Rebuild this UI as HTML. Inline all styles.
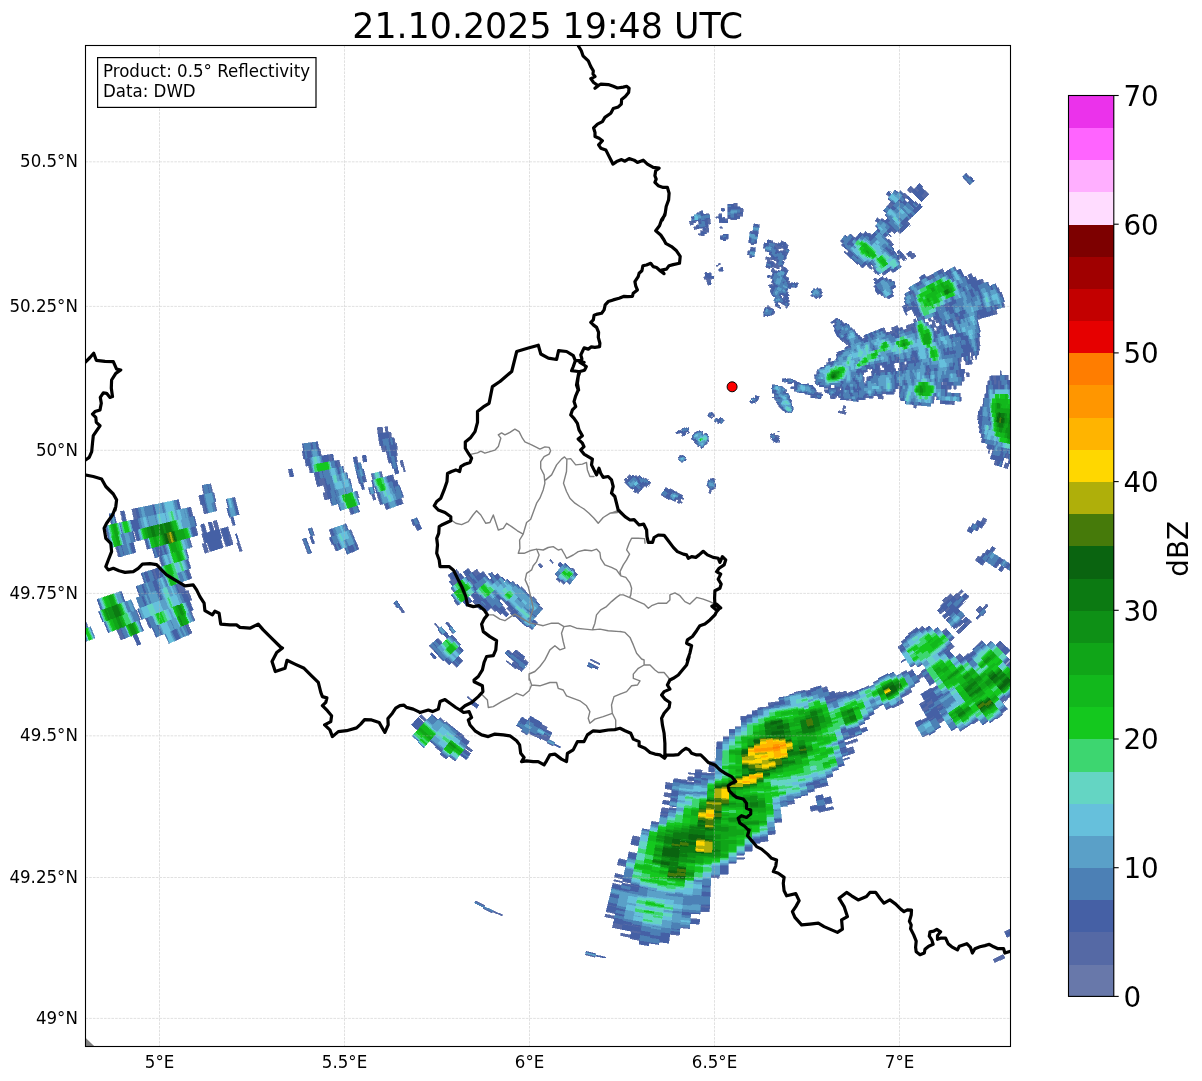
<!DOCTYPE html>
<html lang="en"><head><meta charset="utf-8"><title>0.5° Reflectivity 21.10.2025 19:48 UTC</title>
<style>html,body{margin:0;padding:0;background:#fff}svg{display:block}text{font-family:"DejaVu Sans","Liberation Sans",sans-serif;fill:#000}</style></head>
<body>
<div style="will-change:transform;width:1202px;height:1081px">
<svg width="1202" height="1081" viewBox="0 0 1202 1081">
<rect width="1202" height="1081" fill="#fff"/>
<defs><clipPath id="ax"><rect x="85.5" y="45.5" width="925" height="1001"/></clipPath></defs>
<g clip-path="url(#ax)">
<g id="radar" shape-rendering="crispEdges">
<path fill="#5569A5" stroke="#5569A5" stroke-width="0.6" d="M730.8 219.9l2.9 0 0-1.3-2.9 0zM733.7 219.9l2.9 0 .1-1.3-3 0zM733.8 206.9l3.2 0 .1-3.9-3.2 0zM736.7 218.6l2.9.1.1-1.3-3-.1zM736.8 216l2.9.1.2-2.6-3.1-.1zM739.7 216.1l3 .2.2-2.6-3-.2zM739.9 212.2l3.1.2.2-3.9-3.1-.2zM747.4 254.6l2.3.2.2-1.2-2.3-.3zM747.7 252l2.4.3.1-1.3-2.4-.3zM749.9 232.6l2.7.3.2-1.3-2.7-.3zM749.4 257.4l2.2.3.2-1.2-2.2-.4zM750.4 249.7l2.4.3.4-2.5-2.5-.4zM751.1 244.5l2.5.4.2-1.3-2.5-.4zM753.8 243.6l2.5.4.2-1.3-2.5-.4zM756.5 225.6l2.8.4.2-1.2-2.8-.5zM763.2 248l2.4.5.3-1.2-2.4-.6zM765 251.1l2.4.6.3-1.3-2.4-.6zM765.4 259.2l2.3.6.7-2.5-2.3-.6zM770 241.6l2.5.7.4-1.3-2.6-.7zM765.6 267.3l2.1.6.3-1.2-2.1-.6zM767 262.3l2.1.6 1.5-4.9-2.2-.7zM772.2 243.5l2.5.8.4-1.3-2.6-.7zM767.7 267.9l2 .7.4-1.3-2.1-.6zM769.5 261.7l2.2.7.4-1.3-2.2-.6zM770.3 259.2l2.2.7.8-2.5-2.3-.7zM773.9 246.7l2.5.8 1.2-3.7-2.5-.8zM770.1 267.3l2.1.7.4-1.2-2.1-.7zM771.7 262.4l2.2.7.4-1.3-2.2-.7zM772.5 259.9l2.2.7.4-1.2-2.2-.7zM775.6 250l2.4.8 1.7-5-2.5-.8zM777.6 243.8l2.5.8.4-1.2-2.5-.9zM769.3 276.6l2 .7.4-1.2-2-.7zM771 271.7l2 .7 1.3-3.7-2.1-.7zM772.6 266.8l2.1.7 1.3-3.7-2.1-.7zM774.7 260.6l2.2.8.9-2.5-2.3-.7zM777.6 252l2.4.8.4-1.2-2.4-.8zM778.8 248.3l2.5.8.8-2.4-2.4-.9zM780.9 242.1l2.5.9.5-1.2-2.6-.9zM768.2 285.9l1.8.6.4-1.2-1.7-.7zM770.8 278.5l1.9.7.5-1.2-1.9-.7zM773.4 271.2l2.1.7.4-1.2-2-.8zM774.7 267.5l2.1.8 1.8-4.9-2.1-.8zM780.4 251.6l2.3.8.5-1.2-2.4-.9zM781.7 247.9l2.4.9.5-1.2-2.5-.9zM770.4 285.3l1.8.7.5-1.2-1.8-.7zM771.4 282.9l1.8.7.5-1.3-1.9-.7zM775.5 271.9l2 .8.4-1.2-2-.8zM776.8 268.3l2.1.8 1.4-3.7-2.1-.8zM783.2 251.2l2.4.9.9-2.4-2.4-.9zM785 246.3l2.5 1 .9-2.4-2.5-1zM769.8 292l1.7.7 1.5-3.6-1.7-.7zM772.2 286l1.8.7 1-2.4-1.8-.7zM779.9 266.6l2.1.9.4-1.2-2.1-.9zM782.7 259.4l2.2.9.5-1.2-2.2-.9zM784.6 254.5l2.3 1 1-2.4-2.3-1zM763 313.1l1.3.5 1.1-2.4-1.4-.5zM765 308.3l1.4.6.5-1.2-1.4-.6zM781 269.9l2 .9 1.6-3.6-2.2-.9zM763.3 316l1.2.5.6-1.1-1.3-.6zM766.9 307.7l1.4.6 1.1-2.4-1.4-.6zM768.3 308.3l1.4.6.5-1.2-1.4-.6zM784.5 272.8l2 1 .5-1.2-2-.9zM785.6 270.5l2 .9.6-1.1-2.1-1zM769.7 308.9l1.3.7.6-1.2-1.4-.7zM784.8 277.3l1.9.9.6-1.1-1.9-1zM786.7 278.2l1.9 1 .6-1.2-1.9-.9zM772.4 310.3l1.3.7.7-1.2-1.4-.7zM774.8 305.7l1.4.7.6-1.1-1.4-.8zM779.6 296.5l1.6.8.6-1.1-1.6-.9zM786.8 282.6l1.8 1 1.3-2.3-1.9-1zM771.9 314.4l1.2.7 2-3.4-1.4-.7zM776.2 306.4l1.4.8.7-1.1-1.5-.8zM780.6 298.4l1.5.9.6-1.1-1.5-.9zM782.4 295l1.6.9.7-1.1-1.7-.9zM788.6 283.6l1.8 1 .7-1.1-1.9-1zM778.3 306.1l1.4.8.6-1.1-1.4-.9zM780.2 302.7l1.5.8.6-1.1-1.5-.8zM782.1 299.3l1.5.9 2-3.4-1.6-.9zM785.9 292.5l1.7 1 .7-1.1-1.7-1zM788.5 288l1.7 1 .7-1.1-1.8-1zM779 308l1.4.8.7-1.1-1.4-.8zM781.7 303.5l1.4.9.7-1.1-1.5-.9zM786.9 294.6l1.6 1 .7-1.1-1.6-1zM793.5 283.4l1.8 1.1.7-1.1-1.8-1.1zM783.1 304.4l1.4.9.7-1.1-1.4-.9zM787.2 297.8l1.5.9.7-1-1.5-1zM796 283.4l1.8 1.1.7-1.1-1.8-1.1zM785.3 307.3l1.3 1 .8-1.1-1.4-1zM787.4 304.1l1.5.9.7-1-1.5-1zM840.4 241.3l2.6 1.9.8-1-2.6-2zM841.4 245.3l2.5 1.9.8-1-2.5-2zM852 237l2.6 2.1.8-1-2.6-2.1zM886 194.2l3.4 2.8.8-1-3.3-2.8zM843.8 252.2l2.3 1.9.9-.9-2.4-2zM846.3 249.2l2.4 2 .8-1-2.4-2zM859.5 233.1l2.7 2.3.8-1-2.6-2.3zM810.6 295.6l1.6 1.4.9-1-1.6-1.4zM847.8 252.2l2.4 2 .8-1-2.3-2zM864.7 232.4l2.7 2.3.9-.9-2.7-2.4zM874.9 220.5l2.9 2.5.8-.9-2.9-2.6zM876.6 218.5l2.9 2.6.9-1-3-2.5zM887.6 205.7l3.1 2.7 3.5-3.9-3.2-2.8zM868.3 233.8l2.6 2.4.9-1-2.6-2.4zM881.2 219.1l2.9 2.7.9-1-2.9-2.6zM884.7 215.2l3 2.7.9-.9-3-2.7zM902 195.7l3.3 3 2.6-2.8-3.3-3.1zM907.2 189.9l3.4 3.1 3.5-3.9-3.5-3.1zM814.7 297.5l1.5 1.4.9-.9-1.5-1.5zM819.9 291.7l1.7 1.6.9-1-1.7-1.5zM911.5 192l3.3 3.2.9-1-3.4-3.1zM914.1 189.1l3.4 3.2 1.8-1.9-3.4-3.2zM918.5 184.3l3.5 3.3.9-.9-3.5-3.3zM818 297l1.6 1.5.9-.9-1.6-1.5zM819.8 295.1l1.6 1.6.9-.9-1.6-1.6zM921.1 188.6l3.5 3.3.9-.9-3.5-3.4zM855.1 262.4l2.2 2.2.9-.9-2.2-2.2zM889.8 227.2l2.8 2.8.9-1-2.8-2.7zM914.5 202.1l3.2 3.2.9-.9-3.2-3.2zM920.9 195.6l3.3 3.3 4.7-4.5-3.4-3.4zM887.9 234.5l2.7 2.8.9-.9-2.6-2.8zM891.7 230.9l2.7 2.8 1.9-1.8-2.8-2.9zM860.4 265.9l2.1 2.2.9-.8-2.1-2.3zM887.7 239.9l2.6 2.8 1-.9-2.6-2.8zM897.2 231l2.7 2.9 1-.9-2.8-2.9zM905.7 222.9l2.8 3.1 2-1.8-2.9-3.1zM866.3 264.6l2.1 2.4 1-.9-2.1-2.3zM889.3 243.6l2.5 2.7 2-1.7-2.5-2.8zM965.3 174.1l3.7 4.1.9-.9-3.6-4.1zM868.4 267l2.1 2.4 2-1.7-2.1-2.4zM871.3 264.4l2.2 2.5.9-.9-2.1-2.4zM966 180.8l3.6 4.1 1-.9-3.6-4.1zM872.5 267.7l2 2.5 1-.9-2-2.4zM873.5 271l2 2.5 1-.8-2-2.5zM896.6 252l2.4 2.9 1-.8-2.4-2.9zM898.6 250.3l2.4 3 1-.8-2.4-3zM901 253.3l2.3 2.9 1-.8-2.3-2.9zM873.4 279.2l1.8 2.4 2.1-1.5-1.9-2.5zM881.6 272.8l2 2.7 2.1-1.6-2-2.6zM901.2 257.8l2.3 3 3.1-2.3-2.3-3.1zM906.4 253.9l2.3 3 1-.8-2.3-3zM908.5 252.3l2.3 3.1 2.1-1.6-2.4-3.1zM881.5 277l1.9 2.6 1.1-.7-2-2.7zM890.9 270.1l2 2.7 1.1-.7-2-2.8zM909.7 256.1l2.3 3.2 4.2-3.1-2.3-3.2zM873.9 286.4l1.7 2.5 1.1-.7-1.8-2.5zM885.5 278.1l1.9 2.7 1.1-.7-1.9-2.7zM889.5 279.3l1.9 2.8 1.1-.7-1.9-2.8zM830.7 322.2l1.1 1.7 1.1-.7-1.1-1.7zM832.9 320.8l1.1 1.7 1.1-.7-1.2-1.7zM836.1 318.6l1.2 1.9 1.1-.7-1.2-1.9zM876.2 292.1l1.6 2.6 1.1-.7-1.6-2.6zM834 322.5l1.1 1.8 1.1-.7-1.1-1.8zM880 293.3l1.6 2.6 1.2-.7-1.7-2.6zM832.9 325.7l1.1 1.7 1.1-.6-1.1-1.8zM840.7 320.9l1.1 1.9 1.1-.6-1.1-1.9zM882.8 295.2l1.5 2.6 1.2-.6-1.6-2.7zM841.8 322.8l1.1 2 1.1-.7-1.1-1.9zM886.6 296.5l1.5 2.7 1.2-.6-1.6-2.8zM891.1 293.9l1.6 2.8 1.1-.7-1.6-2.8zM919.1 277.4l1.8 3.3 1.2-.7-1.9-3.3zM923.6 274.8l1.9 3.3 1.1-.6-1.9-3.4zM908.5 287.7l1.7 3.1 1.1-.6-1.7-3.1zM917.6 282.6l1.7 3.2 2.3-1.2-1.8-3.3zM927.7 276.8l1.9 3.5 4.6-2.5-1.9-3.5zM940.2 269.8l2 3.7 2.3-1.3-2-3.7zM910.2 290.8l1.7 3.1 1.1-.6-1.7-3.1zM946.8 271l2 3.7 1.1-.6-2-3.7zM953.6 267.3l2.1 3.8 1.1-.6-2-3.9zM911.9 293.9l1.5 3.2 2.4-1.2-1.6-3.2zM948.8 274.7l1.9 3.8 1.1-.5-1.9-3.9zM850.7 328.3l1 2.1 1.1-.6-1-2.1zM852.8 329.8l1 2.1 1.2-.5-1-2.1zM902.1 306.4l1.4 3 1.1-.6-1.3-3zM905.6 304.7l1.4 3 1.2-.5-1.4-3zM965.5 276.2l1.8 4.1 1.2-.5-1.9-4.1zM967.8 275.1l1.9 4.1 1.2-.5-1.9-4.2zM970.1 274l2 4.1 1.2-.5-2-4.2zM839.6 338.4l.9 1.9 1.2-.5-.9-1.9zM905.8 308.3l1.4 3 3.5-1.5-1.3-3.1zM974.4 277.1l1.9 4.2 1.2-.5-1.9-4.3zM841.7 339.8l.8 1.9 2.4-1-.9-2zM856 333.6l.9 2.1 1.2-.5-1-2.2zM904.8 312.4l1.3 3 1.2-.5-1.3-3.1zM911.9 309.3l1.4 3.1 1.2-.5-1.4-3.2zM979.9 279.8l1.8 4.3 2.4-1-1.8-4.4zM843.7 341.2l.8 1.9 2.4-.9-.8-2zM858.1 335.2l.9 2.2 1.2-.4-.9-2.3zM913.3 312.4l1.2 3.2 1.2-.5-1.2-3.2zM916.9 310.9l1.3 3.2 1.2-.4-1.3-3.3zM845.7 342.7l.7 1.9 2.5-.9-.8-2zM860.2 337l.8 2.2 1.2-.5-.8-2.2zM863.8 335.5l.9 2.3 1.2-.4-.9-2.3zM881.9 328.4l1 2.6 2.4-.9-1-2.6zM915.7 315.1l1.3 3.2 2.4-.9-1.2-3.3zM944.8 303.7l1.4 3.7 3.6-1.4-1.4-3.7zM847.6 344.2l.8 2 1.2-.4-.7-2.1zM862.2 338.7l.9 2.3 2.4-.9-.8-2.3zM870.7 335.6l.9 2.4 1.2-.4-.8-2.5zM884.1 330.6l1 2.6 1.2-.4-1-2.7zM891.4 327.8l1 2.8 6.1-2.1-1-2.9zM913.3 319.7l1.2 3.1 2.4-.8-1.2-3.2zM920.6 316.9l1.2 3.3 2.4-.8-1.2-3.4zM997.3 288.3l1.7 4.7 1.2-.5-1.7-4.6zM844.7 347.5l.7 2 1.2-.4-.7-2zM847.2 346.6l.6 2 2.5-.8-.7-2zM887.5 332.4l1 2.7 7.3-2.5-.9-2.8zM901 327.6l1 3 1.2-.5-1-2.9zM905.9 325.9l1 3 7.4-2.5-1.1-3.1zM927.9 318.1l1.2 3.4 2.5-.8-1.2-3.5zM932.8 316.3l1.2 3.6 1.2-.5-1.2-3.5zM1000.2 292.5l1.6 4.7 1.2-.4-1.6-4.7zM836.8 352.3l.6 1.9 1.2-.4-.6-1.9zM894.6 333l.9 2.9 2.5-.8-.9-2.9zM904.5 329.7l.9 3 6.2-1.9-1-3.1zM913.1 326.9l1 3.1 2.5-.8-1.1-3.2zM926.6 322.3l1.1 3.4 1.3-.4-1.1-3.4zM931.6 320.7l1.1 3.5 2.4-.8-1.1-3.5zM935.2 319.4l1.2 3.6 2.5-.8-1.2-3.6zM938.9 318.2l1.2 3.6 1.2-.4-1.1-3.6zM836.1 354.6l.6 1.8 1.2-.4-.5-1.8zM839.8 353.4l.6 1.9 1.2-.4-.5-1.9zM914.1 330l1 3.2 2.4-.7-.9-3.3zM931.4 324.6l1.1 3.4 3.7-1.1-1.1-3.5zM938.9 322.2l1.1 3.6 1.2-.3-1.1-3.7zM955 317.1l1.1 3.9 3.8-1.1-1.2-3.9zM1002.1 302.3l1.4 4.7 1.2-.3-1.4-4.8zM828 358.9l.4 1.7 2.5-.7-.4-1.7zM936.2 326.9l1 3.6 2.5-.7-1-3.6zM947.4 323.6l1.1 3.8 5-1.4-1.1-3.8zM977.3 314.8l1.2 4.3 2.5-.7-1.2-4.4zM992.3 310.4l1.2 4.5 3.8-1-1.3-4.6zM828.4 360.6l.5 1.7 1.2-.3-.4-1.7zM934.7 331.2l1 3.5 2.5-.6-1-3.6zM944.7 328.4l1 3.7 1.3-.3-1-3.7zM952.2 326.3l1.1 3.9 1.2-.3-1-3.9zM826.4 363l.4 1.6 2.5-.6-.4-1.7zM831.4 361.7l.4 1.7 1.3-.3-.4-1.8zM933.2 335.4l.8 3.5 1.3-.3-.9-3.5zM955.8 329.5l.9 4 1.3-.4-1-3.9zM824.3 365.2l.3 1.6 1.3-.3-.4-1.6zM977.5 337.4l.8 4.3 1.3-.2-.8-4.3zM816.4 371.7l.2 1.5 1.3-.3-.3-1.4zM895.4 357.1l.5 2.8 2.6-.4-.5-2.9zM912 354l.5 3.1 1.3-.2-.5-3.1zM977.1 342l.7 4.2 2.6-.4-.8-4.3zM782.1 378.9l.1.9 1.3-.2-.1-.9zM784.7 378.5l.1.9 1.3-.2-.2-.9zM876.7 363.1l.4 2.5 3.9-.5-.4-2.6zM894.6 360.1l.5 2.9 2.5-.4-.4-2.9zM911.3 357.3l.4 3.2 3.9-.6-.5-3.2zM948.4 351.1l.5 3.8 1.3-.2-.6-3.8zM782.2 379.8l.2.9 1.2-.2-.1-.9zM787.4 379l.1 1 3.9-.5-.2-1zM814.3 375l.2 1.4 1.3-.1-.2-1.5zM868.1 367l.4 2.3 2.5-.3-.3-2.4zM878.4 365.4l.4 2.6 1.2-.2-.3-2.5zM882.2 364.9l.4 2.6 1.3-.2-.4-2.6zM892.5 363.3l.4 2.8 1.3-.1-.4-2.8zM898.9 362.4l.4 2.9 1.3-.2-.4-2.9zM902.8 361.8l.4 3 1.3-.2-.4-3zM914.3 360.1l.5 3.2 1.2-.2-.4-3.2zM968.2 352.1l.6 4.1 1.2-.2-.5-4.1zM970.8 351.7l.5 4.1 2.6-.3-.6-4.2zM977.2 350.7l.6 4.3 1.2-.2-.5-4.3zM782.4 380.7l.1.8 1.3-.1-.2-.9zM865.9 369.7l.3 2.3 1.3-.1-.3-2.4zM872.3 368.8l.3 2.5 1.3-.2-.3-2.4zM878.8 368l.3 2.6 1.2-.2-.3-2.6zM883.9 367.3l.3 2.7 1.3-.2-.3-2.6zM892.9 366.1l.3 2.8 1.3-.1-.3-2.8zM899.3 365.3l.4 2.9 1.3-.1-.4-3zM901.9 365l.3 2.9 5.2-.6-.4-3zM958.5 357.5l.4 4 2.6-.3-.5-4zM963.6 356.8l.5 4.1 1.3-.2-.5-4zM968.8 356.2l.4 4.1 1.3-.2-.5-4.1zM971.3 355.8l.5 4.2 1.3-.1-.5-4.2zM975.2 355.3l.5 4.3 1.3-.2-.5-4.2zM783.8 381.4l.1.9 2.5-.3-.1-.9zM794.1 380.2l.1 1.1 1.3-.1-.2-1.1zM814.7 377.9l.1 1.4 1.3-.1-.1-1.5zM862.3 372.5l.2 2.2 1.3-.1-.2-2.3zM871.3 371.4l.3 2.5 1.3-.2-.3-2.4zM875.2 371l.3 2.5 1.2-.1-.2-2.6zM879.1 370.6l.2 2.5 6.5-.6-.3-2.7zM890.7 369.2l.2 2.8 1.3-.1-.3-2.8zM894.5 368.8l.3 2.8 1.3-.1-.3-2.9zM898.4 368.4l.3 2.9 1.3-.2-.3-2.9zM902.2 367.9l.4 3 2.5-.3-.3-3zM958.9 361.5l.4 3.9 1.3-.1-.4-4zM965.4 360.7l.4 4.1 2.6-.2-.4-4.2zM970.5 360.1l.5 4.2 1.2-.1-.4-4.2zM787.7 381.9l.1 1 1.3-.1-.1-1zM792.9 381.4l.1 1.1 3.8-.3 0-1.1zM871.6 373.9l.2 2.4 1.3-.1-.2-2.5zM927.1 368.5l.3 3.4 2.5-.2-.2-3.4zM959.3 365.4l.4 4 1.3-.1-.4-4zM787.8 382.9l.1 1 3.9-.3-.1-1zM798.1 382.1l.1 1.1 1.3-.1-.1-1.1zM814.9 380.8l.1 1.4 1.3-.1-.1-1.4zM862.7 377l.2 2.3 1.3-.1-.2-2.3zM866.6 376.7l.2 2.3 2.6-.1-.2-2.4zM926.1 372l.2 3.4 2.6-.2-.3-3.4zM957.1 369.6l.2 3.9 2.6-.1-.2-4zM963.5 369.1l.3 4 1.3-.1-.3-4zM772.4 384.8l0 .7 2.6-.1-.1-.8zM794.3 383.5l.1 1 1.3 0-.1-1.1zM815 382.2l.1 1.4 1.3 0-.1-1.5zM862.9 379.3l.1 2.3 1.3-.1-.1-2.3zM957.3 373.5l.2 3.9 2.6-.1-.2-3.9zM966.4 373l.2 4 2.6-.1-.2-4.1zM1000 370.9l.3 4.7 1.3-.1-.3-4.7zM794.4 384.5l0 1.1 1.3 0 0-1.1zM807.3 384l.1 1.3 1.3 0-.1-1.4zM816.4 383.6l.1 1.5 1.2-.1 0-1.5zM863 381.6l.1 2.2 1.3 0-.1-2.3zM865.6 381.4l.1 2.4 1.3-.1-.1-2.3zM904.4 379.7l.1 3 1.3 0-.1-3zM935.5 378.4l.1 3.5 1.3 0-.1-3.6zM962.7 377.2l.1 4 1.3 0-.1-4zM989.9 376l.1 4.5 1.3 0-.1-4.5zM992.5 375.9l.1 4.5 3.9-.1-.1-4.6zM1005.4 375.3l.2 4.8 2.6-.1-.2-4.8zM794.4 385.6l.1 1.1 1.2 0 0-1.1zM819 385l.1 1.5 1.3 0-.1-1.6zM904.5 382.7l.1 3.1 1.3-.1-.1-3zM940.8 381.8l.1 3.6 1.3 0-.1-3.6zM943.4 381.7l.1 3.7 3.8 0 0-3.8zM960.2 381.3l.1 4 1.3 0-.1-4zM987.5 380.6l0 4.4 1.3 0-.1-4.5zM993.9 380.4l.1 4.6 2.6-.1-.1-4.6zM997.8 380.3l.1 4.6 2.6 0-.1-4.7zM1009.5 380l0 4.8 2.6 0 0-4.9zM1013.4 379.9l0 4.9 1.3 0 0-4.9zM793.2 386.7l0 1.1 1.2 0 .1-1.1zM826.8 386.4l0 1.7 1.3 0 0-1.7zM829.4 386.4l0 1.7 1.3 0 0-1.7zM839.8 386.3l0 1.9 2.6 0 0-1.9zM846.3 386.3l0 1.9 1.3.1 0-2.1zM857.9 386.2l0 2.1 1.3.1 0-2.3zM896.8 385.8l0 2.9 1.3 0 0-2.9zM899.4 385.8l0 2.9 1.3 0 0-2.9zM946 385.4l0 3.7 3.9 0 0-3.7zM953.8 385.3l0 3.9 2.6 0 0-3.9zM986.2 385l0 4.5 1.3 0 0-4.5zM997.9 384.9l0 4.7 2.5 0 .1-4.7zM790.6 387.8l-.1 1 5.2.1 0-1.1zM837.2 388.2l0 1.8 2.6.1 0-1.9zM841.1 388.2l0 1.9 1.2 0 .1-1.9zM894.2 388.7l0 2.8 1.2 0 .1-2.8zM899.4 388.7l-.1 2.9 1.3.1.1-3zM946 389.1l0 3.7 1.2.1.1-3.8zM986.2 389.5l-.1 4.4 1.3 0 .1-4.4zM1014.7 389.7l-.1 4.9 1.3.1.1-5zM771.1 388.3l0 .6 1.3.1 0-.7zM794.4 388.9l0 1.1 1.3 0 0-1.1zM815.2 389.4l-.1 1.5 1.3 0 0-1.4zM824.2 389.7l0 1.6 2.5.1.1-1.7zM837.2 390l-.1 1.8 3.9.2.1-1.9zM882.5 391.2l-.1 2.6 3.9.2.1-2.7zM892.9 391.4l-.2 2.8 1.3.1.2-2.8zM958.9 393.2l-.2 3.9 1.3.1.2-4zM772.4 389l-.1.7 1.3.1.1-.7zM785.3 389.6l0 .9 1.3.1 0-1zM794.4 390l-.1 1 1.3.1.1-1.1zM815.1 390.9l-.1 1.4 1.3.1.1-1.5zM825.5 391.3l-.1 1.6 1.3.1 0-1.6zM837.1 391.8l-.1 1.8 1.3.1.1-1.8zM874.6 393.5l-.1 2.4 2.6.2.1-2.5zM881.1 393.7l-.1 2.6 1.3.1.1-2.6zM932.9 396l-.2 3.5 1.3.1.2-3.5zM983.3 398.2l-.2 4.4 1.3 0 .2-4.3zM772.3 389.7l0 .7 2.6.2 0-.7zM785.3 390.5l-.1.9 1.3.1.1-.9zM815 392.3l-.1 1.4 6.5.6.1-1.6zM835.7 393.6l-.1 1.8 1.3.1.1-1.9zM865.4 395.4l-.1 2.3 3.9.3.1-2.4zM871.9 395.8l-.2 2.4 1.3.1.2-2.4zM878.4 396.2l-.2 2.5 5.2.4.1-2.6zM900.4 397.5l-.3 2.9 1.3.1.2-2.9zM932.7 399.5l-.3 3.5 1.3.1.3-3.5zM940.4 400l-.2 3.6 2.5.2.3-3.7zM949.5 400.5l-.3 3.8 5.2.4.2-3.9zM774.9 390.6l-.1.7 1.3.2.1-.8zM783.9 391.3l-.1.9 1.3.1.1-.9zM804.6 392.9l-.1 1.3 1.3.1.1-1.3zM821.4 394.3l-.2 1.5 1.3.1.2-1.5zM830.4 395l-.1 1.7 6.4.6.2-1.8zM838.2 395.6l-.2 1.8 2.6.3.1-1.9zM864 397.6l-.2 2.3 1.3.1.2-2.3zM980.2 406.7l-.4 4.3 1.3.2.4-4.4zM785.1 392.3l-.1 1 1.3.1.1-.9zM810.9 394.8l-.1 1.4 5.1.6.2-1.5zM830.3 396.7l-.2 1.7 2.6.3.1-1.8zM834.1 397l-.2 1.8 1.3.2.2-1.8zM845.7 398.2l-.2 1.9 1.3.2.2-2zM848.3 398.4l-.2 2 1.3.2.2-2.1zM850.9 398.7l-.2 2 1.3.2.2-2.1zM857.3 399.3l-.2 2.2 1.3.1.2-2.2zM914.1 404.7l-.4 3.2 2.6.3.3-3.2zM787.6 393.5l-.1 1 1.3.2.1-1zM810.8 396.2l-.2 1.3 1.3.2.2-1.4zM814.6 396.6l-.1 1.5 2.5.3.2-1.5zM978 415.2l-.5 4.3 1.3.1.5-4.2zM772.1 392.5l-.1.7 1.3.2.1-.7zM774.5 393.6l-.1.7 1.3.2.1-.7zM979.4 424.1l-.7 4.3 1.3.2.7-4.3zM774.4 394.3l-.1.7 1.3.3.1-.8zM788.5 396.6l-.2 1 1.3.3.2-1zM843.4 405.8l-.3 2 2.5.4.4-2zM774.3 395l-.1.8 1.2.2.2-.7zM843.1 407.8l-.4 1.9 1.2.2.4-1.9zM981.7 433.4l-.8 4.3 1.3.3.8-4.4zM774.2 395.8l-.2.7 1.3.3.1-.8zM842.7 409.7l-.4 1.9 2.5.6.4-2zM982.2 438l-1 4.3 1.3.3.9-4.3zM775.3 396.8l-.2.7 1.2.3.2-.8zM790.4 400.1l-.2 1 1.3.3.2-1zM838.5 410.8l-.5 1.8 7.6 1.8.5-2zM987.5 443.7l-1 4.5 1.2.3 1.1-4.5zM992.6 444.9l-1.1 4.5 1.3.3 1-4.6zM772.6 396.9l-.2.7 3.8 1 .1-.8zM790.2 401.1l-.3 1 1.3.4.3-1.1zM989 448.8l-1.1 4.4 1.2.4 1.1-4.5zM992.8 449.7l-1.2 4.5 1.3.3 1.1-4.5zM1006.6 453l-1.2 4.8 2.5.6 1.2-4.8zM774.9 398.3l-.2.7 1.2.3.3-.7zM1009.1 458.7l-1.3 4.8 1.3.4 1.3-4.8zM774.7 399l-.2.7 1.2.4.2-.8zM995.4 460.1l-1.4 4.6 2.5.7 1.3-4.6zM1005.3 462.8l-1.4 4.8 3.7 1.1 1.5-4.8zM758.1 395.9l-.2.4 1.2.4.2-.4zM776.5 402l-.3.8 1.2.4.3-.8zM792.4 407.4l-.3 1 1.2.4.4-1zM755.5 395.5l-.2.4 1.2.4.2-.4zM757.9 396.3l-.2.5 1.3.4.1-.5zM777.4 403.2l-.2.8 1.2.5.3-.8zM757.7 396.8l-.1.4 1.2.5.2-.5zM778.4 404.5l-.3.8 1.2.4.3-.8zM779.3 405.7l-.4.8 1.2.5.4-.8zM755 396.7l-.2.3 1.2.6.2-.5zM757.4 397.6l-.2.5 1.2.5.2-.5zM780.1 407l-.3.9 2.3 1 .4-.9zM790.9 411.5l-.4 1 1.1.5.5-1zM754.8 397l-.1.4 3.5 1.6.2-.4zM782.1 408.9l-.3.9 1.1.5.4-.9zM788.1 411.5l-.5 1 1.2.5.5-1zM755.8 398l-.2.4 2.4 1.1.2-.5zM785.3 411.4l-.4.9 1.1.6.5-1zM754.5 397.8l-.2.4 1.1.6.2-.4zM756.8 398.9l-.2.5 1.2.5.2-.4zM753.1 397.6l-.2.4 1.2.6.2-.4zM983.4 517.7l-2.4 4.4 3.4 1.8 2.4-4.4zM756.2 400.2l-.3.4 1.2.7.2-.5zM977.6 520.2l-2.4 4.3 1.2.6 2.3-4.2zM983.3 523.3l-2.5 4.4 1.2.6 2.4-4.4zM754.8 400l-.2.4 2.2 1.3.3-.4zM978.6 526.4l-2.5 4.2 1.1.7 2.5-4.3zM755.7 401l-.2.4 1.1.7.2-.4zM969.4 526.7l-2.4 4.1 1.1.7 2.5-4.1zM992.2 546.3l-2.8 4.5 1.1.7 2.8-4.5zM994.4 547.6l-2.8 4.6 1 .7 2.9-4.6zM987.2 549.4l-2.9 4.4 1.1.7 2.9-4.4zM752.8 400.8l-.3.4 1.1.7.3-.4zM754.9 402.2l-.2.4 1 .8.3-.4zM983.2 553.1l-2.9 4.3 1 .8 3-4.4zM998.3 563l-3.2 4.6 1.1.7 3.2-4.6zM1003.6 566.6l-3.2 4.7 1.1.7 3.2-4.7zM752.5 401.2l-.2.3 1.1.8.2-.4zM978.2 556l-3 4.2 2.1 1.5 3-4.3zM984.5 560.3l-3.1 4.4 1.1.7 3.1-4.3zM753.4 402.3l-.3.3 1 .8.3-.4zM751 401.1l-.2.3 1 .8.2-.3zM750.3 402.1l-.3.3 1 .8.3-.3zM986.4 604l-3.8 4.3 1.9 1.7 3.9-4.4zM961.4 589.6l-3.6 4 1.9 1.7 3.6-4zM968.1 595.6l-3.7 4.1 1 .8 3.7-4.1zM979.7 605.8l-3.9 4.3 2.9 2.6 3.9-4.4zM985.5 610.9l-4 4.4 1 .8 3.9-4.4zM956.9 592.7l-3.7 3.9 3.8 3.5 3.7-3.9zM964.4 599.7l-3.7 3.9.9.9 3.8-4zM980.6 614.4l-4.1 4.3 1 .8 4-4.2zM778.3 430.8l-.8.8.9.9.8-.8zM950.4 593.9l-3.6 3.8 2.7 2.7 3.7-3.8zM999.8 640.7l-4.5 4.6.9.9 4.6-4.6zM1001.7 642.5l-4.5 4.6 3.6 3.6 4.6-4.7zM945.8 596.8l-3.7 3.7 2.7 2.7 3.8-3.7zM964.2 614.8l-4 4 .9.9 4-4zM966 616.6l-4 4 .9.9 4-4zM968.8 619.3l-4.1 4 2.7 2.8 4.1-4.1zM990.7 640.8l-4.4 4.5.9.9 4.5-4.5zM1009.1 658.8l-4.9 4.8.9.9 4.9-4.8zM1010.9 660.6l-4.9 4.8.9.9 4.9-4.8zM943.9 602.3l-3.8 3.6.9 1 3.8-3.7zM948.4 606.9l-3.8 3.7 1.7 1.8 3.9-3.7zM962.9 621.5l-4.2 4 .9.9 4.2-4zM964.7 623.3l-4.2 4 .9 1 4.2-4zM981.8 640.7l-4.5 4.3.9.9 4.5-4.3zM777.7 435.1l-.8.7 1.7 1.9.9-.8zM941 606.9l-3.9 3.6.9.9 3.9-3.6zM942.8 608.7l-3.9 3.6 1.7 1.9 4-3.6zM946.3 612.4l-4 3.7.9 1 4-3.7zM948.1 614.3l-4 3.7.8 1 4.1-3.8zM949.9 616.2l-4.1 3.7.9 1 4-3.8zM957.8 624.5l-4.2 3.9.9 1 4.2-3.9zM960.5 627.3l-4.3 4 2.6 2.8 4.3-4zM774.2 433l-.8.7.9 1 .8-.8zM776 434.9l-.9.7 3.5 3.9.9-.8zM973.6 650.2l-4.7 4.1.9 1 4.6-4.2zM1012.6 692.6l-5.4 4.8.8 1 5.4-4.8zM773.4 433.7l-.8.7 2.5 3 .9-.8zM779.4 440.5l-.9.8.8 1 1-.9zM946 628.4l-4.3 3.6 1.7 2 4.3-3.7zM953.6 637l-4.4 3.8.8 1 4.5-3.8zM968.1 653.3l-4.7 4.1.8 1 4.7-4.1zM970.6 656.2l-4.7 4.1.8 1 4.8-4.1zM1005.5 695.5l-5.5 4.7 2.5 2.9 5.5-4.7zM771.8 433.4l-.8.7.8 1 .8-.7zM951.7 643.7l-4.5 3.8 2.4 3 4.6-3.8zM960 653.5l-4.7 3.9 3.3 4 4.8-4zM1006.7 708l-5.7 4.7.8 1 5.7-4.7zM776.7 441.1l-.9.8.8 1 .9-.8zM948 648.5l-4.6 3.7.8 1 4.6-3.7zM1001.8 713.7l-5.8 4.6.8 1 5.8-4.6zM770.9 435.8l-.8.7.8 1 .8-.7zM922.6 626.1l-4.2 3.3 1.5 2 4.3-3.3zM916.8 627.4l-4.2 3.1.7 1 4.3-3.1zM912.6 630.5l-4.3 3.1.7 1.1 4.3-3.2zM978.2 719l-5.9 4.2.8 1.1 5.8-4.3zM905.4 638.7l-4.4 3 .7 1.1 4.4-3zM925.7 668.3l-4.9 3.3.7 1.1 5-3.3zM930.1 674.6l-5.1 3.4 2.2 3.2 5.1-3.4zM937.4 685.2l-5.3 3.5.7 1 5.3-3.5zM965.7 726.3l-6 4 .7 1 6-4zM902.4 643.8l-4.5 2.9.7 1.1 4.5-2.9zM903.8 646l-4.6 2.9.7 1.1 4.6-3zM915.1 663.1l-4.8 3.1.7 1.1 4.8-3.2zM921.5 672.7l-5 3.2 2 3.3 5.1-3.3zM931.4 687.6l-5.3 3.4.7 1.1 5.3-3.4zM932.8 689.7l-5.3 3.5.7 1.1 5.3-3.5zM942 703.6l-5.6 3.6 1.4 2.2 5.6-3.7zM905.4 658.6l-4.7 3 .6 1.1 4.8-3zM912.3 669.4l-4.9 3.1.6 1.1 5-3.1zM919.2 680.2l-5.1 3.2.6 1.1 5.2-3.2zM929.6 696.4l-5.5 3.4.7 1.1 5.4-3.4zM931.6 699.7l-5.5 3.4 2 3.2 5.6-3.4zM942.6 716.9l-5.8 3.6 2 3.3 5.9-3.7zM906 670.3l-5 3 .7 1.1 5-3zM914.7 684.5l-5.2 3.1.7 1.1 5.2-3.1zM924.8 700.9l-5.5 3.3 1.3 2.2 5.5-3.3zM927.5 705.2l-5.6 3.4 1.9 3.3 5.7-3.4zM934.1 716.1l-5.7 3.5.6 1.1 5.8-3.5zM910.2 688.7l-5.4 3.1 1.9 3.3 5.4-3.1zM927.1 717.4l-5.9 3.3.7 1.1 5.8-3.3zM906.1 694l-5.4 3 .6 1.1 5.4-3zM921.9 721.8l-5.9 3.3.6 1.1 5.9-3.3zM928.2 732.9l-6.1 3.4.6 1.1 6.1-3.4zM902.5 700.3l-5.5 2.9 1.2 2.3 5.6-2.9zM897.6 704.4l-5.6 2.8.6 1.1 5.6-2.8zM1013.7 926.9l-9.5 4.8 1.1 2.3 9.5-4.8zM1016 931.4l-9.6 4.8.6 1.2 9.6-4.9zM878.3 679.7l-5.1 2.5.5 1.2 5.2-2.5zM891.5 706l-5.6 2.8.5 1.1 5.6-2.7zM1003.3 954.6l-10 4.6 1.6 3.4 10.1-4.6zM868.5 685.8l-5.2 2.3.5 1.2 5.3-2.4zM878.1 706.7l-5.6 2.5.5 1.2 5.6-2.5zM869.3 717.5l-5.8 2.3.4 1.2 5.9-2.3zM852.2 691.2l-5.3 2.1.4 1.2 5.4-2.1zM866.3 726.9l-6 2.3.5 1.2 6-2.3zM846 690.9l-5.4 1.9.9 2.4 5.4-1.9zM859.4 726.8l-5.9 2.2.4 1.2 6-2.2zM840.2 691.6l-5.3 1.8.8 2.5 5.4-1.9zM856.9 738.6l-6.2 2.1.8 2.4 6.2-2.1zM834.1 691l-5.4 1.7.4 1.2 5.4-1.7zM836.1 697.1l-5.4 1.7.7 2.5 5.5-1.8zM847.1 729.8l-6 1.9.3 1.2 6.1-1.9zM850.7 740.7l-6.2 2 .8 2.4 6.2-2zM852.8 746.7l-6.4 2.1 1.2 3.6 6.4-2zM854.4 751.6l-6.4 2 .4 1.3 6.4-2.1zM826.8 686.6l-5.2 1.6.7 2.5 5.3-1.6zM830.7 698.8l-5.5 1.7.7 2.4 5.5-1.6zM846.1 747.6l-6.4 1.9.4 1.2 6.3-1.9zM849.1 757.3l-6.5 2 .4 1.2 6.5-2zM815.6 687.2l-5.3 1.4.4 1.3 5.2-1.4zM810.7 689.9l-5.3 1.3.3 1.2 5.3-1.3zM832.8 775.2l-6.8 1.7.3 1.2 6.8-1.7zM805.1 690l-5.3 1.2.2 1.2 5.4-1.2zM827.8 784.3l-7 1.6.3 1.3 7-1.6zM831.9 801.7l-7.2 1.6.2 1.3 7.3-1.7zM833.4 807.9l-7.4 1.7.3 1.2 7.4-1.7zM799.8 691.2l-5.4 1.1.3 1.2 5.3-1.1zM820.2 783.4l-6.9 1.5.3 1.2 6.9-1.4zM820.8 785.9l-7 1.5.3 1.2 7-1.4zM826 809.6l-7.4 1.5.3 1.3 7.4-1.6zM817.4 804.9l-7.3 1.4.2 1.2 7.3-1.4zM818.1 808.6l-7.3 1.4.2 1.3 7.4-1.4zM779.3 701.4l-5.5.8.2 1.3 5.5-.8zM794.2 801.2l-7.2 1 .3 2.5 7.3-1zM773.8 702.2l-5.5.7.3 2.5 5.5-.7zM768.7 706.7l-5.6.6.1 1.2 5.7-.6zM781.7 820.8l-7.5.8.1 1.2 7.6-.8zM763.1 707.3l-5.6.4.1 1.3 5.6-.5zM775.3 833l-7.8.6.1 1.3 7.8-.7zM757.7 710.3l-5.6.4.1 1.3 5.6-.4zM768 840l-8 .5.1 1.3 8-.5zM746.6 716.1l-5.7.2 0 1.3 5.8-.2zM741.2 726.5l-6 .1 0 1.3 6-.1zM744.6 857.8l-8.2.1 0 1.3 8.2-.2zM735.2 729.2l-5.9 0 0 1.2 6 0zM729.2 736.8l-6.1-.1 0 1.3 6.1.1zM723 741.8l-6.2-.2-.1 1.3 6.2.2zM719.5 875.5l-8.6-.3-.1 2.6 8.6.3zM715.9 762l-6.6-.3-.2 3.8 6.6.3zM715.6 767.1l-6.6-.3-.1 1.2 6.7.4zM715.4 773.5l-6.8-.4-.1 1.3 6.8.4zM709.6 905.7l-9.1-.5-.1 2.6 9.1.4zM709.4 910.8l-9.2-.5-.1 1.3 9.2.4zM708.6 773.1l-6.7-.4-.1 1.2 6.7.5zM699.7 919.2l-9.3-.7-.1 1.3 9.3.6zM702.1 770.1l-6.7-.5-.3 2.5 6.8.6zM701.1 782.8l-6.9-.6-.2 1.3 7 .6zM689.7 927.4l-9.5-.8-.1 1.2 9.5.8zM695 773.4l-6.7-.7-.2 1.2 6.8.7zM694.7 777.2l-6.9-.7-.1 1.2 6.8.7zM694.4 779.7l-6.8-.7-.2 1.3 6.9.7zM694.2 782.2l-6.9-.7-.2 1.3 6.9.7zM679.5 934.1l-9.5-1-.2 1.3 9.6 1zM687.4 780.3l-6.9-.9-.1 1.3 6.9.8zM680.5 779.4l-6.8-.9-.2 1.2 6.9 1zM676.7 808.5l-7.3-1-.2 1.2 7.3 1.1zM672.9 783.5l-6.9-1.1-.4 2.5 7 1.1zM672.2 788.6l-7-1.1-.2 1.2 7 1.1zM671.4 793.6l-7.1-1.1-.6 3.8 7.2 1.1zM670.3 801.2l-7.2-1.2-.2 1.3 7.2 1.1zM669.2 808.7l-7.4-1.1-.6 3.7 7.4 1.2zM668.4 813.8l-7.4-1.2-.5 2.5 7.5 1.2zM715.6 486.6l-1.7-.3-.5 2.5 1.8.3zM659.3 822.6l-7.6-1.3-.3 1.3 7.7 1.3zM641.8 926.7l-9.4-1.7-.2 1.3 9.4 1.6zM641 931.7l-9.5-1.7-.5 2.5 9.6 1.7zM639.7 939.2l-9.6-1.7-.2 1.2 9.6 1.7zM715.3 478.7l-1.6-.3-.3 1.2 1.7.3zM713.4 488.8l-1.8-.3-.2 1.2 1.8.4zM639.6 886.3l-8.7-1.6-.3 1.2 8.8 1.7zM632.4 925l-9.4-1.8-.2 1.3 9.4 1.8zM630.6 935l-9.6-1.8-.5 2.5 9.6 1.8zM713.7 478.4l-1.6-.4-.3 1.3 1.6.3zM711.4 489.7l-1.8-.4-.9 3.8 1.9.4zM640.5 837.3l-7.8-1.6-.8 3.7 7.9 1.7zM639 844.8l-8-1.7-.3 1.3 8.1 1.6zM637.2 853.5l-8.1-1.7-.3 1.3 8.2 1.7zM631.4 882.2l-8.6-1.8-.3 1.2 8.6 1.8zM630.9 884.7l-8.7-1.9-.3 1.3 8.7 1.8zM622.8 924.5l-9.4-2-1.1 5 9.5 1.9zM710.1 486.8l-1.7-.4-.3 1.3 1.8.4zM627.2 860.5l-8.3-1.9-.3 1.3 8.3 1.8zM626.3 864.2l-8.3-1.9-.6 2.5 8.4 1.9zM623.9 875.4l-8.6-2-.3 1.3 8.6 1.9zM623.3 877.9l-8.6-2-.3 1.3 8.6 1.9zM622.5 881.6l-8.7-2-.2 1.3 8.6 1.9zM621.7 885.3l-8.7-2-.3 1.3 8.7 2zM617 906.4l-9.1-2.1-.3 1.3 9.1 2zM615.6 912.6l-9.2-2.1-.3 1.2 9.2 2.1zM614.8 916.3l-9.3-2.1-.6 2.5 9.3 2.1zM724.4 419.9l-.6-.1-.3 1.2.6.2zM709.9 480.2l-1.6-.4-.3 1.2 1.6.4zM708.7 485.2l-1.7-.4-.3 1.2 1.7.4zM595.5 956.1l-10-2.4-.3 1.2 10 2.5zM723.8 419.8l-.5-.2-.7 2.5.6.2zM721.6 423.2l-.6-.2-.4 1.2.6.2zM721 418.9l-.5-.2-.5 1.2.6.3zM720.9 417.5l-.5-.2-.5 1.2.6.2zM719.1 422.4l-.6-.3-.5 1.2.7.3zM718.5 422.1l-.6-.2-.5 1.2.6.2zM718.9 419.5l-.6-.2-.5 1.1.6.3zM718.3 419.3l-.5-.3-.6 1.2.6.2zM709 440.6l-.9-.4-.5 1.1.9.5zM683.8 498.5l-1.9-.8-.6 1.1 2 .9zM682.2 502.1l-2-.9-.5 1.2 2 .9zM502.5 914.8l-9.2-4.1-.5 1.2 9.2 4zM707 442.5l-.9-.4-1.1 2.3 1 .5zM682.9 495.3l-1.9-.9-.5 1.2 1.9.9zM681.3 498.8l-1.9-.9-2.2 4.7 2 .9zM492.8 911.9l-9.2-4.2-.5 1.1 9.1 4.2zM716.1 421.1l-.6-.3-.6 1.2.6.3zM708.9 436.2l-.9-.4-.6 1.2.9.4zM703.8 446.7l-1-.5-.6 1.2 1.1.5zM681 494.4l-1.8-.9-.6 1.2 1.9.9zM678.8 499.1l-1.9-.9-.6 1.1 2 1zM600.2 663.7l-4.9-2.3-.5 1.1 4.8 2.4zM598.5 667.2l-4.9-2.4-.5 1.2 4.9 2.3zM484.7 905.4l-9-4.4-.6 1.2 9.1 4.3zM679.2 493.5l-1.9-.9-.6 1.1 1.9 1zM675.7 500.5l-2-1-.5 1.1 1.9 1zM595.3 661.4l-4.7-2.4-.6 1.1 4.8 2.4zM553.6 744.9l-6.2-3.1-.6 1.1 6.3 3.2zM715.5 419.4l-.5-.3-1.3 2.2.6.4zM707.8 434.3l-.9-.5-.6 1.2.9.4zM552.1 732.7l-6-3.2-.6 1.2 6 3.1zM549.8 737.2l-6.1-3.2-2.5 4.5 6.2 3.3zM547.3 727.3l-5.9-3.3-1.9 3.4 6 3.3zM541.8 737.4l-6.1-3.4-1.2 2.3 6.1 3.3zM706.1 433.4l-.8-.5-.6 1.1.8.5zM699.1 445.7l-1-.6-.7 1.2 1.1.6zM673.7 490.6l-1.8-1-.7 1.1 1.8 1.1zM669.2 498.5l-1.9-1.1-.7 1.1 2 1.1zM535.1 735.2l-6.1-3.5-.6 1.1 6.1 3.5zM671.9 489.6l-1.8-1.1-.7 1.1 1.8 1.1zM669.9 492.9l-1.8-1.1-1.4 2.2 1.9 1.1zM667.3 497.4l-1.9-1.2-.7 1.1 1.9 1.2zM527.7 733.9l-6-3.6-.7 1.1 6.1 3.6zM715.3 414.8l-.4-.3-1.4 2.2.5.3zM669.4 489.6l-1.8-1.1-.7 1.1 1.8 1.1zM665.4 496.2l-1.9-1.2-.7 1.1 1.9 1.2zM713.5 416.7l-.5-.3-.8 1 .6.4zM697.5 441.7l-1-.6-1.4 2.2 1 .6zM667.6 488.5l-1.7-1.1-.7 1.1 1.7 1.1zM663.5 495l-1.9-1.2-.7 1.1 1.9 1.2zM714.4 414.2l-.5-.3-1.4 2.1.5.4zM712.2 417.4l-.5-.3-.7 1 .5.4zM695.8 442.2l-.9-.6-.8 1 1 .7zM683 461.6l-1.3-.9-.7 1.1 1.3.9zM711.7 417.1l-.5-.4-.7 1.1.5.3zM695.6 440.5l-.9-.6-.8 1 1 .7zM713.5 413.6l-.5-.4-1.5 2.1.5.4zM711.2 416.7l-.5-.4-.8 1.1.6.4zM694.7 439.9l-.9-.7-.8 1 .9.7zM683.4 455.6l-1.2-.8-.7 1 1.2.9zM472.9 750.3l-6.3-4.6-1.6 2.1 6.4 4.5zM470.7 753.4l-6.4-4.6-.8 1 6.4 4.6zM713 413.2l-.4-.3-.8 1 .4.4zM711.5 415.3l-.5-.4-1.6 2.1.5.4zM699.9 430.9l-.7-.6-.8 1 .7.6zM681.5 455.8l-1.2-.9-1.6 2 1.2 1zM528.3 662.4l-4.8-3.5-.8 1 4.8 3.6zM522.9 669.7l-4.9-3.7-1.5 2 4.9 3.7zM469.6 741.6l-6.2-4.6-.7 1 6.1 4.6zM455.9 760.1l-6.5-4.9-.8 1 6.6 4.9zM710.2 416l-.5-.4-.8 1 .5.4zM692.9 438.5l-.9-.7-.8 1 .9.7zM523.5 658.9l-4.7-3.7-.8 1 4.7 3.7zM518.8 665l-4.8-3.8-1.6 2 4.8 3.8zM516.5 668l-4.9-3.8-.8 1 4.9 3.8zM464.2 736l-6.1-4.7-.8 1 6.1 4.7zM447.1 758.3l-6.5-5-.8 1 6.5 5zM696 432.8l-.8-.7-.8 1 .8.7zM693.6 435.8l-.9-.7-.8 1 .9.7zM520.4 653.2l-4.7-3.7-.8 1 4.7 3.7zM518.8 655.2l-4.7-3.7-1.6 1.9 4.7 3.8zM511.6 664.2l-4.9-3.8-.8 1 4.9 3.8zM442.2 751.3l-6.3-5.1-.9 1 6.4 5.1zM577.8 574.3l-3.2-2.8-.8 1 3.2 2.7zM512.5 653.4l-4.7-3.8-.8 1 4.6 3.8zM473.3 700.8l-5.5-4.5-.8 1 5.5 4.5zM452.1 726.5l-5.9-4.9-.8 1 5.9 4.9zM710.4 412.8l-.5-.4-2.5 2.9.5.5zM650.8 482.5l-1.7-1.4-.8.9 1.6 1.5zM649.1 484.5l-1.7-1.5-2.6 2.9 1.8 1.5zM575.4 570.6l-3.2-2.8-.8 1 3.2 2.7zM564.6 583.3l-3.4-3-.9 1 3.4 2.9zM542.9 608.6l-3.9-3.3-.9 1 3.9 3.3zM445.4 722.6l-5.9-5.1-.8 1 5.9 5zM644.8 485.9l-1.7-1.5-1.7 1.9 1.7 1.5zM641.4 489.7l-1.8-1.5-3.4 3.8 1.8 1.6zM560.3 581.3l-3.4-3-.8.9 3.3 3zM647.5 479.6l-1.6-1.5-.9.9 1.6 1.6zM636.2 492l-1.9-1.7-.9.9 1.9 1.7zM558.7 576.4l-3.3-3.1-.9 1 3.3 3zM536.9 600l-3.7-3.4-.8 1 3.7 3.4zM519.6 619l-4.1-3.8-.8 1 4 3.7zM426.9 720l-5.8-5.4-1.8 1.9 5.8 5.3zM424.3 722.8l-5.9-5.4-.9.9 5.9 5.4zM689.5 432.3l-.8-.8-1.8 1.8.8.8zM645 479l-1.6-1.5-.9.9 1.6 1.6zM514.7 616.2l-4-3.8-.9.9 4 3.8zM688.7 431.5l-.8-.8-.9.9.8.8zM686 434.3l-.8-.8-1.9 1.8.9.8zM632.5 488.5l-1.7-1.7-.9.9 1.7 1.8zM512.5 610.5l-3.9-3.8-1.8 1.8 3.9 3.9zM508.9 614.2l-4-3.9-.9.9 4 3.9zM463 660.8l-4.8-4.7-.9.9 4.8 4.7zM457.6 666.3l-4.9-4.8-.9.9 4.9 4.8zM687 431.6l-.8-.8-1.8 1.8.8.9zM683.3 435.3l-.8-.9-.9.9.8.9zM640.9 476.9l-1.5-1.6-1.9 1.7 1.6 1.7zM553.5 562.6l-3-3.2-.9.9 3 3.2zM525.1 590.5l-3.5-3.6-1 .8 3.6 3.7zM509.5 605.8l-3.8-3.9-.9.9 3.8 3.9zM505.8 609.4l-3.8-4-1 .9 3.9 4zM502.2 613l-4-4.1-1.8 1.8 3.9 4.1zM689.1 428.2l-.8-.8-.9.9.7.8zM683.4 433.5l-.8-.8-.9.8.8.9zM637.5 477l-1.6-1.6-.9.8 1.6 1.7zM543 566.5l-3.1-3.3-1.9 1.7 3.2 3.4zM496.4 610.7l-3.9-4.1-1 .9 3.9 4.1zM461 644.3l-4.5-4.8-.9.9 4.4 4.7zM682.6 432.7l-.8-.9-.9.8.8.9zM635 476.2l-1.6-1.7-.9.9 1.5 1.7zM627.4 483.2l-1.7-1.8-1 .8 1.7 1.9zM516.2 584.9l-3.4-3.8-1 .9 3.4 3.8zM487.8 610.9l-3.9-4.3-1 .9 3.9 4.3zM456.5 639.5l-4.4-4.8-1 .8 4.5 4.9zM680.9 432.6l-.8-.9-1 .9.8.9zM631.5 476.2l-1.5-1.7-3 2.5 1.6 1.8zM627.6 479.7l-1.6-1.9-1.9 1.7 1.6 1.9zM481 609.2l-3.9-4.4-1 .8 3.9 4.4zM454 633l-4.2-4.9-1 .9 4.3 4.8zM442.5 643.2l-4.5-5.1-.9.8 4.4 5.1zM434.8 650l-4.6-5.2-1 .8 4.6 5.2zM684 428.4l-.7-.9-2 1.7.8.9zM681.1 430.9l-.8-.9-1 .8.8.9zM678.1 433.4l-.8-.9-1 .8.8 1zM483 599.8l-3.7-4.4-1 .9 3.7 4.3zM478.1 604l-3.8-4.5-2 1.7 3.8 4.4zM451.7 626.5l-4.2-4.9-1 .8 4.2 4.9zM679.3 430.8l-.7-.9-1.1.8.8.9zM677.3 432.5l-.8-1-1 .8.8 1zM501.1 577.5l-3.3-4.1-1 .8 3.3 4.1zM475.3 598.7l-3.7-4.5-1 .8 3.7 4.5zM471.3 602l-3.7-4.6-3 2.4 3.8 4.6zM439.6 628.1l-4.2-5.1-1 .8 4.2 5.1zM494.8 575.8l-3.3-4.1-1 .8 3.3 4.1zM458.5 604.6l-3.7-4.8-1.1.8 3.8 4.8zM486.4 575.6l-3.3-4.3-1 .8 3.3 4.3zM475.2 584.2l-3.5-4.5-2 1.5 3.4 4.5zM480 573.6l-3.2-4.4-4.2 3 3.3 4.4zM471.7 579.7l-3.3-4.6-2.1 1.5 3.4 4.6zM455.2 591.9l-3.6-4.8-1 .7 3.6 4.9zM471.5 572.9l-3.2-4.6-1 .8 3.2 4.5zM467.4 575.9l-3.3-4.6-1.1.7 3.3 4.6zM457.9 582.6l-3.4-4.8-4.2 2.9 3.4 4.9zM459.8 574.2l-3.2-4.8-4.3 2.8 3.3 4.9zM452.4 579.3l-3.3-4.9-1.1.7 3.3 4.9zM404.7 612l-3.9-5.7-2.1 1.4 3.9 5.7zM418.3 530.1l-2.5-5.5-1.2.5 2.5 5.5zM192.3 632.9l-4.3-9.4-2.3 1 4.3 9.5zM414.6 525.1l-2.4-5.5-1.2.5 2.4 5.5zM359.1 549.2l-2.8-6.5-1.2.5 2.8 6.6zM195.1 620.4l-4.1-9.3-1.2.5 4.1 9.3zM337.2 550.6l-2.8-6.9-1.2.5 2.8 6.9zM150.6 627.8l-4.2-10.2-1.2.5 4.3 10.1zM124.5 638.5l-4.4-10.5-3.6 1.4 4.5 10.6zM353.5 536.2l-2.5-6.6-1.3.4 2.6 6.6zM309.2 553.6l-2.9-7.4-1.2.5 2.9 7.4zM191.9 599.8l-3.8-9.5-2.4.9 3.8 9.5zM140.4 620l-4-10.3-1.2.4 4.1 10.3zM86.7 641.1l-4.5-11.2-1.2.4 4.5 11.3zM332.8 536.3l-2.5-6.9-1.3.4 2.6 7zM313.5 543.5l-2.7-7.3-1.2.5 2.7 7.3zM306.3 546.2l-2.8-7.4-1.2.4 2.8 7.5zM185.7 591.2l-3.5-9.5-6.1 2.2 3.6 9.6zM88.2 627.6l-4.2-11.2-1.2.5 4.2 11.2zM403.2 503.6l-2-5.8-1.3.5 2.1 5.7zM387.4 509.2l-2.1-6-1.3.4 2.2 6zM314.5 535l-2.6-7.3-1.2.4 2.5 7.3zM191.9 578.3l-3.4-9.4-1.2.4 3.3 9.4zM381.6 504.4l-2-6.1-1.3.4 2.1 6.1zM352.2 514.2l-2.2-6.6-1.2.4 2.2 6.6zM242.2 550.9l-2.8-8.5-2.5.8 2.9 8.5zM158 579.1l-3.4-10-2.4.7 3.4 10.1zM379.6 498.3l-2-6.2-1.2.4 1.9 6.2zM375.9 499.4l-2-6.2-2.5.7 2 6.3zM233.2 544.3l-2.7-8.7-2.5.8 2.8 8.7zM227.1 546.3l-2.8-8.8-1.2.3 2.8 8.8zM223.4 547.4l-2.8-8.8-1.2.3 2.8 8.9zM211.1 551.3l-2.9-9.1-1.2.4 2.9 9.1zM208.7 552.1l-2.9-9.2-3.7 1.1 2.9 9.2zM163.2 566.4l-3.1-9.9-1.3.3 3.2 10zM359.1 497.6l-1.9-6.5-1.3.3 1.9 6.6zM230.5 535.6l-2.6-8.7-1.3.3 2.6 8.8zM224.3 537.5l-2.6-8.9-1.3.4 2.7 8.8zM205.8 542.9l-2.8-9.1-1.2.3 2.7 9.2zM192.2 547l-2.8-9.4-1.3.3 2.8 9.4zM394.5 480.8l-1.6-5.9-1.3.3 1.6 5.9zM328.6 499l-2-7-3.7 1 1.9 7.1zM234.1 525.2l-2.4-8.7-1.3.3 2.4 8.7zM219.2 529.3l-2.5-8.9-3.7.9 2.5 9zM214.2 530.7l-2.5-9.1-1.2.4 2.5 9zM211.7 531.4l-2.5-9.1-1.2.3 2.5 9.1zM206.8 532.7l-2.6-9.1-1.2.3 2.5 9.2zM204.3 533.4l-2.6-9.2-1.2.3 2.5 9.3zM198.1 535.1l-2.6-9.3-1.3.4 2.6 9.3zM148.4 548.9l-2.8-10.2-1.3.3 2.9 10.2zM119.9 556.8l-3-10.7-1.3.4 3 10.6zM405.4 471.6l-1.5-5.7-1.3.4 1.5 5.7zM382.9 477.5l-1.6-6.1-1.3.3 1.6 6.1zM374.1 479.7l-1.6-6.2-1.3.3 1.7 6.2zM366.6 481.7l-1.6-6.4-1.3.3 1.7 6.4zM360.4 483.3l-1.7-6.5-1.3.3 1.7 6.5zM327.9 491.7l-1.9-7.1-2.5.6 1.9 7.1zM138.1 540.7l-2.7-10.4-1.3.3 2.7 10.4zM403.9 465.9l-1.4-5.7-2.5.6 1.4 5.8zM326 484.6l-1.7-7.1-6.3 1.4 1.8 7.2zM318.5 486.4l-1.7-7.2-1.3.3 1.8 7.2zM236.9 506l-2-8.7-1.3.3 2.1 8.7zM216.9 510.8l-2.2-9-1.3.3 2.2 9zM206.8 513.2l-2.2-9.2-2.5.6 2.2 9.2zM193 516.5l-2.2-9.4-1.3.3 2.3 9.4zM109.1 536.6l-2.7-10.8-1.2.2 2.6 10.9zM397.5 461.3l-1.3-5.8-1.2.3 1.2 5.8zM389.9 463l-1.3-6-1.2.3 1.3 6zM316.8 479.2l-1.6-7.2-1.3.2 1.6 7.3zM216 501.5l-2-9-1.3.3 2 9zM202.1 504.6l-2.1-9.3-1.2.3 2 9.3zM137.9 518.8l-2.3-10.4-3.8.8 2.3 10.4zM126.6 521.3l-2.4-10.5-1.3.2 2.4 10.6zM124 521.9l-2.3-10.6-1.3.2 2.4 10.6zM397.5 455.2l-1.2-5.8-1.3.2 1.2 5.9zM388.6 457l-1.2-5.9-1.3.2 1.3 6zM364.6 461.9l-1.3-6.4-1.3.3 1.3 6.4zM358.2 463.2l-1.3-6.5-1.3.2 1.4 6.6zM340.5 466.8l-1.4-6.8-2.5.5 1.4 6.8zM311.4 472.7l-1.5-7.3-1.3.2 1.5 7.4zM291.1 476.8l-1.5-7.6-1.3.2 1.6 7.7zM212.7 492.8l-1.9-9.1-1.2.3 1.8 9zM205.1 494.3l-1.9-9.2-1.2.3 1.8 9.2zM397.6 449.2l-1.1-5.9-1.3.3 1.1 5.8zM386.1 451.3l-1.1-6-3.8.6 1.1 6.1zM332.8 461.2l-1.3-7-3.8.6 1.3 7.1zM307.4 465.9l-1.4-7.4-1.3.2 1.4 7.4zM395.2 443.6l-.9-5.9-1.3.2 1 5.9zM381.2 445.9l-1-6.1-1.3.2 1 6.1zM321.3 455.9l-1.2-7.2-1.3.2 1.2 7.2zM304.7 458.7l-1.2-7.5-1.3.2 1.2 7.5zM391.7 438.1l-.9-6-2.5.4.9 5.9zM388.3 432.5l-.8-6-2.6.3.8 6zM383.1 433.1l-.7-6-5.2.5.8 6.2zM704.3 279.3l1.9-.4-.6-2.6-1.9.5zM690.3 225.2l2.8-.7-.9-3.8-2.9.7zM707.7 285.2l1.8-.4-1.7-7.6-1.9.4zM705 273.8l2-.4-.3-1.3-2 .5zM694.3 229.6l2.8-.7-.6-2.5-2.8.7zM692.8 223.3l2.9-.7-.3-1.3-2.9.7zM708.9 282.2l1.9-.4-.8-3.8-1.9.4zM698.5 235.3l2.7-.6-.3-1.2-2.7.5zM696.5 226.4l2.9-.6-.3-1.3-2.8.6zM710.3 279.3l1.9-.4-.3-1.2-1.9.3zM709.2 274.2l2-.4-.2-1.3-2 .4zM701.4 236l2.7-.5-.3-1.3-2.6.5zM700.7 232.2l2.7-.6-.3-1.2-2.7.5zM698.6 222l2.9-.6-.3-1.3-2.9.6zM712.2 278.9l1.8-.3-.2-1.3-1.9.4zM703.6 232.9l2.7-.5-.4-2.5-2.8.5zM699.8 212.5l3.1-.6-.2-1.3-3.1.6zM706.3 232.4l2.7-.4-.7-5.1-2.8.4zM707.9 224.3l2.8-.4-.7-5.2-2.9.5zM706.5 215.3l3-.4-.1-1.3-3.1.4zM716.3 266.4l2.1-.2-.1-1.3-2.1.3zM719 271.3l2.1-.2-.2-1.3-2 .3zM718.3 264.9l2.1-.2-.1-1.3-2.2.2zM720.8 268.5l2.1-.1-.1-1.3-2.1.1zM715.9 218.1l3-.3-.1-1.3-3 .3zM720.6 239.9l2.6-.2-.1-1.3-2.6.2zM720.4 237.3l2.7-.2-.1-1.3-2.7.2zM719.7 228.2l2.8-.2-.1-1.3-2.8.2zM719.3 223l2.9-.2-.1-1.3-2.9.2zM718.7 215.2l3-.2-.1-1.3-3 .2zM721.9 218.9l3-.2-.1-1.3-2.9.2zM721.4 209.8l3.1-.2-.1-1.3-3.1.2zM725.8 239.5l2.6-.1-.1-1.3-2.6.1zM725 221.3l2.9-.1-.1-2.6-2.9.1zM727.8 218.6l3 0 0-1.3-3 0z"/>
<path fill="#4560A5" stroke="#4560A5" stroke-width="0.6" d="M730.8 218.6l2.9 0 0-1.3-2.9 0zM730.7 209.5l3.1 0 .1-5.2-3.2 0zM733.7 218.6l3 0 .1-5.2-3 0zM733.8 209.5l3.1 0 .1-2.6-3.2 0zM736.7 217.3l3 .1 0-1.3-2.9-.1zM736.8 213.4l3.1.1 0-1.3-3-.1zM736.9 209.5l3.1.1.1-2.6-3.1-.1zM739.9 213.5l3 .2.1-1.3-3.1-.2zM747.6 253.3l2.3.3.2-1.3-2.4-.3zM748.7 242.9l2.6.3.6-5.1-2.6-.3zM749.8 233.9l2.6.3.2-1.3-2.7-.3zM749.6 256.1l2.2.4.2-1.3-2.3-.4zM750.2 251l2.4.3.2-1.3-2.4-.3zM751.3 243.2l2.5.4.2-1.3-2.6-.3zM752.4 234.2l2.7.4.6-3.9-2.7-.4zM753.5 226.5l2.8.4.4-2.6-2.9-.4zM751.8 256.5l2.3.3.2-1.3-2.3-.3zM752.6 251.3l2.4.4.6-3.9-2.4-.3zM754 242.3l2.5.4.4-2.6-2.6-.4zM754.9 235.9l2.7.4.8-5.1-2.7-.5zM756.3 226.9l2.8.4.2-1.3-2.8-.4zM763.5 246.7l2.4.6.9-3.8-2.5-.6zM766.2 246l2.5.6 1.6-6.3-2.6-.6zM767.4 251.7l2.3.6.4-1.2-2.4-.7zM769.7 242.9l2.5.6.3-1.2-2.5-.7zM765.9 266.1l2.1.6.4-1.3-2.1-.6zM766.6 263.6l2.2.6.3-1.3-2.1-.6zM769.1 254.8l2.3.7 1.1-3.8-2.4-.6zM771.1 247.3l2.5.7.3-1.3-2.4-.7zM768 266.7l2.1.6.4-1.2-2.1-.7zM768.8 264.2l2.1.7.8-2.5-2.2-.7zM771 256.7l2.3.7.7-2.5-2.3-.7zM773.2 249.2l2.4.8.8-2.5-2.5-.8zM767 277.2l1.9.7.8-2.5-1.9-.6zM770.5 266.1l2.1.7 1.3-3.7-2.2-.7zM772.9 258.7l2.2.7.8-2.5-2.2-.7zM774.4 253.7l2.4.8 1.2-3.7-2.4-.8zM777.2 245l2.5.8.4-1.2-2.5-.8zM775.5 258.2l2.3.7.8-2.4-2.2-.8zM777.2 253.2l2.3.8.5-1.2-2.4-.8zM779.7 245.8l2.4.9 1.3-3.7-2.5-.9zM771.3 277.3l1.9.7 2.3-6.1-2.1-.7zM776.5 262.6l2.1.8 1.4-3.7-2.2-.8zM780 252.8l2.3.9.4-1.3-2.3-.8zM782.1 246.7l2.5.9 1.8-4.9-2.5-.9zM769.5 287.7l1.8.7.9-2.4-1.8-.7zM771.8 281.6l1.9.7.9-2.4-1.9-.7zM775 273.1l2 .8.5-1.2-2-.8zM781.8 254.9l2.3.9 1.5-3.7-2.4-.9zM784.1 248.8l2.4.9 1-2.4-2.5-1zM771.3 288.4l1.7.7 1-2.4-1.8-.7zM773.2 283.6l1.8.7.5-1.2-1.8-.8zM777.9 271.5l2.1.8.5-1.2-2.1-.8zM780.3 265.4l2.1.9.5-1.2-2.1-.9zM781.3 263l2.1.9 1-2.4-2.2-.9zM783.2 258.2l2.2.9 1.5-3.6-2.3-1zM785.6 252.1l2.3 1 .5-1.2-2.3-1zM786.5 249.7l2.4 1 .5-1.2-2.4-1zM764 310.7l1.4.5 1-2.3-1.4-.6zM771 293.9l1.6.7 4.2-9.6-1.8-.7zM780.5 271.1l2 .8.5-1.1-2-.9zM763.8 314.8l1.3.6.5-1.2-1.3-.6zM766.4 308.9l1.4.6.5-1.2-1.4-.6zM772.1 295.8l1.6.7.5-1.2-1.6-.7zM775.7 287.4l1.8.8 1.1-2.4-1.8-.8zM782.5 271.9l2 .9 2.1-4.7-2-.9zM765.1 315.4l1.2.5.6-1.1-1.3-.6zM767.8 309.5l1.3.6.6-1.2-1.4-.6zM773.7 296.5l1.6.7.5-1.2-1.6-.7zM782.3 277.6l1.9.9 2.3-4.7-2-1zM785 271.7l2 .9.6-1.2-2-.9zM766.3 315.9l1.3.6 1.1-2.3-1.3-.6zM769.1 310.1l1.4.6.5-1.1-1.3-.7zM774.7 298.4l1.6.7.5-1.1-1.5-.8zM782 283.1l1.8.9 1.2-2.3-1.9-.9zM783.7 279.6l1.9.9 1.1-2.3-1.9-.9zM768.2 315.4l1.2.6.6-1.1-1.3-.7zM771 309.6l1.4.7.6-1.2-1.4-.7zM774.5 302.6l1.5.8.6-1.2-1.5-.7zM778 295.6l1.6.9 1.8-3.5-1.7-.8zM785 281.7l1.8.9 1.8-3.4-1.9-1zM770 314.9l1.3.6 2.4-4.5-1.3-.7zM775.4 304.5l1.4.8 1.9-3.4-1.5-.8zM779 297.6l1.6.8.6-1.1-1.6-.8zM780.8 294.2l1.6.8 1.3-2.3-1.7-.8zM786.2 283.8l1.8 1 .6-1.2-1.8-1zM776.8 305.3l1.5.8.6-1.2-1.4-.8zM778.7 301.9l1.5.8.6-1.1-1.5-.9zM783 293.9l1.7.9.6-1.1-1.6-1zM784.9 290.5l1.7.9 1.3-2.3-1.8-.9zM786.8 287l1.7 1 1.9-3.4-1.8-1zM777.6 307.2l1.4.8.7-1.1-1.4-.8zM781.5 300.4l1.5.9.6-1.1-1.5-.9zM784 295.9l1.6.9 2-3.3-1.7-1zM789.1 286.9l1.8 1 2.6-4.5-1.8-1zM782.3 302.4l1.5.9 4.7-7.7-1.6-1zM791.6 286.8l1.7 1 .7-1.1-1.8-1.1zM792.9 284.5l1.8 1.1.6-1.1-1.8-1.1zM783.8 303.3l1.4.9 3.5-5.5-1.5-.9zM794 286.7l1.7 1.1 2.1-3.3-1.8-1.1zM784.5 305.3l1.5.9.7-1-1.5-1zM785.9 303.1l1.5 1 2.2-3.3-1.6-1zM786 306.2l1.4 1 1.5-2.2-1.5-.9zM841.2 240.2l2.6 2 .8-1.1-2.6-1.9zM844.3 236.1l2.6 1.9.8-1-2.6-2zM842.2 244.2l2.5 2 .8-1-2.5-2zM849.3 235l2.7 2 .8-1-2.7-2.1zM843.9 247.2l2.4 2 .8-1-2.4-2zM846.3 244.1l2.5 2.1 5.8-7.1-2.6-2.1zM886.9 193.2l3.3 2.8 1.7-2.1-3.4-2.7zM810.7 292.3l1.6 1.4.9-1-1.7-1.4zM813.2 289.3l1.7 1.4.8-1-1.7-1.4zM849.6 245.2l2.5 2 2.5-2.9-2.5-2.2zM854.6 239.1l2.5 2.2 5.1-5.9-2.7-2.3zM887.7 199l3.3 2.7.8-1-3.2-2.7zM894.4 190.9l3.4 2.9.8-1-3.4-2.9zM816.6 288.7l1.7 1.5.8-1-1.7-1.5zM846.1 254.1l2.3 2.1 1.8-2-2.4-2zM848.7 251.2l2.3 2 .9-.9-2.4-2.1zM862.2 235.4l2.6 2.3 2.6-3-2.7-2.3zM875.7 219.5l2.9 2.6.9-1-2.9-2.6zM883.4 210.6l3 2.7.9-1-3.1-2.7zM886.8 206.7l3.1 2.7.8-1-3.1-2.7zM891 201.7l3.2 2.8.9-1-3.3-2.8zM899.5 191.8l3.3 3 .9-1-3.4-3zM813.1 296l1.6 1.5.9-1-1.6-1.4zM818.3 290.2l1.6 1.5 1.8-1.9-1.7-1.5zM848.4 256.2l2.3 2 3.5-3.8-2.3-2.1zM866.6 235.7l2.6 2.4 1.7-1.9-2.6-2.4zM875.2 226l2.8 2.5.9-1-2.8-2.5zM880.4 220.1l2.9 2.6.8-.9-2.9-2.7zM890.7 208.4l3.1 2.8 2.7-2.9-3.2-2.8zM897.7 200.6l3.2 2.9 1.7-1.9-3.2-2.9zM901.1 196.7l3.3 3 .9-1-3.3-3zM815.6 296.5l1.5 1.5.9-1-1.6-1.5zM819.1 292.7l1.6 1.5.9-.9-1.7-1.6zM850.7 258.2l2.2 2.1.9-.9-2.2-2.2zM853.3 255.3l2.3 2.2.9-1-2.3-2.1zM868.3 239l2.6 2.4 6.2-6.6-2.6-2.5zM876.2 230.4l2.7 2.5 1.8-1.8-2.7-2.6zM884.1 221.8l2.9 2.6 3.6-3.7-2.9-2.8zM901.8 202.6l3.2 3 2.7-2.9-3.3-3zM906.2 197.8l3.3 3 1.7-1.8-3.3-3.1zM912.3 191.1l3.4 3.1 1.8-1.9-3.4-3.2zM915.9 187.2l3.4 3.2 2.7-2.8-3.5-3.3zM818.9 296.1l1.6 1.5.9-.9-1.6-1.6zM852.9 260.3l2.2 2.1.9-.9-2.2-2.1zM855.6 257.5l2.3 2.1.9-.9-2.3-2.2zM887 224.4l2.8 2.8 1.9-1.9-2.9-2.7zM907.7 202.7l3.1 3.1 3.7-3.7-3.3-3.1zM914.8 195.2l3.4 3.2 6.4-6.5-3.5-3.3zM856 261.5l2.2 2.2 1-.9-2.2-2.2zM882.5 234.6l2.7 2.7 2.7-2.8-2.6-2.7zM886.2 230.9l2.7 2.7 3.7-3.6-2.8-2.8zM890.7 226.3l2.8 2.7 1-.9-2.8-2.8zM910.8 205.8l3.2 3.2 1.8-1.8-3.1-3.2zM913.6 203l3.2 3.2.9-.9-3.2-3.2zM918.2 198.4l3.2 3.3 2.8-2.8-3.3-3.3zM858.2 263.7l2.2 2.2.9-.9-2.1-2.2zM884.2 238.2l2.6 2.6.9-.9-2.5-2.6zM893.5 229l2.8 2.9.9-.9-2.7-2.9zM900 222.7l2.9 2.9 6.6-6.3-3-3zM907.5 215.4l2.9 3.1 2.9-2.7-3-3.2zM912.1 210.8l3.1 3.2 7.5-7.2-3.1-3.3zM861.3 265l2.1 2.3 3.9-3.5-2.2-2.4zM886.8 240.8l2.5 2.8 1-.9-2.6-2.8zM898.1 230.1l2.8 2.9 7.6-7-2.8-3.1zM867.3 263.8l2.1 2.3 2.9-2.5-2.2-2.5zM884.5 248l2.4 2.6 2-1.7-2.4-2.7zM888.4 244.4l2.4 2.8 1-.9-2.5-2.7zM962.4 176.7l3.6 4.1 1-.9-3.6-4.1zM964.3 175l3.7 4 1-.8-3.7-4.1zM886.9 250.6l2.4 2.8 3-2.6-2.4-2.7zM890.8 247.2l2.5 2.8.9-.9-2.4-2.8zM969 178.2l3.6 4.2 1.9-1.7-3.6-4.2zM889.3 253.4l2.3 2.7 4-3.3-2.3-2.8zM874.5 270.2l2 2.5 1.1-.8-2.1-2.6zM892.6 255.3l2.3 2.8 1-.8-2.3-2.8zM894.6 253.6l2.3 2.9 1-.8-2.3-2.9zM897.6 251.2l2.4 2.9 1-.8-2.4-3zM876.5 272.7l2 2.5 1.1-.8-2-2.5zM895.9 257.3l2.2 2.9 5.2-4-2.3-2.9zM883.7 271.3l2 2.6 6.3-4.6-2.1-2.8zM897.1 261l2.2 2.9 1-.8-2.2-2.9zM907.4 253.1l2.3 3 1.1-.7-2.3-3.1zM874.2 282.4l1.8 2.5 7.4-5.3-1.9-2.6zM892 269.3l2 2.8 4.2-3-2.1-2.9zM898.2 264.6l2.1 3 1.1-.8-2.1-2.9zM874.9 285.7l1.8 2.5 1-.8-1.7-2.5zM884.5 278.9l1.8 2.6 1.1-.7-1.9-2.7zM874.5 289.6l1.7 2.5 3.3-2.1-1.8-2.6zM888.5 280.1l1.8 2.7 1.1-.7-1.9-2.8zM831.8 321.5l1.1 1.7 1.1-.7-1.1-1.7zM833.9 320.1l1.2 1.7 2.2-1.3-1.2-1.9zM877.3 291.4l1.6 2.6 3.3-2.1-1.7-2.6zM892.5 281.4l1.8 2.8 1.1-.7-1.8-2.8zM835.1 321.8l1.1 1.8 1.1-.6-1.1-1.9zM838.4 319.8l1.1 1.8 1.2-.7-1.2-1.8zM881.1 292.6l1.7 2.6 1.1-.7-1.7-2.6zM889.9 287l1.7 2.8 4.5-2.8-1.8-2.8zM834 325l1.1 1.8 2.2-1.3-1.1-1.9zM839.5 321.6l1.2 1.9 1.1-.7-1.1-1.9zM890.5 290.4l1.7 2.8 1.1-.6-1.7-2.8zM834 327.4l1 1.8 1.1-.6-1-1.8zM839.6 324.2l1 1.8 2.3-1.2-1.1-2zM887.7 295.8l1.6 2.8 3.4-1.9-1.6-2.8zM920.2 276.7l1.9 3.3 3.4-1.9-1.9-3.3zM833.9 329.9l.9 1.7 2.3-1.2-1-1.8zM841.8 325.4l1 1.9 4.6-2.5-1.1-2zM915.3 283.9l1.8 3.2 2.2-1.3-1.7-3.2zM919.8 281.3l1.8 3.3 1.2-.6-1.9-3.3zM926.6 277.5l1.9 3.4 1.1-.6-1.9-3.5zM932.3 274.3l1.9 3.5 1.1-.6-1.9-3.6zM936.8 271.7l2 3.6 3.4-1.8-2-3.7zM834.8 331.6l1 1.8 5.8-2.9-1.1-1.9zM847.4 324.8l1.1 2.1 1.1-.6-1.1-2.1zM904.5 293.9l1.6 3 1.1-.6-1.6-3zM907.9 292l1.6 3.1 2.4-1.2-1.7-3.1zM911.3 290.2l1.7 3.1 1.2-.6-1.7-3.1zM942.2 273.5l1.9 3.6 1.2-.6-2-3.7zM944.5 272.2l2 3.7 2.3-1.2-2-3.7zM947.9 270.4l2 3.7 2.3-1.2-2-3.8zM835.8 333.4l.9 1.9 4.7-2.4-1-1.8zM903.8 298.1l1.5 3 1.2-.6-1.6-3zM947.6 275.3l1.9 3.8 1.2-.6-1.9-3.8zM949.9 274.1l1.9 3.9 1.2-.6-1.9-3.9zM956.8 270.5l2 4 3.5-1.8-2-4zM836.7 335.3l.9 1.8 2.3-1.1-.9-1.9zM849.5 328.9l1 2.1 1.2-.6-1-2.1zM904.1 301.7l1.5 3 1.2-.5-1.5-3.1zM913.4 297.1l1.6 3.1 1.2-.5-1.6-3.2zM951.8 278l1.9 3.8 1.2-.6-1.9-3.8zM960 273.9l1.9 4 2.4-1.1-2-4.1zM838.8 336.5l.8 1.9 1.2-.5-.9-1.9zM843.5 334.3l.9 1.9 3.5-1.6-.9-2zM903.3 305.8l1.3 3 2.4-1.1-1.4-3zM906.8 304.2l1.4 3 1.2-.5-1.5-3.1zM910.3 302.5l1.4 3.1 3.6-1.6-1.5-3.2zM915 300.2l1.5 3.2 1.1-.5-1.4-3.2zM964.3 276.8l1.9 4 1.1-.5-1.8-4.1zM969 274.5l1.9 4.2 1.2-.6-2-4.1zM840.8 337.9l.9 1.9 5.9-2.6-.9-2zM853.8 331.9l1 2.2 1.2-.5-1-2.2zM903.5 309.4l1.3 3 2.4-1.1-1.4-3zM909.4 306.7l1.3 3.1 7.2-3.1-1.4-3.3zM956.7 285.1l1.7 4 3.6-1.6-1.8-4zM966.2 280.8l1.8 4.1 8.3-3.6-1.9-4.2zM844 338.7l.9 2 2.4-1-.9-2zM854.8 334.1l.9 2.1 1.2-.5-.9-2.1zM913.1 308.7l1.4 3.2 4.8-2-1.4-3.2zM962 287.5l1.7 4.1 2.4-1-1.7-4.1zM970.3 283.9l1.8 4.2 9.6-4-1.8-4.3zM846.1 340.2l.8 2 2.4-1-.8-2zM856.9 335.7l.8 2.2 1.3-.5-.9-2.2zM914.5 311.9l1.2 3.2 2.5-1-1.3-3.2zM918.1 310.4l1.3 3.3 1.2-.5-1.3-3.3zM950.5 297l1.5 3.8 2.4-.9-1.5-3.9zM964.9 291.1l1.6 4 1.2-.4-1.6-4.1zM968.5 289.6l1.6 4.1 3.7-1.4-1.7-4.2zM973.3 287.6l1.7 4.2 4.8-1.9-1.7-4.3zM986.5 282.1l1.8 4.5 1.2-.5-1.8-4.5zM848.1 341.7l.8 2 1.2-.4-.8-2.1zM857.7 337.9l.9 2.2 2.4-.9-.8-2.2zM865 335.1l.9 2.3 2.4-.9-.9-2.4zM868.6 333.6l.9 2.4 3.7-1.3-1-2.5zM873.4 331.7l1 2.5 2.4-.9-.9-2.5zM878.3 329.8l1 2.6 3.6-1.4-1-2.6zM918.2 314.1l1.2 3.3 2.4-.9-1.2-3.3zM943.5 304.2l1.4 3.7 1.3-.5-1.4-3.7zM948.4 302.3l1.4 3.7 7.3-2.7-1.5-3.9zM970.1 293.7l1.6 4.2 3.7-1.4-1.6-4.2zM977.4 290.8l1.6 4.3 2.5-.9-1.7-4.3zM989.5 286.1l1.7 4.5 2.4-.9-1.7-4.6zM994.3 284.2l1.8 4.6 1.2-.5-1.7-4.6zM848.9 343.7l.7 2.1 1.2-.5-.7-2zM859.8 339.6l.8 2.3 2.5-.9-.9-2.3zM864.7 337.8l.8 2.3 3.7-1.2-.9-2.4zM869.5 336l.9 2.4 1.2-.4-.9-2.4zM872 335.1l.8 2.5 2.5-.9-.9-2.5zM882.9 331l1 2.7 1.2-.5-1-2.6zM917 318.3l1.1 3.2 1.3-.4-1.2-3.2zM923 316l1.2 3.4 1.3-.5-1.2-3.3zM934 312l1.3 3.5 3.6-1.3-1.3-3.6zM944.9 307.9l1.4 3.7 7.3-2.6-1.3-3.9zM970.5 298.3l1.5 4.2 1.2-.4-1.5-4.2zM979 295.1l1.6 4.4 2.4-.9-1.5-4.4zM996.1 288.8l1.6 4.6 1.3-.4-1.7-4.7zM845.9 347.1l.7 2 1.2-.5-.6-2zM849.6 345.8l.7 2 1.2-.4-.7-2.1zM863.1 341l.7 2.3 5-1.6-.9-2.4zM871.6 338l.9 2.4 1.2-.4-.9-2.4zM885.1 333.2l.9 2.7 2.5-.8-1-2.7zM894.9 329.8l.9 2.8 6.2-2-1-3zM913.2 323.3l1.1 3.1 1.2-.4-1-3.2zM923 319.8l1.2 3.4 1.2-.5-1.2-3.3zM934 315.9l1.2 3.5 5-1.6-1.3-3.6zM948.7 310.7l1.3 3.8 5-1.6-1.4-3.9zM961 306.4l1.3 4 1.3-.4-1.4-4zM980.6 299.5l1.5 4.3 1.2-.4-1.5-4.4zM999 293l1.6 4.6 1.2-.4-1.6-4.7zM838 351.9l.6 1.9 6.2-2-.7-1.9zM890.9 334.3l.9 2.7 3.7-1.1-.9-2.9zM897.1 332.2l.9 2.9 1.2-.4-.9-2.9zM903.2 330.1l1 3 1.2-.4-.9-3zM910.6 327.7l1 3.1 2.5-.8-1-3.1zM937.7 318.6l1.2 3.6 1.2-.4-1.2-3.6zM940.2 317.8l1.1 3.6 1.3-.4-1.2-3.6zM953.7 313.3l1.3 3.8 3.7-1.1-1.3-4zM958.7 311.6l1.2 4 6.2-2-1.3-4zM980.8 304.2l1.4 4.4 2.5-.8-1.4-4.4zM1001.8 297.2l1.5 4.7 1.2-.4-1.5-4.7zM837.4 354.2l.5 1.8 2.5-.7-.6-1.9zM841.1 353l.5 1.9 1.3-.4-.6-1.9zM894.3 336.3l.8 2.8 5-1.5-.9-2.9zM911.6 330.8l1 3.1 2.5-.7-1-3.2zM930.2 324.9l1 3.5 1.3-.4-1.1-3.4zM940.1 321.8l1.1 3.7 1.2-.4-1.1-3.7zM943.8 320.7l1.1 3.7 2.5-.8-1.1-3.7zM948.8 319.1l1.1 3.8 3.8-1.1-1.2-3.9zM958.7 316l1.2 3.9 5-1.4-1.3-4.1zM976 310.5l1.3 4.3 10-3-1.4-4.4zM989.7 306.2l1.3 4.5 2.5-.7-1.4-4.6zM993.4 305.1l1.4 4.5 3.7-1.1-1.4-4.6zM1000.8 302.7l1.4 4.7 1.3-.4-1.4-4.7zM836.7 356.4l.5 1.8 1.2-.3-.5-1.9zM872.7 345.7l.7 2.5 1.3-.4-.7-2.5zM932.5 328l1 3.5 1.2-.3-1-3.5zM938.7 326.2l1 3.6 6.3-1.7-1.1-3.7zM952.4 322.2l1.1 3.8 1.2-.3-1-3.9zM957.4 320.7l1.1 3.9 2.5-.7-1.1-4zM976.1 315.2l1.2 4.2 1.2-.3-1.2-4.3zM979.8 314l1.2 4.4 12.5-3.5-1.2-4.5zM835.9 358.5l.5 1.9 1.3-.4-.5-1.8zM872.2 348.5l.6 2.5 2.6-.7-.7-2.5zM933.5 331.5l.9 3.6 1.3-.4-1-3.5zM937.2 330.5l1 3.6 2.5-.7-1-3.6zM942.2 329.1l1 3.7 2.5-.7-1-3.7zM953.5 326l1 3.9 1.3-.4-1.1-3.8zM976 319.8l1.1 4.2 1.3-.3-1.1-4.3zM828.9 362.3l.4 1.7 2.5-.6-.4-1.7zM832.7 361.3l.4 1.8 1.3-.3-.5-1.8zM934.4 335.1l.9 3.5 2.5-.6-.9-3.6zM943.2 332.8l.9 3.7 5.1-1.2-1-3.8zM977.1 324l1.1 4.3 1.3-.3-1.1-4.3zM829.3 364l.4 1.7 3.8-.9-.4-1.7zM932.8 339.2l.8 3.5 2.5-.6-.8-3.5zM949.2 335.3l.8 3.8 3.8-.9-.9-3.8zM954.2 334.1l.9 3.8 8.9-1.9-1-4.1zM978.2 328.3l1 4.3 1.2-.3-.9-4.3zM819.6 367.9l.3 1.6 5.1-1.1-.4-1.6zM831 365.4l.3 1.7 1.3-.2-.4-1.8zM951.3 338.8l.8 3.8 1.3-.3-.8-3.8zM960.2 336.8l.8 4 7.6-1.6-.8-4.1zM976.6 333.2l.9 4.2 2.6-.5-.9-4.3zM817.4 370l.2 1.5 1.3-.3-.3-1.5zM888.5 355.5l.5 2.7 2.6-.4-.5-2.8zM893.6 354.5l.5 2.8 2.6-.5-.6-2.8zM911.4 350.9l.6 3.1 5.1-.9-.6-3.3zM959.7 341.1l.8 3.9 1.3-.2-.8-4zM964.8 340l.8 4.1 3.8-.7-.8-4.2zM975 338l.8 4.2 2.5-.5-.8-4.3zM817.6 371.5l.3 1.4 1.3-.2-.3-1.5zM889 358.2l.5 2.8 2.6-.4-.5-2.8zM894.1 357.3l.5 2.8 1.3-.2-.5-2.8zM898 356.6l.5 2.9 1.2-.2-.5-2.9zM904.3 355.4l.6 3 1.2-.2-.5-3zM910.7 354.2l.6 3.1 1.2-.2-.5-3.1zM913.3 353.8l.5 3.1 3.9-.6-.6-3.2zM942.6 348.3l.6 3.7 2.6-.4-.6-3.7zM946.4 347.6l.7 3.8 2.5-.5-.6-3.7zM951.5 346.7l.7 3.8 1.3-.2-.7-3.9zM960.5 345l.7 4 10.2-1.7-.7-4.2zM975.8 342.2l.7 4.2 1.3-.2-.7-4.2zM783.4 378.7l.1.9 1.3-.2-.1-.9zM816.6 373.2l.3 1.4 2.5-.4-.2-1.5zM863.9 365.3l.4 2.3 6.4-1-.4-2.4zM874.2 363.5l.4 2.5 2.5-.4-.4-2.5zM880.6 362.5l.4 2.6 6.4-1-.4-2.7zM889.5 361l.4 2.7 5.2-.7-.5-2.9zM897.2 359.7l.4 2.9 2.6-.4-.5-2.9zM903.6 358.6l.5 3 3.8-.6-.5-3zM910 357.6l.5 3.1 1.2-.2-.4-3.2zM915.1 356.7l.5 3.2 2.6-.4-.5-3.2zM943.2 352l.6 3.7 5.1-.8-.5-3.8zM949.6 350.9l.6 3.8 6.4-.9-.6-3.9zM962.4 348.8l.7 4 10.2-1.5-.6-4.2zM976.5 346.4l.7 4.3 2.5-.4-.6-4.3zM783.5 379.6l.1.9 3.9-.5-.1-1zM815.6 374.8l.2 1.5 1.3-.2-.2-1.5zM856.6 368.7l.3 2.2 5.1-.7-.3-2.3zM865.6 367.4l.3 2.3 2.6-.4-.4-2.3zM870.7 366.6l.3 2.4 2.6-.3-.3-2.5zM874.6 366l.3 2.5 3.9-.5-.4-2.6zM883.5 364.7l.4 2.6 9-1.2-.4-2.8zM900.2 362.2l.4 2.9 2.6-.3-.4-3zM906.6 361.2l.4 3.1 7.8-1-.5-3.2zM915.6 359.9l.4 3.2 3.9-.5-.5-3.3zM954.1 354.2l.5 3.8 1.3-.1-.5-3.9zM960.5 353.2l.5 4 7.8-1-.6-4.1zM973.3 351.3l.6 4.2 1.3-.2-.6-4.2zM975.9 350.9l.6 4.3 1.3-.2-.6-4.3zM786.2 380.2l.1.9 2.6-.3-.1-1zM791.4 379.5l.1 1 1.3-.1-.2-1.1zM814.5 376.4l.2 1.5 1.3-.2-.2-1.4zM855.6 371l.3 2.2 10.3-1.2-.3-2.3zM873.6 368.7l.3 2.4 5.2-.5-.3-2.6zM885.2 367.2l.3 2.6 7.7-.9-.3-2.8zM900.6 365.1l.4 3 1.2-.2-.3-2.9zM907 364.3l.4 3 1.3-.1-.4-3.1zM913.5 363.4l.3 3.2 2.6-.3-.4-3.2zM957.2 357.7l.4 3.9 1.3-.1-.4-4zM964.9 356.7l.5 4 1.3-.1-.5-4.1zM967.5 356.3l.5 4.1 1.2-.1-.4-4.1zM786.3 381.1l.1.9 2.6-.2-.1-1zM792.8 380.4l.1 1 1.3-.1-.1-1.1zM857.2 373l.2 2.2 2.6-.2-.3-2.2zM861 372.6l.3 2.3 1.2-.2-.2-2.2zM872.6 371.3l.3 2.4 2.6-.2-.3-2.5zM876.5 370.8l.2 2.6 2.6-.3-.2-2.5zM885.5 369.8l.3 2.7 5.1-.5-.2-2.8zM891.9 369.1l.3 2.8 2.6-.3-.3-2.8zM899.7 368.2l.3 2.9 2.6-.2-.4-3zM904.8 367.6l.3 3 2.6-.2-.3-3.1zM925.4 365.3l.4 3.3 3.9-.3-.4-3.5zM952.5 362.2l.4 3.8 2.6-.2-.4-3.9zM957.6 361.6l.4 3.9 1.3-.1-.4-3.9zM968 360.4l.4 4.2 2.6-.3-.5-4.2zM789 381.8l.1 1 3.9-.3-.1-1.1zM816.1 379.2l.1 1.5 1.3-.1-.1-1.5zM853.5 375.6l.2 2.1 1.3-.1-.2-2.1zM872.9 373.7l.2 2.5 1.3-.1-.2-2.5zM875.5 373.5l.2 2.5 5.1-.4-.2-2.6zM884.5 372.6l.2 2.7 2.6-.2-.2-2.7zM890.9 372l.3 2.8 2.6-.2-.3-2.8zM894.8 371.6l.2 2.9 2.6-.2-.2-2.9zM901.3 371l.2 3 2.6-.2-.3-3zM910.3 370.1l.3 3.1 1.2-.1-.2-3.1zM925.8 368.6l.3 3.4 1.3-.1-.3-3.4zM929.7 368.3l.2 3.4 1.3-.1-.3-3.4zM933.5 367.9l.3 3.5 3.9-.3-.3-3.6zM949 366.4l.3 3.8 5.2-.4-.3-3.9zM958 365.5l.4 4 1.3-.1-.4-4zM794.3 382.4l0 1.1 3.9-.3-.1-1.1zM852.4 377.8l.1 2.1 2.6-.2-.1-2.1zM869.2 376.5l.2 2.4 3.8-.3-.1-2.4zM893.8 374.6l.1 2.8 2.6-.2-.2-2.8zM924.8 372.1l.2 3.4 1.3-.1-.2-3.4zM928.6 371.8l.3 3.4 1.3 0-.3-3.5zM955.8 369.7l.2 3.9 1.3-.1-.2-3.9zM959.7 369.4l.2 4 3.9-.3-.3-4zM795.6 383.4l.1 1.1 5.2-.2-.1-1.2zM817.6 382l.1 1.5 3.9-.1-.1-1.6zM840.9 380.6l.1 1.9 2.6-.1-.1-1.9zM852.5 379.9l.2 2.1 5.1-.2-.1-2.2zM866.8 379l.1 2.4 3.9-.2-.1-2.4zM893.9 377.4l.2 2.8 2.6-.1-.2-2.9zM912.1 376.3l.1 3.1 1.3 0-.1-3.2zM928.9 375.2l.1 3.5 1.3-.1-.1-3.4zM956 373.6l.2 3.9 1.3-.1-.2-3.9zM959.9 373.4l.2 3.9 3.9-.1-.2-4.1zM772.4 385.5l0 .7 1.3 0 0-.8zM776.3 385.3l0 .8 1.3 0 0-.8zM795.7 384.5l0 1.1 2.6-.1 0-1.1zM802.2 384.2l0 1.2 5.2-.1-.1-1.3zM817.7 383.5l0 1.5 2.6-.1 0-1.5zM841 382.5l.1 1.9 2.6-.1-.1-1.9zM855.2 381.9l.1 2.1 3.9-.1-.1-2.2zM894.1 380.2l.1 2.8 2.6 0-.1-2.9zM903.1 379.8l.1 3 1.3-.1-.1-3zM912.2 379.4l.1 3.1 1.3 0-.1-3.1zM934.2 378.4l.1 3.6 1.3-.1-.1-3.5zM942 378.1l.1 3.7 6.5-.2-.1-3.8zM961.4 377.3l.1 4 1.3-.1-.1-4zM991.2 376l.1 4.5 1.3-.1-.1-4.5zM996.4 375.7l.1 4.6 3.9-.1-.1-4.6zM1004.1 375.4l.2 4.7 1.3 0-.2-4.8zM772.4 386.2l0 .7 1.3 0 0-.7zM778.9 386l0 .8 2.6 0 0-.8zM795.7 385.6l0 1.1 1.3 0 0-1.1zM808.7 385.3l0 1.3 3.9 0 0-1.4zM820.3 384.9l.1 1.6 3.9 0-.1-1.7zM829.4 384.7l0 1.7 1.3 0 0-1.7zM834.6 384.6l0 1.8 1.3-.1 0-1.8zM839.8 384.4l0 1.9 2.6 0 0-1.9zM846.2 384.3l.1 2 2.6-.1-.1-2zM856.6 384l0 2.2 2.6-.1 0-2.2zM864.4 383.8l0 2.3 2.6 0 0-2.4zM894.2 383l0 2.8 5.2 0 0-2.9zM903.2 382.8l.1 3 1.3 0-.1-3.1zM905.8 382.7l.1 3 1.3 0-.1-3zM935.6 381.9l.1 3.6 1.3 0-.1-3.6zM947.3 381.6l0 3.8 6.5-.1 0-3.8zM988.7 380.5l.1 4.5 1.3 0-.1-4.5zM991.3 380.5l.1 4.5 2.6 0-.1-4.6zM996.5 380.3l.1 4.6 1.3 0-.1-4.6zM1000.4 380.2l.1 4.7 1.3 0-.1-4.7zM1006.9 380.1l0 4.8 2.6-.1 0-4.8zM1012.1 379.9l0 4.9 1.3 0 0-4.9zM772.4 386.9l0 .7 1.3 0 0-.7zM781.5 386.8l0 .9 1.3 0 0-.9zM790.6 386.7l0 1.1 2.6 0 0-1.1zM794.5 386.7l-.1 1.1 2.6 0 0-1.1zM811.3 386.6l0 1.3 2.6.1 0-1.5zM824.3 386.5l-.1 1.6 2.6 0 0-1.7zM828.1 386.4l0 1.7 1.3 0 0-1.7zM834.6 386.4l0 1.7 5.2.1 0-1.9zM842.4 386.3l0 1.9 1.3 0 0-1.9zM845 386.3l0 1.9 1.3 0 0-1.9zM847.6 386.2l0 2.1 2.6 0 0-2.1zM852.8 386.2l0 2.1 2.5 0 0-2.1zM856.6 386.2l0 2.1 1.3 0 0-2.1zM859.2 386.1l0 2.3 1.3 0 0-2.3zM894.2 385.8l0 2.9 2.6 0 0-2.9zM900.7 385.8l0 2.9 1.3 0 0-2.9zM940.9 385.4l-.1 3.7 5.2 0 0-3.7zM949.9 385.4l0 3.7 1.3.1 0-3.9zM987.5 385l0 4.5 1.3 0 0-4.5zM992.7 385l0 4.5 5.2.1 0-4.7zM1000.5 384.9l-.1 4.7 3.9 0 .1-4.7zM1008.2 384.8l0 4.9 2.6 0 0-4.9zM1012.1 384.8l0 4.9 3.9 0 0-4.9zM772.4 387.6l0 .7 1.3 0 0-.7zM782.8 387.7l0 .9 1.3 0 0-.9zM795.7 387.8l0 1.1 1.3 0 0-1.1zM810 387.9l0 1.4 5.2.1 0-1.4zM828.1 388.1l0 1.7 9.1.2 0-1.8zM842.4 388.2l-.1 1.9 1.3.1.1-2zM845 388.2l-.1 2 5.2.1.1-2zM852.8 388.3l-.1 2.1 9.1.2 0-2.2zM892.9 388.7l0 2.7 1.3.1 0-2.8zM900.7 388.7l-.1 3 1.3 0 .1-3zM944.7 389.1l0 3.7 1.3 0 0-3.7zM987.5 389.5l-.1 4.4 1.3.1.1-4.5zM1013.4 389.7l-.1 4.9 1.3 0 .1-4.9zM784.1 388.6l-.1.9 1.3.1.1-1zM795.7 388.9l0 1.1 1.3.1 0-1.2zM813.9 389.4l-.1 1.4 1.3.1.1-1.5zM826.8 389.7l-.1 1.7 2.6.1.1-1.7zM835.9 390l-.1 1.8 1.3 0 .1-1.8zM841.1 390.1l-.1 1.9 2.6.1 0-1.9zM848.8 390.3l-.1 2 1.3.1.1-2.1zM854 390.4l-.1 2.2 5.2.2.1-2.2zM874.7 391l-.1 2.5 2.6.1.1-2.6zM881.2 391.1l-.1 2.6 1.3.1.1-2.6zM886.4 391.3l-.1 2.7 6.4.2.2-2.8zM899.3 391.6l-.1 2.9 1.3.1.1-2.9zM903.2 391.7l-.1 3 1.3.1.1-3zM934.3 392.5l-.1 3.6 2.5.1.2-3.6zM944.7 392.8l-.2 3.7 2.6.1.1-3.7zM951.1 393l-.1 3.8 3.9.2.1-3.9zM984.8 393.9l-.2 4.4 3.9.1.2-4.4zM1013.3 394.6l-.2 4.9 2.6.1.2-4.9zM773.7 389.1l-.1.7 1.3.1.1-.8zM826.7 391.4l0 1.6 2.5.2.1-1.7zM834.5 391.7l-.1 1.8 2.6.1.1-1.8zM838.4 391.9l-.1 1.8 5.2.3.1-1.9zM848.7 392.3l-.1 2.1 3.9.2.1-2.1zM857.8 392.7l-.1 2.2 1.3.1.1-2.2zM864.3 393l-.1 2.3 3.8.2.2-2.3zM873.3 393.4l-.1 2.5 1.3 0 .1-2.4zM877.2 393.6l-.1 2.5 3.9.2.1-2.6zM899.2 394.5l-.1 2.9 1.3.1.1-2.9zM903.1 394.7l-.2 3 1.3.1.2-3zM936.7 396.2l-.2 3.5 1.3.1.2-3.6zM960 397.2l-.2 3.9 1.3.1.2-4zM1013.1 399.5l-.3 4.9 2.6.1.3-4.9zM774.9 389.9l0 .7 1.3.1 0-.8zM784 390.4l-.1.9 1.3.1.1-.9zM796.9 391.2l-.1 1.1 10.4.8.1-1.3zM813.7 392.2l-.1 1.4 1.3.1.1-1.4zM829.2 393.2l-.1 1.7 1.3.1.1-1.7zM831.8 393.3l-.1 1.8 3.9.3.1-1.8zM837 393.6l-.1 1.9 2.6.2.1-1.9zM840.9 393.9l-.2 1.9 2.6.2.2-2zM849.9 394.4l-.1 2.1 3.9.3.1-2.1zM857.7 394.9l-.2 2.2 1.3.1.2-2.2zM862.9 395.2l-.2 2.3 2.6.2.1-2.3zM869.3 395.6l-.1 2.4 2.5.2.2-2.4zM901.6 397.6l-.2 2.9 2.6.2.2-2.9zM943 400.1l-.3 3.7 6.5.5.3-3.8zM983.1 402.6l-.3 4.3 1.2.1.4-4.4zM1014.1 404.5l-.4 4.9 2.6.2.4-5zM772.3 390.4l-.1.7 2.6.2.1-.7zM776.2 390.7l-.1.8 1.3.1.1-.8zM782.6 391.2l0 .9 1.2.1.1-.9zM805.9 393l-.1 1.3 15.4 1.5.2-1.5zM840.7 395.8l-.1 1.9 3.8.3.2-1.9zM856.2 397l-.2 2.2 7.8.7.2-2.3zM905.3 400.8l-.3 3.1 1.3.1.3-3.1zM910.5 401.3l-.3 3.1 3.9.3.2-3.1zM918.2 401.9l-.3 3.2 3.9.4.3-3.3zM981.5 406.8l-.4 4.4 1.3.1.4-4.4zM772.2 391.1l0 .7 3.8.4.1-.7zM782.6 392.1l-.1.9 2.5.3.1-1zM816.1 395.3l-.2 1.5 1.3.1.2-1.5zM819.9 395.7l-.1 1.5 1.3.2.1-1.6zM832.8 396.9l-.1 1.8 1.2.1.2-1.8zM840.6 397.7l-.2 1.8 5.1.6.2-1.9zM847 398.3l-.2 2 1.3.1.2-2zM852.2 398.8l-.2 2.1 1.2.1.3-2.1zM856 399.2l-.2 2.1 1.3.2.2-2.2zM978.5 410.9l-.5 4.3 3.9.4.5-4.3zM988.8 411.9l-.5 4.5 1.3.1.5-4.5zM772.2 391.8l-.1.7 3.8.5.1-.8zM782.5 393l-.1.8 5.1.7.1-1zM812.1 396.3l-.2 1.4 2.6.4.1-1.5zM817.2 396.9l-.2 1.5 3.9.5.2-1.5zM979.3 415.4l-.5 4.2 3.8.6.6-4.4zM988.3 416.4l-.6 4.4 2.6.4.6-4.5zM773.4 392.7l-.1.7 5.1.7.1-.8zM978.8 419.6l-.7 4.3 3.9.6.6-4.3zM990.3 421.2l-.7 4.5 1.3.1.7-4.5zM775.8 393.8l-.1.7 2.6.4.1-.8zM788.6 395.7l-.1.9 1.3.3.1-1zM980.7 424.3l-.7 4.3 1.3.2.7-4.3zM775.7 394.5l-.1.8 2.5.4.2-.8zM787.2 396.4l-.2 1 1.3.2.2-1zM980 428.6l-.8 4.3 2.5.5.8-4.3zM788.3 397.6l-.2 1 1.3.3.2-1zM983 433.6l-.8 4.4 1.2.3.9-4.4zM778 396.5l-.2.8 2.5.6.2-.9zM788.1 398.6l-.2 1 2.5.5.3-1zM983.4 438.3l-.9 4.3 2.5.6 1-4.4zM776.5 397l-.2.8 5.1 1.2.2-.8zM789.2 399.8l-.3 1 1.3.3.2-1zM988.8 444l-1.1 4.5 3.8.9 1.1-4.5zM993.8 445.1l-1 4.6 1.2.3 1.1-4.6zM1001.4 446.8l-1.1 4.7 2.5.6 1.1-4.7zM1007.7 448.2l-1.1 4.8 1.2.3 1.2-4.8zM776.3 397.8l-.1.8 3.7 1 .2-.9zM788.9 400.8l-.2 1 1.2.3.3-1zM1000.3 451.5l-1.2 4.6 3.8 1 1.2-4.7zM1005.3 452.7l-1.2 4.7 1.3.4 1.2-4.8zM1009.1 453.6l-1.2 4.8 1.2.3 1.3-4.8zM1012.9 454.5l-1.3 4.9 3.8.9 1.2-4.9zM776.2 398.6l-.3.7 1.3.4.2-.8zM789.9 402.1l-.2 1 1.2.4.3-1zM991.6 454.2l-1.2 4.5 12.4 3.5 1.3-4.8zM1010.4 459.1l-1.3 4.8 1.2.3 1.3-4.8zM790.9 403.5l-.3 1 1.3.4.3-1.1zM997.8 460.8l-1.3 4.6 2.5.7 1.3-4.6zM1001.6 461.8l-1.4 4.7 1.3.4 1.3-4.7zM775.7 400.1l-.2.8 2.5.7.2-.8zM790.6 404.5l-.3 1 1.3.4.3-1zM776.7 401.3l-.2.7 3.7 1.3.2-.9zM791.6 405.9l-.4 1 1.2.5.4-1.1zM777.7 402.4l-.3.8 1.3.5.2-.9zM756.7 395.9l-.2.4 1.2.5.2-.5zM778.7 403.7l-.3.8 1.2.4.3-.8zM792.1 408.4l-.4 1 1.2.5.4-1.1zM755.3 395.9l-.1.4 2.4.9.1-.4zM779.6 404.9l-.3.8 1.2.5.3-.8zM791.7 409.4l-.4 1.1 1.2.4.4-1zM755.2 396.3l-.2.4 3.6 1.4.2-.4zM780.5 406.2l-.4.8 3.6 1.5.4-.9zM791.3 410.5l-.4 1 1.2.5.4-1.1zM756.2 397.1l-.2.5 1.2.5.2-.5zM782.5 408l-.4.9 2.4 1 .4-.9zM783.3 409.4l-.4.9 4.7 2.2.5-1zM755.6 398.4l-.2.4 1.2.6.2-.5zM754.3 398.2l-.2.4 3.4 1.8.3-.5zM752.9 398l-.1.4 1.1.6.2-.4zM756.4 399.8l-.2.4 1.1.6.2-.4zM752.8 398.4l-.2.3 3.3 1.9.3-.4zM978.7 520.9l-2.3 4.2 4.4 2.6 2.5-4.4zM751.4 398.1l-.2.3 1.2.7.2-.4zM973 523.2l-2.4 4.2 1.1.6 2.4-4.1zM977.5 525.8l-2.5 4.2 1.1.6 2.5-4.2zM754.6 400.4l-.3.4 1.2.6.2-.4zM970.6 527.4l-2.5 4.1 3.3 2 2.5-4.2zM751 398.7l-.2.4 1.1.7.2-.4zM754.3 400.8l-.2.3 1.1.7.3-.4zM993.3 547l-2.8 4.5 1.1.7 2.8-4.6zM751.9 399.8l-.2.3 3.2 2.1.3-.4zM988.3 550.1l-2.9 4.4 2.1 1.4 3-4.4zM999.2 557l-3.1 4.6 4.3 2.8 3.1-4.6zM1007.8 562.5l-3.1 4.8 3.2 2.1 3.2-4.8zM1012.2 565.3l-3.2 4.8 1.1.7 3.2-4.8zM753.9 401.5l-.3.4 1.1.7.2-.4zM984.3 553.8l-3 4.4 1.1.7 3-4.4zM988.6 556.6l-3 4.5 1.1.7 3-4.4zM996.1 561.6l-3.1 4.6 2.1 1.4 3.2-4.6zM1001.5 565.2l-3.2 4.6 2.1 1.5 3.2-4.7zM753.6 401.9l-.2.4 1 .7.3-.4zM980.3 557.4l-3 4.3 4.1 3 3.1-4.4zM752.3 401.5l-.3.4 1.1.7.3-.3zM752 401.9l-.2.3 1 .8.3-.4zM749.7 400.6l-.2.3 3 2.5.3-.4zM749.5 400.9l-.2.3 2.9 2.5.3-.3zM965.3 593l-3.7 4 2.8 2.7 3.7-4.1zM982.6 608.3l-3.9 4.4.9.8 3.9-4.3zM960.7 596.2l-3.7 3.9.9.9 3.7-4zM963.5 598.8l-3.7 4 .9.8 3.7-3.9zM979.6 613.5l-4 4.3.9.9 4.1-4.3zM953.2 596.6l-3.7 3.8 3.7 3.6 3.8-3.9zM959.8 602.8l-3.9 3.9 1.9 1.8 3.8-4zM1000.8 641.6l-4.6 4.6 1 .9 4.5-4.6zM1005.4 646l-4.6 4.7 4.6 4.5 4.7-4.8zM948.6 599.5l-3.8 3.7 1.8 1.8 3.8-3.7zM952.3 603.1l-3.9 3.8 8.2 8.2 3.9-3.9zM966.9 617.5l-4 4 1.8 1.8 4.1-4zM1008.1 657.9l-4.8 4.7.9 1 4.9-4.8zM1011.8 661.5l-4.9 4.8.9.9 4.9-4.8zM944.8 603.2l-3.8 3.7 3.6 3.7 3.8-3.7zM950.2 608.7l-3.9 3.7 3.6 3.8 3.9-3.8zM961.1 619.7l-4.2 3.9 1.8 1.9 4.2-4zM965.6 624.3l-4.2 4 1.7 1.8 4.3-4zM982.7 641.6l-4.5 4.3.8 1 4.6-4.4zM984.5 643.5l-4.6 4.3.9.9 4.6-4.3zM941.9 607.8l-3.9 3.6.9.9 3.9-3.6zM947.2 613.4l-4 3.7.9.9 4-3.7zM950.7 617.1l-4 3.8.9.9 4-3.8zM956.1 622.7l-4.2 3.8 1.7 1.9 4.2-3.9zM977.3 645l-4.6 4.2.9 1 4.6-4.3zM1017.9 687.7l-5.3 4.9.8 1 5.4-5zM974.4 651.1l-4.6 4.2 1.7 1.9 4.7-4.2zM1011.7 691.7l-5.4 4.8.9.9 5.4-4.8zM776 436.6l-.9.8 3.4 3.9.9-.8zM947.7 630.3l-4.3 3.7 2.5 2.9 4.3-3.7zM952.8 636.1l-4.4 3.7.8 1 4.4-3.8zM968.9 654.3l-4.7 4.1 1.7 1.9 4.7-4.1zM971.5 657.2l-4.8 4.1 1.7 1.9 4.8-4.1zM1004.6 694.6l-5.4 4.6.8 1 5.5-4.7zM772.6 434.4l-.8.7.8 1 .9-.7zM775.1 437.4l-.8.7 3.2 4 1-.8zM937.5 627.2l-4.2 3.5.8 1 4.3-3.5zM950.9 642.8l-4.5 3.7.8 1 4.5-3.8zM963.4 657.4l-4.8 4 1.6 1.9 4.8-4zM1005 706l-5.6 4.7 1.6 2 5.7-4.7zM771 434.1l-.9.7.8 1 .9-.7zM774.3 438.1l-.9.7 2.4 3.1.9-.8zM929.2 625.8l-4.2 3.3 1.6 2 4.2-3.4zM947.2 647.5l-4.6 3.7.8 1 4.6-3.7zM948.8 649.5l-4.6 3.7 4.8 6 4.7-3.8zM771.7 436.8l-.8.7 3.9 5.1 1-.7zM924.2 628.1l-4.3 3.3.8 1 4.3-3.3zM942.6 651.2l-4.7 3.6.8 1 4.7-3.6zM995.2 717.3l-5.8 4.5.8 1 5.8-4.5zM917.6 628.4l-4.3 3.1 1.6 2.1 4.3-3.2zM987.8 719.8l-5.8 4.3.7 1.1 5.9-4.4zM913.3 631.5l-4.3 3.2.8 1 4.3-3.1zM977.4 718l-5.8 4.2.7 1 5.9-4.2zM909 634.7l-4.3 3 1.4 2.1 4.4-3.1zM949.3 690.9l-5.4 3.8.7 1 5.4-3.7zM971.6 722.2l-5.9 4.1.7 1 5.9-4.1zM906.1 639.8l-4.4 3 .7 1 4.5-3zM922.1 663l-4.8 3.3.7 1 4.8-3.2zM926.5 669.4l-5 3.3.7 1 5-3.3zM928.7 672.5l-5.1 3.4 1.4 2.1 5.1-3.4zM932.3 677.8l-5.1 3.4 2.8 4.3 5.2-3.5zM938.1 686.2l-5.3 3.5.7 1.1 5.3-3.5zM942.4 692.6l-5.3 3.5 1.4 2.2 5.4-3.6zM903.1 644.9l-4.5 2.9.6 1.1 4.6-2.9zM904.5 647l-4.6 3 1.4 2.2 4.6-3zM932.1 688.7l-5.3 3.4.7 1.1 5.3-3.5zM933.5 690.8l-5.3 3.5 5.5 8.6 5.5-3.6zM941.3 702.5l-5.6 3.6.7 1.1 5.6-3.6zM943.4 705.7l-5.6 3.7 1.4 2.1 5.6-3.6zM947 711.1l-5.7 3.6.6 1.1 5.8-3.7zM956.9 726l-6 3.8.7 1.1 6-3.8zM913 670.5l-5 3.1 2.7 4.4 5.1-3.2zM918.5 679.2l-5.1 3.1.7 1.1 5.1-3.2zM926.1 691l-5.3 3.3 3.3 5.5 5.5-3.4zM930.2 697.5l-5.4 3.4 1.3 2.2 5.5-3.4zM933.7 702.9l-5.6 3.4 1.4 2.2 5.6-3.5zM935.7 706.1l-5.6 3.5 6.7 10.9 5.8-3.6zM906.7 671.4l-5 3 .6 1.1 5.1-3zM926.1 703.1l-5.5 3.3 1.3 2.2 5.6-3.4zM929.5 708.5l-5.7 3.4.7 1.1 5.6-3.4zM930.8 710.7l-5.7 3.4 3.3 5.5 5.7-3.5zM934.8 717.2l-5.8 3.5.7 1.1 5.8-3.5zM940.2 725.9l-6 3.6.6 1.1 6-3.6zM927.7 718.5l-5.8 3.3.6 1.1 5.9-3.3zM934.8 730.6l-6 3.4.6 1.2 6.1-3.5zM893.5 671.7l-5 2.8.6 1.1 5-2.8zM905.5 692.9l-5.4 2.9.6 1.2 5.4-3zM920.6 719.6l-5.8 3.2 1.2 2.3 5.9-3.3zM922.5 722.9l-5.9 3.3.6 1.1 5.9-3.3zM887.9 673.4l-5.1 2.6.6 1.1 5.1-2.6zM901.9 699.2l-5.5 2.9.6 1.1 5.5-2.9zM882.8 676l-5 2.6.5 1.1 5.1-2.6zM897 703.2l-5.5 2.8.5 1.2 5.6-2.8zM1014.8 929.2l-9.5 4.8 1.1 2.2 9.6-4.8zM890.9 704.9l-5.6 2.7.6 1.2 5.6-2.8zM883.1 703l-5.5 2.5.5 1.2 5.6-2.6zM863.3 688.1l-5.3 2.2.5 1.2 5.3-2.2zM873.5 711.5l-5.7 2.4 1 2.4 5.7-2.4zM858 690.3l-5.3 2.1.9 2.4 5.4-2.1zM868.8 716.3l-5.8 2.3.5 1.2 5.8-2.3zM852.7 692.4l-5.4 2.1.9 2.4 5.4-2.1zM864.4 722.2l-5.9 2.2.5 1.2 5.9-2.2zM866.8 728.1l-6 2.3.9 2.4 6-2.3zM846.9 693.3l-5.4 1.9.9 2.4 5.4-1.9zM859 725.6l-6 2.2.5 1.2 5.9-2.2zM859.9 728l-6 2.2.9 2.4 6-2.2zM861.7 732.8l-6.1 2.2.4 1.2 6.1-2.2zM841.1 694l-5.4 1.9 1.2 3.6 5.5-1.9zM853 727.8l-5.9 2 2.8 8.5 6.1-2.1zM834.5 692.2l-5.4 1.7 1.6 4.9 5.4-1.7zM836.9 699.5l-5.5 1.8.4 1.2 5.5-1.8zM846.3 727.4l-6 1.9.8 2.4 6-1.9zM847.5 731l-6.1 1.9.4 1.3 6.1-2zM849.1 735.9l-6.1 1.9.8 2.5 6.1-2zM854 750.4l-6.4 2 .4 1.2 6.4-2zM827.6 689.1l-5.3 1.6.7 2.4 5.4-1.6zM829.5 695.2l-5.4 1.6 1.1 3.7 5.5-1.7zM831.4 701.3l-5.5 1.6.4 1.3 5.5-1.7zM843.8 740.3l-6.2 1.8.7 2.5 6.2-1.9zM845.7 746.3l-6.3 2 .3 1.2 6.4-1.9zM846.4 748.8l-6.3 1.9 1.1 3.7 6.4-2zM848 753.6l-6.4 2 .3 1.2 6.5-1.9zM820.8 685.8l-5.2 1.4.7 2.5 5.3-1.5zM843.7 762.9l-6.6 1.9.7 2.5 6.7-1.9zM815.9 688.5l-5.2 1.4.6 2.5 5.3-1.5zM838.2 768.5l-6.7 1.8.3 1.2 6.7-1.8zM811 691.1l-5.3 1.3.9 3.8 5.3-1.4zM832.4 774l-6.7 1.7.3 1.2 6.8-1.7zM805.4 691.2l-5.4 1.2.3 1.3 5.4-1.3zM826.3 778.1l-6.9 1.6.3 1.2 6.9-1.5zM827.2 781.9l-7 1.5.6 2.5 7-1.6zM830.7 796.7l-7.1 1.7 1.1 4.9 7.2-1.6zM833.1 806.6l-7.3 1.7.2 1.3 7.4-1.7zM819.4 779.7l-6.9 1.4.8 3.8 6.9-1.5zM820.5 784.7l-6.9 1.4.2 1.3 7-1.5zM822.7 794.6l-7.1 1.5 1 5 7.2-1.5zM824.9 804.6l-7.3 1.5 1 5 7.4-1.5zM794.7 693.5l-5.4 1.1.3 1.2 5.3-1zM812.8 782.4l-6.9 1.3.4 2.5 7-1.3zM814.1 788.6l-7.1 1.4.5 2.5 7.1-1.4zM817.6 806.1l-7.3 1.4.5 2.5 7.3-1.4zM807.7 793.8l-7.1 1.2.2 1.3 7.2-1.3zM784.1 696.8l-5.4.8.2 1.3 5.5-.9zM784.6 699.3l-5.5.9.8 5 5.5-.8zM800.8 796.3l-7.1 1.1.1 1.2 7.2-1.1zM779.5 702.7l-5.5.8.3 2.5 5.6-.8zM794 799.9l-7.2 1 .2 1.3 7.2-1zM774.1 704.7l-5.5.7.3 2.5 5.6-.6zM786.8 800.9l-7.2.9.1 1.3 7.3-.9zM781.4 818.2l-7.5.8.3 2.6 7.5-.8zM763.2 708.5l-5.6.5.1 1.3 5.7-.5zM775 830.4l-7.7.7.2 2.5 7.8-.6zM757.8 711.6l-5.6.4.2 3.8 5.7-.4zM767.7 836.2l-7.9.5.2 3.8 8-.5zM752.3 714.5l-5.7.3.2 3.8 5.7-.3zM759.9 838l-7.9.4.2 5.1 8-.4zM746.7 717.4l-5.8.2.2 5.1 5.8-.2zM752.3 846l-8 .3.1 5.1 8.1-.3zM744.5 853.9l-8.2.2.1 1.2 8.1-.1zM735.3 730.4l-6 0-.1 2.6 6.1 0zM736.4 861.7l-8.3 0 0 1.3 8.3 0zM729.2 738.1l-6.1-.1-.1 1.3 6.2.1zM728.1 865.5l-8.4-.1-.2 8.9 8.5.1zM722.9 743.1l-6.2-.2-.3 6.4 6.4.2zM715.7 765.8l-6.6-.3-.1 1.3 6.6.3zM715.6 768.4l-6.7-.4-.2 3.9 6.7.3zM715.3 774.8l-6.8-.4 0 1.3 6.8.3zM710.5 885.4l-8.7-.5-.2 2.6 8.8.4zM710.2 891.7l-8.8-.4-.3 5.1 8.9.4zM709.6 904.4l-9-.4-.1 1.2 9.1.5zM709.5 908.2l-9.1-.4-.2 2.5 9.2.5zM708.5 774.4l-6.7-.5-.1 1.3 6.8.5zM708.3 778.2l-6.8-.4-.2 2.5 6.8.5zM700.1 912.8l-9.2-.6-.1 1.3 9.2.6zM699.6 920.4l-9.3-.6-.3 3.8 9.4.6zM701.9 772.7l-6.8-.6-.6 6.3 6.9.6zM701.3 780.3l-6.9-.6-.2 2.5 6.9.6zM690.9 912.2l-9.2-.8-.4 3.8 9.3.8zM694.5 778.4l-6.8-.7-.1 1.3 6.8.7zM694 783.5l-6.9-.7-.1 1.3 6.9.7zM680 929.1l-9.5-1-.1 1.3 9.5.9zM679.8 931.6l-9.6-1-.2 2.5 9.5 1zM687.3 781.5l-6.9-.8-.4 2.5 7 .9zM670 933.1l-9.6-1.1-1.3 10 9.7 1.2zM680.4 780.7l-6.9-1-.4 2.6 6.9.9zM679 790.8l-7-1-1 6.3 7.2 1zM678 798.4l-7.1-1-.6 3.8 7.2 1zM677 806l-7.3-1.1-.2 1.3 7.4 1zM676.5 809.8l-7.3-1.1-.2 1.3 7.4 1zM659.9 935.8l-9.6-1.4-.5 3.8 9.6 1.3zM658.9 943.3l-9.7-1.4-.2 1.3 9.8 1.4zM672.6 786l-7-1.1-.4 2.6 7 1.1zM670.1 802.4l-7.2-1.1-.5 2.5 7.3 1.1zM668.6 812.5l-7.4-1.2-.2 1.3 7.4 1.2zM668 816.3l-7.5-1.2-.2 1.3 7.5 1.1zM650.7 931.9l-9.5-1.5-.8 5 9.6 1.5zM649.2 941.9l-9.7-1.5-.6 3.8 9.8 1.5zM716 484l-1.7-.3-.4 2.6 1.7.3zM659.1 823.9l-7.7-1.3-.2 1.2 7.7 1.4zM648.3 887.9l-8.7-1.6-.2 1.3 8.7 1.5zM642 925.4l-9.3-1.6-.3 1.2 9.4 1.7zM641.6 927.9l-9.4-1.6-.7 3.7 9.5 1.7zM640.6 934.2l-9.6-1.7-.9 5 9.6 1.7zM715.1 479.9l-1.7-.3-.5 2.6 1.7.3zM713.6 487.5l-1.7-.3-.3 1.3 1.8.3zM650 830.1l-7.7-1.5-.2 1.2 7.7 1.5zM639.8 885.1l-8.7-1.7-.2 1.3 8.7 1.6zM639.4 887.6l-8.8-1.7-1 5 8.8 1.7zM632.9 922.5l-9.4-1.8-.5 2.5 9.4 1.8zM632.2 926.3l-9.4-1.8-1 4.9 9.5 1.9zM713.4 479.6l-1.6-.3-.3 1.2 1.7.4zM711.6 488.5l-1.7-.4-.3 1.2 1.8.4zM639.8 841.1l-7.9-1.7-.9 3.7 8 1.7zM637 854.8l-8.2-1.7-1.1 4.9 8.3 1.8zM631.9 879.7l-8.6-1.8-.5 2.5 8.6 1.8zM630.6 885.9l-8.7-1.8-.2 1.2 8.7 1.9zM629.9 889.6l-8.8-1.8-.5 2.5 8.8 1.8zM625.8 909.6l-9.1-2-.6 2.5 9.2 1.9zM624.8 914.5l-9.2-1.9-.6 2.5 9.3 1.9zM623.8 919.5l-9.3-2-1.1 5 9.4 2zM711.8 479.3l-1.6-.4-.3 1.3 1.6.3zM626.9 861.7l-8.3-1.8-.6 2.4 8.3 1.9zM623.6 876.6l-8.6-1.9-.3 1.2 8.6 2zM621.4 886.6l-8.7-2-.9 3.7 8.8 2zM619.4 895.2l-8.8-2-.9 3.7 8.9 2.1zM617.5 903.9l-9-2-.6 2.4 9.1 2.1zM616.7 907.6l-9.1-2-1.2 4.9 9.2 2.1zM605.7 957.2l-9.9-2.3-.3 1.2 9.9 2.3zM709.6 481.4l-1.6-.4-.4 1.3 1.7.4zM709 483.9l-1.7-.4-.3 1.3 1.7.4zM596 953.7l-9.8-2.5-.4 1.3 10 2.4zM723.3 419.6l-.6-.1-.4 1.2.6.2zM722.6 422.1l-.6-.1-.4 1.2.6.2zM722.7 419.5l-.6-.2-.4 1.2.6.2zM722.5 418.1l-.5-.2-.4 1.2.5.2zM721.4 421.8l-.6-.2-.5 1.2.7.2zM722 417.9l-.5-.2-1.8 4.9.6.2zM720.6 420.2l-.6-.3-.9 2.5.6.2zM720.5 418.7l-.6-.2-1.4 3.6.6.3zM719.9 418.5l-.5-.2-1.5 3.6.6.2zM718.4 420.7l-.6-.3-.5 1.2.6.3zM717.8 420.4l-.6-.2-.5 1.2.6.2zM717.8 419l-.6-.2-1.1 2.3.6.3zM708.6 439l-.9-.4-1.6 3.5.9.4zM682.4 496.5l-1.9-.9-1.1 2.3 1.9.9zM717.2 418.8l-.5-.3-.6 1.1.6.3zM705 444.4l-1-.5-1.2 2.3 1 .5zM680.5 495.6l-1.9-.9-1.7 3.5 1.9.9zM598 668.3l-4.9-2.3-.6 1.1 4.9 2.4zM560.5 746.8l-6.3-3-.6 1.1 6.3 3.1zM716.7 418.5l-.6-.3-.6 1.2.6.2zM715.5 420.8l-.6-.3-.6 1.2.6.3zM702.2 447.4l-1-.6-.6 1.2 1.1.5zM676.9 498.2l-2-1-1.2 2.3 2 1zM593.6 664.8l-4.8-2.4-.6 1.1 4.9 2.5zM592.5 667.1l-4.9-2.5-.6 1.2 4.9 2.5zM701.8 445.7l-1-.5-.7 1.1 1.1.5zM677.3 492.6l-1.8-1-.6 1.2 1.8.9zM673.7 499.5l-1.9-1.1-.6 1.2 2 1zM551.5 733.8l-6-3.1-.6 1.1 6 3.2zM550.3 736.1l-6-3.2-.6 1.1 6.1 3.2zM706.9 433.8l-.8-.4-.6 1.1.8.5zM700.8 445.2l-1-.6-.7 1.1 1 .6zM675.5 491.6l-1.8-1-1.3 2.3 1.9 1zM671.8 498.4l-1.9-1-.7 1.1 2 1.1zM545.5 730.7l-6-3.3-.6 1.1 6 3.3zM543 735.2l-6-3.4-1.3 2.2 6.1 3.4zM673 491.8l-1.8-1.1-3.9 6.7 1.9 1.1zM542 722.9l-5.8-3.3-3.3 5.5 6 3.4zM535.7 734l-6-3.4-.7 1.1 6.1 3.5zM698.8 444l-1-.6-.7 1.1 1 .6zM671.2 490.7l-1.8-1.1-1.3 2.2 1.8 1.1zM668.6 495.1l-1.9-1.1-1.3 2.2 1.9 1.2zM536.2 719.6l-5.8-3.5-2.7 4.4 5.9 3.5zM703.2 434.6l-.8-.5-.7 1.1.8.5zM697.8 443.4l-1-.6-.7 1.1 1 .6zM668.7 490.7l-1.8-1.1-1.3 2.2 1.8 1.1zM527.7 720.5l-5.8-3.6-3.4 5.4 5.9 3.6zM523 728.1l-5.9-3.7-.7 1.1 5.9 3.7zM714.2 415.6l-.5-.3-.7 1.1.5.3zM703 433l-.8-.5-.7 1.1.9.5zM698.2 440.7l-.9-.6-.8 1 1 .6zM686.4 459.2l-1.3-.9-1.4 2.2 1.3.8zM666.9 489.6l-1.7-1.1-1.5 2.1 1.9 1.2zM703 431.4l-.8-.5-.7 1.1.7.5zM697.3 440.1l-1-.7-1.4 2.2.9.6zM685.8 457.3l-1.2-.8-.7 1 1.2.8zM701.5 432l-.8-.6-.8 1.1.8.6zM696.3 439.4l-.9-.6-.7 1.1.9.6zM684.6 456.5l-1.2-.9-.7 1.1 1.2.8zM700.7 431.4l-.8-.5-.8 1 .8.6zM695.4 438.8l-.9-.6-.7 1 .9.7zM682.7 456.7l-1.2-.9-.8 1 1.2.9zM680.4 459.8l-1.2-.9-.8 1 1.3 1zM469.9 754.4l-6.4-4.6-1.5 2.1 6.4 4.6zM467.7 757.5l-6.5-4.6-1.5 2 6.5 4.7zM712.2 414.3l-.4-.4-.8 1 .5.4zM693.8 439.2l-.9-.7-.8 1 .9.7zM679.9 457.9l-1.2-1-.8 1.1 1.3.9zM527.5 663.5l-4.8-3.6-1.6 2 4.9 3.6zM523.7 668.6l-4.9-3.6-.8 1 4.9 3.7zM468.8 742.6l-6.1-4.6-2.4 3.1 6.3 4.6zM712.6 412.9l-.5-.4-2.4 3.1.5.4zM698.4 431.3l-.8-.6-1.6 2.1.8.6zM693.6 437.5l-.8-.7-.8 1 .9.7zM525 656.8l-4.6-3.6-1.6 2 4.7 3.7zM522.7 659.9l-4.7-3.7-1.6 2 4.7 3.7zM519.6 664l-4.8-3.8-.8 1 4.8 3.8zM517.2 667l-4.8-3.8-.8 1 4.9 3.8zM463.4 737l-6.1-4.7-1.6 2 6.2 4.7zM447.9 757.3l-6.5-5-.8 1 6.5 5zM712.1 412.5l-.4-.3-.9 1 .5.4zM709.7 415.6l-.5-.4-.8 1 .5.4zM695.2 433.8l-.8-.7-1.7 2 .9.7zM519.6 654.2l-4.7-3.7-.8 1 4.7 3.7zM517.2 657.2l-4.7-3.8-.9 1 4.8 3.8zM514.8 660.2l-4.8-3.8-.8 1 4.8 3.8zM478.9 705.3l-5.6-4.5-2.4 3 5.6 4.5zM458.1 731.3l-6-4.8-.8 1 6 4.8zM443 750.3l-6.3-5.1-.8 1 6.3 5.1zM711.7 412.2l-.5-.4-3.3 4 .5.4zM577 575.2l-3.2-2.7-.9 1 3.3 2.7zM570.5 583.2l-3.4-2.9-.9 1 3.5 2.9zM537.8 622.8l-4.1-3.4-2.5 2.9 4.1 3.5zM532.9 628.7l-4.2-3.5-.9 1 4.3 3.5zM511.6 654.4l-4.6-3.8-.8.9 4.6 3.9zM510 656.4l-4.7-3.9-.8 1 4.7 3.9zM436.7 745.2l-6.3-5.2-.8 1 6.3 5.2zM649.9 483.5l-1.6-1.5-.9 1 1.7 1.5zM574.6 571.5l-3.2-2.7-.9.9 3.3 2.8zM565.4 582.3l-3.4-2.9-.8.9 3.4 3zM536.2 616.4l-4-3.4-.9 1 4 3.4zM527.8 626.2l-4.1-3.6-.9 1 4.2 3.6zM649.1 481.1l-1.6-1.5-.9 1 1.7 1.4zM647.4 483l-1.7-1.5-2.6 2.9 1.7 1.5zM643.1 487.8l-1.7-1.5-1.8 1.9 1.8 1.5zM571.4 568.8l-3.2-2.8-.8.9 3.1 2.8zM561.2 580.3l-3.4-3-.9 1 3.4 3zM539.8 604.4l-3.7-3.4-.9.9 3.8 3.4zM532.2 613l-3.9-3.5-.9 1 3.9 3.5zM523.7 622.6l-4.1-3.6-.9.9 4.1 3.7zM437.8 719.5l-5.7-5.2-.9 1 5.8 5.1zM644.9 482.5l-1.7-1.6-4.4 4.7 1.7 1.6zM638.8 489.1l-1.8-1.6-2.7 2.8 1.9 1.7zM568.2 566l-3.1-2.9-.9.9 3.2 2.9zM521.3 617.1l-4-3.7-1.8 1.8 4.1 3.8zM423.4 723.7l-5.9-5.4-6.1 6.5 6 5.5zM641.4 482.8l-1.6-1.6-1.8 1.8 1.7 1.7zM637 487.5l-1.7-1.7-2.8 2.7 1.8 1.8zM563.3 564.9l-3-2.9-2.7 2.7 3.1 3zM532.4 597.6l-3.7-3.5-.9.9 3.7 3.5zM518.2 612.4l-3.9-3.7-3.6 3.7 4 3.8zM642.5 478.4l-1.6-1.5-.9.9 1.6 1.6zM640.7 480.3l-1.6-1.6-2.8 2.7 1.7 1.6zM633.5 487.6l-1.8-1.7-.9.9 1.7 1.7zM528.7 594.1l-3.6-3.6-.9.9 3.6 3.6zM514.3 608.7l-3.9-3.8-1.8 1.8 3.9 3.8zM508 615.1l-4-3.9-1.8 1.8 4 3.9zM462.1 661.7l-4.8-4.7-2.8 2.7 4.9 4.8zM458.5 665.4l-4.9-4.8-.9.9 4.9 4.8zM688.9 429.8l-.8-.7-1.9 1.7.8.8zM685.2 433.5l-.8-.9-1.9 1.8.8.9zM639.1 478.7l-1.6-1.7-1.9 1.8 1.6 1.7zM630.8 486.8l-1.7-1.8-1 .9 1.8 1.8zM511.3 604l-3.7-3.9-1.9 1.8 3.8 3.9zM504.9 610.3l-3.9-4-2.8 2.6 4 4.1zM463.7 650.7l-4.6-4.7-1.9 1.8 4.7 4.7zM451.8 662.4l-4.8-4.9-2.8 2.6 4.9 5zM686.2 430.8l-.7-.8-2.9 2.7.8.8zM636.6 477.9l-1.6-1.7-1 .9 1.6 1.7zM629.1 485l-1.7-1.8-1 .9 1.7 1.8zM520.6 587.7l-3.5-3.7-.9.9 3.5 3.7zM505.7 601.9l-3.7-4-1 .9 3.8 4zM502.9 604.5l-3.8-4-.9.9 3.8 4zM499.2 608.1l-3.9-4.1-2.8 2.6 3.9 4.1zM444.2 660.1l-4.7-5-1 .9 4.8 5zM687.4 428.3l-.7-.8-1 .9.7.8zM683.6 431.8l-.8-.9-1 .9.8.9zM634 477.1l-1.5-1.7-6.8 6 1.7 1.8zM502 597.9l-3.7-4-2.9 2.5 3.7 4.1zM492.5 606.6l-3.8-4.2-4.8 4.2 3.9 4.3zM455.6 640.4l-4.5-4.9-.9.9 4.4 4.8zM439.5 655.1l-4.7-5.1-1 .8 4.7 5.2zM436.6 657.7l-4.7-5.2-1.9 1.7 4.7 5.2zM685.7 428.4l-.7-.9-1 .9.7.8zM682.8 430.9l-.7-.8-2 1.6.8.9zM510.8 582.8l-3.4-3.8-1 .8 3.5 3.9zM488.7 602.4l-3.8-4.3-2.9 2.5 3.8 4.3zM484.8 605.8l-3.8-4.3-1.9 1.6 3.8 4.4zM481.9 608.3l-3.8-4.3-1 .8 3.9 4.4zM450.2 636.4l-4.4-4.9-2.9 2.5 4.4 4.9zM441.5 644l-4.4-5.1-2 1.7 4.5 5.1zM437.7 647.4l-4.5-5.1-1 .8 4.5 5.2zM680.1 431.7l-.8-.9-2 1.7.8.9zM505.5 580.6l-3.4-3.9-1 .8 3.4 4zM484 599l-3.7-4.4-1 .8 3.7 4.4zM482 600.6l-3.7-4.3-4 3.2 3.8 4.5zM450.7 627.3l-4.2-4.9-.9.8 4.2 4.9zM442.9 634l-4.3-5.1-1 .8 4.3 5.1zM678.3 431.6l-.8-.9-1 .8.8 1zM500.1 578.3l-3.3-4.1-3 2.4 3.3 4.1zM495.2 582.4l-3.4-4.2-2.1 1.6 3.5 4.2zM479.3 595.4l-3.6-4.4-4.1 3.2 3.7 4.5zM472.3 601.2l-3.7-4.6-1 .8 3.7 4.6zM468.4 604.4l-3.8-4.6-2 1.6 3.8 4.7zM492.8 577.4l-3.3-4.2-1.1.8 3.4 4.2zM489.7 579.8l-3.3-4.2-1 .8 3.3 4.2zM477.7 589.4l-3.5-4.4-2.1 1.5 3.6 4.5zM459.6 603.8l-3.8-4.8-1 .8 3.7 4.8zM485.4 576.4l-3.3-4.3-7.2 5.3 3.3 4.4zM477.2 582.6l-3.4-4.4-2.1 1.5 3.5 4.5zM455.8 599l-3.7-4.8-1 .8 3.7 4.8zM475.9 576.6l-3.3-4.4-1.1.7 3.4 4.5zM472.8 578.9l-3.4-4.5-1 .7 3.3 4.6zM469.7 581.2l-3.4-4.6-1 .8 3.3 4.6zM470.5 573.6l-3.2-4.5-3.2 2.2 3.3 4.6zM464.2 578.1l-3.3-4.7-3.2 2.2 3.4 4.8zM459 581.9l-3.4-4.8-1.1.7 3.4 4.8zM453.7 585.6l-3.4-4.9-1.1.7 3.5 4.9zM455.6 577.1l-3.3-4.9-3.2 2.2 3.3 4.9zM400.8 606.3l-3.8-5.8-1.1.7 3.8 5.8zM398.7 607.7l-3.9-5.8-1.1.6 3.9 5.9zM421.8 528.5l-2.5-5.4-3.5 1.5 2.5 5.5zM190 634l-4.3-9.5-1.2.5 4.3 9.5zM180.6 638.2l-4.4-9.6-4.7 2 4.5 9.7zM419.3 523.1l-2.3-5.5-1.2.5 2.4 5.5zM415.8 524.6l-2.4-5.5-1.2.5 2.4 5.5zM357.9 549.8l-2.8-6.6-1.2.5 2.8 6.6zM355.5 550.8l-2.8-6.6-6 2.5 2.9 6.6zM348.4 553.9l-2.9-6.7-1.1.5 2.9 6.7zM162.1 634.7l-4.3-9.9-1.2.5 4.3 9.9zM157.4 636.8l-4.4-10-1.2.5 4.4 10zM140.9 643.9l-4.5-10.3-3.5 1.5 4.5 10.4zM356.3 542.7l-2.8-6.5-1.2.4 2.8 6.6zM342 548.6l-2.8-6.8-2.4 1 2.8 6.8zM338.4 550.1l-2.8-6.9-1.2.5 2.8 6.9zM193.4 610.1l-3.9-9.4-3.6 1.4 3.9 9.5zM151.8 627.3l-4.2-10.1-1.2.4 4.2 10.2zM143.5 630.7l-4.2-10.3-1.2.5 4.2 10.3zM125.7 638.1l-4.4-10.6-1.2.5 4.4 10.5zM334.4 543.7l-2.8-6.9-2.4.9 2.8 7zM311.6 552.7l-2.9-7.4-1.2.5 2.9 7.3zM189.5 600.7l-3.8-9.5-4.8 1.8 3.8 9.6zM142.8 619l-4-10.2-1.2.4 4 10.3zM109.4 632.2l-4.3-10.8-1.2.4 4.3 10.9zM348.5 530.5l-2.4-6.7-1.3.4 2.5 6.7zM335.3 535.4l-2.6-6.9-2.4.9 2.5 6.9zM314.7 543.1l-2.7-7.3-1.2.4 2.7 7.3zM308.7 545.3l-2.7-7.3-1.3.4 2.8 7.4zM179.7 593.5l-3.6-9.6-1.2.4 3.6 9.6zM162.8 599.8l-3.7-9.9-2.4.8 3.7 10zM147.2 605.6l-3.8-10.2-2.5.9 3.9 10.2zM103.9 621.8l-4.2-10.9-1.2.4 4.2 10.9zM402 504l-2.1-5.7-4.8 1.6 2 5.8zM389.8 508.3l-2.1-6-2.4.9 2.1 6zM312 535.8l-2.6-7.3-1.2.4 2.6 7.3zM190.6 578.7l-3.3-9.4-2.5.8 3.4 9.5zM160.3 589.4l-3.5-9.9-4.9 1.6 3.6 10.1zM147 594.2l-3.6-10.2-2.5.8 3.7 10.2zM140.9 596.3l-3.6-10.3-1.3.4 3.7 10.3zM125.2 601.9l-3.8-10.6-1.2.4 3.8 10.6zM102.2 610l-4-11-1.2.4 3.9 11zM403.6 497l-1.9-5.7-1.2.4 1.9 5.7zM382.8 504l-2-6.1-1.2.4 2 6.1zM359.6 511.7l-2.2-6.5-1.2.4 2.2 6.5zM354.7 513.4l-2.2-6.6-2.5.8 2.2 6.6zM190.9 568.1l-3.1-9.5-2.5.8 3.2 9.5zM164.1 577l-3.3-9.9-6.2 2 3.4 10zM155.6 579.9l-3.4-10.1-1.3.4 3.4 10.1zM150.7 581.5l-3.4-10.1-3.7 1.1 3.4 10.2zM145.8 583.1l-3.4-10.2-1.3.4 3.5 10.3zM401.7 491.3l-1.8-5.8-1.2.4 1.8 5.8zM396.8 492.8l-1.8-5.8-1.3.4 1.9 5.8zM380.8 497.9l-1.9-6.1-1.3.3 2 6.2zM341.4 510.3l-2.1-6.8-1.3.3 2.2 6.9zM239.4 542.4l-2.7-8.6-1.3.4 2.7 8.6zM230.8 545.1l-2.8-8.7-3.7 1.1 2.8 8.8zM222.2 547.8l-2.8-8.9-11.2 3.3 2.9 9.1zM189 558.2l-3-9.4-1.2.4 3 9.4zM164.4 566l-3.1-9.9-1.2.4 3.1 9.9zM398.7 485.9l-1.7-5.8-5 1.4 1.7 5.9zM377.6 492.1l-1.8-6.2-1.2.4 1.8 6.2zM375.2 492.9l-1.9-6.3-1.2.4 1.8 6.2zM371.4 493.9l-1.8-6.2-1.2.3 1.8 6.3zM338 503.8l-2-6.8-1.2.3 2 6.9zM333.1 505.3l-2.1-7-1.2.4 2.1 7zM229.2 536l-2.6-8.8-4.9 1.4 2.6 8.9zM221.8 538.2l-2.6-8.9-16.2 4.5 2.8 9.1zM167.5 554.3l-3-9.9-2.4.7 2.9 9.9zM163.8 555.4l-3-9.9-6.2 1.7 3 10zM156.4 557.5l-3-10-1.3.4 3 10zM393.2 481.1l-1.6-5.9-5 1.3 1.7 6zM374.6 486.3l-1.7-6.3-1.3.4 1.7 6.2zM364.6 489l-1.7-6.4-2.5.7 1.7 6.4zM337.3 496.6l-1.9-6.9-1.3.3 1.9 7zM332.3 498l-1.9-7-3.8 1 2 7zM235.3 524.8l-2.4-8.6-1.2.3 2.4 8.7zM213 531l-2.5-9-1.3.3 2.5 9.1zM205.5 533.1l-2.5-9.2-1.3.3 2.6 9.2zM196.8 535.5l-2.6-9.3-3.7.9 2.6 9.4zM149.6 548.5l-2.8-10.1-1.2.3 2.8 10.2zM136 552.3l-2.9-10.4-3.8 1 3 10.5zM124.8 555.4l-2.9-10.6-1.3.4 3 10.6zM121.1 556.5l-3-10.7-1.2.3 3 10.7zM399.1 473.3l-1.5-5.8-3.7.9 1.5 5.8zM365.4 482l-1.7-6.4-2.5.6 1.7 6.4zM361.6 482.9l-1.7-6.4-1.2.3 1.7 6.5zM351.6 485.5l-1.7-6.6-1.3.3 1.8 6.7zM331.6 490.7l-1.8-7-3.8.9 1.9 7.1zM239.2 514.6l-2.3-8.6-2.5.6 2.3 8.6zM230.4 516.8l-2.2-8.7-1.3.3 2.3 8.7zM196.7 525.5l-2.4-9.3-1.3.3 2.5 9.3zM140.6 540l-2.7-10.3-2.5.6 2.7 10.4zM135.6 541.3l-2.7-10.4-1.3.3 2.7 10.4zM111.9 547.4l-2.8-10.8-1.3.3 2.8 10.8zM397.6 467.5l-1.4-5.9-1.2.3 1.4 5.9zM393.9 468.4l-1.4-5.9-1.3.2 1.4 6zM365 475.3l-1.6-6.4-1.2.3 1.5 6.4zM358.7 476.8l-1.6-6.5-1.2.3 1.5 6.5zM348.6 479.2l-1.6-6.7-1.2.3 1.6 6.7zM327.3 484.3l-1.7-7-1.3.2 1.7 7.1zM319.8 486.1l-1.8-7.2-1.2.3 1.7 7.2zM235.7 506.3l-2.1-8.7-1.3.3 2.1 8.7zM229.4 507.8l-2.1-8.8-1.3.3 2.2 8.8zM208.1 512.9l-2.2-9.2-1.3.3 2.2 9.2zM191.8 516.8l-2.3-9.4-2.5.5 2.3 9.5zM140.4 529.1l-2.5-10.3-7.6 1.7 2.6 10.4zM122.8 533.3l-2.5-10.6-1.3.3 2.6 10.6zM396.2 461.6l-1.2-5.8-1.3.2 1.3 5.9zM392.5 462.5l-1.3-6-2.6.5 1.3 6zM359.7 469.7l-1.5-6.5-2.5.5 1.4 6.6zM344.5 473.1l-1.5-6.8-1.2.3 1.5 6.7zM340.7 473.9l-1.5-6.8-2.5.5 1.5 6.9zM324.3 477.5l-1.5-7.1-1.3.3 1.6 7.1zM320.6 478.4l-1.6-7.2-3.8.8 1.6 7.2zM205.9 503.7l-2.1-9.1-3.8.7 2.1 9.3zM180.7 509.3l-2.1-9.6-2.6.5 2.2 9.7zM156.8 514.6l-2.3-10-2.5.5 2.3 10.1zM140.4 518.2l-2.3-10.3-2.5.5 2.3 10.4zM125.3 521.6l-2.4-10.6-1.2.3 2.3 10.6zM116.5 523.5l-2.4-10.7-1.3.3 2.4 10.7zM112.7 524.4l-2.4-10.8-1.3.2 2.5 10.8zM396.2 455.5l-1.2-5.9-5 1 1.2 5.9zM389.9 456.8l-1.2-6-1.3.3 1.2 5.9zM367.1 461.4l-1.3-6.3-2.5.4 1.3 6.4zM357 463.5l-1.4-6.6-2.5.5 1.3 6.6zM338 467.3l-1.4-6.8-2.6.4 1.4 6.9zM312.7 472.5l-1.5-7.3-1.3.2 1.5 7.3zM293.7 476.3l-1.6-7.6-2.5.5 1.5 7.6zM210.2 493.3l-1.9-9.1-1.3.2 1.9 9.1zM396.3 449.4l-1.1-5.8-6.3 1 1.1 6zM387.4 451.1l-1.1-6.1-1.3.3 1.1 6zM334 460.9l-1.2-6.9-1.3.2 1.3 7zM329 461.9l-1.3-7.1-6.4 1.1 1.3 7.1zM311.2 465.2l-1.4-7.4-3.8.7 1.4 7.4zM394 443.8l-1-5.9-1.3.2 1 5.9zM391.4 444.2l-1-5.9-2.5.3 1 6zM383.8 445.5l-1-6.1-2.6.4 1 6.1zM320 456.1l-1.2-7.2-1.3.2 1.2 7.2zM312.4 457.4l-1.3-7.3-5.1.7 1.3 7.5zM306 458.5l-1.2-7.5-1.3.2 1.2 7.5zM389.2 438.4l-.9-5.9-10.3 1.3.9 6.2zM318.8 448.9l-1.1-7.2-2.5.4 1.1 7.2zM313.7 449.7l-1.1-7.3-2.5.3 1 7.4zM304.8 451l-1.2-7.4-1.2.2 1.1 7.4zM705.9 277.6l1.9-.4-.8-3.8-2 .4zM692.5 222l2.9-.7-.3-1.3-2.9.7zM691.9 219.5l2.9-.7-.5-2.6-3 .7zM709.5 284.8l1.8-.4-.5-2.6-1.9.4zM708.1 278.4l1.9-.4-1-5.1-2 .5zM697.1 228.9l2.8-.5-.5-2.6-2.9.6zM695.4 221.3l2.9-.6-.2-1.3-3 .6zM710 278l1.9-.3-.7-3.9-2 .4zM701.2 234.7l2.6-.5-.4-2.6-2.7.6zM699.9 228.4l2.8-.6-.3-1.3-2.8.6zM699.1 224.5l2.8-.5-.4-2.6-2.9.6zM698.3 220.7l2.9-.6-.2-1.2-2.9.5zM697 214.3l3-.6-.2-1.2-3 .5zM711.9 277.7l1.9-.4-.2-1.3-1.9.4zM703.8 234.2l2.7-.5-.2-1.3-2.7.5zM703.1 230.4l2.8-.5-.7-3.9-2.8.5zM701.5 221.4l2.9-.5-.2-1.3-3 .5zM700.5 216.3l3-.5-.6-3.9-3.1.6zM705.5 227.3l2.8-.4-1.4-9-3 .4zM703.5 215.8l3-.5-.2-1.3-3 .5zM707.1 219.2l2.9-.5-.1-1.3-3 .5zM718.9 270.1l2-.3-.1-1.3-2.1.3zM721.1 271.1l2-.1-.2-2.6-2.1.1zM720.5 238.6l2.6-.2 0-1.3-2.7.2zM719.2 221.7l2.9-.2-.4-6.5-3 .2zM723.3 241l2.6-.2-.2-3.9-2.6.2zM723 235.8l2.6-.2 0-1.3-2.7.2zM722.2 222.8l2.9-.2-.2-3.9-3 .2zM721.5 211.1l3-.2 0-1.3-3.1.2zM725.7 238.2l2.6-.1-.1-3.9-2.6.1zM725.1 222.6l2.8-.1 0-1.3-2.9.1zM727.8 217.3l3 0 0-2.6-3.1 0zM727.7 212.1l3 0 0-5.2-3.2 0zM727.5 205.6l3.2 0 0-1.3-3.2 0z"/>
<path fill="#4C80B5" stroke="#4C80B5" stroke-width="0.6" d="M730.8 217.3l2.9 0 .1-3.9-3.1 0zM730.7 210.8l3.1 0 0-1.3-3.1 0zM733.8 213.4l3 0 .1-1.3-3.1 0zM733.8 210.8l3.1 0 0-1.3-3.1 0zM736.9 212.1l3 .1.1-2.6-3.1-.1zM749.3 237.8l2.6.3.2-1.3-2.6-.3zM749.7 254.8l2.3.4.2-1.3-2.3-.3zM750.1 252.3l2.3.3.2-1.3-2.4-.3zM751.4 242l2.6.3.5-3.8-2.6-.4zM753 230.3l2.7.4.2-1.3-2.8-.3zM753.3 227.8l2.8.4.2-1.3-2.8-.4zM752.4 252.6l2.4.4.2-1.3-2.4-.4zM754.3 239.7l2.6.4.2-1.2-2.6-.4zM754.7 237.2l2.6.4.3-1.3-2.7-.4zM755.7 230.7l2.7.5.2-1.3-2.7-.5zM756.1 228.2l2.8.4.2-1.3-2.8-.4zM765.3 249.8l2.4.6.3-1.2-2.4-.7zM765.9 247.3l2.5.6.3-1.3-2.5-.6zM767.7 250.4l2.4.7.3-1.3-2.4-.6zM768.7 246.6l2.4.7 1.1-3.8-2.5-.6zM766.3 264.8l2.1.6.4-1.2-2.2-.6zM770.1 251.1l2.4.6 1.1-3.7-2.5-.7zM771.5 246l2.4.7.8-2.4-2.5-.8zM768.4 265.4l2.1.7.4-1.2-2.1-.7zM771.7 254.2l2.3.7 1.6-4.9-2.4-.8zM773.7 256.2l2.2.7.9-2.4-2.4-.8zM776.4 255.7l2.2.8.9-2.5-2.3-.8zM777.8 258.9l2.2.8 2.3-6-2.3-.9zM772.7 279.2l1.9.7 2.4-6-2-.8zM778.2 264.6l2.1.8 3.8-9.6-2.3-.9zM773.7 282.3l1.8.8 3.5-8.4-2-.8zM777.5 272.7l2 .8.5-1.2-2.1-.8zM780.8 264.2l2.1.9.5-1.2-2.1-.9zM786.1 250.9l2.3 1 .5-1.2-2.4-1zM775 284.3l1.8.7.5-1.1-1.8-.8zM777.5 278.3l1.9.8 1-2.4-1.9-.8zM764.3 313.6l1.3.6 1.1-2.4-1.3-.6zM772.6 294.6l1.6.7 3.3-7.1-1.8-.8zM776.8 285l1.8.8.5-1.1-1.8-.8zM780.4 276.7l1.9.9 1.1-2.4-2-.9zM765.6 314.2l1.3.6 2.2-4.7-1.3-.6zM774.2 295.3l1.6.7.6-1.1-1.6-.8zM776.4 290.6l1.7.8.5-1.2-1.7-.8zM778 287l1.8.8 4.4-9.3-1.9-.9zM767.4 313.6l1.3.6 1.8-3.5-1.4-.6zM773.6 300.7l1.5.8 1.2-2.4-1.6-.7zM775.3 297.2l1.5.8 3.5-7-1.7-.8zM779.8 287.8l1.7.9 2.3-4.7-1.8-.9zM783.1 280.8l1.9.9.6-1.2-1.9-.9zM768.7 314.2l1.3.7 2.4-4.6-1.4-.7zM775.1 301.5l1.5.7.6-1.1-1.5-.8zM776.3 299.1l1.5.8 1.8-3.4-1.6-.9zM779.7 292.2l1.7.8 3-5.7-1.8-.9zM783.2 285.2l1.8.9 1.8-3.5-1.8-.9zM777.2 301.1l1.5.8.6-1.2-1.5-.8zM778.4 298.8l1.5.8.7-1.2-1.6-.8zM782 291.9l1.7.8.6-1.1-1.7-.9zM783.2 289.6l1.7.9 1.2-2.3-1.7-.9zM785 286.1l1.8.9 1.2-2.2-1.8-1zM779.3 300.7l1.5.9 1.3-2.3-1.5-.9zM783.7 292.7l1.6 1 1.3-2.3-1.7-.9zM786.1 288.2l1.8.9.6-1.1-1.7-1zM780.8 301.6l1.5.8.7-1.1-1.5-.9zM792.2 285.6l1.8 1.1.7-1.1-1.8-1.1zM785.2 304.2l1.5 1 .7-1.1-1.5-1zM842 239.2l2.6 1.9 2.3-3.1-2.6-1.9zM843 243.2l2.5 2 6.5-8.2-2.7-2zM844.7 246.2l2.4 2 1.7-2-2.5-2.1zM811.5 291.3l1.7 1.4 1.7-2-1.7-1.4zM847.1 248.2l2.4 2 2.6-3-2.5-2zM853.7 240.1l2.6 2.2.8-1-2.5-2.2zM892.7 192.9l3.4 2.9 1.7-2-3.4-2.9zM811.5 294.6l1.6 1.4.9-.9-1.7-1.4zM815.7 289.7l1.7 1.5.9-1-1.7-1.5zM849.5 250.2l2.4 2.1.9-1-2.4-2.1zM852.9 246.2l2.4 2.2.9-1-2.5-2.2zM859.7 238.3l2.5 2.3 2.6-2.9-2.6-2.3zM884.2 209.6l3.1 2.7 2.6-2.9-3.1-2.7zM891.8 200.7l3.3 2.8.8-.9-3.2-2.9zM898.6 192.8l3.4 2.9.8-.9-3.3-3zM814 295.1l1.6 1.4 1.7-1.9-1.6-1.5zM817.4 291.2l1.7 1.5.8-1-1.6-1.5zM851.9 252.3l2.3 2.1.9-1-2.3-2.1zM864.8 237.7l2.6 2.3 1.8-1.9-2.6-2.4zM877.8 223l2.8 2.6 2.7-2.9-2.9-2.6zM885.6 214.3l3 2.7.8-1-3-2.7zM893.3 205.5l3.2 2.8 4.4-4.8-3.2-2.9zM899.4 198.7l3.2 2.9 1.8-1.9-3.3-3zM816.4 295.5l1.6 1.5 2.7-2.8-1.6-1.5zM851.6 257.2l2.2 2.2 1.8-1.9-2.3-2.2zM854.2 254.4l2.3 2.1.9-.9-2.3-2.2zM867.4 240l2.6 2.4.9-1-2.6-2.4zM874.5 232.3l2.6 2.5 1.8-1.9-2.7-2.5zM883.3 222.7l2.8 2.7.9-1-2.9-2.6zM887.7 217.9l2.9 2.8 2.7-2.9-3-2.7zM893.8 211.2l3.1 2.9 2.7-2.9-3.1-2.9zM898.2 206.4l3.2 2.9 3.6-3.7-3.2-3zM853.8 259.4l2.2 2.1 1.9-1.9-2.3-2.1zM856.5 256.5l2.3 2.2.9-.9-2.3-2.2zM869.1 243.3l2.5 2.4 6.4-6.5-2.6-2.5zM878.9 232.9l2.7 2.6.9-.9-2.7-2.6zM884.3 227.3l2.8 2.7 2.7-2.8-2.8-2.8zM888.8 222.6l2.9 2.7 3.6-3.7-2.9-2.8zM901.4 209.3l3 3 1.9-1.8-3.1-3zM905 205.6l3.1 3 2.7-2.8-3.1-3.1zM857 260.6l2.2 2.2 2.7-2.8-2.2-2.2zM880.7 236.5l2.6 2.6 1.9-1.8-2.7-2.7zM885.3 231.8l2.6 2.7 1-.9-2.7-2.7zM891.7 225.3l2.8 2.8 2.7-2.7-2.8-2.9zM898 218.8l3 2.9 1.8-1.8-2.9-2.9zM904.4 212.3l3.1 3.1 1.8-1.9-3-3zM908.1 208.6l3.1 3.1 2.8-2.7-3.2-3.2zM912.7 204l3.1 3.2 1-1-3.2-3.2zM859.2 262.8l2.1 2.2 2.8-2.7-2.2-2.3zM883.3 239.1l2.6 2.6.9-.9-2.6-2.6zM894.5 228.1l2.7 2.9 2.8-2.7-2.8-2.9zM898.2 224.5l2.8 2.9 1.9-1.8-2.9-2.9zM906.5 216.3l3 3 .9-.8-2.9-3.1zM910.3 212.6l3 3.2 1.9-1.8-3.1-3.2zM865.1 261.4l2.2 2.4 1.9-1.8-2.2-2.4zM881.1 246.2l2.5 2.6 3.8-3.5-2.5-2.7zM885.9 241.7l2.5 2.7.9-.8-2.5-2.8zM870.1 261.1l2.2 2.5 2-1.8-2.2-2.4zM882.6 249.7l2.4 2.7 1.9-1.8-2.4-2.6zM886.5 246.2l2.4 2.7 1.9-1.7-2.4-2.8zM963.4 175.8l3.6 4.1 1-.9-3.7-4zM872.3 263.6l2.1 2.4 2-1.7-2.1-2.5zM886 251.5l2.3 2.7 1-.8-2.4-2.8zM889.9 248.1l2.4 2.7 1-.8-2.5-2.8zM967 179.9l3.6 4.1 2-1.6-3.6-4.2zM873.5 266.9l2 2.4 1-.8-2.1-2.5zM888.3 254.2l2.3 2.7 1-.8-2.3-2.7zM891.6 256.1l2.3 2.8 1-.8-2.3-2.8zM893.6 254.5l2.3 2.8 1-.8-2.3-2.9zM877.6 271.9l2 2.5 1-.8-2-2.5zM894.9 258.1l2.2 2.9 1-.8-2.2-2.9zM896.1 266.2l2.1 2.9 2.1-1.5-2.1-3zM876 284.9l1.7 2.5 4.3-2.9-1.8-2.6zM883.4 279.6l1.8 2.7 1.1-.8-1.8-2.6zM877.7 287.4l1.8 2.6 4.3-2.9-1.8-2.6zM886.3 281.5l1.8 2.8 2.2-1.5-1.8-2.7zM880.5 289.3l1.7 2.6 2.2-1.4-1.7-2.7zM888.1 284.3l1.8 2.7 4.4-2.8-1.8-2.8zM836.2 321.1l1.1 1.9 2.2-1.4-1.1-1.8zM888.8 287.7l1.7 2.7 1.1-.6-1.7-2.8zM836.2 323.6l1.1 1.9 3.4-2-1.2-1.9zM889.4 291.1l1.7 2.8 1.1-.7-1.7-2.8zM835.1 326.8l1 1.8 4.5-2.6-1-1.8zM836.1 328.6l1 1.8 5.7-3.1-1-1.9zM909.6 287.1l1.7 3.1 1.2-.6-1.7-3.2zM913 285.2l1.8 3.1 2.3-1.2-1.8-3.2zM920.9 280.7l1.9 3.3 1.1-.6-1.8-3.4zM925.5 278.1l1.8 3.4 1.2-.6-1.9-3.4zM933.4 273.6l1.9 3.6 3.5-1.9-2-3.6zM840.5 328.6l1.1 1.9 1.1-.6-1-2zM842.8 327.3l1.1 2 4.6-2.4-1.1-2.1zM905.6 293.3l1.6 3 2.3-1.2-1.6-3.1zM912.5 289.6l1.7 3.1 1.1-.6-1.7-3.2zM915.9 287.7l1.7 3.2 8.1-4.2-1.8-3.3zM931.9 279l1.9 3.5 3.4-1.8-1.9-3.5zM938.8 275.3l1.9 3.6 3.4-1.8-1.9-3.6zM943.3 272.8l2 3.7 1.2-.6-2-3.7zM950.2 269.1l2 3.8 1.2-.6-2-3.8zM952.5 267.9l2 3.8 1.2-.6-2.1-3.8zM840.4 331.1l1 1.8 4.6-2.3-1-1.9zM847.3 327.5l1 2 2.4-1.2-1.1-2zM904.9 297.5l1.6 3 1.1-.5-1.5-3.1zM909.5 295.1l1.6 3.1 2.3-1.1-1.5-3.2zM914.2 292.7l1.6 3.2 1.1-.6-1.6-3.2zM946.5 275.9l1.9 3.8 1.1-.6-1.9-3.8zM951.1 273.5l1.9 3.9 1.2-.6-2-3.9zM955.7 271.1l2 4 1.1-.6-2-4zM839 334.1l.9 1.9 10.6-5-1-2.1zM905.3 301.1l1.5 3.1 1.1-.6-1.4-3.1zM908.8 299.4l1.5 3.1 4.7-2.3-1.6-3.1zM914.6 296.5l1.6 3.2 1.1-.6-1.5-3.2zM950.7 278.5l1.8 3.9 1.2-.6-1.9-3.8zM958.8 274.5l2 3.9 1.1-.5-1.9-4zM839.9 336l.9 1.9 1.2-.6-.9-1.9zM842.3 334.9l.9 1.9 1.2-.6-.9-1.9zM847 332.6l.9 2 2.4-1-1-2.1zM851.7 330.4l.9 2.1 1.2-.6-1-2.1zM907.9 303.6l1.5 3.1 2.3-1.1-1.4-3.1zM913.8 300.8l1.5 3.2 1.2-.6-1.5-3.2zM956.1 280.7l1.8 3.9 2.3-1.1-1.8-3.9zM960.8 278.4l1.8 4.1 3.6-1.7-1.9-4zM846.7 335.2l.9 2 1.2-.5-.9-2.1zM916.5 303.4l1.4 3.3 1.2-.5-1.5-3.3zM960.2 283.5l1.8 4 6-2.6-1.8-4.1zM846.4 337.7l.9 2 1.2-.5-.9-2zM958.4 289.1l1.7 3.9 3.6-1.4-1.7-4.1zM964.4 286.5l1.7 4.1 1.2-.5-1.7-4.1zM966.8 285.5l1.7 4.1 3.6-1.5-1.8-4.2zM848.5 339.2l.8 2 1.2-.4-.8-2.1zM854.5 336.7l.8 2.2 2.4-1-.8-2.2zM944.5 299.5l1.5 3.7 2.4-.9-1.5-3.8zM949.3 297.5l1.5 3.8 1.2-.5-1.5-3.8zM952.9 296l1.5 3.9 1.2-.5-1.5-3.9zM960.1 293l1.6 4 1.2-.4-1.6-4.1zM963.7 291.6l1.6 4 1.2-.5-1.6-4zM966.1 290.6l1.6 4.1 2.4-1-1.6-4.1zM972.1 288.1l1.7 4.2 1.2-.5-1.7-4.2zM978.1 285.6l1.7 4.3 8.5-3.3-1.8-4.5zM849.3 341.2l.8 2.1 1.2-.5-.8-2zM852.9 339.8l.8 2.1 4.9-1.8-.9-2.2zM867.4 334.1l.9 2.4 1.2-.5-.9-2.4zM872.2 332.2l1 2.5 1.2-.5-1-2.5zM875.9 330.8l.9 2.5 2.5-.9-1-2.6zM920.6 313.2l1.2 3.3 1.2-.5-1.2-3.3zM935.1 307.5l1.3 3.5 8.5-3.1-1.4-3.7zM955.6 299.4l1.5 3.9 7.3-2.7-1.5-4zM965.3 295.6l1.6 4.1 4.8-1.8-1.6-4.2zM973.8 292.3l1.6 4.2 3.6-1.4-1.6-4.3zM979.8 289.9l1.7 4.3 1.2-.4-1.7-4.4zM984.7 288l1.6 4.4 4.9-1.8-1.7-4.5zM991.9 285.1l1.7 4.6 2.5-.9-1.8-4.6zM850.1 343.3l.7 2 1.2-.4-.7-2.1zM853.7 341.9l.8 2.1 6.1-2.1-.8-2.3zM868.3 336.5l.9 2.4 1.2-.5-.9-2.4zM874.4 334.2l.9 2.5 2.4-.9-.9-2.5zM878 332.8l1 2.6 2.4-.9-.9-2.6zM881.7 331.5l.9 2.6 1.3-.4-1-2.7zM918.2 317.9l1.2 3.2 2.4-.9-1.2-3.3zM931.6 312.9l1.2 3.4 2.5-.8-1.3-3.5zM937.6 310.6l1.3 3.6 7.4-2.6-1.4-3.7zM952.3 305.1l1.3 3.9 11.1-3.9-1.5-4.1zM965.6 300.1l1.5 4.1 4.9-1.7-1.5-4.2zM971.7 297.9l1.5 4.2 4.9-1.8-1.5-4.3zM977.8 295.6l1.6 4.3 1.2-.4-1.6-4.4zM981.5 294.2l1.5 4.4 1.3-.4-1.6-4.4zM987.6 292l1.6 4.4 2.4-.8-1.6-4.6zM994.9 289.2l1.6 4.6 1.2-.4-1.6-4.6zM853.3 344.5l.7 2.1 1.2-.4-.7-2.2zM860.6 341.9l.8 2.2 2.4-.8-.7-2.3zM867.9 339.3l.9 2.4 3.7-1.3-.9-2.4zM872.8 337.6l.9 2.4 3.7-1.2-.9-2.5zM883.9 333.7l.9 2.6 1.2-.4-.9-2.7zM914.5 322.8l1 3.2 1.3-.4-1.1-3.2zM938.9 314.2l1.3 3.6 4.9-1.6-1.3-3.7zM946.3 311.6l1.3 3.7 2.4-.8-1.3-3.8zM953.6 309l1.4 3.9 1.2-.4-1.3-3.9zM958.5 307.3l1.4 3.9 2.4-.8-1.3-4zM962.2 306l1.4 4 1.2-.4-1.4-4.1zM970.8 302.9l1.4 4.2 3.7-1.2-1.4-4.3zM979.4 299.9l1.4 4.3 1.3-.4-1.5-4.3zM981.8 299l1.5 4.4 1.2-.4-1.5-4.4zM989.2 296.4l1.5 4.5 1.2-.4-1.5-4.5zM997.7 293.4l1.6 4.6 1.3-.4-1.6-4.6zM844.1 349.9l.7 1.9 7.4-2.3-.7-2.1zM860.1 344.5l.8 2.3 3.7-1.2-.8-2.3zM868.8 341.7l.7 2.3 2.5-.7-.8-2.5zM881.1 337.5l.8 2.6 9.9-3.1-.9-2.7zM898.3 331.8l.9 2.9 5-1.6-1-3zM925.4 322.7l1.1 3.4 1.2-.4-1.1-3.4zM941.4 317.4l1.2 3.6 3.7-1.1-1.2-3.7zM948.8 314.9l1.2 3.8 5-1.6-1.3-3.8zM957.4 312l1.3 4 1.2-.4-1.2-4zM964.8 309.6l1.3 4 1.3-.4-1.4-4zM977.1 305.5l1.4 4.2 3.7-1.1-1.4-4.4zM983.3 303.4l1.4 4.4 1.2-.4-1.4-4.4zM989.5 301.3l1.4 4.5 3.7-1.1-1.4-4.6zM999.3 298l1.5 4.7 2.5-.8-1.5-4.7zM842.3 352.6l.6 1.9 1.2-.3-.6-2zM848.5 350.7l.6 2 1.3-.4-.7-2zM853.4 349.1l.7 2.1 2.5-.7-.7-2.2zM869.5 344l.8 2.4 3.7-1.1-.8-2.4zM888.1 338.2l.8 2.7 6.2-1.8-.8-2.8zM899.2 334.7l.9 2.9 1.3-.4-.9-2.9zM904.2 333.1l.9 3 7.5-2.2-1-3.1zM929 325.3l1 3.5 1.2-.4-1-3.5zM941.3 321.4l1.1 3.7 2.5-.7-1.1-3.7zM946.3 319.9l1.1 3.7 2.5-.7-1.1-3.8zM952.5 317.9l1.2 3.9 2.4-.8-1.1-3.9zM963.6 314.4l1.3 4.1 4.9-1.5-1.2-4.1zM973.6 311.3l1.2 4.2 2.5-.7-1.3-4.3zM985.9 307.4l1.4 4.4 3.7-1.1-1.3-4.5zM992.1 305.4l1.4 4.6 1.3-.4-1.4-4.5zM997.1 303.9l1.4 4.6 2.5-.7-1.4-4.7zM837.9 356l.5 1.9 3.8-1.1-.6-1.9zM855.3 350.9l.6 2.1 1.3-.3-.6-2.2zM869 346.8l.7 2.4 3.7-1-.7-2.5zM874 345.3l.7 2.5 1.2-.3-.7-2.5zM890.2 340.6l.8 2.7 5-1.4-.9-2.8zM913.8 333.6l.9 3.1 3.8-1-1-3.2zM931.2 328.4l1 3.5 1.3-.4-1-3.5zM956.1 321l1.2 4 1.2-.4-1.1-3.9zM959.9 319.9l1.1 4 1.3-.3-1.2-4zM962.4 319.2l1.1 4 2.5-.7-1.1-4zM966.1 318.1l1.2 4.1 1.2-.4-1.1-4.1zM973.6 315.9l1.2 4.2 2.5-.7-1.2-4.2zM837.2 358.2l.5 1.8 1.2-.3-.5-1.8zM842.2 356.8l.5 1.9 5-1.3-.5-2zM870.9 348.9l.7 2.4 1.2-.3-.6-2.5zM874.7 347.8l.7 2.5 2.5-.6-.7-2.6zM914.7 336.7l.9 3.2 2.5-.6-.9-3.3zM932.2 331.9l1 3.5 1.2-.3-.9-3.6zM939.7 329.8l1 3.6 2.5-.6-1-3.7zM954.7 325.7l1.1 3.8 1.2-.3-1-3.9zM958.5 324.6l1 4 1.3-.4-1-3.9zM967.3 322.2l1 4.1 2.6-.7-1.1-4.1zM833.9 361l.5 1.8 5-1.2-.5-1.9zM842.7 358.7l.5 2 3.8-.9-.5-2zM936.9 334.4l.9 3.6 1.3-.3-.9-3.6zM940.7 333.4l.9 3.7 2.5-.6-.9-3.7zM957 329.2l1 3.9 1.3-.3-1-3.9zM959.5 328.6l1 3.9 1.3-.3-1-4zM974.6 324.7l1.1 4.2 2.5-.6-1.1-4.3zM825.5 364.9l.4 1.6 3.8-.8-.4-1.7zM833.1 363.1l.4 1.7 1.3-.2-.4-1.8zM935.3 338.6l.8 3.5 2.5-.5-.8-3.6zM947.9 335.6l.9 3.7 1.2-.2-.8-3.8zM952.9 334.4l.9 3.8 1.3-.3-.9-3.8zM963 331.9l1 4.1 2.5-.6-.9-4.1zM974.4 329.2l1 4.2 3.8-.8-1-4.3zM824.6 366.8l.4 1.6 1.2-.2-.3-1.7zM829.7 365.7l.4 1.7 1.2-.3-.3-1.7zM832.2 365.1l.4 1.8 1.3-.3-.4-1.8zM837.3 364l.4 1.8 1.3-.2-.4-1.9zM855 360.1l.5 2.1 1.2-.2-.4-2.2zM857.6 359.5l.4 2.2 2.6-.5-.5-2.2zM877.8 355l.5 2.6 2.6-.5-.6-2.6zM885.4 353.4l.6 2.6 7.6-1.5-.6-2.8zM910.7 347.7l.7 3.2 2.5-.5-.6-3.2zM936.1 342.1l.7 3.6 2.6-.5-.8-3.6zM939.9 341.3l.7 3.6 2.6-.5-.8-3.7zM950 339.1l.8 3.8 1.3-.3-.8-3.8zM952.6 338.5l.8 3.8 7.6-1.5-.8-4zM967.8 335.1l.8 4.1 1.3-.2-.9-4.2zM974.1 333.7l.9 4.3 2.5-.6-.9-4.2zM854.2 362.5l.4 2.1 1.3-.2-.4-2.2zM887.2 355.8l.6 2.7 1.2-.3-.5-2.7zM891.1 355l.5 2.8 2.5-.5-.5-2.8zM896.1 354l.6 2.8 2.5-.4-.5-3zM902.5 352.7l.6 2.9 3.8-.7-.6-3zM910.1 351.1l.6 3.1 1.3-.2-.6-3.1zM916.5 349.8l.6 3.3 1.3-.3-.6-3.2zM925.4 348l.6 3.4 2.6-.5-.7-3.4zM938.1 345.4l.7 3.6 6.4-1.1-.7-3.7zM947 343.6l.7 3.8 1.3-.2-.7-3.8zM950.8 342.9l.7 3.8 2.6-.5-.7-3.9zM954.6 342.1l.8 3.9 5.1-1-.8-3.9zM961 340.8l.8 4 3.8-.7-.8-4.1zM968.6 339.2l.8 4.2 2.6-.5-.8-4.2zM973.7 338.2l.8 4.2 1.3-.2-.8-4.2zM818.9 371.2l.3 1.5 1.3-.2-.3-1.5zM868.6 362l.5 2.4 1.2-.2-.4-2.4zM873.7 361.1l.5 2.4 7.6-1.2-.4-2.6zM883.9 359.2l.5 2.6 1.3-.2-.5-2.6zM887.8 358.5l.4 2.7 1.3-.2-.5-2.8zM891.6 357.8l.5 2.8 2.5-.5-.5-2.8zM899.2 356.4l.5 2.9 1.3-.2-.5-3zM903.1 355.6l.5 3 1.3-.2-.6-3zM905.6 355.2l.5 3 1.3-.2-.5-3.1zM909.4 354.5l.6 3.1 1.3-.3-.6-3.1zM917.1 353.1l.6 3.2 1.2-.2-.5-3.3zM926 351.4l.6 3.4 1.3-.2-.6-3.4zM940.1 348.8l.6 3.6 2.5-.4-.6-3.7zM945.2 347.9l.6 3.7 1.3-.2-.7-3.8zM949 347.2l.6 3.7 2.6-.4-.7-3.8zM952.8 346.4l.7 3.9 7.7-1.3-.7-4zM970.7 343.1l.7 4.2 1.3-.2-.7-4.2zM974.5 342.4l.7 4.3 1.3-.3-.7-4.2zM819.2 372.7l.2 1.5 1.3-.1-.2-1.6zM861.4 365.7l.3 2.2 2.6-.3-.4-2.3zM870.3 364.2l.4 2.4 3.9-.6-.4-2.5zM887 361.4l.4 2.7 2.5-.4-.4-2.7zM899.7 359.3l.5 2.9 3.9-.6-.5-3zM907.4 358l.5 3 2.6-.3-.5-3.1zM917.7 356.3l.5 3.2 1.2-.2-.5-3.2zM926.6 354.8l.5 3.4 1.3-.2-.5-3.4zM940.7 352.4l.6 3.7 2.5-.4-.6-3.7zM956 349.9l.6 3.9 6.5-1-.7-4zM972.7 347.1l.6 4.2 1.3-.2-.6-4.2zM975.2 346.7l.7 4.2 1.3-.2-.7-4.3zM816.9 374.6l.2 1.5 2.5-.3-.2-1.6zM850.2 369.7l.3 2 1.3-.2-.3-2zM855.3 368.9l.3 2.1 1.3-.1-.3-2.2zM861.7 367.9l.3 2.3 3.9-.5-.3-2.3zM873.3 366.2l.3 2.5 1.3-.2-.3-2.5zM919.4 359.3l.5 3.3 2.6-.3-.5-3.4zM928.4 358l.5 3.4 2.6-.3-.5-3.5zM941.3 356.1l.5 3.6 12.8-1.7-.5-3.8zM955.4 354l.5 3.9 5.1-.7-.5-4zM974.6 351.1l.6 4.2 1.3-.1-.6-4.3zM783.6 380.5l.2.9 2.5-.3-.1-.9zM788.8 379.8l.1 1 2.6-.3-.1-1zM815.8 376.3l.2 1.4 3.8-.4-.2-1.5zM850.5 371.7l.2 2.1 5.2-.6-.3-2.2zM908.3 364.1l.4 3.1 5.1-.6-.3-3.2zM916 363.1l.4 3.2 5.2-.6-.4-3.3zM922.5 362.3l.4 3.3 5.1-.6-.4-3.4zM928.9 361.4l.4 3.4 2.6-.3-.4-3.4zM952 358.4l.5 3.8 5.1-.6-.4-3.9zM966.2 356.5l.5 4.1 1.3-.2-.5-4.1zM788.9 380.8l.1 1 3.9-.4-.1-1zM816 377.7l.1 1.5 2.6-.3-.2-1.5zM850.7 373.8l.2 2 6.5-.6-.2-2.2zM859.7 372.8l.3 2.2 1.3-.1-.3-2.3zM907.4 367.3l.3 3.1 12.9-1.3-.3-3.2zM924.1 365.4l.4 3.4 1.3-.2-.4-3.3zM929.3 364.8l.4 3.5 9-.9-.4-3.6zM948.6 362.6l.4 3.8 3.9-.4-.4-3.8zM955.1 361.9l.4 3.9 2.5-.3-.4-3.9zM817.4 379.1l.1 1.5 6.5-.6-.2-1.6zM850.9 375.8l.2 2.1 2.6-.2-.2-2.1zM854.8 375.5l.2 2.1 1.3-.1-.2-2.2zM857.4 375.2l.2 2.2 2.6-.2-.2-2.2zM861.3 374.9l.2 2.2 1.2-.1-.2-2.3zM874.2 373.6l.2 2.5 1.3-.1-.2-2.5zM880.6 373l.2 2.6 3.9-.3-.2-2.7zM887.1 372.4l.2 2.7 1.3-.1-.2-2.8zM889.6 372.1l.3 2.8 1.3-.1-.3-2.8zM893.5 371.8l.3 2.8 1.2-.1-.2-2.9zM897.4 371.4l.2 2.9 3.9-.3-.2-3zM903.8 370.8l.3 3 2.6-.3-.3-3zM909 370.3l.3 3 1.3-.1-.3-3.1zM911.6 370l.2 3.1 1.3-.1-.2-3.1zM914.2 369.8l.2 3.1 2.6-.2-.3-3.2zM924.5 368.8l.3 3.3 1.3-.1-.3-3.4zM930.9 368.2l.3 3.4 2.6-.2-.3-3.5zM937.4 367.5l.3 3.6 1.3-.1-.3-3.6zM946.4 366.7l.3 3.7 2.6-.2-.3-3.8zM954.2 365.9l.3 3.9 3.9-.3-.4-4zM816.2 380.7l.1 1.4 9.1-.5-.1-1.7zM843.4 378.5l.1 2 2.6-.2-.2-2zM851.1 377.9l.2 2.1 1.2-.1-.1-2.1zM855 377.6l.1 2.1 2.6-.1-.1-2.2zM861.5 377.1l.1 2.3 1.3-.1-.2-2.3zM873.1 376.2l.1 2.4 6.5-.4-.2-2.5zM891.2 374.8l.2 2.7 2.5-.1-.1-2.8zM896.3 374.4l.2 2.8 6.5-.4-.2-2.9zM904.1 373.8l.2 2.9 1.3 0-.2-3.1zM909.3 373.3l.2 3.1 5.1-.3-.2-3.2zM923.5 372.2l.2 3.4 1.3-.1-.2-3.4zM929.9 371.7l.3 3.5 1.3-.1-.3-3.5zM933.8 371.4l.3 3.5 3.8-.2-.2-3.6zM941.6 370.8l.2 3.7 2.6-.2-.2-3.7zM945.5 370.5l.2 3.7 10.3-.6-.2-3.9zM816.3 382.1l.1 1.5 1.3-.1-.1-1.5zM821.5 381.8l.1 1.6 3.9-.2-.1-1.6zM839.6 380.7l.1 1.9 1.3-.1-.1-1.9zM843.5 380.5l.1 1.9 2.6-.1-.1-2zM850 380.1l.1 2 2.6-.1-.2-2.1zM857.7 379.6l.1 2.2 1.3-.1-.1-2.2zM860.3 379.4l.1 2.3 2.6-.1-.1-2.3zM870.7 378.8l.1 2.4 7.7-.3-.1-2.6zM890.1 377.6l.1 2.8 3.9-.2-.2-2.8zM896.5 377.2l.2 2.9 1.3-.1-.2-2.9zM903 376.8l.1 3 2.6-.1-.1-3zM909.5 376.4l.1 3.1 2.6-.1-.1-3.1zM913.4 376.2l.1 3.2 2.6-.2-.2-3.2zM925 375.5l.2 3.3 3.8-.1-.1-3.5zM934.1 374.9l.1 3.5 3.9-.1-.2-3.6zM940.5 374.5l.2 3.7 9.1-.4-.2-3.8zM773.7 385.4l0 .8 2.6-.1 0-.8zM798.3 384.4l0 1.1 3.9-.1 0-1.2zM820.3 383.4l0 1.5 5.2-.1 0-1.6zM829.4 383l0 1.7 11.7-.3-.1-1.9zM843.6 382.4l.1 1.9 11.6-.3-.1-2.1zM859.1 381.7l.1 2.2 3.9-.1-.1-2.2zM866.9 381.4l.1 2.3 1.3 0-.1-2.4zM870.8 381.2l.1 2.4 7.7-.2-.1-2.5zM890.2 380.4l.1 2.7 3.9-.1-.1-2.8zM896.7 380.1l.1 2.9 2.6-.1-.1-2.9zM901.9 379.9l0 2.9 1.3 0-.1-3zM905.7 379.7l.1 3 1.3 0-.1-3.1zM910.9 379.5l.1 3.1 1.3-.1-.1-3.1zM913.5 379.4l.1 3.1 1.3 0-.1-3.2zM929 378.7l.2 3.4 2.5-.1-.1-3.4zM936.8 378.3l.1 3.6 1.3 0-.1-3.6zM939.4 378.2l.1 3.6 2.6 0-.1-3.7zM948.5 377.8l.1 3.8 1.3 0-.1-3.8zM957.5 377.4l.2 4 3.8-.1-.1-4zM1000.3 375.6l.1 4.6 3.9-.1-.2-4.7zM773.7 386.2l0 .7 1.3 0 0-.8zM777.6 386.1l0 .8 1.3-.1 0-.8zM797 385.6l0 1.1 2.6 0 0-1.2zM804.8 385.4l0 1.2 3.9 0 0-1.3zM824.2 384.8l.1 1.7 5.1-.1 0-1.7zM835.9 384.5l0 1.8 3.9 0 0-1.9zM842.4 384.4l0 1.9 3.9 0-.1-2zM848.8 384.2l.1 2 1.3 0-.1-2zM852.7 384.1l.1 2.1 3.8 0 0-2.2zM859.2 383.9l0 2.2 5.2 0 0-2.3zM867 383.7l0 2.4 1.3 0 0-2.4zM876 383.5l.1 2.5 2.6 0-.1-2.6zM891.6 383.1l0 2.8 2.6-.1 0-2.8zM899.4 382.9l0 2.9 1.3 0 0-3zM901.9 382.8l.1 3 1.3 0-.1-3zM907.1 382.7l.1 3 1.3 0-.1-3.1zM911 382.6l.1 3.1 3.8 0 0-3.2zM934.3 382l.1 3.5 1.3 0-.1-3.6zM936.9 381.9l.1 3.6 3.9-.1-.1-3.6zM953.8 381.5l0 3.8 6.5 0-.1-4zM990 380.5l.1 4.5 1.3 0-.1-4.5zM1001.7 380.2l.1 4.7 5.1 0 0-4.8zM773.7 386.9l0 .7 1.3 0 0-.7zM780.2 386.8l0 .9 1.3 0 0-.9zM797 386.7l0 1.1 2.6 0 0-1.1zM808.7 386.6l0 1.3 2.6 0 0-1.3zM843.7 386.3l0 1.9 1.3 0 0-1.9zM850.2 386.2l0 2.1 2.6 0 0-2.1zM855.3 386.2l0 2.1 1.3 0 0-2.1zM860.5 386.1l0 2.3 7.8 0 0-2.3zM880 386l0 2.5 3.8.1.1-2.7zM891.6 385.9l0 2.7 2.6.1 0-2.9zM902 385.8l0 2.9 1.3 0 0-2.9zM904.6 385.8l0 3 3.9 0 0-3.1zM935.7 385.5l0 3.5 5.1.1.1-3.7zM988.8 385l0 4.5 3.9 0 0-4.5zM1004.4 384.9l-.1 4.7 1.3 0 0-4.7zM1006.9 384.9l0 4.7 1.3.1 0-4.9zM1010.8 384.8l0 4.9 1.3 0 0-4.9zM780.2 387.7l0 .8 2.6.1 0-.9zM797 387.8l0 1.1 1.3.1 0-1.2zM843.7 388.2l-.1 2 1.3 0 .1-2zM850.2 388.3l-.1 2 2.6.1.1-2.1zM861.8 388.4l0 2.2 2.6.1 0-2.3zM873.5 388.5l-.1 2.4 2.6.1.1-2.5zM881.3 388.5l-.1 2.6 5.2.2 0-2.7zM890.3 388.6l0 2.8 2.6 0 0-2.7zM902 388.7l-.1 3 5.2.1.1-3zM940.8 389.1l0 3.6 3.9.1 0-3.7zM992.7 389.5l-.1 4.6 2.6 0 .1-4.6zM1012.1 389.7l-.1 4.9 1.3 0 .1-4.9zM772.4 388.3l0 .7 1.3.1 0-.8zM778.9 388.5l0 .8 3.8.2.1-.9zM797 388.9l0 1.2 1.3 0 0-1.1zM810 389.3l-.1 1.3 3.9.2.1-1.4zM829.4 389.8l-.1 1.7 6.5.3.1-1.8zM843.6 390.2l0 1.9 1.3.1 0-2zM846.2 390.2l0 2 2.5.1.1-2zM850.1 390.3l-.1 2.1 1.3 0 .1-2zM852.7 390.4l-.1 2.1 1.3.1.1-2.2zM859.2 390.6l-.1 2.2 7.8.3.1-2.3zM872.1 390.9l-.1 2.4 2.6.2.1-2.5zM877.3 391l-.1 2.6 3.9.1.1-2.6zM900.6 391.7l-.1 2.9 2.6.1.1-3zM904.5 391.8l-.1 3 1.3 0 .1-3zM933 392.5l-.1 3.5 1.3.1.1-3.6zM940.8 392.7l-.2 3.6 3.9.2.2-3.7zM947.2 392.9l-.1 3.7 3.9.2.1-3.8zM955 393.1l-.1 3.9 3.8.1.2-3.9zM988.7 394l-.2 4.4 1.3.1.2-4.5zM1012 394.6l-.2 4.8 1.3.1.2-4.9zM775 389.1l-.1.8 1.3 0 .1-.7zM780.2 389.3l-.1.9 2.6.1 0-.8zM784 389.5l0 .9 1.3.1 0-.9zM795.7 390l-.1 1.1 1.3.1.1-1.1zM799.6 390.2l-.1 1.2 2.6.1.1-1.2zM803.4 390.4l0 1.2 5.2.3 0-1.3zM811.2 390.7l-.1 1.4 3.9.2.1-1.4zM829.3 391.5l-.1 1.7 1.3.1.1-1.8zM833.2 391.7l-.1 1.7 1.3.1.1-1.8zM843.6 392.1l-.1 1.9 5.1.4.1-2.1zM852.6 392.5l-.1 2.1 5.2.3.1-2.2zM859.1 392.8l-.1 2.2 5.2.3.1-2.3zM868.2 393.2l-.2 2.3 1.3.1.2-2.4zM870.7 393.3l-.1 2.4 2.6.2.1-2.5zM900.5 394.6l-.1 2.9 2.5.2.2-3zM904.4 394.8l-.2 3 1.3 0 .2-3zM913.5 395.1l-.2 3.2 1.3.1.1-3.2zM931.6 395.9l-.2 3.5 1.3.1.2-3.5zM938 396.2l-.2 3.6 1.3.1.2-3.6zM940.6 396.3l-.2 3.7 1.3 0 .2-3.6zM958.7 397.1l-.2 4 1.3 0 .2-3.9zM984.6 398.3l-.2 4.3 5.1.4.3-4.5zM1011.8 399.4l-.3 4.9 1.3.1.3-4.9zM776.2 389.9l0 .8 1.3.1 0-.8zM780.1 390.2l-.1.8 3.9.3.1-.9zM807.3 391.8l-.1 1.3 6.4.5.1-1.4zM830.5 393.3l-.1 1.7 1.3.1.1-1.8zM839.6 393.8l-.1 1.9 1.2.1.2-1.9zM843.5 394l-.2 2 6.5.5.1-2.1zM853.8 394.7l-.1 2.1 3.8.3.2-2.2zM859 395l-.2 2.2 3.9.3.2-2.3zM904.2 397.8l-.2 2.9 1.3.1.2-3zM910.7 398.1l-.2 3.2 5.1.4.3-3.2zM931.4 399.4l-.3 3.5 1.3.1.3-3.5zM984.4 402.6l-.4 4.4 5.2.4.3-4.4zM777.5 390.8l-.1.8 1.3.1.1-.8zM780 391l0 .8 2.6.3 0-.9zM844.6 396.1l-.2 1.9 7.8.8.2-2.1zM854.9 396.9l-.1 2.1 1.2.2.2-2.2zM909.2 401.2l-.3 3 1.3.2.3-3.1zM914.3 401.6l-.2 3.1 3.8.4.3-3.2zM922.1 402.2l-.3 3.3 9 .8.3-3.4zM982.8 406.9l-.4 4.4 1.2.1.4-4.4zM986.6 407.2l-.4 4.5 3.9.3.4-4.5zM776.1 391.5l-.1.7 1.3.2.1-.8zM780 391.8l-.1.9 2.6.3.1-.9zM817.4 395.4l-.2 1.5 2.6.3.1-1.5zM853.5 398.9l-.3 2.1 2.6.3.2-2.1zM982.4 411.3l-.5 4.3 1.3.2.4-4.4zM987.5 411.8l-.5 4.4 1.3.2.5-4.5zM776 392.2l-.1.8 1.3.2.1-.8zM779.9 392.7l-.1.8 2.6.3.1-.8zM983.2 415.8l-.6 4.4 5.1.6.6-4.4zM778.5 393.3l-.1.8 10.2 1.6.2-1zM982.6 420.2l-.6 4.3 7.6 1.2.7-4.5zM778.4 394.1l-.1.8 1.2.2.2-.8zM782.2 394.7l-.1.9 2.5.4.2-.9zM787.4 395.5l-.2.9 1.3.2.1-.9zM982 424.5l-.7 4.3 2.5.5.7-4.4zM989.6 425.7l-.7 4.4 1.3.2.7-4.5zM778.3 394.9l-.2.8 1.3.3.1-.9zM784.6 396l-.1.9 2.5.5.2-1zM982.5 429.1l-.8 4.3 2.6.5.8-4.4zM775.6 395.3l-.2.7 5.1 1 .2-.8zM787 397.4l-.2.9 1.3.3.2-1zM984.3 433.9l-.9 4.4 1.3.2.9-4.4zM775.4 396l-.1.8 2.5.5.2-.8zM780.5 397l-.2.9 1.3.3.2-.9zM786.8 398.3l-.2 1 1.3.3.2-1zM986 438.8l-1 4.4 8.8 1.9 1-4.5zM996.1 440.8l-1 4.6 2.5.6 1-4.6zM1001.2 441.9l-1.1 4.6 1.3.3 1-4.7zM781.6 398.2l-.2.8 1.2.3.2-.9zM786.6 399.3l-.2.9 2.5.6.3-1zM995.1 445.4l-1.1 4.6 1.3.3 1.1-4.6zM997.6 446l-1.1 4.6 3.8.9 1.1-4.7zM1003.9 447.4l-1.1 4.7 3.8.9 1.1-4.8zM1009 448.5l-1.2 4.8 1.3.3 1.1-4.8zM1014 449.6l-1.1 4.9 2.5.6 1.2-4.9zM780.1 398.7l-.2.9 2.5.6.2-.9zM994 450l-1.1 4.5 6.2 1.6 1.2-4.6zM1004.1 452.4l-1.2 4.7 1.2.3 1.2-4.7zM1010.4 453.9l-1.3 4.8 2.5.7 1.3-4.9zM777.4 398.9l-.2.8 5 1.4.2-.9zM775.9 399.3l-.2.8 6.2 1.8.3-.8zM1000.3 461.5l-1.3 4.6 1.2.4 1.4-4.7zM778.2 400.8l-.2.8 3.7 1.2.2-.9zM780.4 402.4l-.2.9 1.2.4.3-.9zM790.3 405.5l-.3 1 1.2.4.4-1zM778.9 402.8l-.2.9 2.4.8.3-.8zM791.2 406.9l-.3 1.1 1.2.4.3-1zM779.9 404.1l-.3.8 2.4.9.3-.9zM790.9 408l-.4 1 1.2.4.4-1zM780.8 405.4l-.3.8 2.4 1 .3-.9zM784.9 409l-.4.9 1.2.6.4-1zM789.7 411l-.4 1 1.2.5.4-1zM754.1 398.6l-.2.4 2.3 1.2.2-.4zM752.6 398.7l-.2.4 2.2 1.3.2-.4zM974.1 523.9l-2.4 4.1 3.3 2 2.5-4.2zM751.2 398.4l-.2.3 1.1.7.3-.3zM753.5 399.7l-.3.4 1.1.7.3-.4zM752.1 399.4l-.2.4 2.2 1.3.2-.3zM990.5 551.5l-3 4.4 2.2 1.5 2.9-4.5zM994.8 554.2l-3 4.6 4.3 2.8 3.1-4.6zM1003.5 559.8l-3.1 4.6 1.1.8 3.1-4.7zM1005.7 561.1l-3.1 4.8 2.1 1.4 3.1-4.8zM1011.1 564.6l-3.2 4.8 1.1.7 3.2-4.8zM985.4 554.5l-3 4.4 3.2 2.2 3-4.5zM989.7 557.4l-3 4.4 6.3 4.4 3.1-4.6zM983.5 609.2l-3.9 4.3 1.9 1.8 4-4.4zM961.6 597l-3.7 4 1.9 1.8 3.7-4zM957 600.1l-3.8 3.9 2.7 2.7 3.9-3.9zM950.4 601.3l-3.8 3.7 1.8 1.9 3.9-3.8zM960.5 611.2l-3.9 3.9 3.6 3.7 4-4zM991.7 641.7l-4.5 4.5.9.9 4.5-4.5zM1007.2 657l-4.8 4.7.9.9 4.8-4.7zM1012.7 662.4l-4.9 4.8 1.8 1.8 4.9-4.8zM953.8 612.4l-3.9 3.8 1.7 1.8 4-3.8zM960.2 618.8l-4.1 3.9.8.9 4.2-3.9zM983.6 642.5l-4.6 4.4.9.9 4.6-4.3zM985.4 644.4l-4.6 4.3.9.9 4.6-4.3zM951.6 618l-4 3.8 1.7 1.9 4.1-3.8zM955.2 621.8l-4.2 3.8.9.9 4.2-3.8zM978.2 645.9l-4.6 4.3 2.6 2.8 4.6-4.3zM1017 686.8l-5.3 4.9.9.9 5.3-4.9zM976.2 653l-4.7 4.2.8.9 4.7-4.2zM1010.8 690.7l-5.3 4.8.8 1 5.4-4.8zM950.2 633.2l-4.3 3.7.8 1 4.4-3.8zM951.9 635.1l-4.4 3.8.9.9 4.4-3.7zM973.2 659.1l-4.8 4.1 4.1 4.9 4.9-4.2zM773.5 435.4l-.9.7 1.7 2 .8-.7zM938.4 628.2l-4.3 3.5 1.6 2 4.3-3.6zM950 641.8l-4.5 3.7.9 1 4.5-3.7zM965 659.3l-4.8 4 .8 1 4.9-4zM1004.2 705.1l-5.7 4.6.9 1 5.6-4.7zM771.8 435.1l-.9.7 2.5 3 .9-.7zM930.8 627.7l-4.2 3.4.8 1 4.3-3.4zM946.4 646.5l-4.6 3.7.8 1 4.6-3.7zM953.7 655.4l-4.7 3.8.8 1 4.7-3.8zM1001 712.7l-5.8 4.6.8 1 5.8-4.6zM925 629.1l-4.3 3.3.8 1.1 4.3-3.4zM941.8 650.2l-4.7 3.6.8 1 4.7-3.6zM943.4 652.2l-4.7 3.6.8 1 4.7-3.6zM919.2 630.4l-4.3 3.2.7 1 4.3-3.2zM985.5 716.7l-5.8 4.4 2.3 3 5.8-4.3zM914.1 632.6l-4.3 3.1 1.5 2.1 4.3-3.2zM976.6 717l-5.8 4.1.8 1.1 5.8-4.2zM910.5 636.7l-4.4 3.1.8 1 4.4-3zM948.5 689.9l-5.3 3.7.7 1.1 5.4-3.8zM950 692l-5.4 3.7.8 1.1 5.3-3.8zM952.2 695.1l-5.4 3.8 3.6 5.2 5.6-3.8zM906.9 640.8l-4.5 3 .7 1.1 4.5-3zM909 644l-4.5 3 .7 1.1 4.6-3zM921.4 662l-4.9 3.2.8 1.1 4.8-3.3zM927.2 670.4l-5 3.3 1.4 2.2 5.1-3.4zM938.8 687.3l-5.3 3.5.7 1.1 5.3-3.6zM941 690.4l-5.3 3.6 1.4 2.1 5.3-3.5zM943.9 694.7l-5.4 3.6 1.4 2.1 5.5-3.6zM946.8 698.9l-5.5 3.6 4.2 6.4 5.7-3.7zM964.9 725.2l-5.9 4 .7 1.1 6-4zM905.9 649.2l-4.6 3 .7 1 4.6-3zM914.4 662l-4.8 3.1.7 1.1 4.8-3.1zM939.2 699.3l-5.5 3.6 2 3.2 5.6-3.6zM944.8 707.9l-5.6 3.6 2.1 3.2 5.7-3.6zM947.7 712.1l-5.8 3.7.7 1.1 5.8-3.7zM953.3 720.7l-5.9 3.7 3.5 5.4 6-3.8zM915.8 674.8l-5.1 3.2 2.7 4.3 5.1-3.1zM935.1 705l-5.6 3.5.6 1.1 5.6-3.5zM907.4 672.5l-5.1 3 1.3 2.2 5.1-3zM914.1 683.4l-5.3 3.1.7 1.1 5.2-3.1zM930.1 709.6l-5.6 3.4.6 1.1 5.7-3.4zM935.5 718.3l-5.8 3.5 4.5 7.7 6-3.6zM901 673.3l-5 2.9.6 1.1 5.1-2.9zM909.5 687.6l-5.3 3.1.6 1.1 5.4-3.1zM928.4 719.6l-5.9 3.3.6 1.1 5.9-3.3zM934.2 729.5l-6 3.4.6 1.1 6-3.4zM894.1 672.8l-5 2.8 1.2 2.2 5.1-2.7zM904.8 691.8l-5.3 2.9.6 1.1 5.4-2.9zM926.3 729.6l-6 3.3 1.8 3.4 6.1-3.4zM888.5 674.5l-5.1 2.6.6 1.2 5.1-2.7zM883.4 677.1l-5.1 2.6.6 1.2 5.1-2.6zM878.9 680.9l-5.2 2.5.6 1.1 5.2-2.5zM889.2 701.5l-5.5 2.6 1.6 3.5 5.6-2.7zM874.3 684.5l-5.2 2.4.5 1.2 5.2-2.4zM869.1 686.9l-5.3 2.4.5 1.1 5.3-2.3zM874.4 698.6l-5.5 2.4 1.5 3.5 5.6-2.4zM877 704.4l-5.5 2.4 1 2.4 5.6-2.5zM873 710.4l-5.7 2.4.5 1.1 5.7-2.4zM859 692.7l-5.4 2.1.5 1.2 5.4-2.2zM868.3 715.1l-5.8 2.3.5 1.2 5.8-2.3zM853.6 694.8l-5.4 2.1.5 1.2 5.4-2.1zM863.9 721l-5.8 2.2.4 1.2 5.9-2.2zM847.8 695.7l-5.4 1.9.4 1.2 5.4-1.9zM860.8 730.4l-6 2.2.4 1.2 6-2.2zM842.4 697.6l-5.5 1.9.4 1.2 5.5-1.9zM852.6 726.5l-5.9 2.1.4 1.2 5.9-2zM837.3 700.7l-5.5 1.8 1.9 6.1 5.7-1.8zM845.9 726.2l-6 1.9.4 1.2 6-1.9zM847.9 732.2l-6.1 2 1.2 3.6 6.1-1.9zM828.4 691.5l-5.4 1.6 1.1 3.7 5.4-1.6zM831.8 702.5l-5.5 1.7.4 1.2 5.5-1.7zM843.4 739l-6.2 1.9.4 1.2 6.2-1.8zM844.5 742.7l-6.2 1.9 1.1 3.7 6.3-2zM847.6 752.4l-6.4 2 .4 1.2 6.4-2zM821.6 688.2l-5.3 1.5 2.4 8.6 5.4-1.5zM841.9 756.8l-6.5 1.9 1.7 6.1 6.6-1.9zM816.6 690.9l-5.3 1.5 1 3.7 5.4-1.5zM837.8 767.3l-6.6 1.7.3 1.3 6.7-1.8zM811.9 694.8l-5.3 1.4.3 1.2 5.4-1.3zM832.1 772.7l-6.7 1.7.3 1.3 6.7-1.7zM805.7 692.4l-5.4 1.3.8 3.7 5.5-1.2zM826 776.9l-6.9 1.6.3 1.2 6.9-1.6zM826.6 779.4l-6.9 1.5.5 2.5 7-1.5zM800 692.4l-5.3 1.1.2 1.3 5.4-1.1zM819.1 778.5l-6.8 1.4.2 1.2 6.9-1.4zM823.8 799.6l-7.2 1.5 1 5 7.3-1.5zM812.5 781.1l-6.9 1.4.3 1.2 6.9-1.3zM813.3 784.9l-7 1.3.7 3.8 7.1-1.4zM789.6 695.8l-5.5 1 .3 1.2 5.4-.9zM790.3 699.6l-5.5 1 .8 5 5.6-1zM807 790l-7 1.2.6 3.8 7.1-1.2zM784.4 698l-5.5.9.2 1.3 5.5-.9zM785.4 704.4l-5.5.8.2 1.3 5.5-.9zM800.6 795l-7.1 1.1.2 1.3 7.1-1.1zM779.9 705.2l-5.6.8.3 2.5 5.6-.7zM793.3 794.9l-7.2 1 .7 5 7.2-1zM774.5 707.3l-5.6.6.1 1.3 5.6-.7zM786.6 799.6l-7.2.9.2 1.3 7.2-.9zM787 802.2l-7.3.9.4 3.8 7.4-.9zM768.9 707.9l-5.7.6.2 1.3 5.6-.6zM780.4 809.4l-7.3.8.1 1.2 7.4-.7zM781.3 817l-7.5.8.1 1.2 7.5-.8zM763.4 709.8l-5.7.5.4 5.1 5.8-.5zM774.6 826.6l-7.6.7.3 3.8 7.7-.7zM758.1 715.4l-5.7.4.1 1.3 5.7-.4zM767.6 834.9l-7.9.6.1 1.2 7.9-.5zM752.5 718.3l-5.7.3.1 3.9 5.9-.3zM759.8 836.7l-7.9.4.1 1.3 7.9-.4zM746.9 722.5l-5.8.2 0 2.5 5.9-.2zM752.3 844.8l-8 .2 0 1.3 8-.3zM741.2 727.8l-6 .1 0 1.3 6-.1zM744.5 852.7l-8.2.1 0 1.3 8.2-.2zM735.3 733l-6.1 0 0 2.6 6.1 0zM736.4 860.4l-8.3 0 0 1.3 8.3 0zM729.2 739.4l-6.2-.1 0 2.5 6.2.1zM728.1 864.2l-8.3-.1-.1 1.3 8.4.1zM722.8 749.5l-6.4-.2-.5 11.4 6.6.3zM719.5 874.3l-8.5-.3-.1 1.2 8.6.3zM715.3 776l-6.8-.3-.3 3.8 6.9.4zM710.8 879.1l-8.6-.5-.4 6.3 8.7.5zM710.4 887.9l-8.8-.4-.2 3.8 8.8.4zM710 896.8l-8.9-.4-.5 7.6 9 .4zM708.5 775.7l-6.8-.5-.2 2.6 6.8.4zM708.1 780.8l-6.8-.5-.4 5.1 6.9.5zM707.4 792.2l-7-.5-.2 2.6 7.1.5zM702.1 879.9l-8.6-.6-.2 2.5 8.6.6zM701.1 895.1l-8.8-.6-.8 10.1 9 .6zM700.2 910.3l-9.1-.6-.2 2.5 9.2.6zM701.4 779l-6.9-.6-.1 1.3 6.9.6zM701 784.1l-7-.6-.1 1.3 7 .6zM700.4 791.7l-7.1-.6-.2 2.6 7.1.6zM692.2 895.7l-8.9-.7-1 10.1 9.1.8zM691.1 909.7l-9.2-.8-.2 2.5 9.2.8zM690.6 916l-9.3-.8-.2 2.5 9.3.8zM689.9 924.8l-9.4-.8-.3 2.6 9.5.8zM693.9 784.8l-6.9-.7-.2 1.2 7 .8zM693.2 792.4l-7.1-.7-.3 2.5 7.1.7zM683.4 893.7l-8.8-.9-.5 3.8 8.9.9zM681.7 911.4l-9.2-.9-.2 2.5 9.2.9zM680.6 922.8l-9.3-1-.8 6.3 9.5 1zM679.9 930.3l-9.5-.9-.2 1.2 9.6 1zM687 784.1l-7-.9-.1 1.3 6.9.8zM686.1 791.7l-7.1-.9-.5 3.8 7.2.9zM674.4 894.1l-8.8-1.1-.4 2.5 8.9 1.1zM670.5 928.1l-9.4-1.1-.7 5 9.6 1.1zM680 783.2l-6.9-.9-.5 3.7 6.9 1zM679.2 789.5l-7-.9-.2 1.2 7 1zM678.2 797.1l-7.2-1-.1 1.3 7.1 1zM677.5 802.2l-7.2-1-.2 1.2 7.3 1zM676.4 811l-7.4-1-.4 2.5 7.4 1zM661.1 927l-9.4-1.4-.2 1.3 9.4 1.3zM660.8 929.5l-9.5-1.3-1 6.2 9.6 1.4zM659.4 939.5l-9.6-1.3-.6 3.7 9.7 1.4zM667.8 817.5l-7.5-1.1-.2 1.2 7.6 1.2zM656.9 890.5l-8.8-1.4-.2 1.3 8.8 1.3zM651.5 926.9l-9.5-1.5-.8 5 9.5 1.5zM650 936.9l-9.6-1.5-.9 5 9.7 1.5zM658.9 825.2l-7.7-1.4-.5 2.5 7.7 1.4zM648.1 889.1l-8.7-1.5-1.4 7.5 8.9 1.5zM642.7 921.7l-9.4-1.7-.6 3.8 9.3 1.6zM714.6 482.5l-1.7-.3-.5 2.5 1.7.3zM713.9 486.3l-1.8-.4-.2 1.3 1.7.3zM649.8 831.3l-7.7-1.5-.3 1.3 7.8 1.5zM649.4 833.8l-7.8-1.5-.3 1.3 7.8 1.5zM640.1 883.8l-8.7-1.6-.3 1.2 8.7 1.7zM638.4 892.6l-8.8-1.7-.5 2.5 8.9 1.7zM633.3 920l-9.3-1.7-.5 2.4 9.4 1.8zM713.2 480.9l-1.7-.4-.5 2.6 1.7.3zM712.1 485.9l-1.7-.3-.5 2.5 1.7.4zM636 859.8l-8.3-1.8-.3 1.3 8.3 1.7zM633.9 869.7l-8.4-1.7-2.2 9.9 8.6 1.8zM630.4 887.2l-8.7-1.9-.6 2.5 8.8 1.8zM629.4 892.1l-8.8-1.8-.3 1.2 8.8 1.9zM626.3 907.1l-9.1-1.9-.5 2.4 9.1 2zM625.3 912l-9.2-1.9-.5 2.5 9.2 1.9zM624.3 917l-9.3-1.9-.5 2.4 9.3 2zM711.5 480.5l-1.6-.3-.6 2.5 1.7.4zM710.4 485.6l-1.7-.4-.3 1.2 1.7.4zM620.6 890.3l-8.8-2-.3 1.2 8.8 2zM619.7 894l-8.8-2-.3 1.2 8.8 2zM618.6 899l-8.9-2.1-1.2 5 9 2zM709.3 482.7l-1.7-.4-.3 1.2 1.7.4zM722.9 420.9l-.6-.2-.3 1.3.6.1zM722.3 420.7l-.6-.2-.7 2.5.6.2zM722.1 419.3l-.5-.2-.8 2.5.6.2zM493.3 910.7l-9.1-4.2-.6 1.2 9.2 4.2zM716.7 419.9l-.6-.3-.6 1.2.6.3zM708.3 437.4l-.9-.4-.6 1.1.9.5zM706.1 442.1l-1-.5-1.1 2.3 1 .5zM484.2 906.5l-9.1-4.3-.6 1.1 9.1 4.4zM716.1 419.6l-.6-.2-.6 1.1.6.3zM708 435.8l-.8-.4-.6 1.1.8.5zM705.1 441.6l-.9-.5-.6 1.2.9.5zM702.8 446.2l-1-.5-.6 1.1 1 .6zM678.6 494.7l-1.9-1-.6 1.2 1.9.9zM677.4 497l-1.9-1-.6 1.2 2 1zM593.1 666l-4.9-2.5-.6 1.1 4.9 2.5zM554.8 742.6l-6.2-3.1-.6 1.1 6.2 3.2zM707.2 435.4l-.9-.4-.6 1.1.9.4zM676.7 493.7l-1.8-.9-.6 1.1 1.8 1zM550.9 735l-6-3.2-.6 1.1 6 3.2zM674.3 493.9l-1.9-1-.6 1.1 1.8 1zM672.4 497.3l-1.9-1.1-.6 1.2 1.9 1zM705.5 434.5l-.8-.5-.7 1.1.8.5zM699.8 444.6l-1-.6-.7 1.1 1 .6zM538.9 728.5l-6-3.4-3.2 5.5 6 3.4zM704 435.1l-.8-.5-.7 1.1.9.5zM699.4 442.9l-1-.6-.6 1.1 1 .6zM533.6 724l-5.9-3.5-2 3.3 5.9 3.5zM530.3 729.5l-5.9-3.6-2.7 4.4 6 3.6zM699.1 441.2l-.9-.5-1.4 2.1 1 .6zM667.4 492.9l-1.8-1.1-2.1 3.2 1.9 1.2zM524.4 725.9l-5.9-3.6-1.4 2.1 5.9 3.7zM702.4 434.1l-.9-.5-.7 1.1.9.5zM665.6 491.8l-1.9-1.2-2.1 3.2 1.9 1.2zM702.2 432.5l-.7-.5-.8 1.1.8.5zM683.7 460.5l-1.3-.9-.7 1.1 1.3.9zM697.1 438.4l-.9-.6-.8 1 .9.6zM681.7 460.7l-1.3-.9-.7 1.1 1.3.9zM699.9 432.5l-.8-.6-.7 1.1.8.5zM696.2 437.8l-.9-.7-.8 1.1.9.6zM681.9 457.7l-1.2-.9-.8 1.1 1.3.9zM468.4 756.5l-6.4-4.6-.8 1 6.5 4.6zM699.1 431.9l-.7-.6-1.6 2.1.8.6zM694.5 438.2l-.9-.7-.7 1 .9.7zM526 665.5l-4.9-3.6-2.3 3.1 4.9 3.6zM466.6 745.7l-6.3-4.6-1.5 2 6.2 4.7zM456.7 759l-6.5-4.8-.8 1 6.5 4.9zM696.8 433.4l-.8-.6-.8 1 .8.6zM694.4 436.5l-.8-.7-.8 1 .8.7zM521.1 661.9l-4.7-3.7-1.6 2 4.8 3.8zM461.9 739l-6.2-4.7-1.6 2 6.2 4.8zM448.6 756.2l-6.4-4.9-.8 1 6.5 5zM711.3 413.6l-.5-.4-1.6 2 .5.4zM516.4 658.2l-4.8-3.8-1.6 2 4.8 3.8zM457.3 732.3l-6-4.8-1.6 2 6 4.8zM443.8 749.3l-6.3-5.1-.8 1 6.3 5.1zM576.2 576.2l-3.3-2.7-.8 1 3.3 2.7zM572.9 580.2l-3.3-2.8-2.5 2.9 3.4 2.9zM533.7 627.7l-4.2-3.4-.8.9 4.2 3.5zM510.8 655.4l-4.6-3.9-.9 1 4.7 3.9zM451.3 727.5l-5.9-4.9-.8.9 5.9 5zM437.5 744.2l-6.2-5.1-.9.9 6.3 5.2zM542 609.6l-3.9-3.3-5.9 6.7 4 3.4zM535.3 617.4l-4-3.4-.8.9 4 3.5zM532.8 620.3l-4-3.4-1.7 1.9 4.1 3.5zM444.6 723.5l-5.9-5-.9 1 5.9 5zM424.6 746.8l-6.3-5.3-.8.9 6.3 5.4zM648.3 482l-1.7-1.4-.9.9 1.7 1.5zM539 605.3l-3.8-3.4-.9 1 3.8 3.4zM533.9 611.1l-3.9-3.5-1.7 1.9 3.9 3.5zM531.3 614l-3.9-3.5-.9.9 4 3.5zM525.4 620.7l-4.1-3.6-1.7 1.9 4.1 3.6zM437 720.4l-5.8-5.1-4.3 4.7 5.9 5.2zM419.2 740.5l-6.2-5.5-.8 1 6.1 5.5zM646.6 480.6l-1.6-1.6-1.8 1.9 1.7 1.6zM640.5 487.2l-1.7-1.6-1.8 1.9 1.8 1.6zM567.4 566.9l-3.2-2.9-1.7 1.9 3.1 2.9zM561.3 573.5l-3.3-3-2.6 2.8 3.3 3.1zM536.1 601l-3.7-3.4-1.8 1.8 3.7 3.5zM528.3 609.5l-3.9-3.6-.9 1 3.9 3.6zM522.2 616.1l-4-3.7-.9 1 4 3.7zM644.1 480l-1.6-1.6-2.7 2.8 1.6 1.6zM639.7 484.7l-1.7-1.7-2.7 2.8 1.7 1.7zM531.5 598.5l-3.7-3.5-.9.9 3.7 3.5zM519.1 611.5l-3.9-3.7-.9.9 3.9 3.7zM641.6 479.4l-1.6-1.6-.9.9 1.6 1.6zM635.3 485.8l-1.7-1.7-1.9 1.8 1.8 1.7zM527.8 595l-3.6-3.6-.9.9 3.6 3.6zM522.4 600.5l-3.7-3.7-1.9 1.8 3.8 3.7zM515.2 607.8l-3.9-3.8-.9.9 3.9 3.8zM459.4 664.5l-4.9-4.8-.9.9 4.9 4.8zM637.2 480.5l-1.6-1.7-1.9 1.8 1.7 1.7zM524.2 591.4l-3.6-3.7-.9.9 3.6 3.7zM461.9 652.5l-4.7-4.7-1.8 1.7 4.6 4.8zM452.7 661.5l-4.8-4.9-.9.9 4.8 4.9zM688.1 429.1l-.7-.8-1.9 1.7.7.8zM635.6 478.8l-1.6-1.7-4.7 4.4 1.6 1.7zM630 484.1l-1.7-1.8-.9.9 1.7 1.8zM519.7 588.6l-3.5-3.7-1 .9 3.6 3.7zM506.6 601l-3.7-4-.9.9 3.7 4zM502 605.4l-3.8-4-2.9 2.6 3.9 4.1zM460 645.1l-4.4-4.7-1 .8 4.5 4.8zM447 657.5l-4.7-5-2.8 2.6 4.7 5zM686.4 429.2l-.7-.8-2.9 2.5.8.9zM515.2 585.8l-3.4-3.8-1.9 1.7 3.4 3.8zM499.1 600.5l-3.7-4.1-6.7 6 3.8 4.2zM454.6 641.2l-4.4-4.8-1 .8 4.5 4.9zM442.3 652.5l-4.6-5.1-2.9 2.6 4.7 5.1zM684.7 429.2l-.7-.8-1.9 1.7.7.8zM509.9 583.7l-3.5-3.9-.9.8 3.4 3.9zM498.3 593.9l-3.6-4.1-2.9 2.5 3.6 4.1zM492.5 599l-3.7-4.2-3.9 3.3 3.8 4.3zM485.8 604.9l-3.8-4.3-1 .9 3.8 4.3zM482.9 607.5l-3.8-4.4-1 .9 3.8 4.3zM456 631.3l-4.3-4.8-1 .8 4.3 4.8zM439.6 645.7l-4.5-5.1-1.9 1.7 4.5 5.1zM436.7 648.3l-4.5-5.2-2 1.7 4.6 5.2zM502.5 583.1l-3.4-4-2 1.6 3.5 4.1zM445.8 631.5l-4.2-5-1 .8 4.3 5zM497.1 580.7l-3.3-4.1-2 1.6 3.4 4.2zM493.2 584l-3.5-4.2-1 .8 3.5 4.2zM493.8 576.6l-3.3-4.1-1 .7 3.3 4.2zM488.7 580.6l-3.3-4.2-1 .7 3.3 4.3zM486.7 582.2l-3.4-4.3-9.1 7.1 3.5 4.4zM475.7 591l-3.6-4.5-1 .8 3.5 4.5zM478.2 581.8l-3.3-4.4-1.1.8 3.4 4.4zM474.9 577.4l-3.4-4.5-2.1 1.5 3.4 4.5zM456.2 591.2l-3.5-4.9-1.1.8 3.6 4.8zM461.1 580.4l-3.4-4.8-2.1 1.5 3.4 4.8zM399.7 607l-3.8-5.8-1.1.7 3.9 5.8zM188.8 634.5l-4.3-9.5-2.4 1 4.4 9.6zM185.3 636.1l-4.3-9.5-2.4 1 4.4 9.5zM181.8 637.7l-4.4-9.6-1.2.5 4.4 9.6zM176 640.3l-4.5-9.7-1.1.6 4.4 9.7zM170.1 643l-4.5-9.8-1.1.5 4.5 9.8zM418.2 523.6l-2.4-5.5-2.4 1 2.4 5.5zM356.7 550.3l-2.8-6.6-1.2.5 2.8 6.6zM349.6 553.3l-2.9-6.6-1.2.5 2.9 6.7zM193.9 620.9l-4.1-9.3-1.2.4 4.1 9.4zM175.1 629.1l-4.3-9.7-1.2.5 4.3 9.7zM163.3 634.2l-4.3-9.9-1.2.5 4.3 9.9zM160.9 635.2l-4.3-9.9-3.6 1.5 4.4 10zM355.1 543.2l-2.8-6.6-1.1.5 2.7 6.6zM349.1 545.7l-2.7-6.7-2.4.9 2.7 6.8zM339.6 549.6l-2.8-6.8-1.2.4 2.8 6.9zM189.8 611.6l-3.9-9.5-1.2.5 3.9 9.4zM156.6 625.3l-4.2-10-4.8 1.9 4.2 10.1zM129.3 636.6l-4.4-10.5-3.6 1.4 4.4 10.6zM352.3 536.6l-2.6-6.6-1.2.5 2.7 6.6zM339.2 541.8l-2.7-6.8-4.9 1.8 2.8 6.9zM310.4 553.1l-2.9-7.3-1.2.4 2.9 7.4zM184.7 602.6l-3.8-9.6-2.4.9 3.8 9.6zM139.3 620.4l-4.1-10.3-4.9 1.8 4.2 10.4zM95 637.8l-4.4-11.1-1.2.5 4.4 11.1zM87.9 640.7l-4.5-11.3-1.2.5 4.5 11.2zM347.3 530.9l-2.5-6.7-2.4.9 2.5 6.7zM337.7 534.5l-2.6-6.9-2.4.9 2.6 6.9zM307.5 545.8l-2.8-7.4-1.2.4 2.8 7.4zM178.5 593.9l-3.6-9.6-1.2.4 3.6 9.7zM164.1 599.3l-3.8-9.9-1.2.5 3.7 9.9zM160.4 600.7l-3.7-10-1.2.5 3.7 9.9zM152 603.8l-3.8-10.1-2.4.9 3.8 10.1zM148.4 605.2l-3.8-10.2-1.2.4 3.8 10.2zM144.8 606.5l-3.9-10.2-4.8 1.7 3.9 10.3zM135.2 610.1l-4-10.4-1.2.5 4 10.4zM131.5 611.5l-3.9-10.5-3.6 1.3 3.9 10.5zM87 628.1l-4.2-11.2-1.2.4 4.2 11.2zM397.1 505.7l-2-5.8-1.3.4 2.1 5.9zM391 507.9l-2.1-6-1.2.4 2.1 6zM313.2 535.4l-2.5-7.3-1.3.4 2.6 7.3zM188.2 579.6l-3.4-9.5-1.2.4 3.4 9.5zM184.6 580.9l-3.4-9.6-3.7 1.2 3.4 9.7zM168.8 586.4l-3.5-9.8-2.4.8 3.5 9.9zM161.5 589l-3.5-9.9-1.2.4 3.5 9.9zM155.5 591.2l-3.6-10.1-4.9 1.6 3.6 10.2zM149.4 593.3l-3.6-10.2-2.4.9 3.6 10.2zM144.6 595l-3.7-10.2-3.6 1.2 3.6 10.3zM124 602.3l-3.8-10.6-1.2.4 3.8 10.6zM103.4 609.6l-4-11-1.2.4 4 11zM402.4 497.4l-1.9-5.7-6.2 1.9 2 5.9zM384 503.6l-2-6.1-1.2.4 2 6.1zM358.4 512.1l-2.2-6.5-3.7 1.2 2.2 6.6zM188.5 568.9l-3.2-9.5-1.2.4 3.2 9.5zM154.3 580.3l-3.4-10.1-3.6 1.2 3.4 10.1zM147 582.7l-3.4-10.2-1.2.4 3.4 10.2zM400.5 491.7l-1.8-5.8-3.7 1.1 1.8 5.8zM395.6 493.2l-1.9-5.8-2.5.7 1.9 5.9zM382 497.5l-1.9-6.1-1.2.4 1.9 6.1zM359.9 504.5l-2.1-6.5-1.2.3 2 6.6zM165.7 565.6l-3.2-9.9-1.2.4 3.1 9.9zM393.7 487.4l-1.7-5.9-3.7 1 1.7 6zM357.8 498l-1.9-6.6-1.2.4 1.9 6.5zM340.5 503.1l-2-6.8-2.5.7 2 6.8zM336.8 504.2l-2-6.9-3.8 1 2.1 7zM190.9 547.3l-2.8-9.4-2.4.7 2.8 9.5zM168.7 553.9l-2.9-9.8-1.3.3 3 9.9zM165 555l-2.9-9.9-1.3.4 3 9.9zM157.6 557.2l-3-10-1.2.3 3 10zM388.3 482.5l-1.7-6-1.2.3 1.6 6zM353.4 492.1l-1.8-6.6-1.2.4 1.8 6.6zM347.2 493.9l-1.8-6.8-1.3.4 1.9 6.7zM339.7 495.9l-1.8-6.8-2.5.6 1.9 6.9zM336 497l-1.9-7-3.7 1 1.9 7zM193.1 536.5l-2.6-9.4-1.3.3 2.7 9.5zM150.9 548.2l-2.8-10.1-1.3.3 2.8 10.1zM132.3 553.4l-3-10.5-1.2.3 2.9 10.5zM129.8 554l-2.9-10.4-5 1.2 2.9 10.6zM123.6 555.8l-3-10.6-2.5.6 3 10.7zM381.6 477.8l-1.6-6.1-1.2.3 1.6 6.1zM375.4 479.4l-1.6-6.2-1.3.3 1.6 6.2zM362.9 482.6l-1.7-6.4-1.3.3 1.7 6.4zM335.4 489.7l-1.8-6.9-3.8.9 1.8 7zM236.7 515.2l-2.3-8.6-1.2.3 2.2 8.6zM231.7 516.5l-2.3-8.7-1.2.3 2.2 8.7zM195.5 525.8l-2.5-9.3-5 1.2 2.5 9.4zM134.3 541.6l-2.7-10.4-3.7.9 2.7 10.5zM126.9 543.6l-2.8-10.6-3.8.9 2.8 10.6zM396.4 467.8l-1.4-5.9-2.5.6 1.4 5.9zM363.7 475.6l-1.5-6.4-1.3.2 1.6 6.5zM361.2 476.2l-1.5-6.5-2.6.6 1.6 6.5zM342.4 480.7l-1.7-6.8-2.5.6 1.7 6.8zM333.6 482.8l-1.7-6.9-6.3 1.4 1.7 7zM234.4 506.6l-2.1-8.7-1.2.3 2.1 8.7zM215.6 511.1l-2.2-9-2.5.5 2.2 9.1zM209.3 512.6l-2.2-9.1-1.2.2 2.2 9.2zM189.3 517.4l-2.3-9.5-1.3.3 2.3 9.5zM186.8 518l-2.3-9.5-1.3.3 2.3 9.5zM157.9 524.9l-2.4-10-1.2.3 2.4 10zM150.4 526.7l-2.4-10.1-1.3.2 2.5 10.2zM142.9 528.5l-2.5-10.3-2.5.6 2.5 10.3zM110.3 536.3l-2.6-10.8-1.3.3 2.7 10.8zM395 461.9l-1.3-5.9-2.5.5 1.3 6zM362.2 469.2l-1.4-6.5-2.6.5 1.5 6.5zM357.1 470.3l-1.4-6.6-1.3.3 1.5 6.6zM342 473.6l-1.5-6.8-1.3.3 1.5 6.8zM338.2 474.5l-1.5-6.9-1.3.2 1.6 6.9zM330.7 476.1l-1.6-7-6.3 1.3 1.5 7.1zM323.1 477.8l-1.6-7.1-2.5.5 1.6 7.2zM214.7 501.8l-2-9-1.3.2 2 9.1zM207.1 503.5l-2-9.2-1.3.3 2.1 9.1zM178.2 509.9l-2.2-9.7-2.5.5 2.2 9.7zM165.6 512.7l-2.2-9.9-2.6.5 2.3 9.9zM154.3 515.2l-2.3-10.1-8.8 1.8 2.2 10.2zM142.9 517.7l-2.3-10.3-2.5.5 2.3 10.3zM114 524.1l-2.5-10.8-1.2.3 2.4 10.8zM391.2 456.5l-1.2-5.9-1.3.2 1.2 6zM335.4 467.8l-1.4-6.9-3.8.7 1.4 7zM313.9 472.2l-1.5-7.3-1.2.3 1.5 7.3zM211.4 493l-1.8-9-1.3.2 1.9 9.1zM208.9 493.5l-1.9-9.1-3.8.7 1.9 9.2zM390 450.6l-1.1-6-2.6.4 1.1 6.1zM322.6 463l-1.3-7.1-1.3.2 1.3 7.2zM312.4 464.9l-1.3-7.3-1.3.2 1.4 7.4zM392.7 444l-1-5.9-1.3.2 1 5.9zM388.9 444.6l-1-6-5.1.8 1 6.1zM318.7 456.3l-1.2-7.2-1.2.2 1.2 7.2zM313.6 457.2l-1.2-7.3-1.3.2 1.3 7.3zM307.3 458.3l-1.3-7.5-1.2.2 1.2 7.5zM316.3 449.3l-1.1-7.2-2.6.3 1.1 7.3zM311.1 450.1l-1-7.4-6.5.9 1.2 7.4zM692.2 220.7l2.9-.7-.3-1.2-2.9.7zM699.6 227.1l2.8-.6-.5-2.5-2.8.5zM698.1 219.4l2.9-.5-.2-1.3-3 .6zM697.3 215.6l3-.6-.3-1.3-3 .6zM702.4 226.5l2.8-.5-.8-5.1-2.9.5zM701.2 220.1l3-.5-.7-3.8-3 .5zM703.9 218.3l3-.4-.4-2.6-3 .5zM706.9 217.9l3-.5-.4-2.5-3 .4zM723.1 237.1l2.6-.2-.1-1.3-2.6.2zM727.7 214.7l3.1 0-.1-2.6-3 0zM727.5 206.9l3.2 0 0-1.3-3.2 0z"/>
<path fill="#5AA0C8" stroke="#5AA0C8" stroke-width="0.6" d="M730.7 213.4l3.1 0 0-2.6-3.1 0zM733.8 212.1l3.1 0 0-1.3-3.1 0zM749.5 236.5l2.6.3.3-2.6-2.6-.3zM749.9 253.6l2.3.3.2-1.3-2.3-.3zM751.9 238.1l2.6.4.6-3.9-2.7-.4zM753.1 229.1l2.8.3.2-1.2-2.8-.4zM752 255.2l2.3.3.5-2.5-2.4-.4zM754.5 238.5l2.6.4.2-1.3-2.6-.4zM755.9 229.4l2.7.5.3-1.3-2.8-.4zM765.6 248.5l2.4.7.4-1.3-2.5-.6zM768 249.2l2.4.6.7-2.5-2.4-.7zM777 273.9l2 .8.5-1.2-2-.8zM775.5 283.1l1.8.8 2.1-4.8-1.9-.8zM778.5 275.9l1.9.8 2.1-4.8-2-.8zM765.4 311.2l1.3.6 1.1-2.3-1.4-.6zM777.3 283.9l1.8.8 3.2-7.1-1.9-.9zM781.4 274.3l2 .9 1.1-2.4-2-.9zM774.8 294.1l1.6.8 1.7-3.5-1.7-.8zM776.9 289.4l1.7.8 1.2-2.4-1.8-.8zM778.6 290.2l1.7.8 1.2-2.3-1.7-.9zM775.7 300.3l1.5.8.6-1.2-1.5-.8zM782.6 286.4l1.8.9.6-1.2-1.8-.9zM777.8 299.9l1.5.8.6-1.1-1.5-.8zM782.6 290.7l1.7.9.6-1.1-1.7-.9zM784.4 287.3l1.7.9.7-1.2-1.8-.9zM852.1 242.1l2.5 2.2 1.7-2-2.6-2.2zM888.6 198l3.2 2.7.9-1-3.3-2.7zM891.9 193.9l3.3 2.9.9-1-3.4-2.9zM812.3 293.7l1.7 1.4 3.4-3.9-1.7-1.5zM850.4 249.2l2.4 2.1.8-1-2.4-2.1zM852.1 247.2l2.4 2.1.8-.9-2.4-2.2zM858.8 239.3l2.6 2.3.8-1-2.5-2.3zM895.2 196.8l3.3 2.8 3.5-3.9-3.4-2.9zM815.7 293.1l1.6 1.5 1.8-1.9-1.7-1.5zM863.1 239.6l2.6 2.3 1.7-1.9-2.6-2.3zM876.1 225l2.8 2.5 1.7-1.9-2.8-2.6zM886.4 213.3l3 2.7.9-.9-3-2.8zM889.9 209.4l3.1 2.8.8-1-3.1-2.8zM866.5 241l2.6 2.3.9-.9-2.6-2.4zM878 228.5l2.7 2.6.9-1-2.7-2.6zM879.7 226.6l2.8 2.6 3.6-3.8-2.8-2.7zM890.3 215.1l3 2.7.9-.9-3-2.8zM893 212.2l3 2.8.9-.9-3.1-2.9zM896.5 208.3l3.1 2.9 1.8-1.9-3.2-2.9zM857.4 255.6l2.3 2.2.9-.9-2.3-2.3zM875.4 236.7l2.6 2.5 3.6-3.7-2.7-2.6zM879.8 232l2.7 2.6 4.6-4.6-2.8-2.7zM895.1 216l2.9 2.8 4.6-4.6-3-3zM903.2 207.5l3.1 3 1.8-1.9-3.1-3zM859.7 257.8l2.2 2.2 1-.9-2.3-2.2zM874.3 243l2.5 2.5.9-1-2.5-2.5zM877 240.2l2.6 2.5 3.7-3.6-2.6-2.6zM894.4 222.5l2.8 2.9 1-.9-2.9-2.9zM897.1 219.8l2.9 2.9 1-1-3-2.9zM899.9 217l2.9 2.9 4.7-4.5-3.1-3.1zM906.3 210.5l3 3 1.9-1.8-3.1-3.1zM861.9 260l2.2 2.3 1-.9-2.2-2.3zM877.7 244.5l2.5 2.6 5.7-5.4-2.6-2.6zM897.2 225.4l2.8 2.9 1-.9-2.8-2.9zM867 259.6l2.2 2.4.9-.9-2.2-2.4zM879.2 248l2.5 2.6 1.9-1.8-2.5-2.6zM884.9 242.6l2.5 2.7 1-.9-2.5-2.7zM872.1 259.4l2.2 2.4.9-.8-2.2-2.5zM880.7 251.5l2.3 2.6 2-1.7-2.4-2.7zM885 252.4l2.3 2.6 1-.8-2.3-2.7zM874.4 266l2.1 2.5 1-.8-2.1-2.5zM887.3 255l2.3 2.8 1-.9-2.3-2.7zM875.5 269.3l2.1 2.6 1-.8-2.1-2.6zM890.6 256.9l2.2 2.8 1.1-.8-2.3-2.8zM893.9 258.9l2.2 2.9 1-.8-2.2-2.9zM889.9 266.5l2.1 2.8 1-.8-2.1-2.8zM896.1 261.8l2.1 2.8 1.1-.7-2.2-2.9zM880.2 281.9l1.8 2.6 3.2-2.2-1.8-2.7zM882 284.5l1.8 2.6 4.3-2.8-1.8-2.8zM882.7 287.8l1.7 2.7 5.5-3.5-1.8-2.7zM882.2 291.9l1.7 2.6 1.1-.7-1.7-2.6zM885.5 289.8l1.7 2.7 3.3-2.1-1.7-2.7zM883.9 294.5l1.6 2.7 1.1-.7-1.6-2.7zM888.3 291.8l1.6 2.7 1.2-.6-1.7-2.8zM910.8 286.4l1.7 3.2 2.3-1.3-1.8-3.1zM922.1 280l1.8 3.4 3.4-1.9-1.8-3.4zM841.7 327.9l1 2 1.2-.6-1.1-2zM913.6 288.9l1.7 3.2 2.3-1.2-1.7-3.2zM923.9 283.4l1.8 3.3 1.1-.6-1.7-3.4zM928.5 280.9l1.8 3.4 3.5-1.8-1.9-3.5zM935.3 277.2l1.9 3.5 3.5-1.8-1.9-3.6zM951.4 268.5l2 3.8 1.1-.6-2-3.8zM845 328.7l1 1.9 2.3-1.1-1-2zM906.1 296.9l1.5 3.1 3.5-1.8-1.6-3.1zM915.3 292.1l1.6 3.2 2.4-1.1-1.7-3.3zM945.3 276.5l1.9 3.8 1.2-.6-1.9-3.8zM952.2 272.9l2 3.9 1.1-.6-1.9-3.9zM906.5 300.5l1.4 3.1 2.4-1.1-1.5-3.1zM953 277.4l1.9 3.8 2.3-1.1-1.9-3.9zM957.7 275.1l1.9 3.9 1.2-.6-2-3.9zM841.1 335.4l.9 1.9 1.2-.5-.9-1.9zM849.3 331.5l1 2.1 2.3-1.1-.9-2.1zM954.9 281.2l1.8 3.9 1.2-.5-1.8-3.9zM958.4 279.6l1.8 3.9 2.4-1-1.8-4.1zM847.9 334.6l.9 2.1 2.4-1.1-.9-2zM852.6 332.5l1 2.1 1.2-.5-1-2.2zM955.5 285.7l1.7 3.9 1.2-.5-1.7-4zM847.6 337.2l.9 2 1.2-.5-.9-2zM853.6 334.6l.9 2.1 1.2-.5-.9-2.1zM917.9 306.7l1.4 3.2 1.2-.5-1.4-3.2zM957.2 289.6l1.7 3.9 1.2-.5-1.7-3.9zM965.6 286l1.7 4.1 1.2-.5-1.7-4.1zM849.7 338.7l.8 2.1 4.8-1.9-.8-2.2zM919.3 309.9l1.3 3.3 1.2-.5-1.3-3.3zM943.3 300l1.5 3.7 1.2-.5-1.5-3.7zM946.9 298.5l1.5 3.8 2.4-1-1.5-3.8zM954.1 295.5l1.5 3.9 3.7-1.4-1.6-4zM958.9 293.5l1.6 4 1.2-.5-1.6-4zM961.3 292.5l1.6 4.1 2.4-1-1.6-4zM850.5 340.8l.8 2 2.4-.9-.8-2.1zM962.9 296.6l1.5 4 2.5-.9-1.6-4.1zM981 289.4l1.7 4.4 3.6-1.4-1.6-4.4zM851.3 342.8l.7 2.1 2.5-.9-.8-2.1zM876.8 333.3l.9 2.5 1.3-.4-1-2.6zM880.5 331.9l.9 2.6 1.2-.4-.9-2.6zM924.3 315.6l1.2 3.3 7.3-2.6-1.2-3.4zM963.2 301l1.5 4.1 2.4-.9-1.5-4.1zM976.6 296l1.5 4.3 1.3-.4-1.6-4.3zM982.7 293.8l1.6 4.4 1.2-.5-1.6-4.4zM986.3 292.4l1.6 4.5 1.3-.5-1.6-4.4zM990 291l1.6 4.6 4.9-1.8-1.6-4.6zM850.8 345.3l.7 2.1 2.5-.8-.7-2.1zM854.5 344l.7 2.2 6.2-2.1-.8-2.2zM876.5 336.3l.9 2.5 7.4-2.5-.9-2.6zM915.7 322.4l1.1 3.2 1.2-.4-1.1-3.2zM921.8 320.2l1.1 3.4 1.3-.4-1.2-3.4zM943.8 312.5l1.3 3.7 2.5-.9-1.3-3.7zM954.9 308.6l1.3 3.9 3.7-1.3-1.4-3.9zM963.4 305.5l1.4 4.1 7.4-2.5-1.4-4.2zM974.5 301.6l1.4 4.3 4.9-1.7-1.4-4.3zM983 298.6l1.5 4.4 1.3-.4-1.5-4.4zM987.9 296.9l1.6 4.4 1.2-.4-1.5-4.5zM990.4 296l1.5 4.5 1.3-.4-1.6-4.5zM996.5 293.8l1.6 4.7 1.2-.5-1.6-4.6zM851.5 347.4l.7 2.1 5-1.6-.7-2.1zM858.9 344.9l.7 2.3 1.3-.4-.8-2.3zM863.8 343.3l.8 2.3 4.9-1.6-.7-2.3zM871.2 340.8l.8 2.5 5-1.6-.9-2.5zM878.6 338.4l.8 2.5 2.5-.8-.8-2.6zM915.5 326l1.1 3.2 1.2-.4-1-3.2zM924.2 323.2l1 3.3 1.3-.4-1.1-3.4zM945.1 316.2l1.2 3.7 3.7-1.2-1.2-3.8zM966 309.2l1.4 4 4.9-1.5-1.3-4.2zM972.2 307.1l1.4 4.2 4.9-1.6-1.4-4.2zM984.5 303l1.4 4.4 1.3-.4-1.4-4.4zM988.2 301.7l1.5 4.5 1.2-.4-1.4-4.5zM993.2 300.1l1.4 4.6 3.7-1.2-1.4-4.6zM998.1 298.5l1.5 4.6 1.2-.4-1.5-4.7zM843.5 352.2l.6 2 5-1.5-.6-2zM849.7 350.3l.7 2 3.7-1.1-.7-2.1zM855.9 348.3l.7 2.2 1.2-.4-.6-2.2zM859.6 347.2l.7 2.2 5-1.5-.7-2.3zM868.3 344.4l.7 2.4 1.3-.4-.8-2.4zM873.2 342.9l.8 2.4 1.2-.3-.7-2.5zM877 341.7l.7 2.5 1.3-.3-.8-2.6zM884.4 339.4l.8 2.6 3.7-1.1-.8-2.7zM900.5 334.3l.9 2.9 3.7-1.1-.9-3zM916.6 329.2l.9 3.3 1.3-.4-1-3.3zM927.7 325.7l1.1 3.4 1.2-.3-1-3.5zM968.6 312.9l1.2 4.1 5-1.5-1.2-4.2zM999.6 303.1l1.4 4.7 1.2-.4-1.4-4.7zM841.6 354.9l.6 1.9 10-2.8-.6-2zM852.8 351.6l.6 2.1 2.5-.7-.6-2.1zM856.6 350.5l.6 2.2 1.2-.4-.6-2.2zM862.8 348.7l.6 2.2 1.3-.3-.7-2.3zM875.2 345l.7 2.5 2.5-.7-.7-2.6zM888.9 340.9l.8 2.8 1.3-.4-.8-2.7zM895.1 339.1l.9 2.8 1.2-.3-.8-2.9zM906.3 335.8l.9 3 7.5-2.1-.9-3.1zM953.7 321.8l1 3.9 2.6-.7-1.2-4zM961.1 319.6l1.2 4 1.2-.4-1.1-4zM964.9 318.5l1.1 4 1.3-.3-1.2-4.1zM967.4 317.7l1.1 4.1 2.5-.7-1.2-4.1zM838.4 357.9l.5 1.8 3.8-1-.5-1.9zM847.2 355.4l.5 2 1.3-.3-.6-2zM868.4 349.5l.7 2.4 2.5-.6-.7-2.4zM877.2 347.1l.7 2.6 1.2-.4-.7-2.5zM891 343.3l.7 2.8 3.8-1-.8-2.8zM912.2 337.4l.8 3.2 2.6-.7-.9-3.2zM917.2 336l.9 3.3 1.2-.3-.8-3.3zM956 325.3l1 3.9 2.5-.6-1-4zM959.8 324.3l1 3.9 7.5-1.9-1-4.1zM969.8 321.5l1.1 4.1 2.5-.6-1.1-4.2zM973.5 320.5l1.1 4.2 2.5-.7-1.1-4.2zM838.9 359.7l.5 1.9 3.8-.9-.5-2zM846.5 357.8l.5 2 1.2-.3-.5-2.1zM851.5 356.5l.5 2.1 1.3-.4-.5-2.1zM914.3 340.3l.8 3.1 2.5-.6-.8-3.2zM931.9 335.7l.9 3.5 1.2-.3-.8-3.5zM938.2 334.1l.9 3.6 2.5-.6-.9-3.7zM958.3 328.9l1 3.9 1.2-.3-1-3.9zM960.8 328.2l1 4 1.2-.3-.9-4zM964.6 327.3l1 4 10.1-2.4-1.1-4.2zM834.4 362.8l.4 1.8 12.6-2.8-.4-2zM850.7 358.9l.5 2 8.9-1.9-.5-2.3zM879.8 351.9l.5 2.6 11.4-2.5-.6-2.8zM910 344.6l.7 3.1 1.3-.2-.7-3.2zM931.5 339.5l.8 3.5 1.3-.3-.8-3.5zM937.8 338l.8 3.6 2.6-.6-.9-3.6zM944.1 336.5l.9 3.7 3.8-.9-.9-3.7zM965.6 331.3l.9 4.1 2.5-.6-.9-4.1zM971.9 329.8l.9 4.2 2.6-.6-1-4.2zM833.5 364.8l.4 1.8 1.2-.2-.3-1.8zM836 364.3l.4 1.8 1.3-.3-.4-1.8zM838.6 363.7l.4 1.9 3.8-.8-.4-1.9zM853.8 360.4l.4 2.1 1.3-.3-.5-2.1zM856.3 359.8l.4 2.2 1.3-.3-.4-2.2zM880.3 354.5l.6 2.6 5.1-1.1-.6-2.6zM893 351.7l.6 2.8 2.5-.5-.6-2.9zM901.9 349.7l.6 3 2.5-.5-.6-3zM906.9 348.6l.7 3 3.8-.7-.7-3.2zM913.3 347.2l.6 3.2 5.1-1.1-.7-3.2zM934.8 342.4l.8 3.6 1.2-.3-.7-3.6zM938.6 341.6l.8 3.6 1.2-.3-.7-3.6zM942.4 340.7l.8 3.7 1.3-.2-.8-3.7zM946.2 339.9l.8 3.7 3.8-.7-.8-3.8zM971.6 334.3l.8 4.2 2.6-.5-.9-4.3zM818.6 369.7l.3 1.5 6.4-1.2-.3-1.6zM844 364.5l.4 2 1.3-.2-.4-2zM852.9 362.7l.4 2.1 1.3-.2-.4-2.1zM855.5 362.2l.4 2.2 2.5-.5-.4-2.2zM874.5 358.4l.5 2.4 1.3-.2-.5-2.5zM878.3 357.6l.5 2.5 2.6-.4-.5-2.6zM883.4 356.5l.5 2.7 3.9-.7-.6-2.7zM898.7 353.4l.5 3 3.9-.8-.6-2.9zM906.3 351.9l.6 3 3.8-.7-.6-3.1zM917.8 349.6l.6 3.2 1.3-.2-.7-3.3zM924.1 348.3l.7 3.3 1.2-.2-.6-3.4zM936.8 345.7l.7 3.6 1.3-.3-.7-3.6zM944.5 344.2l.7 3.7 2.5-.5-.7-3.8zM948.3 343.4l.7 3.8 2.5-.5-.7-3.8zM953.4 342.3l.7 3.9 1.3-.2-.8-3.9zM971.2 338.7l.8 4.2 2.5-.5-.8-4.2zM826.6 369.8l.3 1.6 1.2-.2-.3-1.6zM848.2 365.8l.4 2 2.5-.4-.3-2.1zM853.3 364.8l.4 2.2 2.6-.5-.4-2.1zM867.4 362.3l.4 2.3 1.3-.2-.5-2.4zM869.9 361.8l.4 2.4 3.9-.7-.5-2.4zM881.4 359.7l.4 2.6 2.6-.5-.5-2.6zM885.2 359l.5 2.6 2.5-.4-.4-2.7zM900.5 356.1l.5 3 2.6-.5-.5-3zM906.9 354.9l.5 3.1 2.6-.4-.6-3.1zM924.8 351.6l.5 3.4 1.3-.2-.6-3.4zM927.3 351.2l.6 3.4 1.3-.2-.6-3.5zM937.5 349.3l.6 3.6 2.6-.5-.6-3.6zM972 342.9l.7 4.2 2.5-.4-.7-4.3zM820.5 372.5l.2 1.6 2.6-.4-.3-1.6zM848.6 367.8l.3 2 2.6-.3-.4-2.1zM853.7 367l.3 2.1 1.3-.2-.3-2.2zM860.1 365.9l.3 2.2 1.3-.2-.3-2.2zM918.9 356.1l.5 3.2 1.3-.2-.5-3.2zM925.3 355l.6 3.4 1.2-.2-.5-3.4zM927.9 354.6l.5 3.4 1.3-.2-.5-3.4zM939.4 352.6l.6 3.7 1.3-.2-.6-3.7zM974 346.9l.6 4.2 1.3-.2-.7-4.2zM819.4 374.2l.2 1.6 5.2-.7-.3-1.6zM848.9 369.8l.3 2.1 1.3-.2-.3-2zM851.5 369.5l.3 2 3.8-.5-.3-2.1zM922 358.9l.5 3.4 6.4-.9-.5-3.4zM938.7 356.5l.5 3.6 2.6-.4-.5-3.6zM819.6 375.8l.2 1.5 5.2-.6-.2-1.6zM849.2 371.9l.2 2 1.3-.1-.2-2.1zM921.2 362.4l.4 3.3 1.3-.1-.4-3.3zM927.6 361.6l.4 3.4 1.3-.2-.4-3.4zM931.5 361.1l.4 3.4 7.7-.8-.4-3.6zM944.3 359.4l.5 3.7 7.7-.9-.5-3.8zM818.5 377.4l.2 1.5 2.6-.2-.2-1.6zM822.4 377l.2 1.6 2.5-.3-.1-1.6zM845.6 374.4l.2 1.9 1.3-.1-.2-2zM849.4 373.9l.2 2.1 1.3-.2-.2-2zM920.3 365.9l.3 3.2 3.9-.3-.4-3.4zM938.3 363.8l.4 3.6 1.3-.1-.4-3.6zM946.1 362.9l.3 3.8 2.6-.3-.4-3.8zM823.8 378.4l.2 1.6 1.3-.1-.2-1.6zM844.5 376.5l.2 1.9 2.5-.2-.1-2zM849.6 376l.2 2 1.3-.1-.2-2.1zM856.1 375.3l.2 2.2 1.3-.1-.2-2.2zM860 375l.2 2.2 1.3-.1-.2-2.2zM888.4 372.2l.2 2.8 1.3-.1-.3-2.8zM906.4 370.5l.3 3 2.6-.2-.3-3zM912.9 369.9l.2 3.1 1.3-.1-.2-3.1zM916.7 369.5l.3 3.2 7.8-.6-.3-3.3zM938.7 367.4l.3 3.6 7.7-.6-.3-3.7zM840.8 378.7l.1 1.9 2.6-.1-.1-2zM845.9 378.3l.2 2 1.3-.1-.2-2zM849.8 378l.2 2.1 1.3-.1-.2-2.1zM857.6 377.4l.1 2.2 3.9-.2-.1-2.3zM879.5 375.7l.2 2.5 11.7-.7-.2-2.7zM902.8 373.9l.2 2.9 1.3-.1-.2-2.9zM905.4 373.6l.2 3.1 3.9-.3-.2-3.1zM914.4 372.9l.2 3.2 2.6-.1-.2-3.3zM919.6 372.5l.2 3.3 3.9-.2-.2-3.4zM931.2 371.6l.3 3.5 2.6-.2-.3-3.5zM937.7 371.1l.2 3.6 3.9-.2-.2-3.7zM944.2 370.6l.2 3.7 1.3-.1-.2-3.7zM825.4 381.6l.1 1.6 1.3-.1-.1-1.6zM837 380.9l.1 1.8 2.6-.1-.1-1.9zM846.1 380.3l.1 2 3.9-.2-.1-2zM859 379.5l.1 2.2 1.3 0-.1-2.3zM878.4 378.3l.1 2.6 7.8-.4-.1-2.6zM888.8 377.7l.1 2.7 1.3 0-.1-2.8zM897.8 377.1l.2 2.9 5.1-.2-.1-3zM905.6 376.7l.1 3 3.9-.2-.1-3.1zM915.9 376l.2 3.2 1.3 0-.2-3.2zM919.8 375.8l.2 3.3 2.6-.1-.2-3.4zM923.7 375.6l.2 3.3 1.3-.1-.2-3.3zM930.2 375.2l.1 3.4 1.3 0-.1-3.5zM937.9 374.7l.2 3.6 2.6-.1-.2-3.7zM949.6 374l.2 3.8 1.3-.1-.2-3.8zM952.2 373.8l.2 3.9 3.8-.2-.2-3.9zM825.5 383.2l0 1.6 3.9-.1 0-1.7zM868.2 381.3l.1 2.4 2.6-.1-.1-2.4zM878.5 380.9l.1 2.5 7.8-.2-.1-2.7zM899.3 380l.1 2.9 2.5-.1 0-2.9zM907 379.6l.1 3.1 3.9-.1-.1-3.1zM914.8 379.3l.1 3.2 6.5-.2-.1-3.3zM926.5 378.8l.1 3.4 2.6-.1-.2-3.4zM931.6 378.6l.1 3.4 2.6 0-.1-3.6zM938.1 378.3l.1 3.6 1.3-.1-.1-3.6zM949.8 377.8l.1 3.8 7.8-.2-.2-4zM775 386.1l0 .8 2.6 0 0-.8zM799.6 385.5l0 1.2 1.3 0 0-1.2zM802.2 385.4l0 1.2 2.6 0 0-1.2zM850.1 384.2l.1 2 2.6 0-.1-2.1zM868.3 383.7l0 2.4 7.8-.1-.1-2.5zM878.6 383.4l.1 2.6 7.7-.1 0-2.7zM890.3 383.1l0 2.8 1.3 0 0-2.8zM900.7 382.8l0 3 1.3 0-.1-3zM908.4 382.6l.1 3.1 2.6 0-.1-3.1zM914.9 382.5l0 3.2 1.3-.1 0-3.2zM933 382l.1 3.5 1.3 0-.1-3.5zM775 386.9l0 .7 1.3 0 0-.7zM777.6 386.9l0 .7 2.6.1 0-.9zM799.6 386.7l0 1.1 1.3 0 0-1.1zM804.8 386.6l0 1.3 3.9 0 0-1.3zM868.3 386.1l0 2.3 3.9.1 0-2.5zM878.7 386l0 2.5 1.3 0 0-2.5zM883.9 385.9l-.1 2.7 2.6 0 0-2.7zM890.3 385.9l0 2.7 1.3 0 0-2.7zM903.3 385.8l0 2.9 1.3.1 0-3zM912.4 385.7l-.1 3.1 1.3 0 .1-3.1zM1005.6 384.9l0 4.7 1.3 0 0-4.7zM773.7 387.6l0 .7 1.3.1 0-.8zM776.3 387.6l0 .8 3.9.1 0-.8zM798.3 387.8l0 1.2 2.6 0 0-1.2zM804.8 387.9l0 1.2 5.2.2 0-1.4zM864.4 388.4l0 2.3 9 .2.1-2.4zM876.1 388.5l-.1 2.5 5.2.1.1-2.6zM886.4 388.6l0 2.7 1.3 0 0-2.7zM889 388.6l0 2.7 1.3.1 0-2.8zM907.2 388.8l-.1 3 1.3.1.1-3.1zM912.3 388.8l0 3.2 1.3 0 0-3.2zM935.7 389l-.1 3.6 5.2.1 0-3.6zM988.8 389.5l-.1 4.5 1.3 0 .1-4.5zM991.4 389.5l-.1 4.5 1.3.1.1-4.6zM1008.2 389.7l-.1 4.8 3.9.1.1-4.9zM773.7 388.3l0 .8 2.6.1 0-.8zM777.6 388.4l0 .8 1.3.1 0-.8zM782.8 388.6l-.1.9 1.3 0 .1-.9zM798.3 389l0 1.1 3.9.2 0-1.2zM804.8 389.1l-.1 1.3 5.2.2.1-1.3zM844.9 390.2l0 2 1.3 0 0-2zM851.4 390.4l-.1 2 1.3.1.1-2.1zM867 390.8l-.1 2.3 1.3.1 0-2.4zM870.8 390.9l-.1 2.4 1.3 0 .1-2.4zM905.8 391.8l-.1 3 1.3.1.1-3.1zM911 391.9l-.1 3.1 3.8.2.2-3.2zM936.9 392.6l-.2 3.6 1.3 0 .2-3.6zM939.5 392.7l-.2 3.6 1.3 0 .2-3.6zM1009.4 394.5l-.2 4.8 2.6.1.2-4.8zM776.3 389.2l-.1.7 1.3.1.1-.8zM778.9 389.3l-.1.8 1.3.1.1-.9zM782.7 389.5l0 .8 1.3.1 0-.9zM797 390.1l-.1 1.1 2.6.2.1-1.2zM802.2 390.3l-.1 1.2 1.3.1 0-1.2zM808.6 390.6l0 1.3 2.5.2.1-1.4zM830.6 391.5l-.1 1.8 2.6.1.1-1.7zM869.5 393.2l-.2 2.4 1.3.1.1-2.4zM905.7 394.8l-.2 3 1.3.1.2-3zM909.6 395l-.2 3.1 3.9.2.2-3.2zM914.7 395.2l-.1 3.2 2.6.1.1-3.2zM930.3 395.9l-.2 3.4 1.3.1.2-3.5zM939.3 396.3l-.2 3.6 1.3.1.2-3.7zM941.9 396.4l-.2 3.6 3.9.3.2-3.7zM949.7 396.7l-.2 3.8 3.9.3.2-3.9zM956.2 397l-.3 3.9 2.6.2.2-4zM989.8 398.5l-.3 4.5 1.3 0 .3-4.5zM777.5 390l0 .8 2.5.2.1-.8zM909.4 398.1l-.2 3.1 1.3.1.2-3.2zM915.9 398.5l-.3 3.2 2.6.2.2-3.3zM921 398.8l-.2 3.3 3.9.3.2-3.4zM927.5 399.2l-.3 3.4 1.3.1.3-3.4zM930.1 399.3l-.3 3.5 1.3.1.3-3.5zM989.5 403l-.3 4.4 1.3.1.3-4.5zM1012.8 404.4l-.4 4.9 1.3.1.4-4.9zM778.8 390.9l-.1.8 1.3.1 0-.8zM852.4 396.7l-.2 2.1 2.6.2.1-2.1zM906.6 400.9l-.3 3.1 2.6.2.3-3zM984 407l-.4 4.4 2.6.3.4-4.5zM1015 409.5l-.4 4.9 1.3.1.4-4.9zM777.4 391.6l-.1.8 2.6.3.1-.9zM983.6 411.4l-.4 4.4 3.8.4.5-4.4zM990.1 412l-.5 4.5 1.3.2.5-4.5zM777.3 392.4l-.1.8 2.6.3.1-.8zM990.9 416.7l-.6 4.5 1.3.1.6-4.5zM991.6 421.3l-.7 4.5 1.3.2.7-4.5zM779.7 394.3l-.2.8 2.6.5.1-.9zM784.8 395.1l-.2.9 2.6.4.2-.9zM984.5 424.9l-.7 4.4 1.3.2.7-4.4zM988.4 425.5l-.8 4.4 1.3.2.7-4.4zM990.9 425.8l-.7 4.5 1.3.3.7-4.6zM779.5 395.1l-.1.9 5.1.9.1-.9zM987.6 429.9l-.8 4.5 1.3.2.8-4.5zM780.7 396.2l-.2.8 1.3.3.1-.9zM785.8 397.2l-.2.9 1.2.2.2-.9zM985.6 434.1l-.9 4.4 2.5.5.9-4.4zM990.7 435.1l-.9 4.5 3.8.7.9-4.5zM997 436.2l-.9 4.6 1.3.3.9-4.6zM781.8 397.3l-.2.9 1.2.2.2-.8zM785.6 398.1l-.2.9 1.2.3.2-1zM994.8 440.6l-1 4.5 1.3.3 1-4.6zM998.6 441.4l-1 4.6 2.5.5 1.1-4.6zM1002.4 442.1l-1 4.7 1.3.3 1-4.7zM1015.1 444.7l-1.1 4.9 1.3.3 1.1-4.9zM782.8 398.4l-.2.9 3.8.9.2-.9zM996.4 445.7l-1.1 4.6 1.2.3 1.1-4.6zM1010.2 448.8l-1.1 4.8 1.3.3 1.1-4.8zM782.6 399.3l-.2.9 1.3.3.2-.9zM787.7 400.5l-.3 1 1.3.3.2-1zM782.4 400.2l-.2.9 1.2.3.3-.9zM788.7 401.8l-.3 1 1.3.3.2-1zM789.7 403.1l-.3 1 1.2.4.3-1zM789.4 404.1l-.3 1 1.2.4.3-1zM786.6 404.4l-.3.9 3.7 1.2.3-1zM781.4 403.7l-.3.8 9.8 3.5.3-1.1zM782.3 404.9l-.3.9 3.6 1.4.4-1zM789.6 407.5l-.3 1 1.2.5.4-1zM783.2 406.3l-.3.9 2.4.9.3-.9zM784.1 407.6l-.4.9 1.2.5.4-.9zM786.1 409.5l-.4 1 3.6 1.5.4-1zM752.4 399.1l-.3.3 1.1.7.3-.4zM992.6 552.9l-2.9 4.5 2.1 1.4 3-4.6zM1004.6 560.5l-3.1 4.7 1.1.7 3.1-4.8zM992.6 642.6l-4.5 4.5 2.7 2.7 4.5-4.5zM1006.3 656.1l-4.8 4.7.9.9 4.8-4.7zM955.6 614.2l-4 3.8 1.8 1.9 4.1-3.9zM959.3 617.8l-4.1 4 .9.9 4.1-3.9zM986.3 645.3l-4.6 4.3.9 1 4.6-4.4zM953.4 619.9l-4.1 3.8 1.7 1.9 4.2-3.8zM980.8 648.7l-4.6 4.3.8.9 4.7-4.3zM1016.1 685.9l-5.3 4.8.9 1 5.3-4.9zM977 653.9l-4.7 4.2.9 1 4.7-4.2zM1010 689.8l-5.4 4.8.9.9 5.3-4.8zM951.1 634.1l-4.4 3.8.8 1 4.4-3.8zM977.4 663.9l-4.9 4.2.9 1 4.9-4.3zM1003.8 693.6l-5.5 4.7.9.9 5.4-4.6zM940 630.1l-4.3 3.6 1.7 1.9 4.3-3.6zM949.2 640.8l-4.5 3.7.8 1 4.5-3.7zM965.9 660.3l-4.9 4 .9 1 4.8-4zM1003.3 704.1l-5.6 4.6.8 1 5.7-4.6zM931.7 628.7l-4.3 3.4.8 1 4.3-3.4zM945.5 645.5l-4.5 3.7.8 1 4.6-3.7zM957.8 660.4l-4.8 3.8 1.6 2 4.8-3.9zM1000.2 711.7l-5.8 4.6.8 1 5.8-4.6zM925.8 630.1l-4.3 3.4.8 1 4.3-3.4zM944.2 653.2l-4.7 3.6.8 1.1 4.7-3.7zM994.4 716.3l-5.8 4.5.8 1 5.8-4.5zM919.9 631.4l-4.3 3.2.8 1.1 4.3-3.3zM984.7 715.7l-5.8 4.3.8 1.1 5.8-4.4zM915.6 634.6l-4.3 3.2.7 1 4.4-3.1zM954.5 687.1l-5.2 3.8.7 1.1 5.3-3.8zM975.9 715.9l-5.8 4.2.7 1 5.8-4.1zM911.3 637.8l-4.4 3 .7 1.1 4.4-3.1zM926.9 659.7l-4.8 3.3 2.9 4.2 4.9-3.3zM947 687.8l-5.3 3.7 1.5 2.1 5.3-3.7zM950.7 693l-5.3 3.8 1.4 2.1 5.4-3.8zM956 700.3l-5.6 3.8.8 1.1 5.5-3.8zM970.8 721.1l-5.9 4.1.8 1.1 5.9-4.1zM907.6 641.9l-4.5 3 1.4 2.1 4.5-3zM909.8 645.1l-4.6 3 .7 1.1 4.6-3.1zM920.7 660.9l-4.9 3.2.7 1.1 4.9-3.2zM939.5 688.3l-5.3 3.6 1.5 2.1 5.3-3.6zM945.4 696.8l-5.5 3.6 1.4 2.1 5.5-3.6zM951.2 705.2l-5.7 3.7.8 1.1 5.6-3.7zM963.5 723.1l-5.9 4 1.4 2.1 5.9-4zM906.6 650.2l-4.6 3 .7 1.1 4.6-3zM913.7 660.9l-4.8 3.1.7 1.1 4.8-3.1zM948.4 713.2l-5.8 3.7.7 1.1 5.8-3.7zM951.2 717.5l-5.8 3.7 2 3.2 5.9-3.7zM908.7 674.7l-5.1 3 5.2 8.8 5.3-3.1zM901.7 674.4l-5.1 2.9.7 1.1 5-2.9zM908.8 686.5l-5.2 3 .6 1.2 5.3-3.1zM929 720.7l-5.9 3.3.7 1.2 5.9-3.4zM931.6 725.1l-5.9 3.4 2.5 4.4 6-3.4zM895.4 675.1l-5.1 2.7.6 1.2 5.1-2.8zM904.2 690.7l-5.3 2.9.6 1.1 5.3-2.9zM923.1 724l-5.9 3.3 3.1 5.6 6-3.3zM889.1 675.6l-5.1 2.7.6 1.1 5.1-2.7zM900.1 695.8l-5.4 2.9 1.7 3.4 5.5-2.9zM884 678.3l-5.1 2.6.6 1.1 5.1-2.6zM896.4 702.1l-5.5 2.8.6 1.1 5.5-2.8zM879.5 682l-5.2 2.5.5 1.2 5.2-2.5zM874.8 685.7l-5.2 2.4.5 1.2 5.3-2.5zM879.8 696.1l-5.4 2.5 1.6 3.5 5.5-2.6zM882.6 701.8l-5.6 2.6.6 1.1 5.5-2.5zM873.8 697.4l-5.4 2.4.5 1.2 5.5-2.4zM876 702.1l-5.6 2.4 1.1 2.3 5.5-2.4zM863.8 689.3l-5.3 2.2.5 1.2 5.3-2.3zM871 705.7l-5.6 2.3.9 2.4 5.7-2.4zM872.5 709.2l-5.7 2.4.5 1.2 5.7-2.4zM859.5 693.8l-5.4 2.2 1.4 3.6 5.4-2.2zM867.8 713.9l-5.7 2.3.4 1.2 5.8-2.3zM854.1 696l-5.4 2.1.9 2.4 5.4-2.1zM863.5 719.8l-5.9 2.2.5 1.2 5.8-2.2zM848.2 696.9l-5.4 1.9.4 1.2 5.5-1.9zM858.5 724.4l-5.9 2.1.4 1.3 6-2.2zM861.2 731.6l-6 2.2.4 1.2 6.1-2.2zM842.8 698.8l-5.5 1.9.8 2.4 5.5-1.9zM845.4 724.9l-5.9 2 .4 1.2 6-1.9zM832.2 703.7l-5.5 1.7 1 3.7 5.7-1.7zM824.1 696.8l-5.4 1.5.3 1.3 5.5-1.6zM837.6 742.1l-6.3 1.8.7 2.5 6.3-1.8zM840.1 750.7l-6.4 1.8.7 2.5 6.4-1.9zM841.6 755.6l-6.5 1.8.3 1.3 6.5-1.9zM817.7 694.6l-5.4 1.5.9 3.7 5.5-1.5zM837.5 766l-6.7 1.8.4 1.2 6.6-1.7zM812.9 698.6l-5.5 1.3.6 2.5 5.5-1.4zM831.5 770.3l-6.7 1.6.6 2.5 6.7-1.7zM806.6 696.2l-5.5 1.2.3 1.3 5.5-1.3zM808.6 704.9l-5.5 1.3.5 2.4 5.6-1.2zM825.7 775.7l-6.8 1.5.2 1.3 6.9-1.6zM800.3 693.7l-5.4 1.1.3 1.3 5.4-1.2zM818.6 776l-6.8 1.4.5 2.5 6.8-1.4zM794.9 694.8l-5.3 1 .2 1.3 5.4-1zM789.8 697.1l-5.4.9.4 2.6 5.5-1zM791.2 704.6l-5.6 1 .2 1.3 5.6-1zM805.6 782.5l-6.9 1.2.6 3.8 7-1.3zM806.8 788.7l-7 1.3.2 1.2 7-1.2zM785.6 705.6l-5.5.9.1 1.3 5.6-.9zM800.2 792.5l-7.1 1.1.4 2.5 7.1-1.1zM793.1 793.6l-7.1 1 .1 1.3 7.2-1zM786.1 795.9l-7.1.8.4 3.8 7.2-.9zM769 709.2l-5.6.6.1 1.3 5.7-.6zM779.6 801.8l-7.3.7.3 2.6 7.3-.8zM780.3 808.1l-7.4.8.2 1.3 7.3-.8zM780.6 810.7l-7.4.7.6 6.4 7.5-.8zM763.9 714.9l-5.8.5.1 1.3 5.8-.5zM774.2 821.6l-7.6.6.4 5.1 7.6-.7zM758.2 716.7l-5.7.4 0 1.2 5.8-.4zM767.5 833.6l-7.9.6.1 1.3 7.9-.6zM752.8 722.2l-5.9.3.1 1.3 5.9-.4zM759.7 835.5l-7.8.4 0 1.2 7.9-.4zM747 725l-5.9.2.1 2.6 5.9-.2zM752.2 843.5l-8 .3.1 1.2 8-.2zM741.2 729.1l-6 .1.1 3.8 6-.1zM744.4 851.4l-8.1.1 0 1.3 8.2-.1zM735.3 735.6l-6.1 0 0 3.8 6.1 0zM736.4 856.6l-8.2 0-.1 3.8 8.3 0zM729.2 741.9l-6.2-.1-.1 2.6 6.2.1zM728.1 863l-8.3-.2 0 1.3 8.3.1zM722.5 761l-6.6-.3-.2 5.1 6.6.3zM722.2 771.2l-6.7-.3-.2 3.9 6.8.2zM719.7 865.4l-8.3-.3-.4 8.9 8.5.3zM715.1 779.9l-6.9-.4-.1 1.3 6.9.3zM710.8 877.8l-8.6-.5 0 1.3 8.6.5zM707.8 785.9l-6.9-.5-.2 2.5 7 .5zM707.5 791l-7-.5-.1 1.2 7 .5zM707.3 794.8l-7.1-.5-.1 1.3 7.1.4zM701.9 882.4l-8.6-.6-.2 2.5 8.7.6zM701.5 888.8l-8.7-.7-.5 6.4 8.8.6zM700.5 905.2l-9-.6-.4 5.1 9.1.6zM700.9 785.4l-7-.6-.1 1.3 7 .6zM700.2 794.3l-7.1-.6-.3 2.5 7.2.6zM692.3 894.5l-8.9-.8-.1 1.3 8.9.7zM691.4 905.9l-9.1-.8-.4 3.8 9.2.8zM690.4 918.5l-9.3-.8-.2 2.5 9.3.9zM690.1 922.3l-9.4-.8-.2 2.5 9.4.8zM693.8 786.1l-7-.8-.4 3.8 7 .8zM693.3 791.1l-7.1-.7-.1 1.3 7.1.7zM683.5 892.4l-8.8-.9-.1 1.3 8.8.9zM683 897.5l-8.9-.9-.8 7.5 9 1zM681.9 908.9l-9.1-1-.3 2.6 9.2.9zM681.5 913.9l-9.2-.9-1 8.8 9.3 1zM686.8 785.3l-6.9-.8-.5 3.8 7 .8zM686.2 790.4l-7-.9-.2 1.3 7.1.9zM685.7 795.5l-7.2-.9-.1 1.3 7.1.8zM685.1 800.5l-7.2-.9-.4 2.6 7.3.9zM684.2 808.1l-7.3-.9-.5 3.8 7.4.9zM674.6 892.8l-8.9-1.1-.1 1.3 8.8 1.1zM674.1 896.6l-8.9-1.1-.5 3.8 9 1.1zM672.5 910.5l-9.1-1.2-.3 2.6 9.2 1.1zM671.4 920.5l-9.3-1.1-1 7.6 9.4 1.1zM679.5 787l-6.9-1-.4 2.6 7 .9zM677.4 803.4l-7.3-1-.4 2.5 7.3 1.1zM676 813.5l-7.4-1-.6 3.8 7.5 1zM665.7 891.7l-8.8-1.2-1.1 7.5 8.9 1.3zM661.3 925.7l-9.5-1.3-.1 1.2 9.4 1.4zM660.9 928.2l-9.4-1.3-.2 1.3 9.5 1.3zM667.7 818.8l-7.6-1.2-1 6.3 7.6 1.2zM657.3 888l-8.7-1.4-.5 2.5 8.8 1.4zM656.7 891.7l-8.8-1.3-1 6.2 8.9 1.4zM651.8 924.4l-9.3-1.5-.5 2.5 9.5 1.5zM658.4 827.7l-7.7-1.4-.2 1.3 7.7 1.3zM648.6 886.6l-8.8-1.5-.2 1.2 8.7 1.6zM646.9 896.6l-8.9-1.5-.3 1.2 9 1.6zM643.5 916.7l-9.2-1.6-.3 1.2 9.3 1.6zM714.1 485l-1.7-.3-.3 1.2 1.8.4zM649.6 832.6l-7.8-1.5-.2 1.2 7.8 1.5zM649.1 835.1l-7.8-1.5-.3 1.2 7.9 1.5zM640.3 882.6l-8.7-1.7-.2 1.3 8.7 1.6zM638 895.1l-8.9-1.7-.5 2.5 8.9 1.7zM636.4 903.8l-9.1-1.7-.5 2.5 9.1 1.7zM635 911.3l-9.2-1.7-1.8 8.7 9.3 1.7zM712.7 483.4l-1.7-.3-.6 2.5 1.7.3zM635.7 861l-8.3-1.7-.5 2.4 8.3 1.8zM634.2 868.5l-8.4-1.8-.3 1.3 8.4 1.7zM629.1 893.4l-8.8-1.9-3.1 13.7 9.1 1.9zM711 483.1l-1.7-.4-.6 2.5 1.7.4zM620.3 891.5l-8.8-2-.6 2.5 8.8 2zM595.8 954.9l-10-2.4-.3 1.2 10 2.4zM707.7 438.6l-.9-.5-1.7 3.5 1 .5zM707.4 437l-.8-.5-.6 1.2.8.4zM705.7 440.4l-.9-.4-.6 1.1.9.5zM704.5 442.8l-.9-.5-1.8 3.4 1 .5zM678 495.8l-1.9-.9-.6 1.1 1.9 1zM554.2 743.8l-6.2-3.2-.6 1.2 6.2 3.1zM704.8 440l-1-.5-1.8 3.4 1 .5zM702.4 444.6l-1-.6-.6 1.2 1 .5zM676.1 494.9l-1.8-1-.7 1.1 1.9 1zM674.9 497.2l-1.9-1-1.2 2.2 1.9 1.1zM706.3 435l-.8-.5-.7 1.1.9.5zM703.2 440.6l-.9-.5-2.5 4.5 1 .6zM673.6 495l-1.8-1-1.3 2.2 1.9 1.1zM544.9 731.8l-6-3.3-.7 1.1 6.1 3.3zM543.7 734l-6.1-3.3-.6 1.1 6 3.4zM701.7 441.2l-1-.5-1.9 3.3 1 .6zM703.4 436.2l-.9-.5-.7 1.1.9.6zM700.1 441.8l-1-.6-.7 1.1 1 .6zM531.6 727.3l-5.9-3.5-1.3 2.1 5.9 3.6zM702.5 435.7l-.8-.5-.7 1.1.8.5zM701.7 435.2l-.9-.5-2.1 3.2.9.6zM698.9 439.6l-.9-.6-.7 1.1.9.6zM701.5 433.6l-.8-.5-4.4 6.3 1 .7zM685.1 458.3l-1.2-.8-1.5 2.1 1.3.9zM700.7 433.1l-.8-.6-3.7 5.3.9.6zM683.9 457.5l-1.2-.8-.8 1 1.3.9zM682.4 459.6l-1.2-.8-.8 1 1.3.9zM699.2 433.5l-.8-.5-.8 1 .8.6zM696.9 436.7l-.8-.6-.8 1 .9.7zM681.2 458.8l-1.3-.9-.7 1 1.2.9zM697.6 434l-.8-.6-.8 1 .8.6zM695.3 437.1l-.9-.6-.8 1 .9.7zM465 747.8l-6.2-4.7-.8 1 6.3 4.7zM696 434.4l-.8-.6-1.6 2 .8.7zM449.4 755.2l-6.4-4.9-.8 1 6.4 4.9zM455.7 734.3l-6-4.8-1.6 1.9 6 4.9zM444.6 748.3l-6.3-5.1-.8 1 6.3 5.1zM575.4 577.2l-3.3-2.7-.9 1 3.4 2.7zM573.8 579.2l-3.4-2.8-.8 1 3.3 2.8zM535.3 625.8l-4.1-3.5-1.7 2 4.2 3.4zM450.5 728.5l-5.9-5-2.5 2.9 6 5zM440.7 740.3l-6.1-5.1-3.3 3.9 6.2 5.1zM566.2 581.3l-3.3-2.9-.9 1 3.4 2.9zM534.5 618.4l-4-3.5-1.7 2 4 3.4zM531.2 622.3l-4.1-3.5-.9.9 4.1 3.6zM528.7 625.2l-4.2-3.5-.8.9 4.1 3.6zM443.7 724.5l-5.9-5-6.7 7.6 6 5.2zM570.5 569.7l-3.1-2.8-.9 1 3.2 2.8zM562 579.4l-3.3-3-.9.9 3.4 3zM538.1 606.3l-3.8-3.4-1.7 1.9 3.8 3.4zM534.7 610.1l-3.8-3.4-.9.9 3.9 3.5zM530.5 614.9l-4-3.5-.8.9 3.9 3.6zM526.2 619.7l-4-3.6-.9 1 4.1 3.6zM432.8 725.2l-5.9-5.2-.9.9 5.9 5.3zM565.6 568.8l-3.1-2.9-4.5 4.6 3.3 3zM534.3 602.9l-3.7-3.5-6.2 6.5 3.9 3.6zM527.4 610.5l-3.9-3.6-.9.9 3.9 3.6zM523 615.2l-3.9-3.7-.9.9 4 3.7zM530.6 599.4l-3.7-3.5-3.6 3.6 3.7 3.6zM525.3 605l-3.8-3.6-3.6 3.6 3.8 3.7zM526.9 595.9l-3.6-3.6-4.6 4.5 3.7 3.7zM520.6 602.3l-3.8-3.7-2.7 2.7 3.8 3.7zM516.1 606.9l-3.8-3.8-1 .9 3.9 3.8zM635.4 482.3l-1.7-1.7-4.6 4.4 1.7 1.8zM523.3 592.3l-3.6-3.7-5.6 5.3 3.7 3.8zM512.3 603.1l-3.8-3.9-.9.9 3.7 3.9zM460 654.3l-4.6-4.8-.9.9 4.6 4.8zM457.3 657l-4.7-4.8-1.9 1.8 4.8 4.8zM453.6 660.6l-4.7-4.9-1 .9 4.8 4.9zM630.9 483.2l-1.6-1.7-1 .8 1.7 1.8zM518.8 589.5l-3.6-3.7-3.8 3.4 3.6 3.8zM447.9 656.6l-4.7-5-.9.9 4.7 5zM513.3 587.5l-3.4-3.8-1 .8 3.5 3.9zM502.9 597l-3.6-4-1 .9 3.7 4zM453.7 642.1l-4.5-4.9-.9.9 4.4 4.9zM445.1 649.9l-4.5-5-2.9 2.5 4.6 5.1zM508.9 584.5l-3.4-3.9-1 .9 3.4 3.9zM507 586.2l-3.5-3.9-2.9 2.5 3.5 4zM499.3 593l-3.6-4-1 .8 3.6 4.1zM495.4 596.4l-3.6-4.1-1 .8 3.7 4.2zM493.5 598.1l-3.7-4.1-1 .8 3.7 4.2zM455 632.1l-4.3-4.8-.9.8 4.2 4.9zM504.5 581.5l-3.4-4-2 1.6 3.4 4zM500.6 584.8l-3.5-4.1-2.9 2.5 3.4 4.1zM484.9 598.1l-3.6-4.3-1 .8 3.7 4.4zM444.9 632.3l-4.3-5-2 1.6 4.3 5.1zM492.2 584.8l-3.5-4.2-1 .8 3.5 4.2zM480.3 594.6l-3.6-4.4-1 .8 3.6 4.4zM487.7 581.4l-3.3-4.3-1.1.8 3.4 4.3zM474.6 591.8l-3.5-4.5-1 .8 3.5 4.5zM460.6 603l-3.8-4.7-1 .7 3.8 4.8zM473.1 585.7l-3.4-4.5-1.1.8 3.5 4.5zM456.8 598.3l-3.7-4.9-1 .8 3.7 4.8zM468.6 582l-3.3-4.6-1.1.7 3.4 4.6zM186.5 635.6l-4.4-9.6-1.1.6 4.3 9.5zM183 637.1l-4.4-9.5-1.2.5 4.4 9.6zM174.8 640.9l-4.4-9.7-1.2.5 4.4 9.7zM192.7 621.4l-4.1-9.4-2.3 1 4.1 9.5zM179.8 627.1l-4.2-9.7-4.8 2 4.3 9.7zM173.9 629.6l-4.3-9.7-3.5 1.5 4.3 9.8zM164.5 633.7l-4.4-9.9-1.1.5 4.3 9.9zM353.9 543.7l-2.7-6.6-4.8 1.9 2.7 6.7zM346.7 546.7l-2.7-6.8-1.2.5 2.7 6.8zM343.2 548.1l-2.8-6.7-1.2.4 2.8 6.8zM174.4 617.9l-4.1-9.7-2.4 1 4.1 9.7zM142.3 631.2l-4.2-10.3-1.2.5 4.3 10.3zM351.2 537.1l-2.7-6.6-2.4.9 2.7 6.7zM340.4 541.4l-2.7-6.9-1.2.5 2.7 6.8zM182.3 603.5l-3.8-9.6-2.4.9 3.8 9.7zM169.1 608.7l-3.8-9.8-6.1 2.2 4 9.9zM145.2 618.1l-4-10.2-2.4.9 4 10.2zM134.5 622.3l-4.2-10.4-1.2.5 4.2 10.4zM110.6 631.7l-4.3-10.8-1.2.5 4.3 10.8zM344.9 531.8l-2.5-6.7-1.2.4 2.5 6.8zM342.5 532.7l-2.5-6.8-4.9 1.7 2.6 6.9zM177.3 594.4l-3.6-9.7-2.5.9 3.7 9.7zM173.7 595.7l-3.7-9.7-3.6 1.3 3.7 9.8zM165.3 598.9l-3.8-9.9-1.2.4 3.8 9.9zM159.2 601.1l-3.7-9.9-7.3 2.5 3.8 10.1zM149.6 604.7l-3.8-10.1-1.2.4 3.8 10.2zM134 610.6l-4-10.4-2.4.8 3.9 10.5zM395.9 506.2l-2.1-5.9-4.9 1.6 2.1 6zM187 580l-3.4-9.5-2.4.8 3.4 9.6zM180.9 582.2l-3.4-9.7-1.2.5 3.4 9.6zM166.4 587.3l-3.5-9.9-1.2.4 3.5 9.9zM164 588.2l-3.6-9.9-2.4.8 3.5 9.9zM150.6 592.9l-3.6-10.2-1.2.4 3.6 10.2zM122.8 602.7l-3.8-10.6-3.7 1.2 3.8 10.7zM396.3 499.5l-2-5.9-2.4.8 1.9 5.9zM388.9 501.9l-2-6-4.9 1.6 2 6.1zM187.3 569.3l-3.2-9.5-1.2.4 3.2 9.5zM165.3 576.6l-3.3-9.8-1.2.3 3.3 9.9zM393.1 494l-1.9-5.9-2.4.7 1.8 6zM384.5 496.7l-1.9-6-2.5.7 1.9 6.1zM346.3 508.7l-2.1-6.7-4.9 1.5 2.1 6.8zM187.8 558.6l-3-9.4-1.3.3 3 9.5zM171.8 563.7l-3.1-9.8-2.5.7 3.2 9.8zM166.9 565.2l-3.1-9.8-1.3.3 3.2 9.9zM390 488.5l-1.7-6-1.3.3 1.8 6zM378.9 491.8l-1.8-6.2-1.3.3 1.8 6.2zM373.9 493.2l-1.8-6.2-2.5.7 1.8 6.2zM356.6 498.3l-1.9-6.5-1.3.3 2 6.6zM341.8 502.7l-2.1-6.8-1.2.4 2 6.8zM188.5 548.1l-2.8-9.5-2.5.7 2.8 9.5zM170 553.5l-3-9.8-1.2.4 2.9 9.8zM387 482.8l-1.6-6-1.3.3 1.7 6.1zM375.8 485.9l-1.7-6.2-1.2.3 1.7 6.3zM352.2 492.5l-1.8-6.6-5 1.2 1.8 6.8zM346 494.2l-1.9-6.7-6.2 1.6 1.8 6.8zM131 553.7l-2.9-10.5-1.2.4 2.9 10.4zM376.6 479.1l-1.6-6.2-1.2.3 1.6 6.2zM350.4 485.9l-1.8-6.7-1.2.3 1.7 6.7zM345.4 487.1l-1.8-6.7-2.5.6 1.8 6.8zM336.6 489.4l-1.8-6.9-1.2.3 1.8 6.9zM235.4 515.5l-2.2-8.6-3.8.9 2.3 8.7zM190.5 527.1l-2.5-9.4-7.5 1.8 2.5 9.6zM141.8 539.7l-2.7-10.3-1.2.3 2.7 10.3zM130.6 542.6l-2.7-10.5-3.8.9 2.8 10.6zM113.1 547.1l-2.8-10.8-1.2.3 2.8 10.8zM362.5 475.9l-1.6-6.5-1.2.3 1.5 6.5zM347.4 479.5l-1.6-6.7-2.5.5 1.6 6.8zM343.6 480.4l-1.6-6.8-1.3.3 1.7 6.8zM339.9 481.3l-1.7-6.8-2.5.5 1.6 6.9zM233.2 506.9l-2.1-8.7-1.3.3 2.1 8.7zM230.7 507.5l-2.1-8.8-1.3.3 2.1 8.8zM213.1 511.7l-2.2-9.1-3.8.9 2.2 9.1zM188 517.7l-2.3-9.5-1.2.3 2.3 9.5zM185.5 518.3l-2.3-9.5-3.8.8 2.4 9.6zM179.2 519.8l-2.3-9.6-2.5.5 2.3 9.7zM168 522.5l-2.4-9.8-1.3.2 2.4 9.9zM159.2 524.6l-2.4-10-1.3.3 2.4 10zM156.7 525.2l-2.4-10-6.3 1.4 2.4 10.1zM149.2 527l-2.5-10.2-1.3.3 2.5 10.2zM145.4 527.9l-2.5-10.2-2.5.5 2.5 10.3zM132.9 530.9l-2.6-10.4-1.2.2 2.5 10.5zM124.1 533l-2.6-10.6-1.2.3 2.5 10.6zM343.3 473.3l-1.5-6.7-1.3.2 1.5 6.8zM337 474.7l-1.6-6.9-1.2.3 1.5 6.9zM331.9 475.9l-1.5-7-1.3.2 1.6 7zM213.4 502.1l-2-9.1-6.3 1.3 2 9.2zM175.7 510.4l-2.2-9.7-1.3.3 2.2 9.7zM166.8 512.4l-2.2-9.9-1.2.3 2.2 9.9zM163.1 513.2l-2.3-9.9-6.3 1.3 2.3 10zM145.4 517.1l-2.2-10.2-2.6.5 2.3 10.3zM115.2 523.8l-2.4-10.7-1.3.2 2.5 10.8zM321.3 463.3l-1.3-7.2-1.3.2 1.4 7.2zM313.7 464.7l-1.3-7.3-1.3.2 1.3 7.3zM317.5 456.5l-1.2-7.2-3.9.6 1.2 7.3zM694.3 216.2l3-.6-.3-1.3-3 .7zM697.8 218.2l3-.6-.5-2.6-3 .6z"/>
<path fill="#66C0DC" stroke="#66C0DC" stroke-width="0.6" d="M889.4 197l3.3 2.7 2.5-2.9-3.3-2.9zM851.2 248.2l2.4 2.1.9-1-2.4-2.1zM853.7 245.2l2.5 2.2.9-1-2.5-2.1zM892.7 199.7l3.2 2.9 2.6-3-3.3-2.8zM852.8 251.3l2.3 2.1 3.5-3.8-2.4-2.2zM862.2 240.6l2.6 2.3.9-1-2.6-2.3zM887.3 212.3l3 2.8 2.7-2.9-3.1-2.8zM855.1 253.4l2.3 2.2 2.7-2.8-2.4-2.3zM865.7 241.9l2.5 2.4.9-1-2.6-2.3zM878.9 227.5l2.7 2.6.9-.9-2.8-2.6zM891.2 214.1l3 2.8 1.8-1.9-3-2.8zM858.3 254.6l2.3 2.3.9-1-2.3-2.2zM868.2 244.3l2.5 2.4.9-1-2.5-2.4zM892.4 218.8l2.9 2.8.9-.9-2.9-2.9zM894.2 216.9l2.9 2.9.9-1-2.9-2.8zM899.6 211.2l3 3 1.8-1.9-3-3zM860.6 256.9l2.3 2.2.9-.9-2.3-2.3zM871.6 245.7l2.4 2.5 2.8-2.7-2.5-2.5zM875.2 242l2.5 2.5 1.9-1.8-2.6-2.5zM895.3 221.6l2.9 2.9 1.8-1.8-2.9-2.9zM862.9 259.1l2.2 2.3 2.8-2.7-2.2-2.3zM874 248.2l2.4 2.5 3.8-3.6-2.5-2.6zM867.9 258.7l2.2 2.4 1-.9-2.2-2.4zM875.5 251.6l2.3 2.5 3.9-3.5-2.5-2.6zM873 258.5l2.2 2.5 1-.9-2.2-2.5zM877.8 254.1l2.3 2.6 2.9-2.6-2.3-2.6zM874.3 261.8l2.1 2.5 1-.8-2.2-2.5zM883 254.1l2.3 2.6 2-1.7-2.3-2.6zM875.4 265.2l2.1 2.5 1-.8-2.1-2.6zM886.6 260.3l2.2 2.7 4-3.3-2.2-2.8zM878.6 271.1l2 2.5 2.1-1.6-2.1-2.6zM885.7 265.4l2.1 2.7 3.1-2.4-2.1-2.7zM890.9 265.7l2.1 2.8 1-.8-2.1-2.8zM895 262.6l2.2 2.8 1-.8-2.1-2.8zM883.3 291.2l1.7 2.6 2.2-1.3-1.7-2.7zM885 293.8l1.6 2.7 3.3-2-1.6-2.7zM925.1 282.7l1.7 3.4 3.5-1.8-1.8-3.4zM917.6 290.9l1.7 3.3 1.1-.6-1.6-3.3zM944.1 277.1l1.9 3.7 1.2-.5-1.9-3.8zM953.4 272.3l1.9 3.9 2.4-1.1-2-4zM915.8 295.9l1.5 3.2 1.2-.5-1.6-3.3zM949.5 279.1l1.9 3.8 1.1-.5-1.8-3.9zM955.3 276.2l1.9 3.9 2.4-1.1-1.9-3.9zM916.2 299.7l1.4 3.2 1.2-.5-1.5-3.3zM953.7 281.8l1.8 3.9 1.2-.6-1.8-3.9zM850.3 333.6l.9 2 2.4-1-1-2.1zM917.6 302.9l1.5 3.3 1.2-.6-1.5-3.2zM848.8 336.7l.9 2 4.8-2-.9-2.1zM953.7 291.1l1.6 3.9 3.6-1.5-1.7-3.9zM939.7 301.5l1.4 3.6 1.2-.5-1.4-3.6zM942.1 300.5l1.4 3.7 1.3-.5-1.5-3.7zM957.7 294l1.6 4 1.2-.5-1.6-4zM921.8 312.7l1.2 3.3 1.3-.4-1.3-3.4zM933.9 308l1.3 3.5 1.2-.5-1.3-3.5zM983.9 293.3l1.6 4.4 2.4-.8-1.6-4.5zM916.9 322l1.1 3.2 1.2-.4-1.1-3.3zM984.3 298.2l1.5 4.4 1.2-.4-1.5-4.5zM986.7 297.3l1.5 4.4 1.3-.4-1.6-4.4zM991.6 295.6l1.6 4.5 4.9-1.6-1.6-4.7zM856.5 345.8l.7 2.1 2.4-.7-.7-2.3zM876.1 339.2l.9 2.5 2.4-.8-.8-2.5zM971 307.5l1.3 4.2 1.3-.4-1.4-4.2zM985.8 302.6l1.4 4.4 2.5-.8-1.5-4.5zM996.9 298.9l1.4 4.6 1.3-.4-1.5-4.6zM857.2 347.9l.6 2.2 2.5-.7-.7-2.2zM864.6 345.6l.7 2.3 1.2-.4-.7-2.3zM867.1 344.8l.7 2.4 1.2-.4-.7-2.4zM874.5 342.5l.7 2.5 2.5-.8-.7-2.5zM878.2 341.3l.8 2.6 3.7-1.1-.8-2.7zM883.1 339.8l.8 2.6 1.3-.4-.8-2.6zM851.6 352l.6 2 1.2-.3-.6-2.1zM857.8 350.1l.6 2.2 1.3-.3-.6-2.2zM860.3 349.4l.6 2.2 2.5-.7-.6-2.2zM864 348.3l.7 2.3 1.2-.4-.6-2.3zM867.8 347.2l.6 2.3 1.3-.3-.7-2.4zM877.7 344.2l.7 2.6 2.5-.7-.7-2.6zM887.7 341.3l.8 2.7 1.2-.3-.8-2.8zM896.4 338.7l.8 2.9 2.5-.7-.8-2.9zM905.1 336.1l.9 3.1 1.2-.4-.9-3zM917.5 332.5l1 3.2 1.2-.3-.9-3.3zM930 328.8l1 3.4 1.2-.3-1-3.5zM969.8 317l1.2 4.1 3.8-1-1.2-4.2zM848.4 355.1l.6 2 10-2.6-.6-2.2zM862.2 351.3l.6 2.2 3.8-.9-.7-2.4zM867.2 349.9l.6 2.4 1.3-.4-.7-2.4zM878.4 346.8l.7 2.5 1.3-.3-.7-2.6zM889.7 343.7l.7 2.7 1.3-.3-.7-2.8zM909.7 338.1l.8 3.1 2.5-.6-.8-3.2zM931 332.2l.9 3.5 1.3-.3-1-3.5zM972.3 320.8l1.1 4.2 1.2-.3-1.1-4.2zM850.2 356.8l.5 2.1 1.3-.3-.5-2.1zM852.8 356.1l.5 2.1 5-1.2-.5-2.2zM861.5 353.9l.6 2.2 5-1.2-.5-2.3zM867.8 352.3l.6 2.3 2.5-.6-.6-2.4zM890.4 346.4l.7 2.8 3.8-.9-.7-2.9zM895.5 345.1l.7 2.9 1.2-.3-.7-2.9zM913 340.6l.8 3.1 1.3-.3-.8-3.1zM916.8 339.6l.8 3.2 3.8-.9-.8-3.3zM962.1 327.9l.9 4 2.6-.6-1-4zM849.5 359.2l.5 2 1.2-.3-.5-2zM859.6 356.7l.5 2.3 3.8-.9-.5-2.3zM878.5 352.2l.6 2.6 1.2-.3-.5-2.6zM891.1 349.2l.6 2.8 1.3-.3-.6-2.8zM896.2 348l.6 2.8 2.5-.5-.6-2.9zM908.8 344.9l.7 3.1 1.2-.3-.7-3.1zM911.3 344.3l.7 3.2 10.1-2.3-.7-3.3zM940.3 337.4l.9 3.6 3.8-.8-.9-3.7zM968.1 330.7l.9 4.1 3.8-.8-.9-4.2zM825.9 366.5l.3 1.7 3.9-.8-.4-1.7zM834.8 364.6l.3 1.8 1.3-.3-.4-1.8zM842.4 362.9l.4 1.9 3.8-.8-.4-2zM850 361.2l.4 2.1 3.8-.8-.4-2.1zM860.1 359l.5 2.2 1.2-.3-.4-2.2zM876.5 355.3l.6 2.5 1.2-.2-.5-2.6zM895.5 351.1l.6 2.9 3.9-.8-.7-2.9zM900.6 350l.6 2.9 1.3-.2-.6-3zM904.4 349.2l.6 3 2.6-.6-.7-3zM918.3 346.1l.7 3.2 6.4-1.3-.7-3.3zM932.3 343l.7 3.5 2.6-.5-.8-3.6zM943.7 340.5l.8 3.7 2.5-.6-.8-3.7zM969 334.8l.9 4.2 2.5-.5-.8-4.2zM825 368.4l.3 1.6 7.6-1.4-.3-1.7zM841.5 365.1l.4 1.9 2.5-.5-.4-2zM845.3 364.3l.4 2 1.3-.3-.4-2zM849.1 363.5l.4 2.1 3.8-.8-.4-2.1zM873.3 358.6l.4 2.5 1.3-.3-.5-2.4zM875.8 358.1l.5 2.5 2.5-.5-.5-2.5zM880.9 357.1l.5 2.6 2.5-.5-.5-2.7zM919 349.3l.7 3.3 5.1-1-.7-3.3zM927.9 347.5l.7 3.4 1.3-.2-.7-3.4zM935.6 346l.6 3.5 1.3-.2-.7-3.6zM820.2 371l.3 1.5 6.4-1.1-.3-1.6zM827.8 369.6l.3 1.6 1.3-.2-.3-1.7zM844.4 366.5l.4 2 3.8-.7-.4-2zM850.8 365.3l.3 2.1 2.6-.4-.4-2.2zM866.1 362.5l.4 2.3 1.3-.2-.4-2.3zM918.4 352.8l.5 3.3 6.4-1.1-.5-3.4zM823 372.1l.3 1.6 6.4-1-.3-1.7zM847.3 368l.3 2 1.3-.2-.3-2zM851.1 367.4l.4 2.1 2.5-.4-.3-2.1zM855 366.7l.3 2.2 1.3-.2-.3-2.2zM858.8 366.1l.4 2.2 1.2-.2-.3-2.2zM920.2 355.9l.5 3.2 5.2-.7-.6-3.4zM938.1 352.9l.6 3.6 1.3-.2-.6-3.7zM824.5 373.5l.3 1.6 1.3-.2-.3-1.6zM846.3 370.2l.3 2 2.6-.3-.3-2.1zM931 357.6l.5 3.5 1.3-.2-.5-3.5zM824.8 375.1l.2 1.6 1.3-.1-.2-1.7zM845.3 372.4l.3 2 3.8-.5-.2-2zM939.2 360.1l.4 3.6 5.2-.6-.5-3.7zM821.1 377.1l.2 1.6 1.3-.1-.2-1.6zM825 376.7l.1 1.6 1.3-.1-.1-1.6zM844.3 374.5l.2 2 1.3-.2-.2-1.9zM846.9 374.2l.2 2 2.5-.2-.2-2.1zM939.6 363.7l.4 3.6 6.4-.6-.3-3.8zM825.1 378.3l.2 1.6 1.3-.1-.2-1.6zM843.2 376.6l.2 1.9 1.3-.1-.2-1.9zM847.1 376.2l.1 2 2.6-.2-.2-2zM825.3 379.9l.1 1.7 1.3-.1-.1-1.7zM839.5 378.8l.1 1.9 1.3-.1-.1-1.9zM847.2 378.2l.2 2 2.6-.1-.2-2.1zM917 372.7l.2 3.3 2.6-.2-.2-3.3zM831.9 381.2l0 1.7 5.2-.2-.1-1.8zM886.2 377.9l.1 2.6 2.6-.1-.1-2.7zM917.2 376l.2 3.2 2.6-.1-.2-3.3zM922.4 375.6l.2 3.4 1.3-.1-.2-3.3zM931.5 375.1l.1 3.5 2.6-.2-.1-3.5zM950.9 373.9l.2 3.8 1.3 0-.2-3.9zM886.3 380.5l.1 2.7 3.9-.1-.1-2.7zM921.3 379l.1 3.3 1.3 0-.1-3.3zM925.2 378.8l.1 3.4 1.3 0-.1-3.4zM800.9 385.5l0 1.2 1.3-.1 0-1.2zM886.4 383.2l0 2.7 1.3 0 0-2.7zM889 383.2l0 2.7 1.3 0 0-2.8zM916.2 382.4l0 3.2 1.3 0 0-3.2zM930.4 382.1l.1 3.4 2.6 0-.1-3.5zM776.3 386.9l0 .7 1.3 0 0-.7zM800.9 386.7l0 1.1 3.9.1 0-1.3zM872.2 386l0 2.5 6.5 0 0-2.5zM886.4 385.9l0 2.7 1.3 0 0-2.7zM889 385.9l0 2.7 1.3 0 0-2.7zM908.5 385.7l0 3.1 3.8 0 .1-3.1zM913.7 385.7l-.1 3.1 1.3 0 0-3.1zM934.4 385.5l0 3.5 1.3 0 0-3.5zM775 387.6l0 .8 1.3 0 0-.8zM800.9 387.8l0 1.2 3.9.1 0-1.2zM887.7 388.6l0 2.7 1.3 0 0-2.7zM908.5 388.8l-.1 3.1 3.9.1 0-3.2zM913.6 388.8l0 3.2 1.3 0 0-3.2zM934.4 389l-.1 3.5 1.3.1.1-3.6zM990.1 389.5l-.1 4.5 1.3 0 .1-4.5zM995.3 389.5l-.1 4.6 12.9.4.1-4.8zM776.3 388.4l0 .8 1.3 0 0-.8zM802.2 389.1l0 1.2 2.5.1.1-1.3zM868.2 390.8l0 2.4 2.5.1.1-2.4zM907.1 391.8l-.1 3.1 1.3 0 .1-3zM909.7 391.9l-.1 3.1 1.3 0 .1-3.1zM914.9 392l-.2 3.2 1.3.1.2-3.2zM931.7 392.5l-.1 3.4 1.3.1.1-3.5zM938.2 392.6l-.2 3.6 1.3.1.2-3.6zM990 394l-.2 4.5 3.9.1.2-4.5zM777.6 389.2l-.1.8 1.3.1.1-.8zM908.3 394.9l-.2 3.1 1.3.1.2-3.1zM917.3 395.3l-.1 3.2 1.2.1.2-3.2zM922.5 395.5l-.2 3.4 1.3 0 .2-3.3zM929 395.8l-.2 3.5 1.3 0 .2-3.4zM945.8 396.6l-.2 3.7 3.9.2.2-3.8zM953.6 396.9l-.2 3.9 2.5.1.3-3.9zM905.5 397.8l-.2 3 1.3.1.2-3zM908.1 398l-.2 3.1 1.3.1.2-3.1zM918.4 398.6l-.2 3.3 2.6.2.2-3.3zM924.9 399l-.2 3.4 2.5.2.3-3.4zM928.8 399.3l-.3 3.4 1.3.1.3-3.5zM1013.7 409.4l-.4 4.9 1.3.1.4-4.9zM1015.3 419.4l-.6 5 1.3.1.6-4.9zM985.8 425.1l-.7 4.4 1.3.2.7-4.4zM992.2 426l-.7 4.6 1.2.2.8-4.6zM985.1 429.5l-.8 4.4 2.5.5.8-4.5zM988.9 430.1l-.8 4.5 6.4 1.2.8-4.6zM1015.7 434.6l-.9 4.9 1.3.3.9-5zM781.9 396.4l-.1.9 3.8.8.2-.9zM988.1 434.6l-.9 4.4 2.6.6.9-4.5zM994.5 435.8l-.9 4.5 2.5.5.9-4.6zM998.3 436.5l-.9 4.6 1.2.3 1-4.7zM1014.8 439.5l-1 4.9 1.3.3 1-4.9zM783 397.6l-.2.8 2.6.6.2-.9zM1003.7 442.4l-1 4.7 2.5.6 1-4.8zM1010 443.7l-1 4.8 5 1.1 1.1-4.9zM1011.5 449.1l-1.1 4.8 2.5.6 1.1-4.9zM783.9 399.6l-.2.9 3.7 1 .3-1zM783.7 400.5l-.3.9 1.3.4.2-.9zM787.4 401.5l-.2 1 1.2.3.3-1zM782.2 401.1l-.3.8 3.8 1.1.2-.9zM788.4 402.8l-.3 1 1.3.3.3-1zM781.9 401.9l-.2.9 1.2.4.3-.9zM784.4 402.7l-.3.9 5 1.5.3-1zM781.7 402.8l-.3.9 4.9 1.6.3-.9zM786 406.2l-.4 1 1.3.4.3-.9zM788.4 407.1l-.3 1 1.2.4.3-1zM785.6 407.2l-.3.9 1.2.5.4-1zM790.5 409l-.4 1 1.2.5.4-1.1zM785.3 408.1l-.4.9 1.2.5.4-.9zM790.1 410l-.4 1 1.2.5.4-1zM995.3 645.3l-4.5 4.5.9 1 4.5-4.6zM1014.5 664.2l-4.9 4.8.9.9 5-4.8zM1017.3 666.9l-5 4.9.9.9 5-4.9zM957.5 616l-4.1 3.9 1.8 1.9 4.1-4zM987.2 646.2l-4.6 4.4.9.9 4.6-4.4zM1003.3 662.6l-4.8 4.7 1.7 1.9 4.9-4.7zM1017.7 677.2l-5.1 5 .9.9 5.1-4.9zM981.7 649.6l-4.7 4.3.9 1 4.7-4.3zM1015.2 684.9l-5.2 4.9.8.9 5.3-4.8zM977.9 654.9l-4.7 4.2.8 1 4.8-4.3zM978.3 664.8l-4.9 4.3.8.9 4.9-4.2zM941.7 632l-4.3 3.6.8 1 4.3-3.6zM948.4 639.8l-4.5 3.8.8.9 4.5-3.7zM966.7 661.3l-4.8 4 .8 1 4.8-4zM1000 700.2l-5.5 4.6 3.2 3.9 5.6-4.6zM932.5 629.7l-4.3 3.4.8 1 4.3-3.4zM954.5 656.4l-4.7 3.8.8 1 4.7-3.8zM956.1 658.4l-4.7 3.8 1.6 2 4.8-3.8zM959.4 662.3l-4.8 3.9.7 1 4.9-3.9zM999.4 710.7l-5.8 4.6.8 1 5.8-4.6zM926.6 631.1l-4.3 3.4.8 1 4.3-3.4zM941 649.2l-4.7 3.6.8 1 4.7-3.6zM945 654.2l-4.7 3.7 2.3 3 4.8-3.7zM920.7 632.4l-4.3 3.3 2.3 3.1 4.4-3.3zM936.3 652.8l-4.6 3.5 3.8 5.1 4.8-3.5zM983.2 713.7l-5.8 4.3 1.5 2 5.8-4.3zM917.9 637.7l-4.4 3.2 1.5 2.1 4.4-3.2zM953.8 686.1l-5.3 3.8.8 1 5.2-3.8zM955.3 688.2l-5.3 3.8.7 1 5.4-3.8zM957.6 691.3l-5.4 3.8 7.5 10.4 5.5-4zM975.1 714.9l-5.8 4.2.8 1 5.8-4.2zM912 638.8l-4.4 3.1 2.9 4.2 4.5-3.1zM926.2 658.6l-4.8 3.4.7 1 4.8-3.3zM929.9 663.9l-4.9 3.3.7 1.1 4.9-3.4zM941.8 680.5l-5.2 3.6.8 1.1 5.2-3.6zM946.3 686.8l-5.3 3.6.7 1.1 5.3-3.7zM956.7 701.4l-5.5 3.8 2.1 3.2 5.6-3.9zM970.1 720.1l-5.9 4.1.7 1 5.9-4.1zM919.2 658.8l-4.8 3.2 1.4 2.1 4.9-3.2zM951.9 706.3l-5.6 3.7 2.1 3.2 5.7-3.8zM962.8 722.1l-5.9 3.9.7 1.1 5.9-4zM907.3 651.3l-4.6 3 6.2 9.7 4.8-3.1zM949.1 714.3l-5.8 3.7 2.1 3.2 5.8-3.7zM902.3 675.5l-5 2.9.6 1.1 5.1-2.9zM929.7 721.8l-5.9 3.4 1.9 3.3 5.9-3.4zM889.7 676.7l-5.1 2.7.6 1.1 5.1-2.7zM884.6 679.4l-5.1 2.6.5 1.2 5.2-2.7zM894.7 698.7l-5.5 2.8 1.7 3.4 5.5-2.8zM888.6 700.3l-5.5 2.7.6 1.1 5.5-2.6zM875.4 686.8l-5.3 2.5.6 1.1 5.2-2.4zM879.3 694.9l-5.5 2.5.6 1.2 5.4-2.5zM881.5 699.5l-5.5 2.6 1 2.3 5.6-2.6zM873.3 696.2l-5.4 2.4.5 1.2 5.4-2.4zM865.3 692.8l-5.3 2.2 1.4 3.6 5.5-2.3zM868.4 699.8l-5.5 2.3 2.5 5.9 5.6-2.3zM872 708l-5.7 2.4.5 1.2 5.7-2.4zM860.9 697.4l-5.4 2.2.5 1.2 5.4-2.2zM867.3 712.8l-5.7 2.2.5 1.2 5.7-2.3zM863 718.6l-5.8 2.2.4 1.2 5.9-2.2zM848.7 698.1l-5.5 1.9.9 2.5 5.5-2zM858.1 723.2l-5.9 2.1.4 1.2 5.9-2.1zM843.6 701.2l-5.5 1.9 1.3 3.7 5.5-1.9zM851.8 724.1l-5.9 2.1.8 2.4 5.9-2.1zM839.4 706.8l-5.7 1.8.4 1.2 5.7-1.8zM833.4 707.4l-5.7 1.7.8 2.4 5.6-1.7zM840.7 730.5l-6 1.8 1.4 4.9 6.1-1.8zM843 737.8l-6.2 1.9.4 1.2 6.2-1.9zM824.5 698l-5.5 1.6.7 2.4 5.5-1.5zM837.2 740.9l-6.2 1.8.3 1.2 6.3-1.8zM839.7 749.5l-6.3 1.8.3 1.2 6.4-1.8zM840.8 753.1l-6.4 1.9.7 2.4 6.5-1.8zM818.7 698.3l-5.5 1.5.3 1.2 5.5-1.4zM831.3 743.9l-6.2 1.7.6 2.4 6.3-1.6zM812.3 696.1l-5.4 1.3.2 1.3 5.5-1.4zM831.2 769l-6.7 1.7.3 1.2 6.7-1.6zM807.7 701.1l-5.5 1.3.9 3.8 5.5-1.3zM825.1 773.2l-6.8 1.5.6 2.5 6.8-1.5zM800.6 694.9l-5.4 1.2.8 3.7 5.4-1.1zM802.2 702.4l-5.5 1.2.8 3.7 5.6-1.1zM817.8 772.2l-6.8 1.5.8 3.7 6.8-1.4zM795.2 696.1l-5.4 1 1.9 10.1 5.5-1.1zM811.3 774.9l-6.8 1.3.4 2.5 6.9-1.3zM812.3 779.9l-6.9 1.3.2 1.3 6.9-1.4zM791.4 705.9l-5.6 1 .2 1.2 5.7-.9zM804.5 776.2l-6.8 1.2.2 1.3 6.8-1.2zM805.4 781.2l-6.9 1.2.2 1.3 6.9-1.2zM806.3 786.2l-7 1.3.3 1.2 7-1.2zM785.8 706.9l-5.6.9.2 1.2 5.6-.9zM797.7 777.4l-6.9 1.1.2 1.2 6.9-1zM798.3 781.2l-6.9 1.1.6 3.7 6.9-1.1zM800 791.2l-7.1 1.1.2 1.3 7.1-1.1zM780.2 707.8l-5.6.7.2 1.3 5.6-.8zM791.4 782.3l-6.9.9.1 1.3 7-1zM792.9 792.3l-7.1 1 .2 1.3 7.1-1zM774.6 708.5l-5.6.7.2 1.3 5.6-.7zM786 794.6l-7.2.9.2 1.2 7.1-.8zM769.2 710.5l-5.7.6.5 5.1 5.7-.6zM779.1 798l-7.2.7.4 3.8 7.3-.7zM779.9 804.3l-7.3.8.3 3.8 7.4-.8zM764 716.2l-5.8.5.1 1.2 5.8-.5zM774 820.3l-7.5.7.1 1.2 7.6-.6zM758.3 717.9l-5.8.4.4 5.1 5.8-.4zM767.3 831.1l-7.8.5.1 2.6 7.9-.6zM759.6 834.2l-7.8.4.1 1.3 7.8-.4zM747.1 727.6l-5.9.2.1 3.8 6-.2zM752.2 842.2l-8 .3 0 1.3 8-.3zM741.3 732.9l-6 .1 0 2.6 6.1-.2zM744.4 850.1l-8.1.2 0 1.2 8.1-.1zM735.3 739.4l-6.1 0 0 2.5 6.2 0zM736.4 855.3l-8.2 0 0 1.3 8.2 0zM729.1 744.5l-6.2-.1-.1 5.1 6.3.1zM728.1 860.4l-8.2-.1-.1 2.5 8.3.2zM722.3 766.1l-6.6-.3-.2 5.1 6.7.3zM722.1 775l-6.8-.2-.2 3.8 6.9.2zM719.8 864.1l-8.4-.3 0 1.3 8.3.3zM715 781.1l-6.9-.3-.1 2.5 6.9.4zM711 872.7l-8.5-.4-.3 5 8.6.5zM707.7 788.4l-7-.5-.2 2.6 7 .5zM707.2 796l-7.1-.4-.1 1.2 7.1.5zM702.2 878.6l-8.6-.6-.1 1.3 8.6.6zM701.8 884.9l-8.7-.6-.3 3.8 8.7.7zM700.8 786.7l-7-.6-.5 5 7.1.6zM700 796.8l-7.2-.6-.1 1.3 7.2.6zM693.2 883.1l-8.7-.8-.1 1.3 8.7.7zM692.8 888.1l-8.8-.7-.6 6.3 8.9.8zM690.2 921.1l-9.3-.9-.2 1.3 9.4.8zM693.4 789.9l-7-.8-.2 1.3 7.1.7zM692.9 794.9l-7.1-.7-.1 1.3 7.1.7zM692.3 801.3l-7.2-.8-.4 3.8 7.3.8zM683.8 889.9l-8.8-.9-.3 2.5 8.8.9zM682.3 905.1l-9-1-.5 3.8 9.1 1zM686.4 789.1l-7-.8-.2 1.2 7 .9zM685.5 796.7l-7.1-.8-.5 3.7 7.2.9zM684.8 803.1l-7.3-.9-.1 1.2 7.3.9zM684.4 806.9l-7.4-.9-.1 1.2 7.3.9zM683.8 811.9l-7.4-.9-.2 1.3 7.4.9zM674.7 891.5l-8.8-1-.2 1.2 8.9 1.1zM673.7 900.4l-9-1.1-.6 5 9 1.1zM672.3 913l-9.2-1.1-.2 1.2 9.2 1.1zM671.8 916.8l-9.2-1.2-.5 3.8 9.3 1.1zM675.5 817.3l-7.5-1-.2 1.2 7.6 1.1zM665.9 890.5l-8.8-1.3-.2 1.3 8.8 1.2zM664.7 899.3l-8.9-1.3-.2 1.3 9 1.2zM664.4 901.8l-9-1.3-.2 1.3 9 1.2zM663.2 910.6l-9.1-1.3-.2 1.3 9.2 1.3zM661.4 924.4l-9.4-1.3-.2 1.3 9.5 1.3zM655.8 898l-8.9-1.4-.2 1.3 8.9 1.4zM654.3 908.1l-9.1-1.5-.4 2.6 9.1 1.4zM652 923.1l-9.3-1.4-.2 1.2 9.3 1.5zM658.2 828.9l-7.7-1.3-.5 2.5 7.8 1.3zM648.8 885.4l-8.7-1.6-.3 1.3 8.8 1.5zM646.7 897.9l-9-1.6-.2 1.3 9 1.5zM645.4 905.4l-9-1.6-.5 2.5 9.1 1.6zM644.1 912.9l-9.1-1.6-.7 3.8 9.2 1.6zM643.3 917.9l-9.3-1.6-.7 3.7 9.4 1.7zM648.9 836.3l-7.9-1.5-1.2 6.3 7.9 1.5zM646.8 847.6l-8-1.6-.3 1.3 8.1 1.5zM640.8 880.1l-8.6-1.7-.6 2.5 8.7 1.7zM637.5 897.6l-8.9-1.7-1.3 6.2 9.1 1.7zM635.9 906.3l-9.1-1.7-1 5 9.2 1.7zM635.2 863.5l-8.3-1.8-.3 1.3 8.3 1.7zM634.4 867.2l-8.3-1.7-.3 1.2 8.4 1.8zM706.6 436.5l-.9-.4-.6 1.1.9.5zM703 443.4l-1-.5-.6 1.1 1 .6zM675.5 496l-1.9-1-.6 1.2 1.9 1zM705.7 436.1l-.9-.5-.6 1.1.9.5zM703.8 439.5l-.9-.5-.6 1.1.9.5zM544.3 732.9l-6.1-3.3-.6 1.1 6.1 3.3zM704.8 435.6l-.8-.5-1.3 2.3.9.5zM702.7 437.4l-.9-.6-.7 1.1.9.6zM701.8 436.8l-.8-.5-1.4 2.2.9.5zM699.6 438.5l-.9-.6-.7 1.1.9.6zM683.2 458.6l-1.3-.9-.7 1.1 1.2.8zM698.4 434.6l-.8-.6-1.5 2.1.8.6zM696.8 435l-.8-.6-1.6 2.1.9.6zM457.4 758l-6.4-4.8-.8 1 6.5 4.8zM460.3 741.1l-6.2-4.8-2.3 3 6.2 4.8zM454.1 736.3l-6-4.9-.9 1 6.2 4.9zM452.6 738.3l-6.2-4.9-1.6 2 6.2 4.9zM447.8 744.3l-6.2-5-3.3 3.9 6.3 5.1zM574.6 578.2l-3.4-2.7-.8.9 3.4 2.8zM448.1 731.4l-6-5-4.2 4.9 6.1 5zM442.4 738.3l-6.2-5.1-1.6 2 6.1 5.1zM573.8 572.5l-3.3-2.8-.8 1 3.2 2.8zM567.1 580.3l-3.4-2.9-.8 1 3.3 2.9zM530.3 623.3l-4.1-3.6-1.7 2 4.2 3.5zM437.1 732.3l-6-5.2-.9 1 6 5.1zM425.4 745.9l-6.2-5.4-.9 1 6.3 5.3zM562.9 578.4l-3.4-3-.8 1 3.3 3zM536.4 608.2l-3.8-3.4-1.7 1.9 3.8 3.4zM527.9 617.8l-4-3.6-1.7 1.9 4 3.6zM431.9 726.2l-5.9-5.3-.9.9 6 5.3zM420 739.6l-6.1-5.5-.9.9 6.2 5.5zM526.5 611.4l-3.9-3.6-.9.9 4 3.6zM523.9 614.2l-3.9-3.6-.9.9 3.9 3.7zM527 603.1l-3.7-3.6-1.8 1.9 3.8 3.6zM521.7 608.7l-3.8-3.7-.9 1 3.8 3.7zM520 610.6l-3.9-3.7-.9.9 3.9 3.7zM638 483l-1.7-1.6-2.7 2.7 1.7 1.7zM517.9 605l-3.8-3.7-1.8 1.8 3.8 3.8zM517.8 597.7l-3.7-3.8-5.6 5.3 3.8 3.9zM459.1 655.2l-4.6-4.8-1.9 1.8 4.7 4.8zM455.5 658.8l-4.8-4.8-1.8 1.7 4.7 4.9zM515 593l-3.6-3.8-.9.9 3.6 3.8zM507.6 600.1l-3.7-3.9-1 .8 3.7 4zM459.1 646l-4.5-4.8-.9.9 4.5 4.8zM448.9 655.7l-4.7-4.9-1 .8 4.7 5zM512.4 588.4l-3.5-3.9-3.9 3.4 3.6 3.9zM505.8 594.4l-3.6-3.9-2.9 2.5 3.6 4zM452.7 643l-4.4-4.9-1 .8 4.5 4.9zM446.1 649l-4.6-5-.9.9 4.5 5zM507.9 585.4l-3.4-3.9-1 .8 3.5 3.9zM504.1 588.8l-3.5-4-4.9 4.2 3.6 4zM494.5 597.3l-3.7-4.2-1 .9 3.7 4.1zM497.6 587.3l-3.4-4.1-3 2.4 3.5 4.2zM491.2 585.6l-3.5-4.2-1 .8 3.5 4.3zM461.6 602.2l-3.8-4.7-1 .8 3.8 4.7zM467.6 582.7l-3.4-4.6-1 .8 3.4 4.6zM457.3 590.4l-3.6-4.8-1 .7 3.5 4.9zM173.6 641.4l-4.4-9.7-3.6 1.5 4.5 9.8zM181 626.6l-4.2-9.6-1.2.4 4.2 9.7zM170.4 631.2l-4.3-9.8-6 2.4 4.4 9.9zM345.5 547.2l-2.7-6.8-2.4 1 2.8 6.7zM188.6 612l-3.9-9.4-1.2.4 3.9 9.5zM175.6 617.4l-4.1-9.6-1.2.4 4.1 9.7zM172 618.9l-4.1-9.7-2.3.9 4 9.8zM157.8 624.8l-4.2-10-1.2.5 4.2 10zM141.2 631.7l-4.3-10.3-1.2.5 4.3 10.3zM130.5 636.1l-4.4-10.5-1.2.5 4.4 10.5zM348.8 538.1l-2.7-6.7-6 2.2 2.7 6.8zM341.6 540.9l-2.7-6.8-1.2.4 2.7 6.9zM179.9 604.5l-3.8-9.7-6 2.3 3.8 9.7zM170.3 608.2l-3.8-9.8-1.2.5 3.8 9.8zM163.2 611l-4-9.9-7.2 2.7 4 10.1zM151.2 615.7l-4-10.1-6 2.3 4 10.2zM133.3 622.8l-4.2-10.4-1.2.4 4.2 10.5zM93.8 638.3l-4.4-11.1-1.2.4 4.4 11.2zM343.7 532.3l-2.5-6.8-1.2.4 2.5 6.8zM174.9 595.3l-3.7-9.7-1.2.4 3.7 9.7zM166.5 598.4l-3.7-9.8-1.3.4 3.8 9.9zM127.9 612.8l-3.9-10.5-1.2.4 3.9 10.6zM105.1 621.4l-4.2-11-1.2.5 4.2 10.9zM170 586l-3.5-9.8-1.2.4 3.5 9.8zM165.2 587.7l-3.5-9.9-1.3.5 3.6 9.9zM119.1 604l-3.8-10.7-1.2.4 3.8 10.7zM104.6 609.1l-3.9-10.9-1.3.4 4 11zM393.8 500.3l-1.9-5.9-2.5.8 2 5.9zM390.2 501.5l-2-5.9-1.3.3 2 6zM186.1 569.7l-3.2-9.5-1.3.4 3.2 9.5zM181.2 571.3l-3.2-9.6-3.7 1.2 3.2 9.6zM390.6 494.8l-1.8-6-3.7 1.1 1.8 6zM385.7 496.3l-1.9-6-1.2.4 1.9 6zM358.6 504.9l-2-6.6-1.2.4 2 6.5zM173 563.3l-3-9.8-1.3.4 3.1 9.8zM169.4 564.4l-3.2-9.8-2.4.8 3.1 9.8zM388.8 488.8l-1.8-6-1.2.4 1.7 6zM343 502.4l-2-6.8-1.3.3 2.1 6.8zM186 548.8l-2.8-9.5-2.5.7 2.8 9.5zM171.2 553.2l-2.9-9.8-1.3.3 3 9.8zM385.8 483.2l-1.7-6.1-1.2.4 1.6 6zM191.9 536.9l-2.7-9.5-1.2.4 2.6 9.4zM152.1 547.9l-2.8-10.1-1.2.3 2.8 10.1zM380.4 478.1l-1.6-6.1-1.3.3 1.6 6.1zM349.1 486.2l-1.7-6.7-3.8.9 1.8 6.7zM342.9 487.8l-1.8-6.8-6.3 1.5 1.8 6.9zM183 529.1l-2.5-9.6-1.3.3 2.5 9.6zM143.1 539.4l-2.7-10.3-1.3.3 2.7 10.3zM123.1 544.5l-2.8-10.6-1.2.3 2.8 10.6zM344.9 480.1l-1.6-6.8-1.3.3 1.6 6.8zM334.8 482.5l-1.6-6.9-1.3.3 1.7 6.9zM231.9 507.2l-2.1-8.7-1.2.2 2.1 8.8zM181.8 519.2l-2.4-9.6-2.5.6 2.3 9.6zM176.7 520.4l-2.3-9.7-1.3.3 2.4 9.7zM170.5 521.9l-2.4-9.8-2.5.6 2.4 9.8zM166.7 522.8l-2.4-9.9-5 1.2 2.4 9.9zM160.4 524.3l-2.4-10-1.2.3 2.4 10zM147.9 527.3l-2.5-10.2-2.5.6 2.5 10.2zM121.6 533.6l-2.6-10.6-1.3.3 2.6 10.6zM111.6 536l-2.7-10.8-1.2.3 2.6 10.8zM335.7 475l-1.5-6.9-3.8.8 1.5 7zM174.4 510.7l-2.2-9.7-7.6 1.5 2.2 9.9zM331.6 468.6l-1.4-7-1.2.3 1.4 7zM315.2 472l-1.5-7.3-1.3.2 1.5 7.3zM320.1 463.5l-1.4-7.2-2.5.5 1.3 7.2zM315 464.5l-1.4-7.3-1.2.2 1.3 7.3zM695.1 220l3-.6-.8-3.8-3 .6z"/>
<path fill="#64D5C3" stroke="#64D5C3" stroke-width="0.6" d="M854.6 244.3l2.5 2.1.8-1-2.5-2.1zM858 240.3l2.5 2.2.9-.9-2.6-2.3zM856.2 247.4l2.4 2.2 2.7-2.9-2.5-2.2zM857.7 250.5l2.4 2.3.9-1-2.4-2.2zM859.2 253.7l2.3 2.2.9-.9-2.3-2.2zM893.3 217.8l2.9 2.9.9-.9-2.9-2.9zM861.5 255.9l2.3 2.3 1.9-1.8-2.4-2.3zM870.7 246.7l2.4 2.4.9-.9-2.4-2.5zM865.7 256.4l2.2 2.3 1-.9-2.3-2.3zM873.1 249.1l2.4 2.5.9-.9-2.4-2.5zM868.9 257.8l2.2 2.4 1-.8-2.3-2.5zM874.5 252.5l2.4 2.5.9-.9-2.3-2.5zM874 257.6l2.2 2.5 1-.9-2.3-2.5zM875.9 255.9l2.3 2.5 1.9-1.7-2.3-2.6zM875.2 261l2.2 2.5 1-.9-2.2-2.5zM882.1 254.9l2.2 2.7 1-.9-2.3-2.6zM876.4 264.3l2.1 2.6 2.1-1.7-2.2-2.6zM884.3 257.6l2.3 2.7 3-2.5-2.3-2.8zM876.5 268.5l2.1 2.6 3-2.5-2.1-2.6zM885.6 261.1l2.2 2.7 1-.8-2.2-2.7zM880.6 269.4l2.1 2.6 5.1-3.9-2.1-2.7zM888.8 263l2.1 2.7 5.2-3.9-2.2-2.9zM891.9 264.9l2.1 2.8 3.2-2.3-2.2-2.8zM918.8 290.3l1.6 3.3 1.2-.6-1.7-3.3zM941.8 278.3l1.9 3.7 2.3-1.2-1.9-3.7zM952.5 282.4l1.8 3.8 1.2-.5-1.8-3.9zM918.8 302.4l1.5 3.2 1.2-.5-1.5-3.3zM954.3 286.2l1.7 3.9 1.2-.5-1.7-3.9zM919.1 306.2l1.4 3.2 1.2-.5-1.4-3.3zM940.5 296.8l1.6 3.7 3.6-1.5-1.6-3.7zM920.5 309.4l1.3 3.3 1.2-.5-1.3-3.3zM933.7 304l1.4 3.5 2.4-1-1.4-3.5zM938.5 302l1.4 3.6 1.2-.5-1.4-3.6zM940.9 301l1.4 3.6 1.2-.4-1.4-3.7zM927.8 310.3l1.3 3.5 6.1-2.3-1.3-3.5zM920.6 320.7l1.1 3.3 1.2-.4-1.1-3.4zM985.5 297.7l1.5 4.5 1.2-.5-1.5-4.4zM922.9 323.6l1.1 3.3 1.2-.4-1-3.3zM865.8 345.2l.7 2.3 1.3-.3-.7-2.4zM881.9 340.1l.8 2.7 1.2-.4-.8-2.6zM926.5 326.1l1 3.4 1.3-.4-1.1-3.4zM859.1 349.8l.6 2.2 1.2-.4-.6-2.2zM865.3 347.9l.6 2.3 2.5-.7-.6-2.3zM880.2 343.5l.7 2.6 1.3-.4-.7-2.6zM886.4 341.7l.8 2.7 1.3-.4-.8-2.7zM898.9 338l.8 2.9 1.3-.4-.9-2.9zM903.9 336.5l.8 3 1.3-.3-.9-3.1zM928.8 329.1l.9 3.5 1.3-.4-1-3.4zM858.4 352.3l.6 2.2 3.8-1-.6-2.2zM865.9 350.2l.7 2.4 1.2-.3-.6-2.4zM888.5 344l.7 2.7 1.2-.3-.7-2.7zM894.7 342.3l.8 2.8 1.2-.3-.7-2.9zM907.2 338.8l.8 3.1 2.5-.7-.8-3.1zM918.5 335.7l.8 3.3 1.3-.4-.9-3.2zM847.7 357.4l.5 2.1 2.5-.6-.5-2.1zM857.8 354.8l.5 2.2 3.8-.9-.6-2.2zM866.6 352.6l.5 2.3 1.3-.3-.6-2.3zM870.3 351.6l.6 2.4 3.8-.9-.6-2.5zM886.7 347.4l.6 2.7 3.8-.9-.7-2.8zM894.2 345.4l.7 2.9 1.3-.3-.7-2.9zM896.7 344.8l.7 2.9 1.3-.3-.7-2.9zM911.8 340.9l.8 3.1 1.2-.3-.8-3.1zM930.6 336l.9 3.5 1.3-.3-.9-3.5zM847 359.8l.4 2 2.6-.6-.5-2zM863.4 355.8l.5 2.3 3.8-.8-.6-2.4zM877.2 352.5l.6 2.5 1.3-.2-.6-2.6zM892.4 348.9l.6 2.8 3.8-.9-.6-2.8zM898.7 347.4l.6 2.9 3.8-.9-.6-2.9zM907.5 345.2l.7 3.1 1.3-.3-.7-3.1zM921.4 341.9l.7 3.3 1.3-.3-.7-3.3zM846.2 362l.4 2 1.2-.2-.4-2zM848.7 361.5l.4 2 1.3-.2-.4-2.1zM861.4 358.7l.4 2.2 1.3-.2-.5-2.3zM899.3 350.3l.7 2.9 1.2-.3-.6-2.9zM924.7 344.7l.7 3.3 1.3-.2-.8-3.4zM929.7 343.5l.8 3.5 2.5-.5-.7-3.5zM832.6 366.9l.3 1.7 2.6-.4-.4-1.8zM836.4 366.1l.4 1.8 5.1-.9-.4-1.9zM846.6 364l.4 2 2.5-.4-.4-2.1zM858 361.7l.4 2.2 1.3-.2-.4-2.2zM868.2 359.6l.4 2.4 5.1-.9-.4-2.5zM929.2 347.3l.7 3.4 1.2-.2-.6-3.5zM829.1 369.3l.3 1.7 1.3-.2-.3-1.7zM855.9 364.4l.4 2.1 1.2-.2-.3-2.2zM928.6 350.9l.6 3.5 1.3-.3-.6-3.4zM829.4 371l.3 1.7 1.3-.2-.3-1.7zM844.8 368.5l.3 1.9 2.5-.4-.3-2zM856.3 366.5l.3 2.2 2.6-.4-.4-2.2zM929.2 354.4l.5 3.4 1.3-.2-.5-3.5zM825.8 373.3l.3 1.6 1.2-.1-.2-1.7zM845.1 370.4l.2 2 1.3-.2-.3-2zM937.4 356.6l.5 3.6 1.3-.1-.5-3.6zM826.1 374.9l.2 1.7 1.2-.2-.2-1.6zM844 372.6l.3 1.9 1.3-.1-.3-2zM843 374.7l.2 1.9 1.3-.1-.2-2zM841.9 376.7l.2 1.9 1.3-.1-.2-1.9zM826.6 379.8l.1 1.7 1.3-.1-.1-1.7zM838.2 378.9l.1 1.9 1.3-.1-.1-1.9zM826.7 381.5l.1 1.6 5.1-.2 0-1.7zM922.6 379l.1 3.3 2.6-.1-.1-3.4zM887.7 383.2l0 2.7 1.3 0 0-2.7zM917.5 382.4l0 3.2 1.3 0 0-3.2zM929.2 382.1l0 3.4 1.3 0-.1-3.4zM887.7 385.9l0 2.7 1.3 0 0-2.7zM933.1 389l-.1 3.5 1.3 0 .1-3.5zM908.4 391.9l-.1 3 1.3.1.1-3.1zM993.9 394.1l-.2 4.5 1.3.1.2-4.6zM1008.1 394.5l-.2 4.8 1.3 0 .2-4.8zM907 394.9l-.2 3 1.3.1.2-3.1zM918.6 395.4l-.2 3.2 1.3.1.2-3.3zM921.2 395.5l-.2 3.3 1.3.1.2-3.4zM923.8 395.6l-.2 3.3 1.3.1.2-3.3zM927.7 395.8l-.2 3.4 1.3.1.2-3.5zM991.1 398.5l-.3 4.5 1.3.1.3-4.5zM1010.5 399.4l-.3 4.8 1.3.1.3-4.9zM906.8 397.9l-.2 3 1.3.2.2-3.1zM1011.5 404.3l-.3 4.9 1.2.1.4-4.9zM990.5 407.5l-.4 4.5 1.3.2.4-4.6zM991.4 412.2l-.5 4.5 1.3.1.5-4.5zM1014.6 414.4l-.6 4.9 1.3.1.6-4.9zM992.2 416.8l-.6 4.5 1.3.2.5-4.5zM1014 419.3l-.6 4.9 1.3.2.6-5zM992.9 421.5l-.7 4.5 1.3.2.7-4.5zM987.1 425.3l-.7 4.4 1.2.2.8-4.4zM1006.2 442.9l-1 4.8 3.8.8 1-4.8zM784.9 400.9l-.2.9 2.5.7.2-1zM785.9 402.1l-.2.9 2.4.8.3-1zM783.2 402.3l-.3.9 1.2.4.3-.9zM787.2 406.7l-.3.9 1.2.5.3-1zM786.9 407.6l-.4 1 3.6 1.4.4-1zM786.5 408.6l-.4.9 3.6 1.5.4-1zM996.2 646.2l-4.5 4.6.9.9 4.6-4.6zM1002.7 652.5l-4.8 4.7 3.6 3.6 4.8-4.7zM1015.5 665.1l-5 4.8 1.8 1.9 5-4.9zM988.1 647.1l-4.6 4.4 1.7 1.9 4.7-4.5zM1002.4 661.7l-4.8 4.7.9.9 4.8-4.7zM1005.1 664.5l-4.9 4.7 1.8 1.8 4.9-4.7zM982.6 650.6l-4.7 4.3 2.6 2.8 4.7-4.3zM1014.4 684l-5.3 4.9.9.9 5.2-4.9zM978.8 655.8l-4.8 4.3 3.4 3.8 4.8-4.3zM986.6 664.3l-4.9 4.4 1.7 1.9 4.9-4.4zM1009.1 688.9l-5.3 4.7.8 1 5.4-4.8zM979.1 665.8l-4.9 4.2.8 1 5-4.2zM980.8 667.7l-4.9 4.3 2.5 2.9 5-4.3zM1002.9 692.6l-5.4 4.7.8 1 5.5-4.7zM942.5 633l-4.3 3.6.8 1 4.4-3.6zM969.2 664.2l-4.9 4.1 2.5 2.9 4.9-4.1zM999.2 699.2l-5.5 4.6.8 1 5.5-4.6zM933.3 630.7l-4.3 3.4 1.6 2.1 4.3-3.5zM943.9 643.6l-4.5 3.6 1.6 2 4.5-3.7zM955.3 657.4l-4.7 3.8.8 1 4.7-3.8zM960.2 663.3l-4.9 3.9.8 1 4.9-3.9zM998.5 709.7l-5.7 4.6.8 1 5.8-4.6zM927.4 632.1l-4.3 3.4.7 1 4.4-3.4zM939.4 647.2l-4.6 3.5 1.5 2.1 4.7-3.6zM947.4 657.2l-4.8 3.7 1.6 2 4.8-3.7zM993.6 715.3l-5.8 4.5.8 1 5.8-4.5zM923.1 635.5l-4.4 3.3.7 1 4.4-3.3zM934.8 650.7l-4.7 3.5 1.6 2.1 4.6-3.5zM940.3 657.9l-4.8 3.5.7 1 4.8-3.5zM980.1 709.6l-5.7 4.3.7 1 5.7-4.3zM982.4 712.7l-5.8 4.3.8 1 5.8-4.3zM916.4 635.7l-4.4 3.1 1.5 2.1 4.4-3.2zM919.4 639.8l-4.4 3.2 1.5 2.1 4.5-3.2zM930.9 655.2l-4.7 3.4 5.2 7.3 4.8-3.5zM956.1 689.2l-5.4 3.8 1.5 2.1 5.4-3.8zM974.4 713.9l-5.8 4.1.7 1.1 5.8-4.2zM915 643l-4.5 3.1.7 1.1 4.5-3.2zM925.4 657.6l-4.7 3.3.7 1.1 4.8-3.4zM930.6 664.9l-4.9 3.4.8 1.1 4.9-3.5zM938.8 676.4l-5.1 3.5.8 1.1 5.1-3.6zM940.3 678.4l-5.1 3.6 1.4 2.1 5.2-3.6zM942.6 681.6l-5.2 3.6.7 1 5.2-3.6zM945.5 685.7l-5.2 3.7.7 1 5.3-3.6zM958.9 704.5l-5.6 3.9.8 1 5.6-3.9zM969.3 719.1l-5.8 4 .7 1.1 5.9-4.1zM910.5 646.1l-4.6 3.1.7 1 4.6-3zM913.4 650.4l-4.6 3.1 1.4 2.1 4.6-3.1zM962 721l-5.9 3.9.8 1.1 5.9-3.9zM908.2 685.4l-5.2 3 .6 1.1 5.2-3zM896 676.2l-5.1 2.8.6 1.1 5.1-2.8zM903.6 689.5l-5.3 3 .6 1.1 5.3-2.9zM890.3 677.8l-5.1 2.7.6 1.2 5.1-2.7zM899.5 694.7l-5.4 2.9.6 1.1 5.4-2.9zM894.1 697.6l-5.5 2.7.6 1.2 5.5-2.8zM880 683.2l-5.2 2.5.6 1.1 5.2-2.5zM888 699.2l-5.4 2.6.5 1.2 5.5-2.7zM875.9 688l-5.2 2.4.5 1.2 5.3-2.5zM869.6 688.1l-5.3 2.3.5 1.2 5.3-2.3zM871.2 691.6l-5.4 2.3.6 1.2 5.3-2.4zM872.8 695.1l-5.4 2.4.5 1.1 5.4-2.4zM864.3 690.4l-5.3 2.3 1 2.3 5.3-2.2zM866.9 696.3l-5.5 2.3 1.5 3.5 5.5-2.3zM861.4 698.6l-5.4 2.2.4 1.2 5.5-2.2zM865.4 708l-5.7 2.3 1.9 4.7 5.7-2.2zM855 698.4l-5.4 2.1.4 1.2 5.5-2.1zM849.6 700.5l-5.5 2 .4 1.2 5.5-2zM857.6 722l-5.8 2.1.4 1.2 5.9-2.1zM844.9 704.9l-5.5 1.9.4 1.2 5.6-1.9zM845 723.7l-5.9 1.9.4 1.3 5.9-2zM834.1 709.8l-5.6 1.7.3 1.2 5.7-1.7zM834.9 712.2l-5.7 1.8.4 1.2 5.7-1.8zM839.9 728.1l-6 1.8.8 2.4 6-1.8zM842.2 735.4l-6.1 1.8.7 2.5 6.2-1.9zM825.2 700.5l-5.5 1.5.3 1.3 5.6-1.6zM834.3 731.1l-6 1.7.3 1.3 6.1-1.8zM838.3 744.6l-6.3 1.8.4 1.2 6.2-1.8zM839.4 748.3l-6.4 1.8.4 1.2 6.3-1.8zM834.1 753.7l-6.5 1.7.7 2.5 6.5-1.7zM837.1 764.8l-6.6 1.8.3 1.2 6.7-1.8zM812.6 697.3l-5.5 1.4.3 1.2 5.5-1.3zM813.5 701l-5.5 1.4.3 1.2 5.6-1.3zM830.8 767.8l-6.6 1.7.3 1.2 6.7-1.7zM806.9 697.4l-5.5 1.3.3 1.2 5.4-1.2zM807.4 699.9l-5.4 1.3.2 1.2 5.5-1.3zM809.2 707.4l-5.6 1.2.3 1.3 5.6-1.3zM824.2 769.5l-6.7 1.5.8 3.7 6.8-1.5zM801.4 698.7l-5.4 1.1.7 3.8 5.5-1.2zM803.1 706.2l-5.6 1.1.2 1.3 5.7-1.2zM816.1 764.8l-6.6 1.4 1 5 6.7-1.5zM817.5 771l-6.7 1.4.2 1.3 6.8-1.5zM797.2 706.1l-5.5 1.1.2 1.2 5.6-1.1zM811 773.7l-6.8 1.3.3 1.2 6.8-1.3zM811.8 777.4l-6.9 1.3.5 2.5 6.9-1.3zM791.7 707.2l-5.7.9.3 1.3 5.6-1zM804.2 775l-6.8 1.1.3 1.3 6.8-1.2zM804.7 777.5l-6.8 1.2.2 1.2 6.8-1.2zM805.2 780l-6.9 1.2.2 1.2 6.9-1.2zM806.6 787.5l-7 1.2.2 1.3 7-1.3zM786 708.1l-5.6.9.2 1.3 5.7-.9zM797.2 774.9l-6.7 1 .3 2.6 6.9-1.1zM797.9 778.7l-6.9 1 .4 2.6 6.9-1.1zM798.9 784.9l-6.9 1.1.3 2.6 7-1.1zM799.6 788.7l-7.1 1.1.4 2.5 7.1-1.1zM780.4 709l-5.6.8.2 1.3 5.6-.8zM790.8 778.5l-6.8.9.5 3.8 6.9-.9zM791.6 783.5l-7 1 .4 2.5 7-1zM792.1 787.3l-7 1 .7 5 7.1-1zM774.8 709.8l-5.6.7.2 2.5 5.7-.7zM784 779.4l-6.9.9.7 6.3 7-.9zM785.1 788.3l-7 .8.3 2.6 7.1-.9zM769.7 715.6l-5.7.6.1 1.2 5.8-.6zM777 779l-6.9.7.6 6.4 7-.8zM779 796.7l-7.2.8.1 1.2 7.2-.7zM764.1 717.4l-5.8.5.1 1.3 5.8-.5zM773.7 816.5l-7.5.6.3 3.9 7.5-.7zM766.9 826l-7.7.6.1 2.5 7.8-.5zM767.2 829.8l-7.8.6.1 1.2 7.8-.5zM752.9 723.4l-5.9.4 0 1.2 5.9-.3zM759.6 832.9l-7.8.4 0 1.3 7.8-.4zM747.3 731.4l-6 .2.1 3.8 6.1-.2zM752 838.4l-7.9.3.1 3.8 8-.3zM741.4 735.4l-6.1.2 0 1.2 6.1-.1zM741.7 745.7l-6.3.1 0 1.2 6.3-.1zM744.3 846.3l-8 .1 0 3.9 8.1-.2zM735.4 741.9l-6.2 0-.1 3.9 6.3 0zM736.3 852.8l-8.1 0 0 2.5 8.2 0zM729.1 749.6l-6.3-.1-.1 1.3 6.4.1zM729 763.6l-6.6-.1 0 1.3 6.6.1zM728.9 772.6l-6.7-.1-.1 3.8 6.8.1zM728.1 859.2l-8.2-.2 0 1.3 8.2.1zM722 778.8l-6.9-.2 0 1.3 6.9.2zM719.8 862.8l-8.3-.3-.1 1.3 8.4.3zM711.4 865.1l-8.4-.4-.1 2.5 8.4.4zM711.1 871.4l-8.5-.4-.1 1.3 8.5.4zM707.1 797.3l-7.1-.5-.1 1.3 7.2.5zM702.2 877.3l-8.5-.6-.1 1.3 8.6.6zM699.9 798.1l-7.2-.6-.1 1.2 7.2.7zM693.4 880.5l-8.6-.7-.3 2.5 8.7.8zM693.1 884.3l-8.7-.7-.4 3.8 8.8.7zM692.8 796.2l-7.1-.7-.2 1.2 7.2.8zM692.6 798.7l-7.2-.7-.3 2.5 7.2.8zM692 805.1l-7.3-.8-.2 1.3 7.3.8zM684 887.4l-8.7-.9-.3 2.5 8.8.9zM684.7 804.3l-7.3-.9-.4 2.6 7.4.9zM683.6 813.2l-7.4-.9-.3 2.5 7.5.9zM675 889l-8.8-1.1-.3 2.6 8.8 1zM673.1 905.4l-9-1.1-.4 2.5 9.1 1.1zM672.7 909.2l-9.1-1.1-.2 1.2 9.1 1.2zM672.1 914.2l-9.2-1.1-.3 2.5 9.2 1.2zM675.4 818.6l-7.6-1.1-.3 2.6 7.5 1zM666.4 886.7l-8.7-1.2-.6 3.7 8.8 1.3zM664.6 900.5l-9-1.2-.2 1.2 9 1.3zM664.2 903l-9-1.2-.2 1.3 9.1 1.2zM663.6 908.1l-9.1-1.3-.4 2.5 9.1 1.3zM663.1 911.9l-9.2-1.3-.2 1.2 9.2 1.3zM662.6 915.6l-9.2-1.3-.2 1.3 9.2 1.3zM662.2 918.1l-9.2-1.2-1 6.2 9.4 1.3zM666.7 825.1l-7.6-1.2-.2 1.3 7.6 1.2zM657.9 884.2l-8.7-1.3-.6 3.7 8.7 1.4zM655.6 899.3l-8.9-1.4-.5 2.5 9 1.4zM654.5 906.8l-9.1-1.4-.2 1.2 9.1 1.5zM653.9 910.6l-9.1-1.4-.2 1.2 9.1 1.4zM653.4 914.3l-9.3-1.4-1 6.3 9.3 1.4zM652.2 921.9l-9.3-1.5-.2 1.3 9.3 1.4zM657.8 831.4l-7.8-1.3-.2 1.2 7.8 1.4zM649.2 882.9l-8.7-1.6-.4 2.5 8.7 1.6zM646.5 899.1l-9-1.5-.4 2.5 8.9 1.5zM645.6 904.1l-9-1.5-.2 1.2 9 1.6zM645 907.9l-9.1-1.6-.5 2.5 9.2 1.6zM647.7 842.6l-7.9-1.5-1 4.9 8 1.6zM646.6 848.8l-8.1-1.5-.3 1.2 8.1 1.6zM645.6 853.8l-8.1-1.5-1.5 7.5 8.2 1.5zM642.2 872.6l-8.5-1.6-.8 3.7 8.6 1.6zM641 878.8l-8.6-1.6-.2 1.2 8.6 1.7zM634.9 864.7l-8.3-1.7-.5 2.5 8.3 1.7zM706.8 438.1l-.8-.4-1.2 2.3.9.4zM706 437.7l-.9-.5-1.3 2.3 1 .5zM705.1 437.2l-.9-.5-1.3 2.3.9.5zM703.6 437.9l-.9-.5-.7 1.1.9.5zM702.3 440.1l-.9-.5-.7 1.1 1 .5zM700.7 440.7l-.9-.6-.7 1.1 1 .6zM699.8 440.1l-.9-.5-.7 1.1.9.5zM464.3 748.8l-6.3-4.7-.8 1 6.3 4.7zM459 756l-6.5-4.8-1.5 2 6.4 4.8zM458 744.1l-6.2-4.8-.8 1 6.2 4.8zM450.2 754.2l-6.4-4.9-.8 1 6.4 4.9zM453.4 737.3l-6.2-4.9-.8 1 6.2 4.9zM451 740.3l-6.2-4.9-.8.9 6.2 5zM448.6 743.3l-6.2-5-.8 1 6.2 5zM444 736.3l-6.1-5-1.7 1.9 6.2 5.1zM567.9 579.4l-3.3-2.9-.9.9 3.4 2.9zM569.7 570.7l-3.2-2.8-.9.9 3.2 2.9zM564.6 576.5l-3.3-3-1.8 1.9 3.4 3zM529.6 615.9l-3.9-3.6-1.8 1.9 4 3.6zM431.1 727.1l-6-5.3-.8 1 5.9 5.3zM525.7 612.3l-4-3.6-1.7 1.9 3.9 3.6zM520.8 609.7l-3.8-3.7-.9.9 3.9 3.7zM514.1 593.9l-3.6-3.8-.9.9 3.6 3.8zM508.5 599.2l-3.7-3.9-.9.9 3.7 3.9zM449.8 654.8l-4.7-4.9-.9.9 4.7 4.9zM508.6 591.8l-3.6-3.9-2.8 2.6 3.6 3.9zM447 648.2l-4.5-5-1 .8 4.6 5zM494.7 589.8l-3.5-4.2-1 .9 3.5 4.1zM485.9 597.3l-3.6-4.3-1 .8 3.6 4.3zM490.2 586.5l-3.5-4.3-2 1.6 3.5 4.3zM482.3 593l-3.6-4.4-2 1.6 3.6 4.4zM473.6 592.6l-3.5-4.5-4.1 3.1 3.6 4.6zM472.1 586.5l-3.5-4.5-1 .7 3.5 4.6zM457.8 597.5l-3.6-4.8-1.1.7 3.7 4.9zM466.6 583.5l-3.4-4.6-1.1.7 3.4 4.7zM458.3 589.6l-3.5-4.8-1.1.8 3.6 4.8zM190.4 622.5l-4.1-9.5-1.2.5 4.1 9.5zM187.4 612.5l-3.9-9.5-1.2.5 4 9.5zM176.8 617l-4.1-9.7-1.2.5 4.1 9.6zM169.6 619.9l-4-9.8-2.4.9 4.1 9.9zM159 624.3l-4.2-10-1.2.5 4.2 10zM342.8 540.4l-2.7-6.8-1.2.5 2.7 6.8zM173.9 606.8l-3.8-9.7-1.2.4 3.8 9.8zM171.5 607.8l-3.8-9.8-1.2.4 3.8 9.8zM156 613.9l-4-10.1-4.8 1.8 4 10.1zM132.1 623.3l-4.2-10.5-1.2.5 4.2 10.4zM111.8 631.3l-4.3-10.8-1.2.4 4.3 10.8zM89.1 640.2l-4.5-11.2-1.2.4 4.5 11.3zM170.1 597.1l-3.7-9.8-3.6 1.3 3.7 9.8zM126.7 613.3l-3.9-10.6-1.3.5 4 10.5zM105.8 608.7l-3.9-10.9-1.2.4 3.9 10.9zM391.4 501.1l-2-5.9-1.2.4 2 5.9zM184.8 570.1l-3.2-9.5-1.2.4 3.2 9.5zM182.4 570.9l-3.2-9.6-1.2.4 3.2 9.6zM177.5 572.5l-3.2-9.6-1.3.4 3.3 9.7zM166.5 576.2l-3.3-9.8-1.2.4 3.3 9.8zM386.9 495.9l-1.8-6-1.3.4 1.9 6zM347.6 508.3l-2.1-6.7-1.3.4 2.1 6.7zM186.5 559l-3-9.5-1.2.4 3 9.5zM174.3 562.9l-3.1-9.7-1.2.3 3 9.8zM387.5 489.2l-1.7-6-1.3.3 1.8 6.1zM380.1 491.4l-1.8-6.2-1.2.4 1.8 6.2zM355.4 498.7l-2-6.6-1.2.4 1.9 6.6zM344.2 502l-2-6.8-1.2.4 2 6.8zM377.1 485.6l-1.7-6.2-1.3.3 1.7 6.2zM379.1 478.4l-1.6-6.1-2.5.6 1.6 6.2zM181.7 529.4l-2.5-9.6-2.5.6 2.6 9.6zM114.4 546.8l-2.8-10.8-1.3.3 2.8 10.8zM337.3 481.9l-1.6-6.9-2.5.6 1.6 6.9zM175.5 520.7l-2.4-9.7-1.2.3 2.3 9.7zM173 521.3l-2.4-9.7-2.5.5 2.4 9.8zM161.7 524l-2.4-9.9-1.3.2 2.4 10zM131.6 531.2l-2.5-10.5-1.3.3 2.6 10.5zM317.5 464l-1.3-7.2-2.6.4 1.4 7.3z"/>
<path fill="#3DD670" stroke="#3DD670" stroke-width="0.6" d="M855.4 243.3l2.5 2.1 2.6-2.9-2.5-2.2zM858.8 244.5l2.5 2.2.8-1-2.4-2.2zM861.4 241.6l2.5 2.2.9-.9-2.6-2.3zM858.6 249.6l2.4 2.2.9-.9-2.4-2.3zM864.8 242.9l2.5 2.3.9-.9-2.5-2.4zM860.1 252.8l2.3 2.2.9-.9-2.3-2.3zM867.3 245.2l2.4 2.4 1-.9-2.5-2.4zM863.3 254.1l2.4 2.3.9-.9-2.3-2.3zM869.7 247.6l2.5 2.4.9-.9-2.4-2.4zM872.2 250l2.3 2.5 1-.9-2.4-2.5zM869.8 256.9l2.3 2.5.9-.9-2.3-2.4zM874.9 256.7l2.3 2.5 1-.8-2.3-2.5zM876.2 260.1l2.2 2.5 1-.8-2.2-2.6zM881.1 255.8l2.3 2.6.9-.8-2.2-2.7zM878.4 262.6l2.2 2.6 1-.8-2.2-2.6zM883.4 258.4l2.2 2.7 1-.8-2.3-2.7zM879.5 266l2.1 2.6 2.1-1.6-2.1-2.6zM919.9 289.7l1.7 3.3 5.8-2.9-1.7-3.4zM933.8 282.5l1.8 3.6 2.3-1.2-1.8-3.6zM940.7 278.9l1.8 3.7 1.2-.6-1.9-3.7zM916.9 295.3l1.6 3.3 2.3-1.1-1.5-3.3zM948.4 279.7l1.8 3.8 1.2-.6-1.9-3.8zM917.3 299.1l1.5 3.3 1.2-.6-1.5-3.2zM922 296.9l1.6 3.3 2.3-1.1-1.5-3.3zM951.4 282.9l1.7 3.9 1.2-.6-1.8-3.8zM920 301.8l1.5 3.3 2.4-1-1.5-3.3zM940.1 292.7l1.6 3.6 1.2-.5-1.6-3.7zM953.1 286.8l1.7 3.8 1.2-.5-1.7-3.9zM920.3 305.6l1.4 3.3 3.6-1.5-1.4-3.3zM931 301l1.5 3.5 1.2-.5-1.5-3.5zM938.2 297.9l1.5 3.6 2.4-1-1.6-3.7zM944.1 295.3l1.6 3.7 1.2-.5-1.6-3.7zM952.5 291.7l1.6 3.8 1.2-.5-1.6-3.9zM921.7 308.9l1.3 3.3 9.7-3.8-1.4-3.4zM932.5 304.5l1.4 3.5 1.2-.5-1.4-3.5zM936.1 303l1.4 3.5 2.4-.9-1.4-3.6zM923 312.2l1.3 3.4 4.8-1.8-1.3-3.5zM918.1 321.5l1.1 3.3 2.5-.8-1.1-3.3zM916.8 325.6l1 3.2 1.3-.3-1.1-3.3zM921.7 324l1.1 3.3 1.2-.4-1.1-3.3zM922.8 327.3l1 3.3 3.7-1.1-1-3.4zM881.5 343.1l.7 2.6 1.2-.3-.7-2.6zM900.1 337.6l.9 2.9 3.7-1-.8-3zM918.8 332.1l.9 3.3 1.3-.4-1-3.3zM879.7 346.4l.7 2.6 1.2-.3-.7-2.6zM887.2 344.4l.7 2.7 1.3-.4-.7-2.7zM919.7 335.4l.9 3.2 1.2-.3-.8-3.3zM929.7 332.6l.9 3.4 1.3-.3-.9-3.5zM874.1 350.6l.6 2.5 1.3-.3-.6-2.5zM876.6 350l.6 2.5 6.3-1.5-.6-2.6zM884.2 348l.6 2.7 2.5-.6-.6-2.7zM909.3 341.5l.7 3.1 2.6-.6-.8-3.1zM920.6 338.6l.8 3.3 1.3-.3-.9-3.3zM867.1 354.9l.6 2.4 3.8-.9-.6-2.4zM902.5 346.5l.6 2.9 1.3-.2-.7-3zM906.3 345.5l.6 3.1 1.3-.3-.7-3.1zM930.2 339.8l.8 3.5 1.3-.3-.8-3.5zM847.4 361.8l.4 2 1.3-.3-.4-2zM862.6 358.4l.5 2.3 1.3-.3-.5-2.3zM866.4 357.6l.5 2.3 5.1-1-.5-2.5zM875.3 355.6l.5 2.5 1.3-.3-.6-2.5zM925.9 344.4l.8 3.4 1.2-.3-.7-3.4zM835.1 366.4l.4 1.8 1.3-.3-.4-1.8zM859.3 361.5l.4 2.2 2.6-.5-.5-2.3zM866.9 359.9l.5 2.4 1.2-.3-.4-2.4zM931.7 346.7l.7 3.5 3.8-.7-.6-3.5zM830.4 369.1l.3 1.7 7.7-1.3-.4-1.8zM843.1 366.7l.4 2 1.3-.2-.4-2zM859.7 363.7l.4 2.2 6.4-1.1-.4-2.3zM936.2 349.5l.7 3.6 1.2-.2-.6-3.6zM936.9 353.1l.5 3.5 1.3-.1-.6-3.6zM827.1 373.1l.2 1.7 2.6-.4-.2-1.7zM843.8 370.6l.2 2 1.3-.2-.2-2zM932.3 357.4l.5 3.5 1.2-.2-.4-3.5zM934.8 357l.5 3.6 2.6-.4-.5-3.6zM841.5 372.9l.2 1.9 2.6-.3-.3-1.9zM826.3 376.6l.1 1.6 1.3-.1-.2-1.7zM841.7 374.8l.2 1.9 1.3-.1-.2-1.9zM826.4 378.2l.2 1.6 1.3-.1-.2-1.6zM839.3 377l.2 1.8 2.6-.2-.2-1.9zM827.9 379.7l.1 1.7 10.3-.6-.1-1.9zM927.9 382.1l0 3.4 1.3 0 0-3.4zM914.9 385.7l0 3.1 1.3.1 0-3.3zM933.1 385.5l0 3.5 1.3 0 0-3.5zM916.2 392.1l-.2 3.2 2.6.1.2-3.3zM930.4 392.4l-.1 3.5 1.3 0 .1-3.4zM999 394.2l-.1 4.7 1.3 0 .1-4.6zM919.9 395.4l-.2 3.3 1.3.1.2-3.3zM925.1 395.7l-.2 3.3 2.6.2.2-3.4zM990.8 403l-.3 4.5 1.3.1.3-4.5zM1010.2 404.2l-.3 4.9 1.3.1.3-4.9zM1012.4 409.3l-.4 4.8 1.3.2.4-4.9zM993.4 417l-.5 4.5 1.3.2.5-4.6zM993.5 426.2l-.8 4.6 1.3.2.8-4.6zM1015.2 429.5l-.8 4.9 1.3.2.8-4.9zM995.3 431.2l-.8 4.6 1.2.2.9-4.6zM1014.4 434.4l-.9 4.9 1.3.2.9-4.9zM999.6 436.7l-1 4.7 1.3.2.9-4.7zM1013.5 439.3l-.9 4.9 1.2.2 1-4.9zM997.2 647.1l-4.6 4.6 5.3 5.5 4.8-4.7zM989.9 648.9l-4.7 4.5.9.9 4.7-4.5zM1006.9 666.3l-4.9 4.7.9.9 4.9-4.7zM1016.8 676.3l-5.1 4.9.9 1 5.1-5zM985.2 653.4l-4.7 4.3.9 1 4.7-4.4zM1013.5 683.1l-5.3 4.8.9 1 5.3-4.9zM982.2 659.6l-4.8 4.3.9.9 4.8-4.3zM988.3 666.2l-4.9 4.4.8 1 5-4.5zM980 666.8l-5 4.2.9 1 4.9-4.3zM983.4 670.6l-5 4.3.8 1 5-4.3zM996.1 685l-5.2 4.5 2.4 2.9 5.4-4.5zM1002.1 691.7l-5.4 4.6.8 1 5.4-4.7zM943.4 634l-4.4 3.6.8 1 4.4-3.6zM945.9 636.9l-4.4 3.7 2.4 3 4.5-3.8zM967.5 662.3l-4.8 4 1.6 2 4.9-4.1zM971.7 667.1l-4.9 4.1.8 1 4.9-4.1zM934.9 632.7l-4.3 3.5 1.6 2 4.4-3.5zM943.1 642.6l-4.5 3.6.8 1 4.5-3.6zM961 664.3l-4.9 3.9.8 1 5-3.9zM965.1 669.3l-5 3.9 1.6 2.1 5.1-4.1zM997.7 708.7l-5.7 4.6.8 1 5.7-4.6zM928.2 633.1l-4.4 3.4.8 1 4.4-3.4zM938.6 646.2l-4.6 3.5.8 1 4.6-3.5zM949 659.2l-4.8 3.7.7 1.1 4.9-3.8zM991.2 712.3l-5.7 4.4 2.3 3.1 5.8-4.5zM923.8 636.5l-4.4 3.3 3.9 5.1 4.5-3.3zM934 649.7l-4.6 3.5.7 1 4.7-3.5zM941 658.9l-4.8 3.5.8 1.1 4.8-3.6zM959 682.2l-5.2 3.9 1.5 2.1 5.3-3.9zM973.8 701.5l-5.5 4.2 1.5 2 5.6-4.2zM979.3 708.6l-5.7 4.2.8 1.1 5.7-4.3zM980.8 710.6l-5.7 4.3 1.5 2.1 5.8-4.3zM921 641.9l-4.5 3.2 2.2 3.1 4.6-3.3zM927.1 650.1l-4.7 3.3 3.8 5.2 4.7-3.4zM936.2 662.4l-4.8 3.5.7 1.1 4.9-3.5zM953 685.1l-5.2 3.8.7 1 5.3-3.8zM965.2 701.5l-5.5 4 .7 1.1 5.6-4zM973.6 712.8l-5.7 4.2.7 1 5.8-4.1zM915.7 644l-4.5 3.2.7 1 4.6-3.1zM918.7 648.2l-4.6 3.2.7 1.1 4.7-3.2zM921 651.3l-4.7 3.3 4.4 6.3 4.7-3.3zM931.4 665.9l-4.9 3.5 7.2 10.5 5.1-3.5zM939.6 677.4l-5.1 3.6.7 1 5.1-3.6zM943.3 682.6l-5.2 3.6 2.2 3.2 5.2-3.7zM968.6 718l-5.8 4.1.7 1 5.8-4zM911.2 647.2l-4.6 3 .7 1.1 4.6-3.1zM912.7 649.3l-4.7 3.1.8 1.1 4.6-3.1zM914.8 652.5l-4.6 3.1 2.1 3.2 4.7-3.2zM918.5 657.7l-4.8 3.2.7 1.1 4.8-3.2zM960.6 718.9l-5.9 3.9 1.4 2.1 5.9-3.9zM903 676.6l-5.1 2.9.6 1.1 5.1-2.9zM907.5 684.3l-5.2 3 .7 1.1 5.2-3zM896.6 677.3l-5.1 2.8.6 1.1 5.2-2.8zM903 688.4l-5.3 2.9.6 1.2 5.3-3zM898.9 693.6l-5.4 2.8.6 1.2 5.4-2.9zM885.2 680.5l-5.2 2.7.6 1.1 5.2-2.6zM880.6 684.3l-5.2 2.5 1.1 2.3 5.3-2.5zM887.5 698l-5.5 2.7.6 1.1 5.4-2.6zM876.5 689.1l-5.3 2.5.5 1.1 5.3-2.4zM878.7 693.7l-5.4 2.5.5 1.2 5.5-2.5zM870.1 689.3l-5.3 2.3 1 2.3 5.4-2.3zM871.7 692.7l-5.3 2.4 1 2.4 5.4-2.4zM861.9 699.8l-5.5 2.2 1 2.3 5.5-2.2zM864.9 706.8l-5.6 2.3.4 1.2 5.7-2.3zM855.5 699.6l-5.5 2.1.5 1.2 5.5-2.1zM857.4 704.3l-5.6 2.2.5 1.2 5.5-2.2zM862.5 717.4l-5.8 2.2.5 1.2 5.8-2.2zM850 701.7l-5.5 2 .9 2.4 5.5-2zM857.2 720.8l-5.9 2.1.5 1.2 5.8-2.1zM851.3 722.9l-5.9 2 .5 1.3 5.9-2.1zM839.8 708l-5.7 1.8 1.2 3.6 5.7-1.8zM842.6 716.5l-5.8 1.8 2.3 7.3 5.9-1.9zM834.5 711l-5.7 1.7.4 1.3 5.7-1.8zM835.3 713.4l-5.7 1.8 1.1 3.7 5.7-1.8zM836.8 718.3l-5.8 1.8.7 2.4 5.9-1.7zM838 722l-5.9 1.8 1.8 6.1 6-1.8zM825.6 701.7l-5.6 1.6.7 2.4 5.6-1.5zM832.8 726.2l-5.9 1.7 1.4 4.9 6-1.7zM834.7 732.3l-6.1 1.8.3 1.2 6.1-1.7zM836.8 739.7l-6.1 1.7.3 1.3 6.2-1.8zM838.6 745.8l-6.2 1.8.6 2.5 6.4-1.8zM819 699.6l-5.5 1.4.4 1.3 5.5-1.5zM827.9 731.6l-6 1.6.6 2.5 6.1-1.6zM831 742.7l-6.2 1.6.3 1.3 6.2-1.7zM832 746.4l-6.3 1.6.3 1.3 6.4-1.7zM833.7 752.5l-6.4 1.7.3 1.2 6.5-1.7zM834.8 756.2l-6.5 1.7.6 2.5 6.5-1.7zM836.5 762.4l-6.6 1.7.6 2.5 6.6-1.8zM813.9 702.3l-5.6 1.3.9 3.8 5.6-1.4zM824.8 744.3l-6.3 1.6.6 2.5 6.3-1.6zM828 756.7l-6.5 1.6 1.2 4.9 6.5-1.6zM830.5 766.6l-6.6 1.6.3 1.3 6.6-1.7zM807.1 698.7l-5.4 1.2.3 1.3 5.4-1.3zM817.3 740.9l-6.2 1.4.6 2.5 6.2-1.4zM820.3 753.3l-6.4 1.5.3 1.2 6.4-1.4zM821.8 759.5l-6.5 1.5 2.2 10 6.7-1.5zM803.4 707.4l-5.7 1.2.3 1.2 5.6-1.2zM813.9 754.8l-6.5 1.3.8 3.8 6.5-1.4zM815 759.8l-6.5 1.3 1 5.1 6.6-1.4zM817.2 769.7l-6.7 1.5.3 1.2 6.7-1.4zM797.5 707.3l-5.6 1.1.2 1.3 5.6-1.1zM809.2 764.9l-6.6 1.3 1.6 8.8 6.8-1.3zM791.9 708.4l-5.6 1 .2 1.3 5.6-1zM793.1 714.7l-5.8 1 .2 1.3 5.8-1zM803.8 772.4l-6.8 1.2.4 2.5 6.8-1.1zM804.9 778.7l-6.8 1.2.2 1.3 6.9-1.2zM786.3 709.4l-5.7.9.2 1.2 5.7-.8zM787.3 715.7l-5.7.9.2 1.3 5.7-.9zM797 773.6l-6.7 1.1.2 1.2 6.7-1zM799.3 787.5l-7 1.1.2 1.2 7.1-1.1zM780.6 710.3l-5.6.8.1 1.2 5.7-.8zM781.6 716.6l-5.8.8.2 1.3 5.8-.8zM790.5 775.9l-6.9 1 .4 2.5 6.8-.9zM792 786l-7 1 .1 1.3 7-1zM775.1 712.3l-5.7.7.5 3.8 5.7-.7zM783.3 774.4l-6.8.8.2 1.3 6.8-.9zM783.6 776.9l-6.8.8.3 2.6 6.9-.9zM784.8 785.7l-7 .9.3 2.5 7-.8zM785.5 790.8l-7.1.9.2 1.2 7-.8zM785.8 793.3l-7.1.9.1 1.3 7.2-.9zM769.9 716.8l-5.8.6.1 1.3 5.8-.6zM776.8 777.7l-6.8.7.1 1.3 6.9-.7zM777.7 785.3l-7 .8.1 1.2 7-.7zM778.1 789.1l-7 .8.2 2.5 7.1-.7zM778.8 795.5l-7.1.7.1 1.3 7.2-.8zM764.2 718.7l-5.8.5.4 5.1 5.9-.5zM770 778.4l-6.9.6.3 3.8 7-.6zM771.2 791.1l-7.1.6.1 1.3 7.1-.6zM772.3 802.5l-7.3.7.1 1.2 7.3-.6zM773.4 814l-7.4.6.2 2.5 7.5-.6zM758.7 723l-5.8.4.1 2.6 5.9-.4zM764 790.5l-7 .5.1 2.5 7.1-.5zM766.8 824.8l-7.7.5.1 1.3 7.7-.6zM767.1 828.6l-7.8.5.1 1.3 7.8-.6zM752.9 724.7l-5.9.3.5 10.2 6.1-.3zM757 791l-7.1.3.1 1.3 7.1-.4zM759.5 831.6l-7.8.4.1 1.3 7.8-.4zM747.5 735.2l-6.1.2 0 1.3 6.1-.2zM751.9 837.1l-7.8.3 0 1.3 7.9-.3zM741.4 736.7l-6.1.1.1 5.1 6.2-.1zM741.6 743.1l-6.2.1 0 2.6 6.3-.1zM741.7 746.9l-6.3.1 0 1.3 6.3-.1zM744.3 845l-8 .2 0 1.2 8-.1zM735.4 745.8l-6.3 0 0 3.8 6.3 0zM735.5 762.4l-6.5 0 0 2.5 6.6 0zM735.7 775.1l-6.8 0 0 1.3 6.8 0zM736 809.5l-7.4 0-.1 3.9 7.5 0zM736.3 851.5l-8.1 0 0 1.3 8.1 0zM729.1 750.9l-6.4-.1-.3 12.7 6.6.1zM729 764.9l-6.6-.1-.1 1.3 6.6.1zM728.9 768.7l-6.6-.1-.1 3.9 6.7.1zM728.9 776.4l-6.8-.1-.1 2.5 6.8.1zM728.6 810.8l-7.4-.1-.1 1.3 7.4.1zM728.1 857.9l-8.2-.1 0 1.2 8.2.2zM722 780.1l-6.9-.2-.1 1.2 6.9.3zM719.8 861.6l-8.3-.3 0 1.2 8.3.3zM714.9 783.7l-6.9-.4-.1 1.3 7 .4zM711.4 863.8l-8.3-.4-.1 1.3 8.4.4zM711.3 867.6l-8.4-.4-.3 3.8 8.5.4zM707.1 798.6l-7.2-.5-.1 1.3 7.2.5zM703 864.7l-8.3-.6-.2 2.5 8.4.6zM702.5 872.3l-8.4-.6-.4 5 8.5.6zM699.8 799.4l-7.2-.7-.9 8.9 7.4.7zM692.7 797.5l-7.2-.8-.1 1.3 7.2.7zM691.8 806.4l-7.3-.8-.3 2.5 7.4.8zM684.1 886.1l-8.7-.9-.1 1.3 8.7.9zM683.4 815.7l-7.5-.9-1 7.6 7.6.9zM675.9 881.4l-8.7-1-.3 2.5 8.7 1.1zM675.4 885.2l-8.7-1-.5 3.7 8.8 1.1zM672.8 907.9l-9.1-1.1-.1 1.3 9.1 1.1zM675 821.1l-7.5-1-.4 2.5 7.6 1zM667.4 879.1l-8.6-1.2-.4 2.5 8.7 1.2zM666.6 885.4l-8.7-1.2-.2 1.3 8.7 1.2zM664.1 904.3l-9.1-1.2-.1 1.2 9 1.3zM663.7 906.8l-9-1.2-.2 1.2 9.1 1.3zM662.9 913.1l-9.2-1.3-.3 2.5 9.2 1.3zM662.4 916.9l-9.2-1.3-.2 1.3 9.2 1.2zM666.5 826.4l-7.6-1.2-.3 1.2 7.7 1.2zM660.7 865.4l-8.4-1.3-.4 2.5 8.4 1.3zM658.6 879.2l-8.6-1.4-.2 1.3 8.6 1.3zM658.1 883l-8.7-1.4-.2 1.3 8.7 1.3zM655.2 901.8l-9-1.4-.2 1.2 9 1.5zM654.7 905.6l-9.1-1.5-.2 1.3 9.1 1.4zM653.5 913.1l-9.1-1.4-.3 1.2 9.3 1.4zM652.4 920.6l-9.3-1.4-.2 1.2 9.3 1.5zM653.8 855.3l-8.2-1.5-.9 5 8.3 1.5zM652.3 864.1l-8.3-1.5-.2 1.2 8.3 1.5zM650.7 874.1l-8.5-1.5-1.2 6.2 8.6 1.5zM649.4 881.6l-8.6-1.5-.3 1.2 8.7 1.6zM646 901.6l-8.9-1.5-.5 2.5 9 1.5zM644.6 910.4l-9.2-1.6-.4 2.5 9.1 1.6zM646.3 850.1l-8.1-1.6-.7 3.8 8.1 1.5zM644.2 861.3l-8.2-1.5-.8 3.7 8.3 1.6zM642.6 870.1l-8.4-1.6-.5 2.5 8.5 1.6zM641.5 876.3l-8.6-1.6-.5 2.5 8.6 1.6zM702.9 439l-.9-.5-.6 1.1.9.5zM702 438.5l-.9-.6-.6 1.1.9.6zM700.5 439l-.9-.5-.7 1.1.9.5zM459.7 754.9l-6.4-4.7-.8 1 6.5 4.8zM450.2 741.3l-6.2-5-1.6 2 6.2 5zM572.9 573.5l-3.2-2.8-.9 1 3.3 2.8zM569.6 577.4l-3.3-2.8-1.7 1.9 3.3 2.9zM436.2 733.2l-6-5.1-.8.9 6 5.2zM428.8 742l-6.2-5.3-1.7 1.9 6.2 5.3zM426.3 744.9l-6.3-5.3-.8.9 6.2 5.4zM568.8 571.7l-3.2-2.9-1.7 1.9 3.2 2.9zM565.4 575.5l-3.3-2.9-.8.9 3.3 3zM430.2 728.1l-5.9-5.3-.9.9 6 5.3zM421.7 737.6l-6.1-5.4-1.7 1.9 6.1 5.5zM513.2 594.8l-3.6-3.8-1.9 1.7 3.6 3.9zM509.4 598.3l-3.6-3.9-1 .9 3.7 3.9zM458.2 646.9l-4.5-4.8-1.9 1.7 4.5 4.9zM450.7 654l-4.6-5-1 .9 4.7 4.9zM451.8 643.8l-4.5-4.9-1 .9 4.5 4.9zM449.9 645.6l-4.5-5-2.9 2.6 4.5 5zM493.7 590.6l-3.5-4.1-3 2.4 3.6 4.2zM487.9 595.6l-3.7-4.2-1.9 1.6 3.6 4.3zM488.2 588.1l-3.5-4.3-1 .8 3.5 4.3zM484.2 591.4l-3.5-4.4-2 1.6 3.6 4.4zM469.6 595.8l-3.6-4.6-3.1 2.4 3.7 4.6zM471.1 587.3l-3.5-4.6-1 .8 3.5 4.6zM460.4 588.1l-3.5-4.8-2.1 1.5 3.5 4.8zM167.3 620.9l-4.1-9.9-2.4 1 4.1 9.9zM163.7 622.4l-4.1-9.9-1.2.4 4.1 9.9zM160.1 623.8l-4.1-9.9-1.2.4 4.2 10zM140 632.2l-4.3-10.3-1.2.4 4.3 10.4zM172.7 607.3l-3.8-9.8-1.2.5 3.8 9.8zM130.9 623.7l-4.2-10.4-4.8 1.8 4.2 10.5zM113 630.8l-4.3-10.8-1.2.5 4.3 10.8zM92.6 638.8l-4.4-11.2-1.2.5 4.5 11.1zM125.5 613.7l-4-10.5-1.2.4 4 10.6zM106.3 620.9l-4.1-10.9-1.3.4 4.2 11zM179.7 582.6l-3.4-9.6-3.7 1.2 3.5 9.7zM171.2 585.6l-3.4-9.8-1.3.4 3.5 9.8zM117.9 604.4l-3.8-10.7-1.2.4 3.8 10.8zM107 608.3l-3.9-10.9-1.2.4 3.9 10.9zM183.6 570.5l-3.2-9.5-1.2.3 3.2 9.6zM176.3 573l-3.3-9.7-2.4.7 3.3 9.8zM167.8 575.8l-3.4-9.8-1.2.4 3.3 9.8zM357.4 505.2l-2-6.5-1.3.4 2.1 6.5zM185.3 559.4l-3-9.5-1.2.3 3 9.6zM386.3 489.6l-1.8-6.1-1.2.4 1.8 6zM381.3 491l-1.8-6.1-1.2.3 1.8 6.2zM183.5 549.5l-2.8-9.5-1.3.3 2.9 9.6zM384.5 483.5l-1.6-6-2.5.6 1.6 6.1zM378.3 485.2l-1.7-6.1-1.2.3 1.7 6.2zM190.6 537.2l-2.6-9.4-1.3.3 2.7 9.5zM179.3 530l-2.6-9.6-1.2.3 2.5 9.6zM144.3 539l-2.7-10.2-1.2.3 2.7 10.3zM121.9 544.8l-2.8-10.6-1.3.3 2.8 10.7zM174.2 521l-2.3-9.7-1.3.3 2.4 9.7zM130.4 531.5l-2.6-10.5-1.2.3 2.5 10.5zM125.3 532.7l-2.5-10.6-1.3.3 2.6 10.6zM120.3 533.9l-2.6-10.6-1.2.2 2.6 10.7zM112.8 535.7l-2.6-10.8-1.3.3 2.7 10.8zM330.4 468.9l-1.4-7-1.3.2 1.4 7zM317.7 471.4l-1.4-7.2-2.6.5 1.5 7.3z"/>
<path fill="#14C81E" stroke="#14C81E" stroke-width="0.6" d="M859.7 243.5l2.4 2.2 1.8-1.9-2.5-2.2zM859.5 248.6l2.4 2.3 2.7-2.9-2.5-2.3zM861 251.8l2.3 2.3 1.9-1.9-2.4-2.3zM866.4 246.1l2.4 2.4.9-.9-2.4-2.4zM864.3 253.2l2.3 2.3.9-.9-2.3-2.4zM868.8 248.5l2.4 2.4 1-.9-2.5-2.4zM866.6 255.5l2.3 2.3.9-.9-2.3-2.3zM871.2 250.9l2.4 2.5.9-.9-2.3-2.5zM870.7 256.1l2.3 2.4 1-.9-2.3-2.4zM873.6 253.4l2.3 2.5 1-.9-2.4-2.5zM877.2 259.2l2.2 2.6 4-3.4-2.3-2.6zM879.4 261.8l2.2 2.6 1-.8-2.2-2.6zM881.6 264.4l2.1 2.6 1-.8-2.1-2.6zM884.6 261.9l2.1 2.7 1.1-.8-2.2-2.7zM925.7 286.7l1.7 3.4 2.3-1.1-1.7-3.5zM932.6 283.1l1.8 3.5 1.2-.5-1.8-3.6zM936.1 281.3l1.8 3.6 2.3-1.2-1.8-3.6zM939.5 279.5l1.9 3.7 1.1-.6-1.8-3.7zM919.3 294.2l1.5 3.3 11.8-5.6-1.7-3.5zM934.4 286.6l1.7 3.6 2.4-1.1-1.8-3.6zM918.5 298.6l1.5 3.2 3.6-1.6-1.6-3.3zM924.4 295.8l1.5 3.3 1.2-.5-1.6-3.4zM936.1 290.2l1.7 3.6 1.1-.6-1.6-3.6zM950.2 283.5l1.8 3.8 1.1-.5-1.7-3.9zM922.4 300.8l1.5 3.3 3.5-1.6-1.5-3.4zM929.5 297.5l1.5 3.5 2.4-1.1-1.6-3.4zM935.4 294.8l1.6 3.6 4.7-2.1-1.6-3.6zM941.3 292.1l1.6 3.7 1.2-.5-1.6-3.7zM952 287.3l1.7 3.8 1.1-.5-1.7-3.8zM923.9 304.1l1.4 3.3 1.2-.5-1.5-3.3zM926.2 303.1l1.5 3.3 2.4-.9-1.5-3.5zM929.8 301.5l1.5 3.5 1.2-.5-1.5-3.5zM932.2 300.5l1.5 3.5 1.2-.5-1.5-3.6zM937 298.4l1.5 3.6 1.2-.5-1.5-3.6zM945.3 294.8l1.6 3.7 7.2-3-1.6-3.8zM931.3 305l1.4 3.4 1.2-.4-1.4-3.5zM919.2 324.8l1.1 3.3 2.5-.8-1.1-3.3zM917.8 328.8l1 3.3 1.2-.4-.9-3.2zM921.5 327.7l1 3.3 1.3-.4-1-3.3zM885.2 342l.7 2.7 1.3-.3-.8-2.7zM922.5 331l1 3.3 2.5-.7-1-3.3zM927.5 329.5l1 3.4 1.2-.3-.9-3.5zM880.9 346.1l.7 2.6 1.3-.3-.7-2.7zM885.9 344.7l.8 2.7 1.2-.3-.7-2.7zM896 341.9l.7 2.9 1.3-.3-.8-2.9zM898.5 341.2l.7 2.9 2.5-.6-.7-3zM906 339.2l.8 3 1.2-.3-.8-3.1zM875.4 350.3l.6 2.5 1.2-.3-.6-2.5zM882.9 348.4l.6 2.6 1.3-.3-.6-2.7zM898 344.5l.7 2.9 2.5-.6-.7-3zM908 341.9l.8 3 1.2-.3-.7-3.1zM870.9 354l.6 2.4 1.2-.2-.5-2.5zM876 352.8l.5 2.5 1.3-.3-.6-2.5zM903.7 346.2l.7 3 2.5-.6-.6-3.1zM922.7 341.6l.7 3.3 1.3-.2-.8-3.4zM863.9 358.1l.5 2.3 2.5-.5-.5-2.3zM871.5 356.4l.5 2.5 3.8-.8-.5-2.5zM927.2 344.1l.7 3.4 2.6-.5-.8-3.5zM861.8 360.9l.5 2.3 5.1-.9-.5-2.4zM930.5 347l.6 3.5 1.3-.3-.7-3.5zM838 367.7l.4 1.8 5.1-.8-.4-2zM857.2 364.1l.3 2.2 2.6-.4-.4-2.2zM929.9 350.7l.6 3.4 1.2-.2-.6-3.4zM933.7 350l.6 3.5 2.6-.4-.7-3.6zM830.7 370.8l.3 1.7 1.2-.2-.2-1.7zM843.5 368.7l.3 1.9 1.3-.2-.3-1.9zM930.5 354.1l.5 3.5 1.3-.2-.6-3.5zM934.3 353.5l.5 3.5 2.6-.4-.5-3.5zM829.7 372.7l.2 1.7 1.3-.2-.2-1.7zM841.2 371l.3 1.9 2.5-.3-.2-2zM933.6 357.2l.4 3.5 1.3-.1-.5-3.6zM827.3 374.8l.2 1.6 1.3-.1-.2-1.7zM838.9 373.2l.2 1.9 2.6-.3-.2-1.9zM839.1 375.1l.2 1.9 2.6-.3-.2-1.9zM827.7 378.1l.2 1.6 1.2-.1-.1-1.6zM838 377.1l.2 1.8 1.3-.1-.2-1.8zM918.8 382.4l0 3.2 2.6 0 0-3.3zM926.6 382.2l0 3.4 1.3-.1 0-3.4zM916.2 385.6l0 3.3 1.3 0 0-3.3zM930.5 385.5l0 3.5 2.6 0 0-3.5zM914.9 388.8l0 3.2 1.3.1 0-3.2zM931.8 389l-.1 3.5 1.3 0 .1-3.5zM929.1 392.4l-.1 3.4 1.3.1.1-3.5zM995.2 394.1l-.2 4.6 3.9.2.1-4.7zM1000.3 394.3l-.1 4.6 5.1.3.2-4.8zM1006.8 394.4l-.2 4.8 1.3.1.2-4.8zM992.4 398.6l-.3 4.5 3.9.3.3-4.6zM1007.9 399.3l-.3 4.8 2.6.1.3-4.8zM1006.3 404l-.3 4.8 1.3.1.3-4.8zM1011.2 409.2l-.5 4.8 1.3.1.4-4.8zM992.7 412.3l-.5 4.5 2.5.3.5-4.6zM994.2 421.7l-.7 4.5 1.3.2.6-4.6zM1014.7 424.4l-.7 4.9 1.2.2.8-5zM994.8 426.4l-.8 4.6 1.3.2.7-4.6zM999.1 431.8l-.8 4.7 1.3.2.8-4.7zM1013.2 434.2l-.9 4.9 1.2.2.9-4.9zM1000.8 436.9l-.9 4.7 6.3 1.3 1-4.8zM1011 438.8l-1 4.9 2.6.5.9-4.9zM990.8 649.8l-4.7 4.5.9.9 4.7-4.4zM997.1 656.2l-4.8 4.6 3.5 3.7 4.8-4.6zM1001.5 660.8l-4.8 4.6.9 1 4.8-4.7zM1007.8 667.2l-4.9 4.7.9 1 4.9-4.8zM1015.9 675.4l-5.1 4.9.9.9 5.1-4.9zM986.1 654.3l-4.7 4.4.8.9 4.8-4.4zM991.4 659.9l-4.8 4.4 2.6 2.8 4.9-4.4zM995.8 664.5l-4.9 4.5 2.6 2.9 5-4.6zM983.1 660.5l-4.8 4.3.8 1 4.9-4.3zM985.7 663.4l-4.9 4.3.9 1 4.9-4.4zM1008.2 687.9l-5.3 4.7.9 1 5.3-4.7zM995.3 684l-5.3 4.5.9 1 5.2-4.5zM998.7 687.9l-5.4 4.5 3.4 3.9 5.4-4.6zM944.2 635l-4.4 3.6 1.7 2 4.4-3.7zM989.2 687.6l-5.3 4.4 4.9 5.9 5.4-4.5zM998.3 698.3l-5.5 4.5.9 1 5.5-4.6zM936.6 634.7l-4.4 3.5 2.4 3 4.4-3.6zM941.5 640.6l-4.5 3.6 1.6 2 4.5-3.6zM964.3 668.3l-5 3.9.8 1 5-3.9zM966.8 671.2l-5.1 4.1.8 1 5.1-4.1zM985.5 693.9l-5.4 4.4 1.6 2 5.4-4.4zM996.9 707.8l-5.7 4.5.8 1 5.7-4.6zM929 634.1l-4.4 3.4 3.2 4.1 4.4-3.4zM933 639.2l-4.5 3.4 1.6 2 4.5-3.4zM937.8 645.2l-4.6 3.5.8 1 4.6-3.5zM949.8 660.2l-4.9 3.8 2.4 3 4.9-3.8zM953 664.2l-4.9 3.8 3.9 5.1 4.9-3.9zM960.1 673.2l-5 4 1.6 2 5-3.9zM980.1 698.3l-5.5 4.2.8 1 5.5-4.2zM990.5 711.3l-5.8 4.4.8 1 5.7-4.4zM927.8 641.6l-4.5 3.3 6.1 8.3 4.6-3.5zM941.8 659.9l-4.8 3.6 1.5 2 4.9-3.6zM958.2 681.2l-5.2 3.9.8 1 5.2-3.9zM960.6 684.3l-5.3 3.9 3.8 5.1 5.4-4zM970.7 697.5l-5.5 4 .8 1.1 5.5-4.1zM973 700.5l-5.5 4.1.8 1.1 5.5-4.2zM975.4 703.5l-5.6 4.2 3.8 5.1 5.7-4.2zM923.3 644.9l-4.6 3.3 3.7 5.2 4.7-3.3zM937 663.5l-4.9 3.5.8 1 4.9-3.5zM943.9 672.7l-5.1 3.7.8 1 5-3.6zM951.5 683l-5.2 3.8 1.5 2.1 5.2-3.8zM966 702.6l-5.6 4 .8 1 5.5-4zM972.8 711.8l-5.7 4.1.8 1.1 5.7-4.2zM916.5 645.1l-4.6 3.1 2.2 3.2 4.6-3.2zM919.5 649.3l-4.7 3.2 1.5 2.1 4.7-3.3zM911.9 648.2l-4.6 3.1.7 1.1 4.7-3.1zM917 655.6l-4.7 3.2 1.4 2.1 4.8-3.2zM954.1 709.4l-5.7 3.8.7 1.1 5.7-3.8zM959.9 717.8l-5.9 3.9.7 1.1 5.9-3.9zM903.6 677.7l-5.1 2.9.7 1.1 5.1-2.9zM906.9 683.2l-5.2 3 .6 1.1 5.2-3zM890.9 679l-5.1 2.7.6 1.1 5.1-2.7zM885.8 681.7l-5.2 2.6.6 1.1 5.2-2.6zM893.5 696.4l-5.5 2.8.6 1.1 5.5-2.7zM886.9 696.9l-5.4 2.6.5 1.2 5.5-2.7zM877 690.3l-5.3 2.4.6 1.2 5.3-2.5zM878.2 692.6l-5.4 2.5.5 1.1 5.4-2.5zM862.9 702.1l-5.5 2.2 1.9 4.8 5.6-2.3zM856 700.8l-5.5 2.1 1.3 3.6 5.6-2.2zM857.8 705.5l-5.5 2.2.4 1.2 5.6-2.2zM859.3 709.1l-5.7 2.1 3.1 8.4 5.8-2.2zM850.9 704.1l-5.5 2 1.2 3.6 5.7-2zM845.4 706.1l-5.6 1.9.4 1.2 5.6-1.9zM841 711.6l-5.7 1.8 1.5 4.9 5.8-1.8zM836.4 717.1l-5.7 1.8.3 1.2 5.8-1.8zM837.6 720.8l-5.9 1.7.4 1.3 5.9-1.8zM826.3 704.2l-5.6 1.5.7 2.5 5.6-1.6zM828.1 710.3l-5.7 1.6.7 2.5 5.7-1.7zM832.5 725l-5.9 1.7.3 1.2 5.9-1.7zM835 733.6l-6.1 1.7 1.8 6.1 6.1-1.7zM819.4 700.8l-5.5 1.5 1.6 6.2 5.6-1.5zM826.9 727.9l-6 1.6 1 3.7 6-1.6zM828.6 734.1l-6.1 1.6.7 2.4 6.1-1.6zM830.7 741.4l-6.3 1.7.4 1.2 6.2-1.6zM832.4 747.6l-6.4 1.7.4 1.2 6.3-1.7zM833.4 751.3l-6.4 1.7.3 1.2 6.4-1.7zM835.4 758.7l-6.5 1.7 1 3.7 6.6-1.7zM814.8 706l-5.6 1.4.6 2.4 5.7-1.3zM821.9 733.2l-6.1 1.5.6 2.5 6.1-1.5zM823.5 739.4l-6.2 1.5.6 2.5 6.2-1.5zM824.4 743.1l-6.2 1.5.3 1.3 6.3-1.6zM825.4 746.8l-6.3 1.6 1.2 4.9 6.4-1.6zM827.3 754.2l-6.4 1.6.6 2.5 6.5-1.6zM829.9 764.1l-6.6 1.6.6 2.5 6.6-1.6zM809.5 708.6l-5.6 1.3.3 1.2 5.6-1.3zM817.9 743.4l-6.2 1.4 1.1 5 6.3-1.4zM819.7 750.8l-6.4 1.5.6 2.5 6.4-1.5zM820.6 754.6l-6.4 1.4 1.1 5 6.5-1.5zM803.6 708.6l-5.6 1.2.3 1.3 5.6-1.2zM813.6 753.5l-6.4 1.4.2 1.2 6.5-1.3zM814.7 758.5l-6.5 1.4.3 1.2 6.5-1.3zM797.7 708.6l-5.6 1.1.3 1.2 5.6-1.1zM798.8 713.6l-5.7 1.1.4 2.5 5.8-1.1zM807.7 757.4l-6.5 1.2.5 2.6 6.5-1.3zM809 763.6l-6.6 1.3.2 1.3 6.6-1.3zM792.1 709.7l-5.6 1 .2 1.2 5.7-1zM792.8 713.4l-5.7 1 .2 1.3 5.8-1zM793.3 716l-5.8 1 .5 2.5 5.8-1zM802.8 767.4l-6.6 1.2.8 5 6.8-1.2zM786.5 710.7l-5.7.8.2 1.3 5.7-.9zM787.1 714.4l-5.7.9.2 1.3 5.7-.9zM787.5 717l-5.7.9.1 1.2 5.8-.9zM796.4 769.9l-6.7 1 .6 3.8 6.7-1.1zM780.8 711.5l-5.7.8.7 5.1 5.8-.8zM789.7 770.9l-6.7.9.6 5.1 6.9-1zM775.6 716.1l-5.7.7.3 2.6 5.8-.7zM783.1 773.1l-6.7.8.1 1.3 6.8-.8zM783.5 775.6l-6.8.9.1 1.2 6.8-.8zM785.6 792.1l-7 .8.1 1.3 7.1-.9zM770 718.1l-5.8.6.3 2.6 5.8-.7zM776.4 773.9l-6.8.7.4 3.8 6.8-.7zM777.8 786.6l-7 .7.3 2.6 7-.8zM778.4 791.7l-7.1.7.4 3.8 7.1-.7zM764.7 723.8l-5.9.5.1 1.3 5.9-.5zM769.9 777.2l-6.9.6.1 1.2 6.9-.6zM770.4 782.2l-7 .6.3 3.9 7-.6zM771 788.6l-7.1.6.2 2.5 7.1-.6zM771.3 792.4l-7.1.6.8 10.2 7.3-.7zM772.4 803.8l-7.3.6.3 2.6 7.3-.6zM773.1 810.2l-7.4.6.3 3.8 7.4-.6zM758.9 725.6l-5.9.4.3 5.1 6-.4zM763.5 784.1l-6.9.5.1 1.3 6.9-.5zM763.8 787.9l-7 .5.2 2.6 7-.5zM764.2 793l-7.1.5.1 1.3 7.1-.5zM766.7 823.5l-7.7.5.1 1.3 7.7-.5zM753.6 734.9l-6.1.3.1 2.6 6.1-.3zM756.8 788.4l-7 .4.1 2.5 7.1-.3zM757.1 792.2l-7.1.4 0 1.3 7.1-.4zM758.4 813.9l-7.5.3.1 1.3 7.5-.4zM759.1 825.3l-7.7.4.3 6.3 7.8-.4zM747.8 742.9l-6.2.2.1 3.8 6.3-.2zM749.9 791.3l-7 .3 0 2.5 7.1-.2zM750.9 813l-7.5.2.1 3.8 7.5-.2zM751.9 835.9l-7.9.2.1 1.3 7.8-.3zM741.6 741.8l-6.2.1 0 1.3 6.2-.1zM741.7 748.2l-6.3.1 0 1.3 6.4-.1zM742.1 763.5l-6.5.1 0 2.6 6.6-.1zM742.4 773.7l-6.8.1.1 1.3 6.7-.1zM743.3 809.4l-7.3.1 0 5.1 7.5-.1zM744.1 837.4l-7.9.1 0 2.6 7.9-.2zM744.2 843.8l-7.9.1 0 1.3 8-.2zM735.5 754.7l-6.5 0 0 7.7 6.5 0zM735.6 764.9l-6.6 0-.1 1.3 6.7 0zM735.6 768.7l-6.7 0 0 6.4 6.8 0zM735.7 776.4l-6.8 0-.1 1.3 6.9 0zM735.9 798.1l-7.2 0-.1 2.5 7.3 0zM735.9 808.3l-7.3 0 0 1.2 7.4 0zM736.3 850.3l-8.1 0 0 1.2 8.1 0zM728.9 766.2l-6.6-.1 0 2.5 6.6.1zM728.8 778.9l-6.8-.1-.1 2.6 6.9.1zM728.6 808.3l-7.4-.2 0 2.6 7.4.1zM728.5 812.1l-7.4-.1 0 1.2 7.4.2zM728.5 822.3l-7.6-.2-.1 1.3 7.6.1zM721.9 781.4l-6.9-.3 0 1.3 6.9.3zM719.9 859l-8.3-.3-.1 2.6 8.3.3zM714.9 785l-7-.4-.2 3.8 7 .4zM714.5 793.9l-7.1-.4-.1 1.3 7.1.3zM711.5 862.5l-8.3-.4-.1 1.3 8.3.4zM707 799.9l-7.2-.5-.1 1.2 7.2.5zM703.1 863.4l-8.3-.6-.1 1.3 8.3.6zM702.9 867.2l-8.4-.6-.4 5.1 8.4.6zM699.1 808.3l-7.4-.7-.1 1.3 7.4.6zM694.7 864.1l-8.4-.7-.2 2.5 8.4.7zM693.5 879.3l-8.6-.8-.1 1.3 8.6.7zM691.6 808.9l-7.4-.8-.7 6.3 7.5.8zM690.7 817.8l-7.5-.8-.7 6.3 7.6.8zM684.5 882.3l-8.6-.9-.5 3.8 8.7.9zM682.5 823.3l-7.6-.9-.4 2.5 7.7.9zM676 880.2l-8.6-1.1-.2 1.3 8.7 1zM675.6 884l-8.7-1.1-.2 1.3 8.7 1zM674.7 823.6l-7.6-1-.4 2.5 7.7 1.1zM668.7 869l-8.4-1.1-.4 2.5 8.5 1.2zM667.9 875.3l-8.5-1.1-.6 3.7 8.6 1.2zM667.1 881.6l-8.7-1.2-.5 3.8 8.7 1.2zM663.9 905.6l-9-1.3-.2 1.3 9 1.2zM666.3 827.6l-7.7-1.2-.4 2.5 7.8 1.2zM663.9 844l-8-1.3-.2 1.3 8 1.2zM660.3 867.9l-8.4-1.3-.6 3.7 8.4 1.3zM659.6 872.9l-8.5-1.3-1.1 6.2 8.6 1.4zM658.4 880.4l-8.6-1.3-.4 2.5 8.7 1.4zM655 903.1l-9-1.5-.4 2.5 9.1 1.5zM653.7 911.8l-9.1-1.4-.2 1.3 9.1 1.4zM657.6 832.7l-7.8-1.4-.7 3.8 7.9 1.4zM656.1 841.5l-7.9-1.4-2.6 13.7 8.2 1.5zM653 860.3l-8.3-1.5-.7 3.8 8.3 1.5zM652.1 865.3l-8.3-1.5-.3 1.3 8.4 1.5zM651.3 870.3l-8.5-1.5-.6 3.8 8.5 1.5zM649.6 880.3l-8.6-1.5-.2 1.3 8.6 1.5zM643.5 865.1l-8.3-1.6-.3 1.2 8.4 1.6zM642.8 868.8l-8.4-1.6-.2 1.3 8.4 1.6zM701.4 439.6l-.9-.6-.7 1.1.9.6zM463.5 749.8l-6.3-4.7-.8 1 6.4 4.7zM451 753.2l-6.4-4.9-.8 1 6.4 4.9zM572.1 574.5l-3.3-2.8-2.5 2.9 3.3 2.8zM435.4 734.2l-6-5.2-.9 1 6.1 5.2zM429.6 741l-6.2-5.3-.8 1 6.2 5.3zM427.1 743.9l-6.2-5.3-.9 1 6.3 5.3zM567.1 573.6l-3.2-2.9-1.8 1.9 3.3 2.9zM423.4 735.7l-6-5.4-1.8 1.9 6.1 5.4zM511.3 596.6l-3.6-3.9-1.9 1.7 3.6 3.9zM456.3 648.7l-4.5-4.9-1 .9 4.6 4.8zM450.8 644.7l-4.5-4.9-.9.8 4.5 5zM490.8 593.1l-3.6-4.2-3 2.5 3.7 4.2zM487.2 588.9l-3.5-4.3-3 2.4 3.5 4.4zM466.6 598.2l-3.7-4.6-1 .7 3.7 4.7zM462.6 601.4l-3.8-4.7-1 .8 3.8 4.7zM470.1 588.1l-3.5-4.6-1.1.8 3.5 4.6zM458.8 596.7l-3.6-4.8-1 .8 3.6 4.8zM465.5 584.3l-3.4-4.7-1 .8 3.4 4.6zM461.4 587.3l-3.5-4.7-1 .7 3.5 4.8zM189.2 623l-4.1-9.5-1.2.5 4.1 9.5zM182.1 626l-4.2-9.5-1.1.5 4.2 9.6zM186.3 613l-4-9.5-1.2.5 4 9.5zM177.9 616.5l-4-9.7-1.2.5 4.1 9.7zM164.9 621.9l-4.1-9.9-1.2.5 4.1 9.9zM162.5 622.8l-4.1-9.9-2.4 1 4.1 9.9zM131.7 635.6l-4.4-10.5-1.2.5 4.4 10.5zM114.2 630.3l-4.3-10.7-1.2.4 4.3 10.8zM91.5 639.2l-4.5-11.1-2.4.9 4.5 11.2zM176.1 583.9l-3.5-9.7-1.2.4 3.5 9.7zM108.2 607.9l-3.9-10.9-1.2.4 3.9 10.9zM173.9 573.8l-3.3-9.8-1.2.4 3.2 9.8zM169 575.4l-3.3-9.8-1.3.4 3.4 9.8zM348.8 508l-2.1-6.7-1.2.3 2.1 6.7zM184.1 559.8l-3-9.6-1.3.4 3.1 9.6zM178 561.7l-3.1-9.6-3.7 1.1 3.1 9.7zM385.1 489.9l-1.8-6-1.3.3 1.8 6.1zM382.6 490.7l-1.8-6.1-1.3.3 1.8 6.1zM354.1 499.1l-1.9-6.6-2.5.7 1.9 6.6zM345.5 501.6l-2-6.7-1.3.3 2 6.8zM182.3 549.9l-2.9-9.6-2.4.7 2.8 9.6zM172.4 552.8l-2.9-9.7-1.2.3 2.9 9.8zM382 484.2l-1.6-6.1-3.8 1 1.7 6.1zM189.4 537.6l-2.7-9.5-1.2.3 2.6 9.5zM153.4 547.5l-2.8-10.1-1.3.4 2.8 10.1zM145.6 538.7l-2.7-10.2-1.3.3 2.7 10.2zM115.6 546.5l-2.8-10.8-1.2.3 2.8 10.8zM129.1 531.8l-2.5-10.5-3.8.8 2.5 10.6zM119.1 534.2l-2.6-10.7-1.3.3 2.6 10.7zM114.1 535.4l-2.6-10.8-1.3.3 2.6 10.8zM329.1 469.1l-1.4-7-11.4 2.1 1.4 7.2z"/>
<path fill="#12B81C" stroke="#12B81C" stroke-width="0.6" d="M862.1 245.7l2.5 2.3 2.7-2.8-2.5-2.3zM862.8 249.9l2.4 2.3 3.6-3.7-2.4-2.4zM865.2 252.2l2.3 2.4.9-.9-2.3-2.4zM867 250.4l2.4 2.3 1.8-1.8-2.4-2.4zM867.5 254.6l2.3 2.3 3.8-3.5-2.4-2.5zM871.7 255.2l2.3 2.4 1.9-1.7-2.3-2.5zM880.4 261l2.2 2.6 3-2.5-2.2-2.7zM882.6 263.6l2.1 2.6 2-1.6-2.1-2.7zM928 285.5l1.7 3.5 4.7-2.4-1.8-3.5zM938.4 280.1l1.8 3.6 1.2-.5-1.9-3.7zM933.2 287.2l1.7 3.5 1.2-.5-1.7-3.6zM936.7 285.5l1.8 3.6 3.5-1.7-1.8-3.7zM942.5 282.6l1.8 3.7 5.9-2.8-1.8-3.8zM925.5 295.2l1.6 3.4 10.7-4.8-1.7-3.6zM937.3 289.6l1.6 3.6 6-2.7-1.8-3.7zM947.8 284.6l1.8 3.8 2.4-1.1-1.8-3.8zM925.9 299.1l1.5 3.4 1.2-.5-1.5-3.4zM928.3 298.1l1.5 3.4 1.2-.5-1.5-3.5zM931.8 296.5l1.6 3.4 3.6-1.5-1.6-3.6zM942.5 291.6l1.6 3.7 1.2-.5-1.6-3.7zM950.8 287.8l1.7 3.9 1.2-.6-1.7-3.8zM925 303.6l1.5 3.3 1.2-.5-1.5-3.3zM928.6 302l1.5 3.5 1.2-.5-1.5-3.5zM933.4 299.9l1.5 3.6 3.6-1.5-1.5-3.6zM918 325.2l1.1 3.3 1.2-.4-1.1-3.3zM919.1 328.5l.9 3.2 2.5-.7-1-3.3zM882.7 342.8l.7 2.6 2.5-.7-.7-2.7zM920 331.7l1 3.3 2.5-.7-1-3.3zM925 330.3l1 3.3 2.5-.7-1-3.4zM882.2 345.7l.7 2.7 3.8-1-.8-2.7zM897.2 341.6l.8 2.9 1.2-.4-.7-2.9zM901 340.5l.7 3 1.3-.3-.8-3zM904.7 339.5l.8 3 1.3-.3-.8-3zM921 335l.8 3.3 2.6-.6-.9-3.4zM928.5 332.9l.9 3.5 1.2-.4-.9-3.4zM900.5 343.8l.7 3 1.3-.3-.8-3zM906.8 342.2l.7 3 1.3-.3-.8-3zM921.8 338.3l.9 3.3 1.2-.3-.8-3.3zM929.4 336.4l.8 3.4 1.3-.3-.9-3.5zM872.2 353.7l.5 2.5 3.8-.9-.5-2.5zM929 340.1l.7 3.4 1.3-.2-.8-3.5zM931.1 350.5l.6 3.4 2.6-.4-.6-3.5zM832 370.6l.2 1.7 11.6-1.7-.3-1.9zM931.7 353.9l.6 3.5 2.5-.4-.5-3.5zM839.9 371.2l.3 1.9 1.3-.2-.3-1.9zM828.6 374.6l.2 1.7 1.3-.2-.2-1.7zM827.5 376.4l.2 1.7 2.6-.3-.2-1.7zM837.8 375.2l.2 1.9 1.3-.1-.2-1.9zM829 378l.1 1.6 2.6-.2-.1-1.7zM835.5 377.3l.1 1.8 2.6-.2-.2-1.8zM921.4 382.3l0 3.3 1.3 0 0-3.3zM924 382.2l0 3.4 2.6 0 0-3.4zM917.5 385.6l0 3.3 1.3 0 0-3.3zM925.3 385.6l0 3.3 5.2.1 0-3.5zM925.3 388.9l-.1 3.4 6.5.2.1-3.5zM918.8 392.1l-.2 3.3 1.3 0 .2-3.2zM922.6 392.2l-.1 3.3 6.5.3.1-3.4zM1005.5 394.4l-.2 4.8 1.3 0 .2-4.8zM996.3 398.8l-.3 4.6 11.6.7.3-4.8zM992.1 403.1l-.3 4.5 3.9.3.3-4.5zM1001.2 403.7l-.4 4.7 5.2.4.3-4.8zM1007.6 404.1l-.3 4.8 2.6.2.3-4.9zM991.8 407.6l-.4 4.6 3.8.3.5-4.6zM1009.9 409.1l-.5 4.8 1.3.1.5-4.8zM995.2 412.5l-.5 4.6 1.3.2.5-4.6zM1013.3 414.3l-.6 4.9 1.3.1.6-4.9zM994.7 417.1l-.5 4.6 1.2.1.6-4.5zM1012.7 419.2l-.6 4.8 1.3.2.6-4.9zM995.4 421.8l-.6 4.6 1.2.2.7-4.6zM1013.4 424.2l-.7 4.9 1.3.2.7-4.9zM996 426.6l-.7 4.6 1.3.2.7-4.6zM1014 429.3l-.8 4.9 1.2.2.8-4.9zM996.6 431.4l-.9 4.6 2.6.5.8-4.7zM1000.4 432l-.8 4.7 5 .9.9-4.7zM1011.9 434l-.9 4.8 1.3.3.9-4.9zM1007.2 438.1l-1 4.8 1.3.3 1-4.8zM1009.7 438.6l-.9 4.8 1.2.3 1-4.9zM991.7 650.8l-4.7 4.4 1.8 1.9 4.7-4.5zM996.2 655.3l-4.8 4.6.9.9 4.8-4.6zM1000.6 659.9l-4.8 4.6.9.9 4.8-4.6zM1008.7 668.1l-4.9 4.8 1.7 1.8 5-4.8zM1014.1 673.6l-5 4.8 1.7 1.9 5.1-4.9zM987 655.2l-4.8 4.4.9.9 4.8-4.4zM994.1 662.7l-4.9 4.4 1.7 1.9 4.9-4.5zM998.5 667.3l-5 4.6.9.9 4.9-4.6zM1012.6 682.2l-5.2 4.8.8.9 5.3-4.8zM984 661.5l-4.9 4.3.9 1 4.8-4.4zM989.2 667.1l-5 4.5 2.6 2.8 5-4.4zM984.2 671.6l-5 4.3.8 1 5.1-4.4zM986.8 674.4l-5.1 4.4 2.5 2.9 5.1-4.4zM994.4 683.1l-5.2 4.5.8.9 5.3-4.5zM972.5 668.1l-4.9 4.1.8 1 5-4.1zM975.9 672l-5.1 4.2 2.5 2.9 5.1-4.2zM983.4 680.7l-5.2 4.4.8.9 5.2-4.3zM987.5 685.6l-5.3 4.4 1.7 2 5.3-4.4zM994.2 693.4l-5.4 4.5 1.6 2 5.4-4.6zM997.5 697.3l-5.5 4.5.8 1 5.5-4.5zM939 637.6l-4.4 3.6 2.4 3 4.5-3.6zM961.9 665.3l-5 3.9.8 1 5-3.9zM963.5 667.3l-5 3.9.8 1 5-3.9zM984.7 693l-5.4 4.3.8 1 5.4-4.4zM987.1 695.9l-5.4 4.4.8 1 5.5-4.4zM995.3 705.8l-5.6 4.5 1.5 2 5.7-4.5zM932.2 638.2l-4.4 3.4.7 1 4.5-3.4zM934.6 641.2l-4.5 3.4 3.1 4.1 4.6-3.5zM952.2 663.2l-4.9 3.8.8 1 4.9-3.8zM959.3 672.2l-5 3.9.8 1.1 5-4zM961.7 675.3l-5 3.9 4.6 6.1 5.2-4zM976.9 694.3l-5.4 4.2.8 1 5.4-4.2zM978.5 696.3l-5.5 4.2 1.6 2 5.5-4.2zM988.9 709.3l-5.7 4.4 1.5 2 5.8-4.4zM943.4 661.9l-4.9 3.6 3.1 4.2 4.9-3.7zM948.8 669l-4.9 3.7 3 4.2 5.1-3.8zM954.3 676.1l-5.1 3.8 3.8 5.2 5.2-3.9zM964.5 689.3l-5.4 4 6.1 8.2 5.5-4zM971.5 698.5l-5.5 4.1 1.5 2 5.5-4.1zM937.8 664.5l-4.9 3.5 1.5 2.1 4.9-3.5zM942.3 670.7l-5 3.6 1.5 2.1 5.1-3.7zM944.6 673.8l-5 3.6 3 4.2 5.1-3.7zM948.4 678.9l-5.1 3.7 3 4.2 5.2-3.8zM966.7 703.6l-5.5 4 1.4 2.1 5.7-4zM971.3 709.8l-5.7 4.1 1.5 2 5.7-4.1zM959.7 705.5l-5.6 3.9.7 1.1 5.6-3.9zM966.4 714.9l-5.8 4 2.2 3.2 5.8-4.1zM954.8 710.5l-5.7 3.8.7 1 5.7-3.8zM956.2 712.6l-5.7 3.8 1.4 2.1 5.8-3.8zM958.4 715.7l-5.8 3.9 1.4 2.1 5.9-3.9zM904.3 678.8l-5.1 2.9 2.5 4.5 5.2-3zM897.3 678.4l-5.2 2.8.7 1.1 5.1-2.8zM902.3 687.3l-5.3 2.9.7 1.1 5.3-2.9zM891.5 680.1l-5.1 2.7.6 1.1 5.1-2.7zM898.3 692.5l-5.4 2.8.6 1.1 5.4-2.8zM886.4 682.8l-5.2 2.6.6 1.2 5.2-2.7zM892.9 695.3l-5.4 2.7.5 1.2 5.5-2.8zM881.8 686.6l-5.3 2.5.5 1.2 5.3-2.6zM885.2 693.5l-5.4 2.6 1.7 3.4 5.4-2.6zM877.6 691.4l-5.3 2.5.5 1.2 5.4-2.5zM858.8 707.9l-5.6 2.1.4 1.2 5.7-2.1zM845.8 707.3l-5.6 1.9.8 2.4 5.6-1.9zM850.9 721.7l-5.9 2 .4 1.2 5.9-2zM827 706.6l-5.6 1.6 1 3.7 5.7-1.6zM828.8 712.7l-5.7 1.7 1.1 3.7 5.7-1.7zM831.7 722.5l-5.8 1.7.7 2.5 5.9-1.7zM821.1 707l-5.6 1.5.3 1.2 5.6-1.5zM826.6 726.7l-6 1.6.3 1.2 6-1.6zM829.3 736.5l-6.1 1.6 1.2 5 6.3-1.7zM832.7 748.8l-6.3 1.7.6 2.5 6.4-1.7zM821.2 730.7l-6 1.5.6 2.5 6.1-1.5zM822.5 735.7l-6.1 1.5.9 3.7 6.2-1.5zM824.1 741.9l-6.2 1.5.3 1.2 6.2-1.5zM826.7 751.7l-6.4 1.6.6 2.5 6.4-1.6zM829.2 761.6l-6.5 1.6.6 2.5 6.6-1.6zM809.8 709.8l-5.6 1.3.3 1.3 5.6-1.3zM815.8 734.7l-6.1 1.4.3 1.2 6.1-1.4zM817 739.7l-6.2 1.4.3 1.2 6.2-1.4zM819.1 748.4l-6.3 1.4.5 2.5 6.4-1.5zM804.7 713.6l-5.7 1.2.5 2.5 5.8-1.2zM810.8 741.1l-6.2 1.3.8 3.7 6.3-1.3zM813.1 751.1l-6.4 1.3.5 2.5 6.4-1.4zM798 709.8l-5.6 1.1.7 3.8 5.7-1.1zM799.3 716.1l-5.8 1.1.3 1.3 5.7-1.2zM800.6 722.4l-5.9 1.1.2 1.2 5.9-1.1zM801.1 724.9l-5.9 1.1.7 3.8 5.9-1.2zM803.1 734.9l-6.1 1.2.2 1.2 6.2-1.2zM808.2 759.9l-6.5 1.3.7 3.7 6.6-1.3zM792.4 710.9l-5.7 1 .4 2.5 5.7-1zM793.8 718.5l-5.8 1 .6 3.8 5.9-1.1zM795.2 726l-6 1 .7 3.8 6-1zM797 736.1l-6.1 1 .6 3.8 6.2-1.1zM802.1 763.7l-6.5 1.1.6 3.8 6.6-1.2zM786.7 711.9l-5.7.9.4 2.5 5.7-.9zM787.7 718.2l-5.8.9.2 1.3 5.9-.9zM795.6 764.8l-6.7 1.1.8 5 6.7-1zM781.8 717.9l-5.8.8.1 1.2 5.8-.8zM789.1 767.1l-6.6.9.5 3.8 6.7-.9zM776 718.7l-5.8.7.1 1.2 5.8-.7zM783 771.8l-6.8.9.2 1.2 6.7-.8zM776.2 772.7l-6.7.7.1 1.2 6.8-.7zM764.8 725.1l-5.9.5.4 5.1 6-.5zM770.7 786.1l-7 .6.2 2.5 7.1-.6zM772.7 806.4l-7.3.6.3 3.8 7.4-.6zM759.3 730.7l-6 .4.1 1.3 6-.4zM759.5 733.2l-6 .4.2 3.9 6.1-.5zM763.4 782.8l-6.9.5.1 1.3 6.9-.5zM763.6 785.4l-6.9.5.1 2.5 7-.5zM764.3 794.3l-7.1.5.3 3.8 7.1-.5zM765.8 812.1l-7.5.5.6 8.9 7.6-.5zM766.6 822.2l-7.7.5.1 1.3 7.7-.5zM753.7 737.5l-6.1.3 0 1.3 6.2-.4zM756.8 787.1l-7 .4 0 1.3 7-.4zM757.1 793.5l-7.1.4.1 1.2 7.1-.3zM758.2 811.3l-7.4.4.1 2.5 7.5-.3zM758.5 815.1l-7.5.4.2 5.1 7.6-.4zM759 824l-7.6.4 0 1.3 7.7-.4zM747.5 736.5l-6.1.2.2 6.4 6.2-.2zM748 746.7l-6.3.2 0 1.3 6.3-.2zM749.8 788.8l-7 .2.1 2.6 7-.3zM750 793.9l-7.1.2.1 1.3 7.1-.3zM750.7 807.9l-7.4.2.1 5.1 7.5-.2zM751 816.8l-7.5.2.1 1.3 7.5-.2zM751.2 819.3l-7.6.3 0 1.3 7.6-.3zM751.4 824.4l-7.7.3.1 3.8 7.7-.3zM751.7 830.8l-7.8.2.1 5.1 7.9-.2zM741.8 749.5l-6.4.1 0 1.3 6.4-.1zM741.9 754.6l-6.4.1.1 8.9 6.5-.1zM742.2 766.1l-6.6.1 0 3.8 6.7-.1zM742.3 771.2l-6.7.1 0 2.5 6.8-.1zM742.4 775l-6.7.1 0 1.3 6.8-.1zM742.8 789l-7 .1.1 14.1 7.3-.2zM743.3 806.9l-7.4.1.1 2.5 7.3-.1zM743.5 814.5l-7.5.1 0 2.6 7.5-.2zM743.7 823.4l-7.6.1 0 6.4 7.8-.1zM744 834.9l-7.8.1 0 2.5 7.9-.1zM744.1 839.9l-7.9.2.1 3.8 7.9-.1zM735.4 749.6l-6.3 0 0 1.3 6.3 0zM735.5 753.4l-6.4 0-.1 1.3 6.5 0zM735.6 766.2l-6.7 0 0 2.5 6.7 0zM735.7 777.7l-6.9 0 0 2.5 6.9 0zM735.8 796.8l-7.1 0 0 1.3 7.2 0zM735.9 800.6l-7.3 0 0 1.3 7.3 0zM735.9 807l-7.3 0 0 1.3 7.3 0zM736 813.4l-7.5 0 0 3.8 7.5 0zM736.1 822.3l-7.6 0-.1 3.8 7.7 0zM736.2 836.3l-7.9 0 0 3.8 7.9 0zM736.3 843.9l-8 0-.1 6.4 8.1 0zM728.8 781.5l-6.9-.1 0 1.3 6.9.1zM728.6 807l-7.3-.1-.1 1.2 7.4.2zM728.5 813.4l-7.4-.2 0 1.3 7.4.1zM728.5 815.9l-7.5-.1 0 2.5 7.5.1zM728.5 819.7l-7.6-.1 0 2.5 7.6.2zM728.4 823.5l-7.6-.1 0 1.3 7.6.1zM728.3 838.8l-7.9-.1 0 1.2 7.9.2zM728.2 851.5l-8.1-.1-.1 2.5 8.2.2zM728.2 856.6l-8.2-.1-.1 1.3 8.2.1zM721.9 782.7l-6.9-.3-.1 1.3 7 .2zM719.9 857.8l-8.2-.3-.1 1.2 8.3.3zM714.7 788.8l-7-.4-.1 1.3 7 .4zM714.6 791.3l-7.1-.3-.1 2.5 7.1.4zM714.4 795.1l-7.1-.3-.2 2.5 7.2.4zM711.7 857.5l-8.2-.5-.3 5.1 8.3.4zM706.9 801.1l-7.2-.5-.1 1.3 7.2.5zM699 809.5l-7.4-.6-.1 1.3 7.4.6zM698.5 815.9l-7.5-.7-.9 8.9 7.7.7zM694.8 862.8l-8.3-.7-.2 1.3 8.4.7zM694.5 866.6l-8.4-.7-.4 3.8 8.5.7zM693.7 876.7l-8.6-.7-.2 2.5 8.6.8zM691 815.2l-7.5-.8-.3 2.6 7.5.8zM690.1 824.1l-7.6-.8-.3 2.5 7.7.8zM686.3 863.4l-8.3-.9-.1 1.3 8.3.8zM684.6 881.1l-8.6-.9-.1 1.2 8.6.9zM682.2 825.8l-7.7-.9-.3 2.5 7.7 1zM674.4 826.2l-7.7-1.1-.6 3.8 7.8 1.1zM668.9 867.8l-8.4-1.2-.2 1.3 8.4 1.1zM668.1 874.1l-8.5-1.2-.2 1.3 8.5 1.1zM666 830.1l-7.8-1.2-.4 2.5 7.8 1.3zM664.1 842.7l-8-1.2-.2 1.2 8 1.3zM663.7 845.2l-8-1.2-.2 1.2 8 1.3zM661.8 857.8l-8.2-1.3-.4 2.5 8.2 1.3zM660.9 864.1l-8.4-1.3-.2 1.3 8.4 1.3zM659.7 871.6l-8.4-1.3-.2 1.3 8.5 1.3zM657 836.5l-7.9-1.4-.9 5 7.9 1.4zM651.9 866.6l-8.4-1.5-.7 3.7 8.5 1.5zM643.3 866.3l-8.4-1.6-.5 2.5 8.4 1.6zM462.8 750.8l-6.4-4.7-.8 1 6.4 4.8zM461.2 752.9l-6.3-4.8-1.6 2.1 6.4 4.7zM457.2 745.1l-6.2-4.8-.8 1 6.2 4.8zM453.3 750.2l-6.3-4.9-2.4 3 6.4 4.9zM434.6 735.2l-6.1-5.2-2.5 2.9 6.1 5.2zM430.4 740l-6.1-5.2-.9.9 6.2 5.3zM429.4 729l-6-5.3-3.5 3.8 6.1 5.4zM424.3 734.8l-6.1-5.4-.8.9 6 5.4zM455.4 649.5l-4.6-4.8-4.7 4.3 4.6 5zM465.6 599l-3.7-4.7-3.1 2.4 3.8 4.7zM469 588.9l-3.5-4.6-2 1.5 3.5 4.6zM462.9 593.6l-3.6-4.7-4.1 3 3.6 4.8zM464.5 585l-3.4-4.6-1.1.7 3.5 4.7zM462.4 586.6l-3.4-4.7-1.1.7 3.5 4.7zM179.1 616l-4-9.7-1.2.5 4 9.7zM138.8 632.7l-4.3-10.4-1.2.5 4.3 10.3zM126.1 625.6l-4.2-10.5-1.2.4 4.2 10.6zM116.5 629.4l-4.2-10.7-2.4.9 4.3 10.7zM124.3 614.2l-4-10.6-1.2.4 4 10.6zM107.5 620.5l-4.1-10.9-1.2.4 4.1 10.9zM174.9 584.3l-3.5-9.7-3.6 1.2 3.4 9.8zM116.7 604.9l-3.8-10.8-1.3.5 3.9 10.7zM111.8 606.6l-3.8-10.8-3.7 1.2 3.9 10.9zM172.6 574.2l-3.2-9.8-3.7 1.2 3.3 9.8zM356.2 505.6l-2.1-6.5-7.4 2.2 2.1 6.7zM182.9 560.2l-3.1-9.6-1.2.4 3 9.6zM179.2 561.3l-3.1-9.6-1.2.4 3.1 9.6zM383.8 490.3l-1.8-6.1-1.2.4 1.8 6.1zM351.6 499.8l-1.9-6.6-6.2 1.7 2 6.7zM179.8 550.6l-2.8-9.6-2.5.7 2.9 9.6zM188.1 537.9l-2.6-9.5-2.5.7 2.7 9.5zM163.3 544.8l-2.8-9.9-5 1.2 2.8 10zM155.9 546.8l-2.9-10-2.4.6 2.8 10.1zM178 530.3l-2.5-9.6-3.8.9 2.6 9.7zM146.8 538.4l-2.7-10.2-1.2.3 2.7 10.2zM118.1 545.8l-2.8-10.7-2.5.6 2.8 10.8zM115.3 535.1l-2.6-10.7-1.2.2 2.6 10.8z"/>
<path fill="#10A518" stroke="#10A518" stroke-width="0.6" d="M866.1 251.3l2.3 2.4 1-1-2.4-2.3zM930.9 288.4l1.7 3.5 2.3-1.2-1.7-3.5zM940.2 283.7l1.8 3.7 2.3-1.1-1.8-3.7zM943.1 286.8l1.8 3.7 4.7-2.1-1.8-3.8zM927.1 298.6l1.5 3.4 1.2-.5-1.5-3.4zM948.4 288.9l1.7 3.8 2.4-1-1.7-3.9zM902.2 340.2l.8 3 2.5-.7-.8-3zM923.5 334.3l.9 3.4 5-1.3-.9-3.5zM901.7 343.5l.8 3 1.2-.3-.7-3zM904.3 342.8l.7 3.1 2.5-.7-.7-3zM923.1 338l.8 3.3 6.3-1.5-.8-3.4zM923.9 341.3l.8 3.4 5-1.2-.7-3.4zM831 372.5l.2 1.7 1.3-.1-.3-1.8zM838.6 371.4l.3 1.8 1.3-.1-.3-1.9zM829.9 374.4l.2 1.7 1.3-.1-.2-1.8zM836.3 373.6l.3 1.8 2.5-.3-.2-1.9zM830.1 376.1l.2 1.7 1.3-.1-.2-1.7zM836.6 375.4l.1 1.8 1.3-.1-.2-1.9zM834.2 377.5l.1 1.7 1.3-.1-.1-1.8zM922.7 382.3l0 3.3 1.3 0 0-3.4zM918.8 385.6l0 3.3 1.3 0 0-3.3zM921.4 385.6l0 3.3 3.9 0 0-3.3zM916.2 388.9l0 3.2 3.9.1 0-3.3zM922.7 388.9l-.1 3.3 2.6.1.1-3.4zM920.1 392.2l-.2 3.2 2.6.1.1-3.3zM996 403.4l-.3 4.5 1.3.1.3-4.6zM999.9 403.6l-.4 4.7 1.3.1.4-4.7zM995.7 407.9l-.5 4.6 14.2 1.4.5-4.8zM1006.8 413.6l-.5 4.8 2.6.3.5-4.8zM1007.6 418.6l-.6 4.8 1.3.1.6-4.8zM996.7 422l-.7 4.6 1.3.2.7-4.6zM1004.4 423l-.7 4.8 3.9.5.7-4.8zM1012.1 424l-.7 4.9 1.3.2.7-4.9zM997.3 426.8l-.7 4.6 2.5.4.8-4.6zM1002.4 427.6l-.7 4.7 3.8.6.8-4.8zM1012.7 429.1l-.8 4.9 1.3.2.8-4.9zM1005.5 432.9l-.9 4.7 2.6.5.9-4.8zM1010.6 433.8l-.9 4.8 1.3.2.9-4.8zM1008.5 438.4l-1 4.8 1.3.2.9-4.8zM993.5 652.6l-4.7 4.5 2.6 2.8 4.8-4.6zM1010.5 669.9l-5 4.8 3.6 3.7 5-4.8zM987.9 656.1l-4.8 4.4.9 1 4.8-4.4zM990.5 658.9l-4.8 4.5.9.9 4.8-4.4zM999.3 668.2l-4.9 4.6.8 1 5-4.6zM984.8 662.4l-4.8 4.4.8.9 4.9-4.3zM991.8 670l-5 4.4.8 1 5-4.5zM1000.4 679.4l-5.1 4.6 1.7 1.9 5.2-4.6zM1007.4 687l-5.3 4.7.8.9 5.3-4.7zM985.1 672.5l-5.1 4.4 1.7 1.9 5.1-4.4zM989.3 677.3l-5.1 4.4.8 1 5.2-4.4zM992.7 681.1l-5.2 4.5 1.7 2 5.2-4.5zM973.4 669.1l-5 4.1 2.4 3 5.1-4.2zM978.4 674.9l-5.1 4.2.8 1 5.1-4.2zM981.7 678.8l-5.2 4.3 1.7 2 5.2-4.4zM984.2 681.7l-5.2 4.3 3.2 4 5.3-4.4zM995.8 695.3l-5.4 4.6 1.6 1.9 5.5-4.5zM962.7 666.3l-5 3.9.8 1 5-3.9zM967.6 672.2l-5.1 4.1.8 1 5.1-4.1zM970 675.2l-5.1 4.1 2.4 3 5.2-4.2zM978.2 685.1l-5.3 4.2.8 1 5.3-4.3zM982.2 690l-5.3 4.3 2.4 3 5.4-4.3zM994.5 704.8l-5.6 4.5.8 1 5.6-4.5zM956.9 669.2l-4.9 3.9.7 1 5-3.9zM958.5 671.2l-5 3.9.8 1 5-3.9zM966.5 681.3l-5.2 4 2.4 3 5.2-4zM976.1 693.3l-5.4 4.2.8 1 5.4-4.2zM977.7 695.3l-5.4 4.2.7 1 5.5-4.2zM980.9 699.3l-5.5 4.2.8 1.1 5.5-4.3zM988.1 708.3l-5.7 4.4.8 1 5.7-4.4zM946.5 666l-4.9 3.7 2.3 3 4.9-3.7zM952 673.1l-5.1 3.8.8 1 5-3.8zM953.5 675.1l-5.1 3.8.8 1 5.1-3.8zM939.3 666.6l-4.9 3.5 2.9 4.2 5-3.6zM947.7 677.9l-5.1 3.7.7 1 5.1-3.7zM968.3 705.7l-5.7 4 .8 1 5.6-4zM970.6 708.7l-5.7 4.1.7 1.1 5.7-4.1zM960.4 706.6l-5.6 3.9.7 1 5.7-3.9zM965.6 713.9l-5.7 3.9.7 1.1 5.8-4zM955.5 711.5l-5.7 3.8.7 1.1 5.7-3.8zM957.7 714.7l-5.8 3.8.7 1.1 5.8-3.9zM897.9 679.5l-5.1 2.8.6 1.2 5.1-2.9zM897.7 691.3l-5.4 2.9.6 1.1 5.4-2.8zM882.3 687.7l-5.3 2.6.6 1.1 5.3-2.5zM884.6 692.3l-5.3 2.6.5 1.2 5.4-2.6zM858.3 706.7l-5.6 2.2.5 1.1 5.6-2.1zM852.3 707.7l-5.7 2 .5 1.2 5.6-2zM856.7 719.6l-5.8 2.1.4 1.2 5.9-2.1zM846.6 709.7l-5.6 1.9.4 1.2 5.7-1.9zM848.3 714.5l-5.7 2 .8 2.4 5.8-2zM829.9 716.4l-5.7 1.7 1.7 6.1 5.8-1.7zM821.4 708.2l-5.6 1.5.3 1.2 5.7-1.5zM822.4 711.9l-5.6 1.5.9 3.7 5.8-1.5zM825.2 721.7l-5.9 1.6 1.3 5 6-1.6zM815.5 708.5l-5.7 1.3.3 1.3 5.7-1.4zM820.9 729.5l-6 1.5.3 1.2 6-1.5zM810.1 711.1l-5.6 1.3.8 3.7 5.7-1.3zM815.2 732.2l-6 1.4.5 2.5 6.1-1.4zM816.1 735.9l-6.1 1.4.8 3.8 6.2-1.4zM803.9 709.9l-5.6 1.2.7 3.7 5.7-1.2zM805.3 716.1l-5.8 1.2.5 2.6 5.9-1.3zM808.9 732.4l-6 1.2 1.7 8.8 6.2-1.3zM811.7 744.8l-6.3 1.3.3 1.3 6.2-1.3zM812.8 749.8l-6.4 1.3.3 1.3 6.4-1.3zM799.5 717.3l-5.7 1.2.9 5 5.9-1.1zM800.8 723.6l-5.9 1.1.3 1.3 5.9-1.1zM801.8 728.6l-5.9 1.2.4 2.5 6-1.2zM802.6 732.4l-6 1.1.4 2.6 6.1-1.2zM803.4 736.1l-6.2 1.2.7 3.8 6.2-1.2zM807.4 756.1l-6.4 1.3.2 1.2 6.5-1.2zM794.5 722.2l-5.9 1.1.6 3.7 6-1zM795.9 729.8l-6 1 1 6.3 6.1-1zM797.7 739.8l-6.2 1.1.9 5 6.2-1.1zM800.5 754.9l-6.4 1.1 1.5 8.8 6.5-1.1zM788 719.5l-5.9.9.6 3.8 5.9-.9zM790.9 737.1l-6.1 1 .2 1.2 6.1-.9zM794.1 756l-6.5 1 .6 3.8 6.5-1zM795.3 763.6l-6.5 1 .1 1.3 6.7-1.1zM788.9 765.9l-6.6.9.2 1.2 6.6-.9zM782.5 768l-6.7.9.4 3.8 6.8-.9zM770.3 720.6l-5.8.7.1 1.2 5.9-.6zM771.9 734.6l-6.1.6.1 1.3 6.1-.6zM776.1 771.4l-6.7.7.1 1.3 6.7-.7zM765.3 730.2l-6 .5.5 6.3 6.1-.5zM769.7 775.9l-6.8.6.1 1.3 6.9-.6zM759.4 732l-6 .4.1 1.2 6-.4zM759.8 737l-6.1.5.1 1.2 6.1-.4zM763.3 781.6l-6.9.5.1 1.2 6.9-.5zM764.6 798.1l-7.1.5.1 2.5 7.2-.5zM765.4 807l-7.4.5.3 5.1 7.5-.5zM766.5 821l-7.6.5 0 1.2 7.7-.5zM753.8 738.7l-6.2.4.3 6.3 6.3-.3zM756.7 785.9l-7 .3.1 1.3 7-.4zM757.2 794.8l-7.1.3.1 1.3 7.1-.4zM758 807.5l-7.3.4.1 3.8 7.4-.4zM758.8 820.2l-7.6.4.1 1.3 7.6-.4zM748 748l-6.3.2.1 1.3 6.3-.2zM749.8 787.5l-7 .2 0 1.3 7-.2zM750.1 795.1l-7.1.3 0 2.5 7.2-.2zM750.3 800.2l-7.2.3.1 2.5 7.2-.2zM750.6 806.6l-7.3.3 0 1.2 7.4-.2zM751.1 818.1l-7.5.2 0 1.3 7.6-.3zM751.2 820.6l-7.6.3.1 1.2 7.6-.2zM751.5 828.2l-7.7.3.1 2.5 7.8-.2zM741.8 750.8l-6.4.1.1 3.8 6.4-.1zM742.3 769.9l-6.7.1 0 1.3 6.7-.1zM743.2 803l-7.3.2 0 3.8 7.4-.1zM743.5 817l-7.5.2 0 1.2 7.6-.1zM743.6 820.9l-7.5.1 0 2.5 7.6-.1zM743.9 829.8l-7.8.1.1 5.1 7.8-.1zM735.4 750.9l-6.3 0 0 2.5 6.4 0zM735.8 789.1l-7.1 0 0 2.6 7.1 0zM735.8 794.2l-7.1 0 0 2.6 7.1 0zM735.9 801.9l-7.3 0 0 1.3 7.3 0zM735.9 804.4l-7.3 0 0 2.6 7.3 0zM736 817.2l-7.5 0 0 1.2 7.5 0zM736.1 821l-7.6 0 0 1.3 7.6 0zM736.1 826.1l-7.7 0-.1 10.2 7.9 0zM736.2 840.1l-7.9 0 0 3.8 8 0zM728.8 782.8l-6.9-.1 0 1.2 6.9.1zM728.6 805.7l-7.3-.1 0 1.3 7.3.1zM728.5 814.6l-7.4-.1-.1 1.3 7.5.1zM728.5 818.4l-7.5-.1-.1 1.3 7.6.1zM728.4 824.8l-7.6-.1-.1 2.5 7.7.2zM728.4 831.2l-7.8-.2-.2 7.7 7.9.1zM728.3 840.1l-7.9-.2-.3 11.5 8.1.1zM728.2 854.1l-8.2-.2 0 2.6 8.2.1zM720.8 823.4l-7.6-.3-.1 2.6 7.7.3zM720.6 831l-7.7-.2-.2 3.8 7.8.3zM720.4 838.7l-7.9-.3-.1 2.5 8 .3zM720 856.5l-8.2-.3-.1 1.3 8.2.3zM714.6 790.1l-7-.4-.1 1.3 7.1.3zM714.3 797.7l-7.2-.4 0 1.3 7.2.4zM711.8 856.2l-8.2-.4-.1 1.2 8.2.5zM706.8 802.4l-7.2-.5-.3 3.8 7.3.5zM703.6 855.8l-8.2-.6-.6 7.6 8.3.6zM698.9 810.8l-7.4-.6-.5 5 7.5.7zM697.8 824.8l-7.7-.7-.1 1.3 7.7.6zM695.2 857.7l-8.3-.7-.2 2.6 8.3.7zM694.2 870.4l-8.5-.7-.2 2.5 8.5.7zM693.8 875.5l-8.6-.8-.1 1.3 8.6.7zM689.9 826.6l-7.7-.8-.3 2.6 7.7.8zM686.5 862.1l-8.3-.9-.2 1.3 8.3.9zM686.2 864.6l-8.3-.8-.3 2.5 8.4.9zM684.8 879.8l-8.7-.9-.1 1.3 8.6.9zM681.9 828.4l-7.7-1-.3 2.6 7.7.9zM676.1 878.9l-8.5-1-.2 1.2 8.6 1.1zM673.9 830l-7.8-1.1-.1 1.2 7.7 1.1zM673.5 832.5l-7.7-1.1-.4 2.5 7.8 1.1zM671.9 845.1l-8-1.1-.2 1.2 8 1.2zM668.4 871.6l-8.5-1.2-.3 2.5 8.5 1.2zM665.6 832.7l-7.8-1.3-.6 3.8 7.8 1.2zM664.6 838.9l-7.8-1.2-.3 1.3 8 1.2zM664.3 841.5l-8-1.3-.2 1.3 8 1.2zM663.5 846.5l-8-1.3-.4 2.5 8 1.3zM662.8 851.5l-8.2-1.2-.6 3.7 8.2 1.3zM662 856.6l-8.2-1.3-.2 1.2 8.2 1.3zM462 751.9l-6.4-4.8-.7 1 6.3 4.8zM456.4 746.1l-6.2-4.8-.8 1 6.2 4.8zM454.9 748.1l-6.3-4.8-1.6 2 6.3 4.9zM432.1 738.1l-6.1-5.2-1.7 1.9 6.1 5.2zM426 732.9l-6.1-5.4-1.7 1.9 6.1 5.4zM467 590.4l-3.5-4.6-4.2 3.1 3.6 4.7zM463.5 585.8l-3.5-4.7-1 .8 3.4 4.7zM188 623.5l-4.1-9.5-4.8 2 4.2 9.5zM185.1 613.5l-4-9.5-1.2.5 4 9.5zM181.5 615l-4-9.6-2.4.9 4 9.7zM137.6 633.1l-4.3-10.3-1.2.5 4.3 10.3zM132.9 635.1l-4.4-10.4-1.2.4 4.4 10.5zM124.9 626.1l-4.2-10.6-2.4.9 4.2 10.6zM120.1 628l-4.2-10.7-3.6 1.4 4.2 10.7zM123.1 614.6l-4-10.6-1.2.4 4 10.7zM111.1 619.1l-4.1-10.8-1.2.4 4.1 10.9zM108.7 620l-4.1-10.9-1.2.5 4.1 10.9zM115.5 605.3l-3.9-10.7-3.6 1.2 3.8 10.8zM181.6 560.6l-3-9.6-2.5.7 3.1 9.6zM177.4 551.3l-2.9-9.6-5 1.4 2.9 9.7zM185.7 538.6l-2.7-9.5-8.7 2.2 2.7 9.7zM164.5 544.4l-2.7-9.9-1.3.4 2.8 9.9zM158.3 546.1l-2.8-10-2.5.7 2.9 10zM174.3 531.3l-2.6-9.7-1.2.3 2.5 9.7zM149.3 537.8l-2.6-10.2-2.6.6 2.7 10.2zM120.6 545.2l-2.8-10.7-2.5.6 2.8 10.7zM117.8 534.5l-2.6-10.7-2.5.6 2.6 10.7z"/>
<path fill="#0E9016" stroke="#0E9016" stroke-width="0.6" d="M943.7 291.1l1.6 3.7 1.2-.5-1.6-3.8zM947.2 289.5l1.7 3.7 1.2-.5-1.7-3.8zM903 343.2l.7 3 1.3-.3-.7-3.1zM832.2 372.3l.3 1.8 6.4-.9-.3-1.8zM831.2 374.2l.2 1.8 1.3-.2-.2-1.7zM835.1 373.7l.2 1.8 1.3-.1-.3-1.8zM835.3 375.5l.2 1.8 1.2-.1-.1-1.8zM831.6 377.7l.1 1.7 2.6-.2-.1-1.7zM920.1 385.6l0 3.3 1.3 0 0-3.3zM920.1 388.9l0 3.3 2.5 0 .1-3.3zM997.3 403.4l-.3 4.6 2.5.3.4-4.7zM996.5 412.7l-.5 4.6 1.3.1.5-4.6zM1004.3 413.4l-.6 4.7 2.6.3.5-4.8zM1009.4 413.9l-.5 4.8 1.3.2.5-4.9zM1012 414.1l-.5 4.9 1.2.2.6-4.9zM996 417.3l-.6 4.5 1.3.2.6-4.6zM1005 418.3l-.6 4.7 2.6.4.6-4.8zM1008.9 418.7l-.6 4.8 1.2.2.7-4.8zM1011.5 419l-.7 4.9 1.3.1.6-4.8zM998 422.2l-.7 4.6 1.3.2.7-4.7zM1003.1 422.9l-.7 4.7 1.3.2.7-4.8zM1008.3 423.5l-.7 4.8 3.8.6.7-4.9zM999.9 427.2l-.8 4.6 2.6.5.7-4.7zM1006.3 428.1l-.8 4.8 6.4 1.1.8-4.9zM1008.1 433.3l-.9 4.8 2.5.5.9-4.8zM988.8 657.1l-4.8 4.4 1.7 1.9 4.8-4.5zM1000.2 669.2l-5 4.6.9.9 5-4.6zM1002 671l-5 4.6 1.7 1.9 5.1-4.6zM1005.5 674.7l-5.1 4.7 1.8 1.9 5.1-4.7zM1011.7 681.2l-5.2 4.8.9 1 5.2-4.8zM992.6 670.9l-5 4.5.9 1 5-4.5zM999.6 678.5l-5.2 4.6.9.9 5.1-4.6zM1002.2 681.3l-5.2 4.6.8 1 5.2-4.7zM1006.5 686l-5.3 4.7.9 1 5.3-4.7zM990.2 678.3l-5.2 4.4 2.5 2.9 5.2-4.5zM979.2 675.9l-5.1 4.2 2.4 3 5.2-4.3zM968.4 673.2l-5.1 4.1 1.6 2 5.1-4.1zM972.5 678.1l-5.2 4.2 2.4 3 5.2-4.2zM976.5 683.1l-5.2 4.2 1.6 2 5.3-4.2zM979 686l-5.3 4.3.8 1 5.3-4.3zM981.4 689l-5.3 4.3.8 1 5.3-4.3zM988 696.9l-5.5 4.4.8 1 5.5-4.4zM993.7 703.8l-5.6 4.5.8 1 5.6-4.5zM957.7 670.2l-5 3.9.8 1 5-3.9zM968.9 684.3l-5.2 4 .8 1 5.2-4zM972.1 688.3l-5.3 4.1 2.3 3 5.4-4.1zM975.3 692.3l-5.4 4.1.8 1.1 5.4-4.2zM981.7 700.3l-5.5 4.3.7 1 5.6-4.3zM987.3 707.3l-5.7 4.4.8 1 5.7-4.4zM952.7 674.1l-5 3.8.7 1 5.1-3.8zM969 706.7l-5.6 4 1.5 2.1 5.7-4.1zM961.2 707.6l-5.7 3.9 2.2 3.2 5.7-4zM964.9 712.8l-5.8 4 .8 1 5.7-3.9zM898.5 680.6l-5.1 2.9 1.2 2.2 5.2-2.8zM901.7 686.2l-5.3 2.9.6 1.1 5.3-2.9zM892.1 681.2l-5.1 2.7.6 1.2 5.2-2.8zM887 683.9l-5.2 2.7.5 1.1 5.3-2.6zM892.3 694.2l-5.4 2.7.6 1.1 5.4-2.7zM882.9 688.9l-5.3 2.5 1.7 3.5 5.3-2.6zM853.6 711.2l-5.7 2.1 1.3 3.6 5.7-2.1zM856.3 718.4l-5.8 2.1.4 1.2 5.8-2.1zM847.1 710.9l-5.7 1.9 1.2 3.7 5.7-2zM849.2 716.9l-5.8 2 1.6 4.8 5.9-2zM821.8 709.4l-5.7 1.5.7 2.5 5.6-1.5zM823.5 715.6l-5.8 1.5 1.6 6.2 5.9-1.6zM815.8 709.7l-5.7 1.4.3 1.2 5.7-1.4zM817.1 714.6l-5.8 1.5.3 1.2 5.8-1.4zM820 725.8l-6 1.4.9 3.8 6-1.5zM811 714.8l-5.7 1.3.6 2.5 5.7-1.3zM814.9 731l-6 1.4.3 1.2 6-1.4zM805.9 718.6l-5.9 1.3.3 1.2 5.8-1.2zM811.9 746.1l-6.2 1.3.7 3.7 6.4-1.3zM802.3 731.1l-6 1.2.3 1.2 6-1.1zM804.1 739.9l-6.2 1.2 1 5 6.2-1.2zM806.9 753.6l-6.4 1.3.5 2.5 6.4-1.3zM798.6 744.8l-6.2 1.1 1 6.3 6.4-1.1zM800.3 753.6l-6.4 1.1.2 1.3 6.4-1.1zM789.4 728.3l-5.9.9.3 2.6 6.1-1zM790.1 732.1l-6.1.9.8 5.1 6.1-1zM791.1 738.4l-6.1.9.2 1.3 6.1-1zM793.9 754.7l-6.5 1.1.2 1.2 6.5-1zM794.7 759.8l-6.5 1 .2 1.3 6.5-1.1zM795.1 762.3l-6.5 1 .2 1.3 6.5-1zM781.9 719.1l-5.8.8.2 1.3 5.8-.8zM787.8 758.3l-6.5.9.3 2.5 6.6-.9zM788.6 763.3l-6.6.9.3 2.6 6.6-.9zM776.1 719.9l-5.8.7.2 1.3 5.8-.7zM776.8 725l-5.9.7.1 1.3 6-.7zM778.1 735.1l-6.1.8.2 1.3 6.1-.8zM782.3 766.8l-6.6.8.1 1.3 6.7-.9zM770.5 721.9l-5.9.6.1 1.3 5.9-.6zM771.2 728.3l-6 .6.1 1.3 6-.7zM772 735.9l-6.1.6.2 1.3 6.1-.6zM775.8 768.9l-6.7.7.3 2.5 6.7-.7zM765.9 736.5l-6.1.5.1 1.3 6.2-.5zM769.3 770.8l-6.8.6.1 1.3 6.8-.6zM759.9 738.3l-6.1.4.1 1.3 6.1-.4zM764.8 800.6l-7.2.5.4 6.4 7.4-.5zM754.2 745.1l-6.3.3.1 1.3 6.3-.3zM756.6 784.6l-6.9.4 0 1.2 7-.3zM757.3 796l-7.1.4.2 6.4 7.3-.4zM757.9 806.2l-7.3.4.1 1.3 7.3-.4zM758.9 821.5l-7.6.4.1 2.5 7.6-.4zM748.9 768.4l-6.6.2.1 6.4 6.8-.2zM749.7 786.2l-7 .3.1 1.2 7-.2zM750.2 797.7l-7.2.2.1 2.6 7.2-.3zM750.4 802.8l-7.2.2.1 3.9 7.3-.3zM751.3 821.9l-7.6.2 0 2.6 7.7-.3zM742.5 776.3l-6.8.1 0 1.3 6.8-.1zM742.8 787.7l-7 .2 0 1.2 7-.1zM743.6 818.3l-7.6.1.1 2.6 7.5-.1zM735.7 780.2l-6.9 0 0 1.3 6.9 0zM735.8 787.9l-7 0-.1 1.2 7.1 0zM735.8 791.7l-7.1 0 0 2.5 7.1 0zM735.9 803.2l-7.3 0 0 1.2 7.3 0zM736 818.4l-7.5 0 0 2.6 7.6 0zM728.6 804.4l-7.3-.1 0 1.3 7.3.1zM728.4 827.4l-7.7-.2-.1 3.8 7.8.2zM721.9 783.9l-7-.2 0 1.3 6.9.2zM720.9 819.6l-7.5-.3-.2 3.8 7.6.3zM720.8 826l-7.7-.3-.2 5.1 7.7.2zM720.5 834.9l-7.8-.3-.2 3.8 7.9.3zM720.4 841.2l-8-.3-.4 8.9 8.1.3zM720.1 851.4l-8.1-.3-.2 5.1 8.2.3zM714.3 799l-7.2-.4-.1 1.3 7.2.3zM712.9 830.8l-7.8-.4-.3 5.1 7.8.4zM712.5 838.4l-7.9-.4 0 1.3 7.9.4zM711.9 853.7l-8.2-.5-.1 2.6 8.2.4zM706.6 806.2l-7.3-.5-.2 2.6 7.3.5zM705.2 829.1l-7.7-.5-.1 1.2 7.7.6zM703.7 853.2l-8.1-.5-.2 2.5 8.2.6zM697.7 826l-7.7-.6-.1 1.2 7.7.7zM697.5 828.6l-7.7-.7-.2 1.3 7.8.6zM695.6 852.7l-8.2-.7-.5 5 8.3.7zM695 860.3l-8.3-.7-.2 2.5 8.3.7zM694 872.9l-8.5-.7-.3 2.5 8.6.8zM689.6 829.2l-7.7-.8-.4 3.8 7.8.8zM688.7 839.3l-7.9-.8-.2 1.2 7.9.9zM687.3 853.2l-8.1-.8-.2 1.2 8.2.9zM686.9 857l-8.2-.8-.5 5 8.3.9zM684.9 878.5l-8.6-.9-.2 1.3 8.7.9zM681.6 830.9l-7.7-.9-.4 2.5 7.8.9zM678.2 861.2l-8.3-1-.2 1.3 8.3 1zM677.6 866.3l-8.4-1-.1 1.2 8.3 1zM676.3 877.6l-8.6-1-.1 1.3 8.5 1zM673.7 831.2l-7.7-1.1-.2 1.3 7.7 1.1zM673.2 835l-7.8-1.1-.4 2.5 7.9 1.1zM672 843.8l-7.9-1.1-.2 1.3 8 1.1zM671.7 846.4l-8-1.2-.2 1.3 8 1.1zM670.2 857.7l-8.2-1.1-.6 3.7 8.3 1.2zM669.2 865.3l-8.3-1.2-.4 2.5 8.4 1.2zM665 836.4l-7.8-1.2-.4 2.5 7.8 1.2zM664.5 840.2l-8-1.2-.2 1.2 8 1.3zM663.1 849l-8-1.3-.5 2.6 8.2 1.2zM662.2 855.3l-8.2-1.3-.2 1.3 8.2 1.3zM661.4 860.3l-8.2-1.3-.2 1.3 8.2 1.3zM661.1 862.8l-8.3-1.3-.3 1.3 8.4 1.3zM455.6 747.1l-6.2-4.8-.8 1 6.3 4.8zM183.3 625.5l-4.2-9.5-1.2.5 4.2 9.5zM183.9 614l-4-9.5-2.4.9 4 9.6zM136.4 633.6l-4.3-10.3-3.6 1.4 4.4 10.4zM122.5 627l-4.2-10.6-2.4.9 4.2 10.7zM121.9 615.1l-4-10.7-1.2.5 4 10.6zM115.9 617.3l-4.1-10.7-4.8 1.7 4.1 10.8zM109.9 619.6l-4.1-10.9-1.2.4 4.1 10.9zM165.8 544.1l-2.8-9.9-1.2.3 2.7 9.9zM173 531.6l-2.5-9.7-1.3.3 2.6 9.8zM166.8 533.2l-2.6-9.8-2.5.6 2.6 9.9zM161.8 534.5l-2.6-9.9-6.3 1.5 2.6 10zM153 536.8l-2.6-10.1-3.7.9 2.6 10.2z"/>
<path fill="#0C7A12" stroke="#0C7A12" stroke-width="0.6" d="M944.9 290.5l1.6 3.8 2.4-1.1-1.7-3.7zM832.5 374.1l.2 1.7 2.6-.3-.2-1.8zM831.4 376l.2 1.7 1.3-.1-.2-1.8zM834 375.7l.2 1.8 1.3-.2-.2-1.8zM997.8 412.8l-.5 4.6 1.3.1.5-4.6zM1000.4 413l-.5 4.7 3.8.4.6-4.7zM1010.7 414l-.5 4.9 1.3.1.5-4.9zM1003.7 418.1l-.6 4.8 1.3.1.6-4.7zM1010.2 418.9l-.7 4.8 1.3.2.7-4.9zM999.3 422.3l-.7 4.7 3.8.6.7-4.7zM1001.1 670.1l-5 4.6.9.9 5-4.6zM1003.8 672.9l-5.1 4.6 1.7 1.9 5.1-4.7zM1007.3 676.6l-5.1 4.7.8.9 5.2-4.7zM1010.8 680.3l-5.2 4.8.9.9 5.2-4.8zM993.5 671.9l-5 4.5 1.7 1.9 5-4.5zM997 675.6l-5.1 4.6 2.5 2.9 5.2-4.6zM1003 682.2l-5.2 4.7.9 1 5.2-4.7zM1005.6 685.1l-5.2 4.7.8.9 5.3-4.7zM974.9 681.1l-5.2 4.2 1.6 2 5.2-4.2zM979.8 687l-5.3 4.3 1.6 2 5.3-4.3zM988.8 697.9l-5.5 4.4.8 1 5.5-4.4zM992.8 702.8l-5.5 4.5.8 1 5.6-4.5zM969.7 685.3l-5.2 4 2.3 3.1 5.3-4.1zM974.5 691.3l-5.4 4.1.8 1 5.4-4.1zM985.7 705.3l-5.6 4.3 1.5 2.1 5.7-4.4zM963.4 710.7l-5.7 4 1.4 2.1 5.8-4zM899.8 682.9l-5.2 2.8 1.8 3.4 5.3-2.9zM892.8 682.3l-5.2 2.8 1.2 2.3 5.2-2.8zM897 690.2l-5.3 2.8.6 1.2 5.4-2.9zM887.6 685.1l-5.3 2.6.6 1.2 5.3-2.7zM891.7 693l-5.4 2.7.6 1.2 5.4-2.7zM852.7 708.9l-5.6 2 .8 2.4 5.7-2.1zM854.9 714.8l-5.7 2.1 1.3 3.6 5.8-2.1zM816.1 710.9l-5.7 1.4.9 3.8 5.8-1.5zM817.4 715.9l-5.8 1.4 2.4 9.9 6-1.4zM811.6 717.3l-5.7 1.3.2 1.3 5.8-1.4zM814 727.2l-5.9 1.4.8 3.8 6-1.4zM806.1 719.9l-5.8 1.2 2.6 12.5 6-1.2zM805.1 744.9l-6.2 1.2.2 1.3 6.3-1.3zM806.7 752.4l-6.4 1.2.2 1.3 6.4-1.3zM799.8 751.1l-6.4 1.1.5 2.5 6.4-1.1zM788.6 723.3l-5.9.9.8 5 5.9-.9zM789.9 730.8l-6.1 1 .2 1.2 6.1-.9zM793.2 751l-6.3 1 .5 3.8 6.5-1.1zM794.9 761l-6.5 1.1.2 1.2 6.5-1zM782.3 721.7l-5.8.8.5 3.8 5.9-.9zM783.3 728l-6 .8.3 2.5 6-.8zM784 733l-6 .9.5 3.8 6.1-.9zM788.2 760.8l-6.6.9.4 2.5 6.6-.9zM776.6 723.7l-5.9.8.2 1.2 5.9-.7zM777 726.3l-6 .7.6 5.1 6-.8zM778 733.9l-6.1.7.1 1.3 6.1-.8zM778.3 736.4l-6.1.8.1 1.2 6.2-.7zM782.1 765.5l-6.6.8.2 1.3 6.6-.8zM770.6 723.2l-5.9.6.5 5.1 6-.6zM771.3 729.5l-6 .7.5 5 6.1-.6zM769.4 772.1l-6.8.6.1 1.2 6.8-.5zM769.6 774.6l-6.8.6.1 1.3 6.8-.6zM763.1 779l-6.8.5.1 2.6 6.9-.5zM755.7 770.6l-6.7.3.1 1.3 6.7-.3zM756.5 783.3l-6.9.4.1 1.3 6.9-.4zM757.7 802.4l-7.3.4.2 3.8 7.3-.4zM748.1 749.3l-6.3.2 0 1.3 6.3-.3zM748.9 767.1l-6.7.3.1 1.2 6.6-.2zM749.7 785l-7 .2 0 1.3 7-.3zM742.7 786.5l-6.9.1 0 1.3 7-.2zM735.7 781.5l-6.9 0 0 1.3 6.9 0zM728.8 784l-6.9-.1-.1 1.3 7 .1zM721.8 785.2l-6.9-.2-.1 1.2 7 .3zM721 818.3l-7.6-.2 0 1.2 7.5.3zM720.1 850.1l-8.1-.3 0 1.3 8.1.3zM712.9 829.5l-7.7-.4-.1 1.3 7.8.4zM712.6 835.9l-7.8-.4-.2 2.5 7.9.4zM711.9 852.4l-8.1-.4-.1 1.2 8.2.5zM706.4 808.8l-7.3-.5-.1 1.2 7.4.5zM705.6 822.7l-7.6-.5-.2 2.6 7.6.5zM705.3 826.6l-7.6-.6-.2 2.6 7.7.5zM705.1 830.4l-7.7-.6-.4 5.1 7.8.6zM697.6 827.3l-7.7-.7-.1 1.3 7.7.7zM697.4 829.8l-7.8-.6-.5 5 7.9.7zM696.6 840l-7.9-.7-.3 2.5 8 .7zM696.2 845.1l-8-.7-.8 7.6 8.2.7zM689.3 833l-7.8-.8-.7 6.3 7.9.8zM688.5 840.6l-7.9-.9-.1 1.3 7.9.8zM687.9 846.9l-8-.8-.7 6.3 8.1.8zM687.2 854.5l-8.2-.9-.3 2.6 8.2.8zM686 867.2l-8.4-.9-.2 1.2 8.5.9zM681.3 833.4l-7.8-.9-.8 6.3 7.9.9zM679.8 847.3l-8.1-.9-.2 1.2 8.1 1zM678.6 857.4l-8.2-1-.5 3.8 8.3 1zM678 862.5l-8.3-1-.5 3.8 8.4 1zM677.4 867.5l-8.3-1-.5 3.8 8.4 1zM672.9 837.5l-7.9-1.1-.9 6.3 7.9 1.1zM671.5 847.6l-8-1.1-.2 1.3 8.1 1.1zM670.4 856.4l-8.2-1.1-.2 1.3 8.2 1.1zM669.7 861.5l-8.3-1.2-.2 1.3 8.4 1.1zM661.2 861.6l-8.2-1.3-.2 1.2 8.3 1.3zM120.7 615.5l-4-10.6-4.9 1.7 4.1 10.7zM177 541l-2.7-9.7-1.3.3 2.7 9.7zM167 543.7l-2.7-9.8-1.3.3 2.8 9.9zM171.8 532l-2.6-9.8-5 1.2 2.6 9.8zM164.3 533.9l-2.6-9.9-2.5.6 2.6 9.9zM155.5 536.1l-2.6-10-2.5.6 2.6 10.1z"/>
<path fill="#0A6410" stroke="#0A6410" stroke-width="0.6" d="M832.7 375.8l.2 1.8 1.3-.1-.2-1.8zM999.1 412.9l-.5 4.6 1.3.2.5-4.7zM997.3 417.4l-.6 4.6 2.6.3.6-4.6zM1001.2 417.8l-.6 4.7 2.5.4.6-4.8zM1008.2 677.5l-5.2 4.7 2.6 2.9 5.2-4.8zM995.2 673.8l-5 4.5 1.7 1.9 5.1-4.6zM1003.9 683.2l-5.2 4.7 1.7 1.9 5.2-4.7zM989.6 698.9l-5.5 4.4.8 1 5.5-4.4zM992 701.8l-5.5 4.5.8 1 5.5-4.5zM982.5 701.3l-5.6 4.3.8 1 5.6-4.3zM984.9 704.3l-5.6 4.3.8 1 5.6-4.3zM894 684.6l-5.2 2.8 2.9 5.6 5.3-2.8zM888.2 686.2l-5.3 2.7.6 1.1 5.3-2.6zM891.1 691.9l-5.3 2.7.5 1.1 5.4-2.7zM813.4 724.8l-5.9 1.3.6 2.5 5.9-1.4zM805.4 746.1l-6.3 1.3.5 2.5 6.3-1.3zM806.2 749.9l-6.4 1.2.5 2.5 6.4-1.2zM791.3 739.6l-6.1 1 .1 1.3 6.2-1zM793 749.7l-6.3 1 .2 1.3 6.3-1zM782.1 720.4l-5.8.8.2 1.3 5.8-.8zM782.9 725.4l-5.9.9.3 2.5 6-.8zM783.6 730.5l-6 .8.4 2.6 6-.9zM784.6 736.8l-6.1.9.1 1.2 6.2-.8zM787.6 757l-6.5.9.2 1.3 6.5-.9zM776.3 721.2l-5.8.7.2 2.6 5.9-.8zM777.6 731.3l-6 .8.3 2.5 6.1-.7zM782 764.2l-6.6.9.1 1.2 6.6-.8zM772.2 737.2l-6.1.6.1 1.3 6.1-.7zM775.7 767.6l-6.7.7.1 1.3 6.7-.7zM769.1 769.6l-6.7.5.1 1.3 6.8-.6zM769.5 773.4l-6.8.5.1 1.3 6.8-.6zM760 739.6l-6.1.4.2 3.8 6.2-.4zM762.4 770.1l-6.7.5.2 2.5 6.7-.4zM754.3 746.4l-6.3.3 0 1.3 6.3-.3zM755.6 768l-6.7.4.1 2.5 6.7-.3zM755.8 771.9l-6.7.3.1 2.6 6.8-.4zM748.1 750.5l-6.3.3.1 3.8 6.4-.2zM748.8 764.6l-6.6.2 0 2.6 6.7-.3zM749.2 774.8l-6.8.2.1 1.3 6.8-.3zM742.5 777.6l-6.8.1 0 1.2 6.8-.1zM735.7 782.8l-6.9 0 0 1.2 6.9 0zM735.8 786.6l-7 0 0 1.3 7 0zM728.8 785.3l-7-.1 0 1.3 7 .1zM728.6 803.2l-7.2-.2-.1 1.3 7.3.1zM721.8 786.5l-7-.3-.1 2.6 7 .2zM721.4 800.5l-7.2-.3-.1 1.3 7.3.3zM721.2 810.7l-7.4-.3-.2 2.6 7.5.2zM721 817l-7.5-.2-.1 1.3 7.6.2zM714.2 800.2l-7.2-.3-.1 1.2 7.2.4zM713 828.2l-7.7-.4-.1 1.3 7.7.4zM712.5 839.7l-7.9-.4-.1 1.2 7.9.4zM705.7 820.2l-7.5-.5-.2 2.5 7.6.5zM705.4 825.3l-7.6-.5-.1 1.2 7.6.6zM704.8 835.5l-7.8-.6-.3 3.8 7.9.6zM703.8 852l-8.1-.6-.1 1.3 8.1.5zM697 834.9l-7.9-.7-.4 5.1 7.9.7zM696.4 842.5l-8-.7-.2 2.6 8 .7zM688.4 841.8l-7.9-.8-.2 1.3 8 .8zM688 845.6l-8-.8-.1 1.3 8 .8zM685.9 868.4l-8.5-.9-.1 1.3 8.4.9zM685.5 872.2l-8.5-.9-.1 1.3 8.5.9zM685.1 876l-8.5-.9-.3 2.5 8.6.9zM680.6 839.7l-7.9-.9-.7 5 8 1zM679.9 846.1l-8-1-.2 1.3 8.1.9zM679.6 848.6l-8.1-1-1.1 8.8 8.2 1zM677 871.3l-8.4-1-.4 2.5 8.5 1.1zM676.4 876.4l-8.5-1.1-.2 1.3 8.6 1zM671.4 848.9l-8.1-1.1-1.1 7.5 8.2 1.1zM669.6 862.7l-8.4-1.1-.3 2.5 8.3 1.2zM175.7 541.3l-2.7-9.7-1.2.4 2.7 9.7zM169.5 543.1l-2.7-9.9-2.5.7 2.7 9.8z"/>
<path fill="#467A0A" stroke="#467A0A" stroke-width="0.6" d="M999.9 417.7l-.6 4.6 1.3.2.6-4.7zM990.4 699.9l-5.5 4.4 1.6 2 5.5-4.5zM983.3 702.3l-5.6 4.3 1.6 2 5.6-4.3zM888.8 687.4l-5.3 2.6.5 1.2 5.3-2.7zM890.5 690.8l-5.3 2.7.6 1.1 5.3-2.7zM811.9 718.5l-5.8 1.4 1.4 6.2 5.9-1.3zM805.9 748.6l-6.3 1.3.2 1.2 6.4-1.2zM791.5 740.9l-6.2 1 .2 1.2 6.3-.9zM792.8 748.5l-6.3.9.2 1.3 6.3-1zM784.8 738.1l-6.2.8.2 1.3 6.2-.9zM778.5 737.7l-6.2.7.2 1.3 6.1-.8zM781.1 757.9l-6.4.8.7 6.4 6.6-.9zM774.7 758.7l-6.5.7.2 2.5 6.5-.7zM775.5 766.3l-6.6.7.1 1.3 6.7-.7zM766.1 737.8l-6.2.5.1 1.3 6.2-.5zM769 768.3l-6.7.6.1 1.2 6.7-.5zM760.3 743.4l-6.2.4.1 1.3 6.2-.4zM761.9 763.8l-6.5.4 0 1.3 6.6-.5zM762.2 767.6l-6.6.4.1 2.6 6.7-.5zM763 777.8l-6.8.4.1 1.3 6.8-.5zM755.4 764.2l-6.6.4.1 3.8 6.7-.4zM748.3 754.4l-6.4.2.1 2.5 6.4-.2zM748.7 763.3l-6.6.2.1 1.3 6.6-.2zM749.6 783.7l-6.9.2 0 1.3 7-.2zM735.7 784l-6.9 0 0 1.3 6.9 0zM728.8 786.6l-7-.1 0 1.2 7 .2zM728.7 799.3l-7.2-.1-.1 3.8 7.2.2zM721.5 797.9l-7.2-.2-.1 2.5 7.2.3zM721.4 801.8l-7.3-.3 0 1.3 7.3.2zM721.3 804.3l-7.3-.2-.2 6.3 7.4.3zM721.1 813.2l-7.5-.2-.1 3.8 7.5.2zM714.1 801.5l-7.2-.4-.1 1.3 7.3.4zM714 804.1l-7.3-.4-.3 5.1 7.4.3zM713.4 819.3l-7.6-.4-.4 6.4 7.7.4zM713 827l-7.7-.4 0 1.2 7.7.4zM712.4 840.9l-7.9-.4-.1 1.3 8 .4zM706.4 810l-7.4-.5-.2 2.6 7.4.5zM705.9 817.7l-7.5-.6-.2 2.6 7.5.5zM704.6 839.3l-7.9-.6-.1 1.3 7.9.5zM688.3 843.1l-8-.8-.3 2.5 8 .8zM685.7 869.7l-8.4-.9-.3 2.5 8.5.9zM685.4 873.5l-8.5-.9-.3 2.5 8.5.9zM680 844.8l-8-1-.1 1.3 8 1zM676.7 873.9l-8.5-1.1-.3 2.5 8.5 1.1zM174.5 541.7l-2.7-9.7-1.3.3 2.7 9.7zM172 542.4l-2.7-9.8-2.5.6 2.7 9.9z"/>
<path fill="#AFAF0A" stroke="#AFAF0A" stroke-width="0.6" d="M889.3 688.5l-5.3 2.7.6 1.1 5.3-2.7zM791.8 742.2l-6.3.9.2 1.3 6.3-1zM792.4 745.9l-6.3 1 .4 2.5 6.3-.9zM785 739.3l-6.2.9.2 1.3 6.2-.9zM787.4 755.8l-6.4.9.1 1.2 6.5-.9zM778.6 738.9l-6.1.8.1 1.3 6.2-.8zM772.3 738.4l-6.1.7.1 1.2 6.2-.6zM774.5 757.4l-6.5.7.2 1.3 6.5-.7zM774.9 761.2l-6.5.7.1 1.3 6.6-.7zM775.4 765.1l-6.6.6.1 1.3 6.6-.7zM766.2 739.1l-6.2.5.2 2.5 6.2-.5zM767.4 751.8l-6.4.5.2 2.6 6.5-.6zM768.2 759.4l-6.6.6.4 5 6.6-.5zM768.9 767l-6.7.6.1 1.3 6.7-.6zM760.4 744.7l-6.2.4.1 1.3 6.2-.4zM761 752.3l-6.3.5.1 2.5 6.4-.4zM761.4 757.4l-6.4.5 0 1.2 6.5-.4zM761.8 762.5l-6.5.5.1 1.2 6.5-.4zM762 765l-6.6.5.2 2.5 6.6-.4zM762.6 772.7l-6.7.4.1 1.3 6.7-.5zM762.9 776.5l-6.8.5.1 1.2 6.8-.4zM754.3 747.7l-6.3.3.1 1.3 6.3-.4zM754.8 755.3l-6.4.3.2 5.1 6.5-.3zM755.3 763l-6.6.3.1 1.3 6.6-.4zM756.4 782.1l-6.9.3.1 1.3 6.9-.4zM748.4 756.9l-6.4.2.1 3.9 6.5-.3zM748.7 762l-6.6.2 0 1.3 6.6-.2zM749.3 776l-6.8.3 0 1.3 6.8-.3zM742.5 778.8l-6.8.1 0 1.3 6.9-.1zM742.6 782.7l-6.9.1.1 3.8 6.9-.1zM735.7 785.3l-6.9 0 0 1.3 7 0zM728.8 787.9l-7-.2-.1 1.3 7 .1zM728.7 798.1l-7.2-.2 0 1.3 7.2.1zM721.7 789l-7-.2-.4 8.9 7.2.2zM721.4 803l-7.3-.2-.1 1.3 7.3.2zM714.1 802.8l-7.3-.4-.1 1.3 7.3.4zM713.8 809.1l-7.4-.3 0 1.2 7.4.4zM713.4 818.1l-7.5-.4-.1 1.2 7.6.4zM713.1 825.7l-7.7-.4-.1 1.3 7.7.4zM712.4 842.2l-8-.4-.6 10.2 8.1.4zM706.2 812.6l-7.4-.5-.1 1.2 7.4.6zM706 816.4l-7.5-.5-.1 1.2 7.5.6zM704.5 840.5l-7.9-.5-.1 1.3 7.9.5zM704.2 845.6l-8-.5-.3 3.8 8 .5zM703.9 850.7l-8.1-.6-.1 1.3 8.1.6zM173.2 542l-2.7-9.7-1.2.3 2.7 9.8z"/>
<path fill="#FFD700" stroke="#FFD700" stroke-width="0.6" d="M889.9 689.6l-5.3 2.7.6 1.2 5.3-2.7zM792 743.4l-6.3 1 .4 2.5 6.3-1zM785.2 740.6l-6.2.9.1 1.2 6.2-.8zM786.3 748.2l-6.3.9.6 5 6.5-.9zM787.2 754.5l-6.4.9.2 1.3 6.4-.9zM778.8 740.2l-6.2.8.2 1.2 6.2-.7zM781 756.7l-6.5.7.2 1.3 6.4-.8zM773.8 751.1l-6.4.7.6 6.3 6.5-.7zM775.1 762.5l-6.6.7.3 2.5 6.6-.6zM766.4 741.6l-6.2.5.2 2.6 6.3-.6zM767.7 754.3l-6.5.6.1 1.2 6.5-.5zM767.9 756.9l-6.5.5.2 2.6 6.6-.6zM768.6 764.5l-6.6.5.2 2.6 6.7-.6zM761.2 754.9l-6.4.4.2 2.6 6.4-.5zM761.5 758.7l-6.5.4.3 3.9 6.5-.5zM762.7 773.9l-6.7.5.1 1.3 6.7-.5zM754.4 748.9l-6.3.4 0 1.2 6.4-.3zM754.6 751.5l-6.4.3.2 3.8 6.4-.3zM755.1 760.4l-6.5.3.1 2.6 6.6-.3zM756 774.4l-6.8.4.1 1.2 6.8-.3zM756.2 778.2l-6.8.4.1 3.8 6.9-.3zM748.6 760.7l-6.5.3 0 1.2 6.6-.2zM749.3 777.3l-6.8.3.1 3.8 6.9-.3zM749.5 782.4l-6.9.3.1 1.2 6.9-.2zM742.6 780.1l-6.9.1 0 2.6 6.9-.1zM728.7 789.1l-7-.1-.2 8.9 7.2.2zM713.8 810.4l-7.4-.4-.3 3.9 7.5.3zM713.5 816.8l-7.5-.4-.1 1.3 7.5.4zM706.1 813.9l-7.4-.6-.2 2.6 7.5.5zM704.4 841.8l-7.9-.5-.3 3.8 8 .5zM703.9 849.4l-8-.5-.1 1.2 8.1.6z"/>
<path fill="#FFB400" stroke="#FFB400" stroke-width="0.6" d="M785.3 741.9l-6.2.8.4 2.6 6.2-.9zM785.9 745.7l-6.3.8.4 2.6 6.3-.9zM787.1 753.2l-6.5.9.2 1.3 6.4-.9zM779 741.5l-6.2.7.3 2.6 6.2-.8zM780.1 750.3l-6.3.8.7 6.3 6.5-.7zM772.5 739.7l-6.2.6.8 7.7 6.3-.7zM773.6 749.8l-6.3.7.1 1.3 6.4-.7zM766.7 744.1l-6.3.6.3 3.8 6.4-.5zM767.3 750.5l-6.4.5.1 1.3 6.4-.5zM767.8 755.6l-6.5.5.1 1.3 6.5-.5zM760.5 746l-6.2.4.1 2.5 6.3-.4zM760.9 751l-6.3.5.1 1.3 6.3-.5zM762.8 775.2l-6.7.5 0 1.3 6.8-.5zM754.5 750.2l-6.4.3.1 1.3 6.4-.3zM756.1 775.7l-6.8.3.1 2.6 6.8-.4zM749.5 781.1l-6.9.3 0 1.3 6.9-.3zM713.6 814.2l-7.5-.3-.1 2.5 7.5.4z"/>
<path fill="#FF9600" stroke="#FF9600" stroke-width="0.6" d="M785.7 744.4l-6.2.9.1 1.2 6.3-.8zM779.3 744l-6.2.8.3 2.5 6.2-.8zM779.8 747.8l-6.3.8.3 2.5 6.3-.8zM773.4 747.3l-6.3.7.2 2.5 6.3-.7zM767.1 748l-6.4.5.2 2.5 6.4-.5zM760.7 748.5l-6.3.4.2 2.6 6.3-.5z"/>
<path fill="#FF7D00" stroke="#FF7D00" stroke-width="0.6" d="M779.6 746.5l-6.2.8.1 1.3 6.3-.8z"/>
</g>
<g stroke="#b0b0b0" stroke-width="0.7" stroke-dasharray="2.6 1.1" opacity="0.55" fill="none">
<path d="M159.5 45.5V1046.5"/><path d="M344.5 45.5V1046.5"/><path d="M529.5 45.5V1046.5"/><path d="M714.5 45.5V1046.5"/><path d="M899.5 45.5V1046.5"/><path d="M85.5 161.8H1010.5"/><path d="M85.5 306.4H1010.5"/><path d="M85.5 450.3H1010.5"/><path d="M85.5 593.4H1010.5"/><path d="M85.5 735.8H1010.5"/><path d="M85.5 877.5H1010.5"/><path d="M85.5 1018.4H1010.5"/>
</g>
<path d="M471.6 454.1 477.5 452.9 480.8 451.2 484.9 453.2 489.9 451.6 494.9 450.2 498.3 446.6 500.8 438.2 498.3 434.9 501.6 432.9 504.9 434.9 509.9 432.4 514.9 429.1 519.1 431.6 522.4 438.2 524.9 441.9 531.6 444.9 536.6 447.4 539.9 449.1 544.9 446.9 549.1 447.4 550.7 450.7 549.1 454.1 544.1 456.6 540.7 461.6 540.7 468.2 544.1 474.9 544.9 483.2 543.2 489.9 539.9 498.2 536.6 503.2 534.1 510.0M545.7 479.9 551.6 474.9 556.6 464.9 561.5 459.1 564.5 456.9 566.5 459.1 570.7 458.6 575.7 464.9 582.4 464.1 586.5 462.4 587.4 469.9 589.9 476.5 594.0 476.5M566.9 459.1 566.5 471.5 563.5 483.2 566.5 491.5 569.9 498.2 574.9 503.2 579.9 506.5 584.0 509.0M450.8 519.7 455.8 523.3 461.6 524.6 468.3 521.6 473.0 515.0 476.6 510.8 480.8 515.0 485.8 523.3 489.9 522.5 493.3 515.0 495.8 522.5 498.3 530.0 503.3 528.3 506.6 523.3 511.6 526.6 517.4 530.8 523.2 534.1 524.9 528.3 526.6 522.5 530.7 519.2 534.1 510.0M523.2 534.1 519.6 540.0 519.9 548.3 518.3 553.3 524.1 553.3 529.9 550.8 536.6 549.1 543.2 550.0 548.2 547.5 553.2 546.6 558.2 550.0 561.5 549.1 564.9 555.0 566.5 558.3 573.2 555.0 578.2 551.6 584.9 550.0 591.5 550.8 596.5 549.1 599.9 552.5 600.7 558.3 604.8 564.9 611.5 567.4 616.5 569.9 620.0 574.9M536.6 549.1 539.1 555.0 536.6 561.6 533.2 565.8 531.6 569.9 526.6 573.3 525.2 579.9 528.2 586.6 529.9 593.3 531.9 601.6 533.2 608.2 530.7 616.6 529.4 622.9M487.4 614.9 493.3 614.9 499.9 619.1 504.9 620.7 510.8 616.6 514.9 614.1 521.6 618.2 529.4 622.9 536.6 624.1 543.2 625.7 551.6 623.2 558.2 623.2 564.0 626.6 569.9 625.7 576.5 628.2 584.9 629.1 592.4 629.9 599.9 629.1 608.2 630.7 620.0 631.6M564.0 626.6 561.5 633.2 563.2 641.5 564.9 648.2 559.9 649.9 554.9 645.7 549.9 649.9 544.9 659.9 539.9 666.5 534.9 671.5 529.1 674.0 529.1 680.0M592.4 629.9 594.9 623.2 596.5 614.9 600.7 609.9 606.5 606.6 611.5 601.6 616.5 597.4 620.0 594.9M584.0 509.0 589.0 513.3 594.0 518.3 598.2 523.3 603.2 517.5 609.8 513.3 616.5 511.7 620.0 510.0M529.1 680.0 529.1 677.5 531.6 685.0 529.1 690.8 523.2 695.8 516.6 693.3 509.9 697.5 501.6 701.6 493.3 706.6 488.3 707.5 487.4 700.0 482.4 695.0M531.6 685.0 539.9 685.8 549.9 682.5 556.6 682.5 558.2 688.3 563.2 690.0 566.5 695.8 573.2 698.3 579.9 700.8 586.5 705.8 589.9 711.6 588.2 718.3 589.9 723.3 594.9 719.1 603.2 716.6 612.3 713.3 615.7 720.0 615.7 727.5M612.3 713.3 611.5 705.0 614.0 696.6 620.0 694.1M620.0 510.0 611.7 513.0 617.5 512.5M645.0 543.3 644.6 538.6 638.3 538.3 631.6 538.3 629.1 543.3 626.6 549.9 629.6 554.1 626.6 559.9 623.3 564.9 620.0 571.6 620.8 575.8 625.8 577.4 630.0 583.2 631.6 588.2 630.8 594.9 630.0 596.6M620.0 594.9 623.3 594.9 630.8 598.2 638.3 601.6 644.1 604.1 648.3 608.2 651.6 605.7 658.3 603.2 666.6 603.2 669.9 599.9 669.9 594.9 674.9 592.9 679.9 595.7 684.9 601.6 689.9 604.1 696.6 597.4 703.2 599.1 709.9 601.6 714.9 604.1M620.0 631.5 625.0 632.4 630.0 637.4 633.3 644.9 636.6 653.2 641.6 659.0 644.1 660.0M620.0 694.1 626.6 691.6 631.6 685.8 637.5 685.0 640.0 680.8 633.3 678.3 633.3 674.1 638.3 668.3 644.1 665.0 650.0 665.0 655.0 670.0 658.3 672.5 664.1 672.5 668.3 677.5 669.9 680.0M644.1 660.0 644.1 665.0" fill="none" stroke="#808080" stroke-width="1.4" stroke-linejoin="round" stroke-linecap="round"/>
<path d="M578.6 46.3 581.3 50.8 583.0 55.8 588.3 60.8 590.8 66.6 593.3 70.8 593.0 74.1 595.0 76.6 590.8 78.6 593.6 82.5 598.3 85.8 595.0 88.3 598.6 85.3 600.8 84.1 608.3 84.6 613.3 86.3 617.4 88.0 623.3 87.1 626.6 86.3 629.1 88.3 628.6 92.5 625.3 96.6 621.6 99.6 621.3 104.1 618.3 106.9 613.3 108.6 610.8 113.3 604.9 117.4 602.4 121.6 597.5 124.1 593.6 127.9 595.0 132.4 595.0 136.6 599.1 138.3 602.4 140.7 598.6 144.9 600.8 148.2 605.8 149.9 608.3 154.9 611.3 160.7 612.9 164.1 616.6 161.6 621.6 159.6 624.9 161.2 629.1 158.6 634.1 160.2 637.4 162.4 643.2 160.2 647.4 164.1 653.2 167.4 659.1 168.2 655.7 170.7 654.9 175.7 656.2 179.1 654.9 182.4 658.2 185.7 663.2 187.4 667.4 187.4 669.1 193.2 668.6 199.9 666.2 206.5 665.2 213.2 662.4 220.0M665.7 210.0 664.9 215.0 661.5 220.0 659.5 225.8 655.7 230.8 660.7 235.0 664.0 240.0 665.7 243.3 671.5 246.6 676.5 250.8 680.2 256.3 679.5 263.3 673.2 264.6 669.0 265.8 666.5 269.1 661.5 270.0 664.0 273.6 660.7 271.3 656.5 267.5 653.2 266.6 650.7 263.3 646.5 265.0 642.9 265.8 641.9 270.8 639.1 273.3 638.2 276.6 634.9 281.6 635.7 285.8 637.4 289.9 633.2 293.3 632.4 296.3 627.4 296.6 624.1 296.3 619.1 298.3 613.2 299.9 608.2 301.6 605.2 304.9 604.1 309.9 601.6 313.2 597.4 314.1 594.1 315.2 593.3 319.9 590.8 322.4 593.3 324.9 596.6 327.4 598.6 332.4 598.3 337.4 599.9 343.2 599.6 346.6 594.9 347.4 591.3 346.9 588.3 349.1 584.1 347.9 582.4 351.5 580.8 354.9 581.9 359.0 579.9 362.4 582.4 364.0 586.3 366.5 584.6 370.2 579.9 371.5 578.3 376.5 577.4 383.2 578.6 390.0M500.0 381.5 511.7 371.5 516.7 351.5 527.5 348.2 538.3 345.2 540.8 354.0 548.3 358.2 556.6 359.5 558.6 350.7 566.6 351.5 573.3 355.7 575.3 360.7 573.3 366.5 571.6 370.7 578.3 371.5M575.3 360.7 579.9 360.7 584.1 362.4M499.9 381.5 492.4 386.6 489.1 403.3 483.3 406.9 477.5 411.6 477.5 422.4 475.0 431.6 470.8 437.4 465.3 441.9 465.3 448.2 468.3 453.2 471.6 458.2 470.0 462.4 464.1 464.6 460.8 466.6 459.6 471.5 455.8 469.9 451.6 471.5 447.5 473.5 447.0 481.5 444.1 489.9 440.8 498.2 436.7 501.5 434.2 505.7 438.3 510.0M579.0 371.6 577.4 380.0 576.5 385.0 578.2 390.0 575.7 395.8 574.0 401.6 575.7 406.6 572.4 409.9 570.7 414.9 574.0 418.3 577.4 423.3 579.0 429.9 582.4 435.7 578.2 439.1 582.4 443.2 584.0 446.6 580.7 449.9 584.0 454.1 588.2 456.6 592.4 459.1 591.5 464.9 594.0 469.9 596.5 474.9 599.0 468.2 600.7 473.2 603.2 477.4 608.2 476.5 611.5 479.9 613.2 486.5 611.5 493.2 614.8 496.5 616.5 503.2 618.2 510.0M438.3 510.0 445.0 512.5 450.8 516.7 450.8 520.8 441.6 525.0 439.2 526.6 438.7 533.3 436.7 538.3 437.5 545.0 436.7 553.3 439.2 560.0 440.0 566.6 449.1 566.6 453.3 569.9 458.3 579.9 462.5 588.3 465.8 596.6 467.5 604.9 473.3 606.6 479.1 605.7 484.1 609.9 487.4 614.9 484.1 619.1 481.6 624.1 483.3 631.6 489.9 636.6 496.6 640.7 495.8 649.9 493.3 655.7 486.6 656.5 484.1 662.4 482.4 669.9 478.3 676.5 474.1 680.0M474.1 680.0 474.1 681.7 482.4 685.8 482.9 691.6 478.3 696.6 471.6 702.5 465.0 705.8 460.0 710.0M460.0 710.0 455.8 707.5 450.0 703.3 445.0 699.6 440.0 701.6 438.3 709.1 432.5 711.6 428.3 710.0 420.0 712.5M460.0 710.0 463.6 712.5 469.1 711.6 471.6 717.5 468.3 720.0 470.0 725.0 475.0 730.8 481.6 734.9 488.3 736.6 494.9 734.1 503.3 734.9 509.9 735.8 516.6 740.8 519.6 744.9 520.7 753.3 524.1 757.4 521.6 761.6 526.6 760.8 533.2 761.6 538.2 761.6 544.1 764.9 546.6 760.8 549.9 754.9 554.9 754.1 561.5 759.1 566.5 761.6 567.4 753.3 573.2 749.9 577.4 741.6 584.0 741.6 587.4 734.9 593.2 730.8 599.9 731.3 608.2 730.0 614.8 729.6 620.0 728.3M618.2 510.0 620.8 512.5 625.0 516.6 630.0 520.0 634.1 519.6 639.1 525.0 643.6 524.1 646.6 530.0 647.0 536.6 648.3 542.4 652.5 542.4 654.1 537.5 658.3 535.0 664.1 535.3 668.3 540.8 673.3 547.4 677.4 551.6 683.3 554.1 686.6 554.9 688.3 558.3 691.6 556.6 695.8 557.4 699.1 554.9 703.2 551.3 707.4 554.9 713.2 557.4 718.2 558.3 719.9 562.4 722.4 556.6 725.7 559.9 724.1 564.9 719.1 568.3 716.6 571.6 720.7 574.1 718.2 579.1 721.2 584.1 719.9 588.2 714.9 590.7 714.6 598.2 714.9 604.9 719.9 607.9 716.6 611.6 714.9 614.9 709.9 619.9 704.9 624.0 699.9 625.7 696.6 630.7 692.4 636.5 687.4 639.9 686.6 643.2 691.6 645.7 689.9 653.2 687.4 660.0M711.9 606.2 716.6 604.1 720.7 607.9 716.6 610.2 711.9 606.2M687.4 660.0 689.1 656.7 686.6 665.0 682.4 670.0 678.3 675.0 673.3 678.3 669.9 680.0 667.4 685.0 669.9 689.1 664.1 691.6 661.6 695.0 664.9 699.1 669.9 702.5 669.1 707.5 664.1 713.3 661.6 718.3 662.4 724.9 664.1 733.3 664.9 743.3 664.9 753.2 664.6 758.2M620.0 728.3 625.0 730.8 630.8 733.3 633.3 739.1 639.1 741.6 639.1 745.8 645.0 748.3 650.0 752.4 655.0 754.1 660.0 754.9 664.6 758.2M664.6 758.2 666.6 755.2 673.3 755.2 678.3 754.6 682.4 750.7 685.8 748.3 689.1 749.9 691.6 753.2 696.6 754.9 700.7 754.9 704.1 758.2 708.2 762.4 714.9 764.9 719.9 769.9 724.9 773.2 731.6 776.6 735.7 781.6 731.6 783.2 728.2 785.7 729.1 790.7 733.2 794.9 736.6 797.4 743.2 799.0 746.5 803.2 746.5 808.2 750.7 809.9 750.7 814.0 746.5 817.4 741.5 815.7 738.2 818.2 739.9 823.2 744.9 826.5 748.2 830.0M749.1 830.0 747.5 835.8 752.5 841.6 756.6 846.6 761.6 849.1 767.5 854.1 771.6 858.3 776.6 860.0 775.8 865.8 773.3 871.6 778.3 873.3 784.1 877.4 783.3 883.3 784.1 890.8 786.6 895.8 795.8 893.6 799.1 900.7 795.8 906.6 792.4 911.6 794.9 917.4 801.6 924.9 809.9 924.1 818.3 923.2 824.1 926.6 831.6 929.9 837.4 932.4 842.4 929.1 841.6 919.9 847.4 916.6 844.1 906.6 839.1 898.3 846.6 892.4 851.6 895.8 858.2 899.9 866.5 896.6 869.9 892.4 875.7 892.4 879.9 898.3 884.0 903.2 889.9 899.9 895.7 904.1 900.7 909.1 904.0 911.6 907.3 909.9 911.5 910.2M911.5 910.2 911.2 915.0 909.4 921.2 911.2 924.9 910.6 928.7 913.7 934.9 916.2 941.2 915.6 947.4 916.2 951.8 920.0 954.7 924.3 953.0 925.0 949.3 928.7 946.2 933.1 944.3 931.8 939.9 929.3 936.2 930.0 931.8 933.7 931.2 936.8 929.3 940.6 931.8 937.5 935.6 937.5 939.3 941.2 938.1 945.6 938.1 948.1 943.7 951.8 946.8 957.4 949.9 959.3 946.2 963.1 944.9 966.8 943.7 970.5 947.4 972.4 953.0 974.9 948.7 979.9 946.8 984.9 945.6 989.3 944.3 993.7 946.8 998.0 948.7 1003.6 948.7 1004.9 953.0 1010.5 951.2M83.3 364.1 90.0 357.5 93.7 353.3 96.3 360.3 105.0 361.3 113.3 361.6 116.6 369.1 120.8 370.0 115.8 373.3 111.6 380.0 111.3 388.3 112.5 396.6 110.0 397.4 106.6 393.3 103.3 392.9 100.3 397.4 101.3 403.3 100.0 409.9 95.0 411.6 92.5 414.1 95.8 417.4 96.3 422.4 100.0 425.8 96.7 430.7 93.3 435.7 92.5 443.2 91.7 451.6 89.2 457.4 83.3 461.6M83.3 474.5 93.3 476.5 101.6 479.0 105.8 486.5 113.3 494.0 116.6 499.9 115.8 506.5 115.0 510.0M115.0 510.0 115.8 506.7 112.5 515.0 106.6 523.3 104.1 528.3 105.8 538.3 110.8 543.3 111.6 551.6 108.3 560.0 105.8 566.6 108.3 569.9 113.3 568.3 119.1 570.8 125.0 572.4 133.3 571.6 138.3 568.3 142.4 564.1 149.9 563.6 156.6 564.6 161.6 569.9 166.6 574.9 174.9 579.9 184.9 585.8 193.2 584.9 196.6 589.9 199.9 596.6 204.1 603.2 204.9 610.7 212.4 614.9 214.9 611.2 219.1 613.2 220.7 624.1 229.9 624.9 236.5 624.9 239.9 627.4 249.9 628.2 258.2 624.1 263.2 629.9 271.5 638.2 280.0 646.5M280.0 646.5 282.5 648.0 276.7 652.5 272.0 661.6 275.3 671.6 285.0 668.3 287.0 660.3 295.0 664.1 304.1 668.3 311.6 675.8 318.3 682.4 320.8 692.4 322.4 696.6 326.9 697.9 325.8 702.4 322.4 705.7 327.4 710.7 331.6 715.7 330.8 721.6 324.6 724.9 329.9 729.9 332.4 736.6 338.3 731.6 346.6 730.7 356.6 727.9 360.7 724.1 364.6 719.6 371.6 719.9 379.1 722.4 382.4 728.2 384.9 732.4 388.2 724.9 387.9 718.6 392.4 713.2 395.7 708.2 399.9 705.7 404.0 705.2 406.5 707.4 413.2 709.1 420.0 712.4" fill="none" stroke="#000" stroke-width="3.2" stroke-linejoin="round" stroke-linecap="round"/>
<path d="M85.5 1037.8L94.6 1046.5H85.5Z" fill="#808080"/>
<circle cx="732.1" cy="386.8" r="5" fill="#f00" stroke="#000" stroke-width="1"/>
</g>
<rect x="85.5" y="45.5" width="925" height="1001" fill="none" stroke="#000" stroke-width="1.1"/>
<text transform="translate(547.6 38.3) scale(0.962 1)" font-size="36.2" text-anchor="middle">21.10.2025 19:48 UTC</text>
<rect x="97.6" y="57.6" width="218.4" height="49.8" fill="#fff" stroke="#000" stroke-width="1.2"/>
<g font-size="17.5"><text transform="translate(102.9 76.9) scale(0.952 1)">Product: 0.5° Reflectivity</text><text transform="translate(102.9 96.9) scale(0.952 1)">Data: DWD</text></g>
<g font-size="17.5" text-anchor="end">
<text transform="translate(77.9 167) scale(0.952 1)">50.5°N</text><text transform="translate(77.9 311.6) scale(0.952 1)">50.25°N</text><text transform="translate(77.9 455.5) scale(0.952 1)">50°N</text><text transform="translate(77.9 598.6) scale(0.952 1)">49.75°N</text><text transform="translate(77.9 741) scale(0.952 1)">49.5°N</text><text transform="translate(77.9 882.7) scale(0.952 1)">49.25°N</text><text transform="translate(77.9 1023.6) scale(0.952 1)">49°N</text>
</g>
<g font-size="17.5" text-anchor="middle">
<text transform="translate(159.5 1067.6) scale(0.952 1)">5°E</text><text transform="translate(344.5 1067.6) scale(0.952 1)">5.5°E</text><text transform="translate(529.5 1067.6) scale(0.952 1)">6°E</text><text transform="translate(714.5 1067.6) scale(0.952 1)">6.5°E</text><text transform="translate(899.5 1067.6) scale(0.952 1)">7°E</text>
</g>
<g shape-rendering="crispEdges">
<rect x="1068.5" y="964.23" width="45.3" height="32.57" fill="#6878AA"/><rect x="1068.5" y="932.05" width="45.3" height="32.57" fill="#5569A5"/><rect x="1068.5" y="899.88" width="45.3" height="32.57" fill="#4560A5"/><rect x="1068.5" y="867.70" width="45.3" height="32.57" fill="#4C80B5"/><rect x="1068.5" y="835.52" width="45.3" height="32.57" fill="#5AA0C8"/><rect x="1068.5" y="803.35" width="45.3" height="32.57" fill="#66C0DC"/><rect x="1068.5" y="771.17" width="45.3" height="32.57" fill="#64D5C3"/><rect x="1068.5" y="739.00" width="45.3" height="32.57" fill="#3DD670"/><rect x="1068.5" y="706.83" width="45.3" height="32.57" fill="#14C81E"/><rect x="1068.5" y="674.65" width="45.3" height="32.57" fill="#12B81C"/><rect x="1068.5" y="642.48" width="45.3" height="32.57" fill="#10A518"/><rect x="1068.5" y="610.30" width="45.3" height="32.57" fill="#0E9016"/><rect x="1068.5" y="578.12" width="45.3" height="32.57" fill="#0C7A12"/><rect x="1068.5" y="545.95" width="45.3" height="32.57" fill="#0A6410"/><rect x="1068.5" y="513.78" width="45.3" height="32.57" fill="#467A0A"/><rect x="1068.5" y="481.60" width="45.3" height="32.57" fill="#AFAF0A"/><rect x="1068.5" y="449.43" width="45.3" height="32.57" fill="#FFD700"/><rect x="1068.5" y="417.25" width="45.3" height="32.57" fill="#FFB400"/><rect x="1068.5" y="385.08" width="45.3" height="32.57" fill="#FF9600"/><rect x="1068.5" y="352.90" width="45.3" height="32.57" fill="#FF7D00"/><rect x="1068.5" y="320.73" width="45.3" height="32.57" fill="#E60000"/><rect x="1068.5" y="288.55" width="45.3" height="32.57" fill="#C30000"/><rect x="1068.5" y="256.38" width="45.3" height="32.57" fill="#A00000"/><rect x="1068.5" y="224.20" width="45.3" height="32.57" fill="#7D0000"/><rect x="1068.5" y="192.03" width="45.3" height="32.57" fill="#FFDCFF"/><rect x="1068.5" y="159.85" width="45.3" height="32.57" fill="#FFAFFF"/><rect x="1068.5" y="127.68" width="45.3" height="32.57" fill="#FF64FF"/><rect x="1068.5" y="95.50" width="45.3" height="32.57" fill="#EB32EB"/>
</g>
<rect x="1068.5" y="95.5" width="45.3" height="900.9" fill="none" stroke="#000" stroke-width="1.1"/>
<g stroke="#000" stroke-width="1.1"><path d="M1113.8 996.4h4.9"/><path d="M1113.8 867.7h4.9"/><path d="M1113.8 739h4.9"/><path d="M1113.8 610.3h4.9"/><path d="M1113.8 481.6h4.9"/><path d="M1113.8 352.9h4.9"/><path d="M1113.8 224.2h4.9"/><path d="M1113.8 95.5h4.9"/></g>
<g font-size="27.78">
<text x="1123.4" y="1006.7">0</text><text x="1123.4" y="878">10</text><text x="1123.4" y="749.3">20</text><text x="1123.4" y="620.6">30</text><text x="1123.4" y="491.9">40</text><text x="1123.4" y="363.2">50</text><text x="1123.4" y="234.5">60</text><text x="1123.4" y="105.8">70</text>
</g>
<text font-size="27.78" text-anchor="middle" transform="translate(1187.6 548.8) rotate(-90)">dBZ</text>
</svg>
</div>
</body></html>
